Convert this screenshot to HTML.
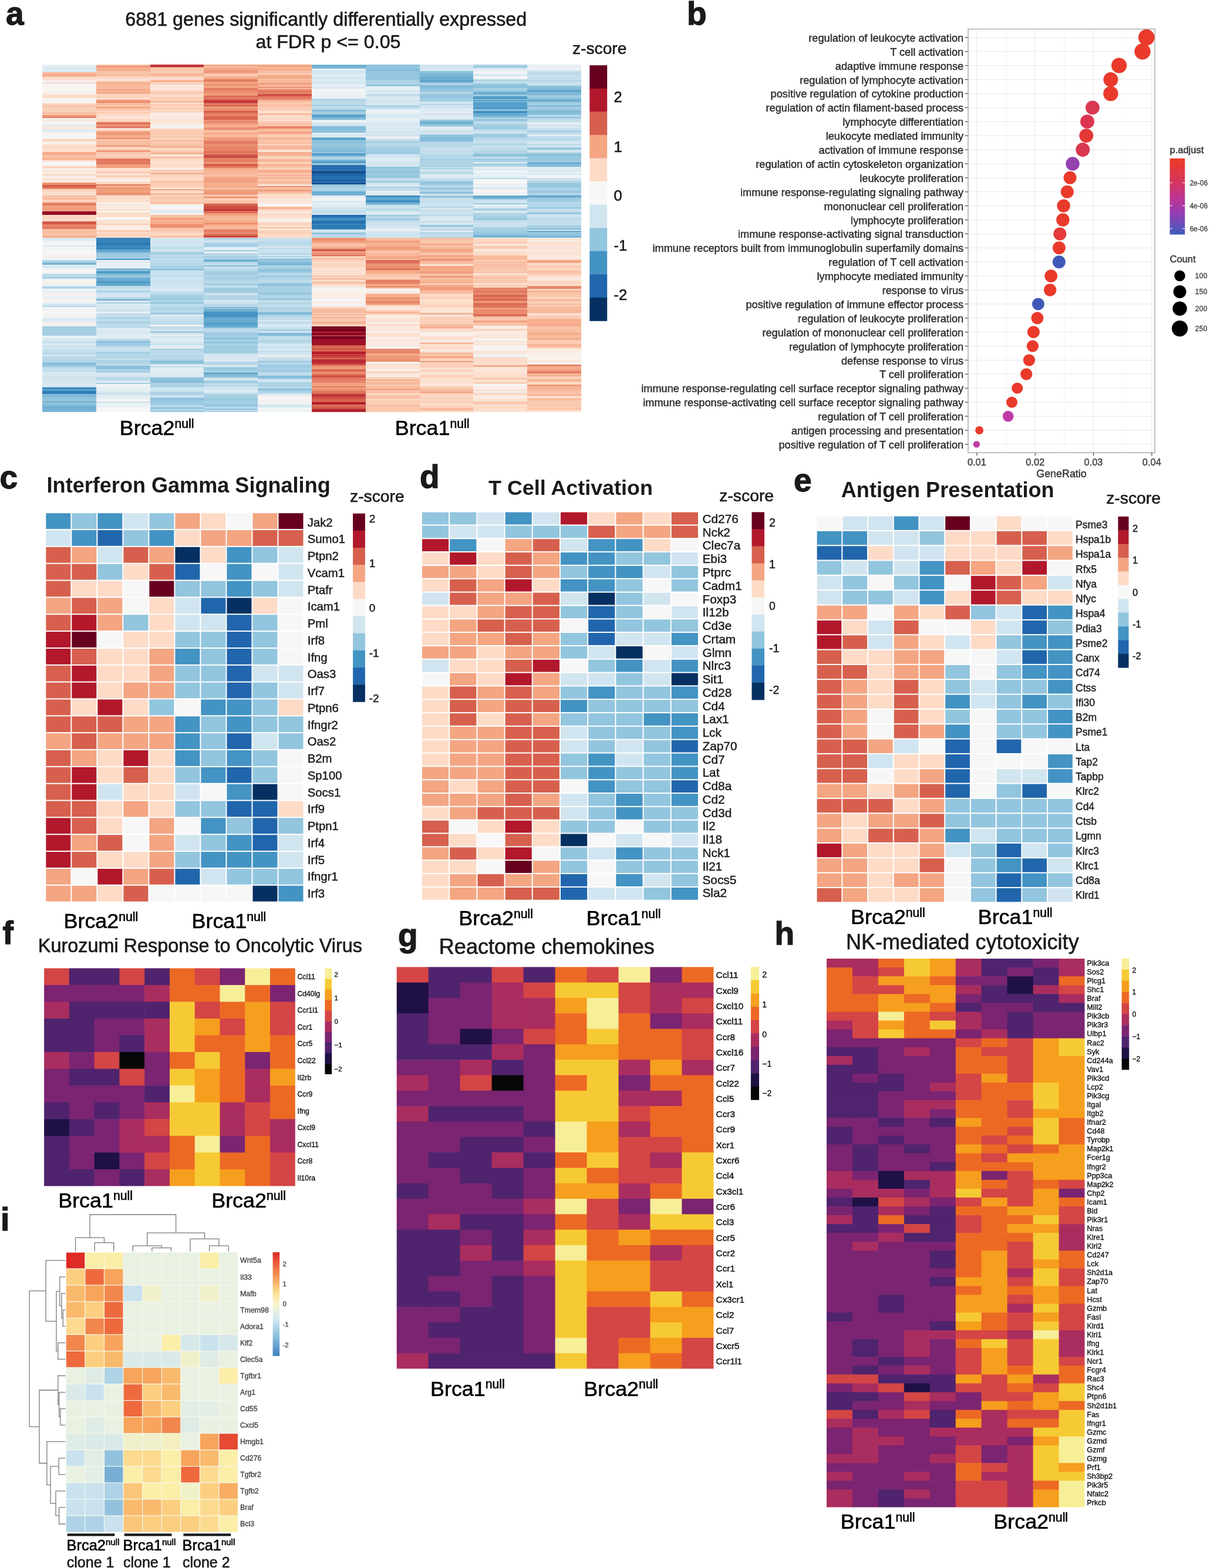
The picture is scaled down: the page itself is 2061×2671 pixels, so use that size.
<!DOCTYPE html>
<html><head><meta charset="utf-8"><title>Figure</title><style>html,body{margin:0;padding:0;background:#fff;width:2061px;height:2671px;overflow:hidden;}svg{display:block;}text{font-family:"Liberation Sans",Arial,sans-serif;}</style></head><body>
<svg width="2061" height="2671" viewBox="0 0 2061 2671">
<rect width="2061" height="2671" fill="#fff"/>
<g shape-rendering="crispEdges">
<rect x="72.00" y="109.50" width="92.10" height="2.80" fill="#ECF2F5"/>
<rect x="72.00" y="112.00" width="92.10" height="1.80" fill="#DBEAF2"/>
<rect x="72.00" y="113.50" width="92.10" height="1.80" fill="#E2EDF3"/>
<rect x="72.00" y="115.00" width="92.10" height="3.80" fill="#DAE9F2"/>
<rect x="72.00" y="118.50" width="92.10" height="1.80" fill="#E7EFF4"/>
<rect x="72.00" y="120.00" width="92.10" height="1.80" fill="#DBEAF2"/>
<rect x="72.00" y="121.50" width="92.10" height="1.66" fill="#D7E8F1"/>
<rect x="72.00" y="122.86" width="92.10" height="3.80" fill="#F7BA9D"/>
<rect x="72.00" y="126.36" width="92.10" height="3.30" fill="#F5AA89"/>
<rect x="72.00" y="129.36" width="92.10" height="2.30" fill="#F7B89A"/>
<rect x="72.00" y="131.36" width="92.10" height="4.30" fill="#FCDDCB"/>
<rect x="72.00" y="135.36" width="92.10" height="1.53" fill="#FCDECC"/>
<rect x="72.00" y="136.59" width="92.10" height="3.80" fill="#F0F4F6"/>
<rect x="72.00" y="140.09" width="92.10" height="1.80" fill="#FCD5BF"/>
<rect x="72.00" y="141.59" width="92.10" height="0.79" fill="#FBE3D4"/>
<rect x="72.00" y="142.08" width="92.10" height="2.30" fill="#EBF2F5"/>
<rect x="72.00" y="144.08" width="92.10" height="3.80" fill="#F8F3F1"/>
<rect x="72.00" y="147.58" width="92.10" height="5.30" fill="#F8F4F2"/>
<rect x="72.00" y="152.58" width="92.10" height="4.30" fill="#F8F4F2"/>
<rect x="72.00" y="156.58" width="92.10" height="3.66" fill="#F9EEE8"/>
<rect x="72.00" y="159.94" width="92.10" height="2.30" fill="#FAEAE1"/>
<rect x="72.00" y="161.94" width="92.10" height="1.80" fill="#FCD7C2"/>
<rect x="72.00" y="163.44" width="92.10" height="3.67" fill="#FDDCC8"/>
<rect x="72.00" y="166.81" width="92.10" height="4.30" fill="#F8F1ED"/>
<rect x="72.00" y="170.81" width="92.10" height="3.80" fill="#F2F5F6"/>
<rect x="72.00" y="174.31" width="92.10" height="2.41" fill="#F9F0EB"/>
<rect x="72.00" y="176.42" width="92.10" height="3.30" fill="#FCD5BF"/>
<rect x="72.00" y="179.42" width="92.10" height="2.30" fill="#F9C1A6"/>
<rect x="72.00" y="181.42" width="92.10" height="4.30" fill="#FACBB2"/>
<rect x="72.00" y="185.42" width="92.10" height="2.29" fill="#FCD4BD"/>
<rect x="72.00" y="187.41" width="92.10" height="3.80" fill="#FBD1BB"/>
<rect x="72.00" y="190.91" width="92.10" height="3.30" fill="#F9C0A5"/>
<rect x="72.00" y="193.91" width="92.10" height="2.04" fill="#FAC6AC"/>
<rect x="72.00" y="195.65" width="92.10" height="3.80" fill="#EC9374"/>
<rect x="72.00" y="199.15" width="92.10" height="2.29" fill="#E58368"/>
<rect x="72.00" y="201.14" width="92.10" height="3.30" fill="#F9EFE9"/>
<rect x="72.00" y="204.14" width="92.10" height="3.30" fill="#FAE9DE"/>
<rect x="72.00" y="207.14" width="92.10" height="5.30" fill="#F8F3F0"/>
<rect x="72.00" y="212.14" width="92.10" height="3.04" fill="#E0ECF3"/>
<rect x="72.00" y="214.88" width="92.10" height="2.80" fill="#FAEAE1"/>
<rect x="72.00" y="217.38" width="92.10" height="2.80" fill="#FBE6DA"/>
<rect x="72.00" y="219.88" width="92.10" height="0.79" fill="#F9EEE7"/>
<rect x="72.00" y="220.37" width="92.10" height="5.30" fill="#E0ECF3"/>
<rect x="72.00" y="225.37" width="92.10" height="2.80" fill="#F8F1ED"/>
<rect x="72.00" y="227.87" width="92.10" height="3.30" fill="#F6F7F7"/>
<rect x="72.00" y="230.87" width="92.10" height="4.30" fill="#F3F5F6"/>
<rect x="72.00" y="234.87" width="92.10" height="2.28" fill="#F2F4F6"/>
<rect x="72.00" y="236.86" width="92.10" height="4.30" fill="#FBD1BA"/>
<rect x="72.00" y="240.86" width="92.10" height="5.30" fill="#F9F0EB"/>
<rect x="72.00" y="245.86" width="92.10" height="4.30" fill="#FDDCCA"/>
<rect x="72.00" y="249.86" width="92.10" height="2.80" fill="#FCD3BD"/>
<rect x="72.00" y="252.36" width="92.10" height="2.30" fill="#FCE0D0"/>
<rect x="72.00" y="254.36" width="92.10" height="3.80" fill="#FCDFCE"/>
<rect x="72.00" y="257.86" width="92.10" height="1.28" fill="#FCDFCE"/>
<rect x="72.00" y="258.83" width="92.10" height="2.80" fill="#F5AC8A"/>
<rect x="72.00" y="261.33" width="92.10" height="3.30" fill="#F5AB8A"/>
<rect x="72.00" y="264.33" width="92.10" height="5.30" fill="#F9C0A5"/>
<rect x="72.00" y="269.33" width="92.10" height="3.30" fill="#F7B596"/>
<rect x="72.00" y="272.33" width="92.10" height="0.54" fill="#F7B799"/>
<rect x="72.00" y="272.57" width="92.10" height="3.30" fill="#FBE5D9"/>
<rect x="72.00" y="275.57" width="92.10" height="5.30" fill="#F5F6F7"/>
<rect x="72.00" y="280.57" width="92.10" height="2.80" fill="#F9EFE9"/>
<rect x="72.00" y="283.07" width="92.10" height="4.30" fill="#FCD6C1"/>
<rect x="72.00" y="287.07" width="92.10" height="2.30" fill="#F2F5F6"/>
<rect x="72.00" y="289.07" width="92.10" height="1.80" fill="#FAE7DC"/>
<rect x="72.00" y="290.57" width="92.10" height="2.30" fill="#FBE4D7"/>
<rect x="72.00" y="292.57" width="92.10" height="1.80" fill="#F7F7F7"/>
<rect x="72.00" y="294.07" width="92.10" height="2.80" fill="#FAE9DF"/>
<rect x="72.00" y="296.57" width="92.10" height="1.02" fill="#FCE1D1"/>
<rect x="72.00" y="297.29" width="92.10" height="2.80" fill="#FDDBC8"/>
<rect x="72.00" y="299.79" width="92.10" height="3.80" fill="#F8F1ED"/>
<rect x="72.00" y="303.29" width="92.10" height="4.30" fill="#FBE5D8"/>
<rect x="72.00" y="307.29" width="92.10" height="4.04" fill="#FAE9DF"/>
<rect x="72.00" y="311.02" width="92.10" height="4.30" fill="#EB9172"/>
<rect x="72.00" y="315.02" width="92.10" height="4.30" fill="#D55E4C"/>
<rect x="72.00" y="319.02" width="92.10" height="3.29" fill="#E37D63"/>
<rect x="72.00" y="322.01" width="92.10" height="5.30" fill="#FCD6C1"/>
<rect x="72.00" y="327.01" width="92.10" height="3.30" fill="#FCDECD"/>
<rect x="72.00" y="330.01" width="92.10" height="3.30" fill="#FDDCC8"/>
<rect x="72.00" y="333.01" width="92.10" height="3.03" fill="#F8BFA3"/>
<rect x="72.00" y="335.75" width="92.10" height="1.80" fill="#FCD4BE"/>
<rect x="72.00" y="337.25" width="92.10" height="3.30" fill="#F7B698"/>
<rect x="72.00" y="340.25" width="92.10" height="2.30" fill="#FCD4BF"/>
<rect x="72.00" y="342.25" width="92.10" height="1.80" fill="#FCD8C3"/>
<rect x="72.00" y="343.75" width="92.10" height="0.54" fill="#F9ECE5"/>
<rect x="72.00" y="343.99" width="92.10" height="2.80" fill="#F6B394"/>
<rect x="72.00" y="346.49" width="92.10" height="3.80" fill="#E27C62"/>
<rect x="72.00" y="349.99" width="92.10" height="3.80" fill="#F3A381"/>
<rect x="72.00" y="353.49" width="92.10" height="3.30" fill="#F2A07E"/>
<rect x="72.00" y="356.49" width="92.10" height="2.80" fill="#F09C7B"/>
<rect x="72.00" y="358.99" width="92.10" height="1.78" fill="#F6B090"/>
<rect x="72.00" y="360.47" width="92.10" height="5.30" fill="#950F26"/>
<rect x="72.00" y="365.47" width="92.10" height="0.79" fill="#820923"/>
<rect x="72.00" y="365.96" width="92.10" height="3.30" fill="#FDDCC9"/>
<rect x="72.00" y="368.96" width="92.10" height="2.80" fill="#FCD5BF"/>
<rect x="72.00" y="371.46" width="92.10" height="2.80" fill="#FCD8C3"/>
<rect x="72.00" y="373.96" width="92.10" height="3.29" fill="#FDDDCB"/>
<rect x="72.00" y="376.95" width="92.10" height="2.30" fill="#D7624E"/>
<rect x="72.00" y="378.95" width="92.10" height="3.80" fill="#D05447"/>
<rect x="72.00" y="382.45" width="92.10" height="3.80" fill="#E6856A"/>
<rect x="72.00" y="385.95" width="92.10" height="2.80" fill="#E27C62"/>
<rect x="72.00" y="388.45" width="92.10" height="1.80" fill="#E0765E"/>
<rect x="72.00" y="389.95" width="92.10" height="1.04" fill="#F9C5AB"/>
<rect x="72.00" y="390.69" width="92.10" height="5.30" fill="#F8BEA2"/>
<rect x="72.00" y="395.69" width="92.10" height="1.80" fill="#F7BA9D"/>
<rect x="72.00" y="397.19" width="92.10" height="2.80" fill="#F9C3A8"/>
<rect x="72.00" y="399.69" width="92.10" height="2.30" fill="#F8BDA1"/>
<rect x="72.00" y="401.69" width="92.10" height="3.04" fill="#F5AB89"/>
<rect x="72.00" y="404.60" width="92.10" height="5.30" fill="#DBEAF2"/>
<rect x="72.00" y="409.60" width="92.10" height="3.80" fill="#EDF2F5"/>
<rect x="72.00" y="413.10" width="92.10" height="5.30" fill="#F3F5F6"/>
<rect x="72.00" y="418.10" width="92.10" height="2.30" fill="#D8E8F1"/>
<rect x="72.00" y="420.10" width="92.10" height="5.30" fill="#EEF3F5"/>
<rect x="72.00" y="425.10" width="92.10" height="5.30" fill="#F8F5F3"/>
<rect x="72.00" y="430.10" width="92.10" height="2.30" fill="#F2F5F6"/>
<rect x="72.00" y="432.10" width="92.10" height="4.30" fill="#F8F4F1"/>
<rect x="72.00" y="436.10" width="92.10" height="1.80" fill="#F9EDE6"/>
<rect x="72.00" y="437.60" width="92.10" height="3.30" fill="#ECF2F5"/>
<rect x="72.00" y="440.60" width="92.10" height="2.58" fill="#F3F5F6"/>
<rect x="72.00" y="442.88" width="92.10" height="2.80" fill="#B3D6E7"/>
<rect x="72.00" y="445.38" width="92.10" height="3.30" fill="#A4CEE3"/>
<rect x="72.00" y="448.38" width="92.10" height="2.80" fill="#71B0D3"/>
<rect x="72.00" y="450.88" width="92.10" height="0.54" fill="#A0CCE2"/>
<rect x="72.00" y="451.12" width="92.10" height="3.30" fill="#E0ECF3"/>
<rect x="72.00" y="454.12" width="92.10" height="2.30" fill="#D5E7F1"/>
<rect x="72.00" y="456.12" width="92.10" height="3.80" fill="#EAF1F5"/>
<rect x="72.00" y="459.62" width="92.10" height="5.30" fill="#F7F5F4"/>
<rect x="72.00" y="464.62" width="92.10" height="2.80" fill="#DDEBF2"/>
<rect x="72.00" y="467.12" width="92.10" height="0.78" fill="#CCE2EF"/>
<rect x="72.00" y="467.60" width="92.10" height="1.80" fill="#9DCBE1"/>
<rect x="72.00" y="469.10" width="92.10" height="3.30" fill="#C4DEEC"/>
<rect x="72.00" y="472.10" width="92.10" height="2.67" fill="#9AC9E0"/>
<rect x="72.00" y="474.47" width="92.10" height="2.30" fill="#DCEAF2"/>
<rect x="72.00" y="476.47" width="92.10" height="1.80" fill="#F5F6F7"/>
<rect x="72.00" y="477.97" width="92.10" height="5.30" fill="#F9F0EB"/>
<rect x="72.00" y="482.97" width="92.10" height="3.30" fill="#E6EFF4"/>
<rect x="72.00" y="485.97" width="92.10" height="2.54" fill="#EDF2F5"/>
<rect x="72.00" y="488.21" width="92.10" height="2.30" fill="#A9D1E5"/>
<rect x="72.00" y="490.21" width="92.10" height="2.30" fill="#B7D8E9"/>
<rect x="72.00" y="492.21" width="92.10" height="0.42" fill="#B2D5E7"/>
<rect x="72.00" y="492.33" width="92.10" height="3.30" fill="#F0F4F6"/>
<rect x="72.00" y="495.33" width="92.10" height="5.30" fill="#E6EFF4"/>
<rect x="72.00" y="500.33" width="92.10" height="3.80" fill="#F8F0EC"/>
<rect x="72.00" y="503.83" width="92.10" height="2.80" fill="#EBF1F5"/>
<rect x="72.00" y="506.33" width="92.10" height="2.30" fill="#E7EFF4"/>
<rect x="72.00" y="508.33" width="92.10" height="1.80" fill="#EBF1F5"/>
<rect x="72.00" y="509.83" width="92.10" height="5.30" fill="#F8F1EC"/>
<rect x="72.00" y="514.83" width="92.10" height="2.52" fill="#EAF1F5"/>
<rect x="72.00" y="517.05" width="92.10" height="4.30" fill="#D1E5F0"/>
<rect x="72.00" y="521.05" width="92.10" height="1.79" fill="#B4D6E8"/>
<rect x="72.00" y="522.54" width="92.10" height="2.30" fill="#F5F6F7"/>
<rect x="72.00" y="524.54" width="92.10" height="2.80" fill="#E9F1F5"/>
<rect x="72.00" y="527.04" width="92.10" height="2.30" fill="#EFF3F5"/>
<rect x="72.00" y="529.04" width="92.10" height="3.80" fill="#F8F4F2"/>
<rect x="72.00" y="532.54" width="92.10" height="2.80" fill="#F1F4F6"/>
<rect x="72.00" y="535.04" width="92.10" height="2.30" fill="#F8F1ED"/>
<rect x="72.00" y="537.04" width="92.10" height="1.80" fill="#F8F4F1"/>
<rect x="72.00" y="538.54" width="92.10" height="3.30" fill="#EBF1F5"/>
<rect x="72.00" y="541.54" width="92.10" height="4.30" fill="#D9E9F1"/>
<rect x="72.00" y="545.54" width="92.10" height="3.30" fill="#E3EEF3"/>
<rect x="72.00" y="548.54" width="92.10" height="5.30" fill="#F8F1ED"/>
<rect x="72.00" y="553.54" width="92.10" height="2.26" fill="#EAF1F5"/>
<rect x="72.00" y="555.51" width="92.10" height="2.30" fill="#A1CCE2"/>
<rect x="72.00" y="557.51" width="92.10" height="3.30" fill="#A4CEE3"/>
<rect x="72.00" y="560.51" width="92.10" height="5.30" fill="#A6CFE4"/>
<rect x="72.00" y="565.51" width="92.10" height="5.30" fill="#A7CFE4"/>
<rect x="72.00" y="570.51" width="92.10" height="1.78" fill="#B0D4E7"/>
<rect x="72.00" y="571.99" width="92.10" height="4.30" fill="#EAF1F5"/>
<rect x="72.00" y="575.99" width="92.10" height="1.80" fill="#D2E6F0"/>
<rect x="72.00" y="577.49" width="92.10" height="3.80" fill="#D9E9F1"/>
<rect x="72.00" y="580.99" width="92.10" height="3.80" fill="#C2DDEC"/>
<rect x="72.00" y="584.49" width="92.10" height="1.80" fill="#D5E7F1"/>
<rect x="72.00" y="585.99" width="92.10" height="2.78" fill="#E5EEF4"/>
<rect x="72.00" y="588.47" width="92.10" height="1.80" fill="#C2DDEC"/>
<rect x="72.00" y="589.97" width="92.10" height="5.30" fill="#D0E5F0"/>
<rect x="72.00" y="594.97" width="92.10" height="1.80" fill="#CAE2EE"/>
<rect x="72.00" y="596.47" width="92.10" height="5.30" fill="#C3DEEC"/>
<rect x="72.00" y="601.47" width="92.10" height="2.80" fill="#B8D8E9"/>
<rect x="72.00" y="603.97" width="92.10" height="3.80" fill="#D6E8F1"/>
<rect x="72.00" y="607.47" width="92.10" height="2.30" fill="#B8D8E9"/>
<rect x="72.00" y="609.47" width="92.10" height="4.02" fill="#B9D9E9"/>
<rect x="72.00" y="613.19" width="92.10" height="5.30" fill="#B1D5E7"/>
<rect x="72.00" y="618.19" width="92.10" height="3.30" fill="#84BCD9"/>
<rect x="72.00" y="621.19" width="92.10" height="3.80" fill="#97C7DF"/>
<rect x="72.00" y="624.69" width="92.10" height="2.54" fill="#BFDCEB"/>
<rect x="72.00" y="626.93" width="92.10" height="2.30" fill="#C3DEEC"/>
<rect x="72.00" y="628.93" width="92.10" height="5.30" fill="#C3DEEC"/>
<rect x="72.00" y="633.93" width="92.10" height="3.30" fill="#D9E9F2"/>
<rect x="72.00" y="636.93" width="92.10" height="1.29" fill="#CBE2EE"/>
<rect x="72.00" y="637.92" width="92.10" height="3.30" fill="#D8E8F1"/>
<rect x="72.00" y="640.92" width="92.10" height="1.80" fill="#C4DEEC"/>
<rect x="72.00" y="642.42" width="92.10" height="1.80" fill="#D1E5F0"/>
<rect x="72.00" y="643.92" width="92.10" height="5.30" fill="#D2E6F0"/>
<rect x="72.00" y="648.92" width="92.10" height="4.30" fill="#D7E8F1"/>
<rect x="72.00" y="652.92" width="92.10" height="2.80" fill="#D7E8F1"/>
<rect x="72.00" y="655.42" width="92.10" height="3.30" fill="#DBEAF2"/>
<rect x="72.00" y="658.42" width="92.10" height="1.78" fill="#BFDCEB"/>
<rect x="72.00" y="659.89" width="92.10" height="3.30" fill="#3784BB"/>
<rect x="72.00" y="662.89" width="92.10" height="2.30" fill="#67AACF"/>
<rect x="72.00" y="664.89" width="92.10" height="2.30" fill="#3B89BE"/>
<rect x="72.00" y="666.89" width="92.10" height="4.29" fill="#307AB6"/>
<rect x="72.00" y="670.88" width="92.10" height="2.80" fill="#85BDD9"/>
<rect x="72.00" y="673.38" width="92.10" height="3.30" fill="#7FB9D7"/>
<rect x="72.00" y="676.38" width="92.10" height="4.30" fill="#8DC2DC"/>
<rect x="72.00" y="680.38" width="92.10" height="2.80" fill="#98C8E0"/>
<rect x="72.00" y="682.88" width="92.10" height="3.30" fill="#7BB7D6"/>
<rect x="72.00" y="685.88" width="92.10" height="4.30" fill="#8FC3DD"/>
<rect x="72.00" y="689.88" width="92.10" height="3.80" fill="#7AB6D6"/>
<rect x="72.00" y="693.38" width="92.10" height="2.80" fill="#6DAED1"/>
<rect x="72.00" y="695.88" width="92.10" height="5.30" fill="#76B4D5"/>
<rect x="72.00" y="700.88" width="92.10" height="0.92" fill="#84BCD9"/>
<rect x="163.80" y="109.50" width="92.10" height="2.80" fill="#F8BCA0"/>
<rect x="163.80" y="112.00" width="92.10" height="2.80" fill="#EF9979"/>
<rect x="163.80" y="114.50" width="92.10" height="2.80" fill="#F6B394"/>
<rect x="163.80" y="117.00" width="92.10" height="4.78" fill="#F5AE8D"/>
<rect x="163.80" y="121.48" width="92.10" height="4.30" fill="#F9C3A8"/>
<rect x="163.80" y="125.48" width="92.10" height="5.30" fill="#F8BFA3"/>
<rect x="163.80" y="130.48" width="92.10" height="3.80" fill="#FCD7C2"/>
<rect x="163.80" y="133.98" width="92.10" height="3.80" fill="#FBE3D5"/>
<rect x="163.80" y="137.48" width="92.10" height="1.80" fill="#FDDCC9"/>
<rect x="163.80" y="138.98" width="92.10" height="2.03" fill="#F7B698"/>
<rect x="163.80" y="140.71" width="92.10" height="3.30" fill="#F6B191"/>
<rect x="163.80" y="143.71" width="92.10" height="1.80" fill="#F8BB9E"/>
<rect x="163.80" y="145.21" width="92.10" height="1.80" fill="#F7B79A"/>
<rect x="163.80" y="146.71" width="92.10" height="5.30" fill="#F8BCA0"/>
<rect x="163.80" y="151.71" width="92.10" height="2.30" fill="#F2A17F"/>
<rect x="163.80" y="153.71" width="92.10" height="1.80" fill="#F8BC9F"/>
<rect x="163.80" y="155.21" width="92.10" height="1.80" fill="#F6B292"/>
<rect x="163.80" y="156.71" width="92.10" height="2.80" fill="#F4A885"/>
<rect x="163.80" y="159.21" width="92.10" height="1.03" fill="#F8BC9F"/>
<rect x="163.80" y="159.94" width="92.10" height="3.80" fill="#FCD2BC"/>
<rect x="163.80" y="163.44" width="92.10" height="2.30" fill="#FBD2BB"/>
<rect x="163.80" y="165.44" width="92.10" height="1.80" fill="#FCD4BE"/>
<rect x="163.80" y="166.94" width="92.10" height="2.30" fill="#FCE0D0"/>
<rect x="163.80" y="168.94" width="92.10" height="0.91" fill="#FACAB2"/>
<rect x="163.80" y="169.55" width="92.10" height="3.80" fill="#F09B7A"/>
<rect x="163.80" y="173.05" width="92.10" height="2.29" fill="#E7876B"/>
<rect x="163.80" y="175.05" width="92.10" height="4.30" fill="#F7B89A"/>
<rect x="163.80" y="179.05" width="92.10" height="2.30" fill="#FBCFB8"/>
<rect x="163.80" y="181.05" width="92.10" height="2.80" fill="#F5AA88"/>
<rect x="163.80" y="183.55" width="92.10" height="1.80" fill="#F5AD8C"/>
<rect x="163.80" y="185.05" width="92.10" height="3.80" fill="#FAC8AF"/>
<rect x="163.80" y="188.55" width="92.10" height="2.30" fill="#FDD9C4"/>
<rect x="163.80" y="190.55" width="92.10" height="3.30" fill="#FBCCB4"/>
<rect x="163.80" y="193.55" width="92.10" height="1.80" fill="#FDD9C5"/>
<rect x="163.80" y="195.05" width="92.10" height="4.30" fill="#FCDECD"/>
<rect x="163.80" y="199.05" width="92.10" height="3.30" fill="#FBE6DA"/>
<rect x="163.80" y="202.05" width="92.10" height="3.80" fill="#FCD6C0"/>
<rect x="163.80" y="205.55" width="92.10" height="1.39" fill="#FDDDCA"/>
<rect x="163.80" y="206.64" width="92.10" height="2.80" fill="#F5AC8B"/>
<rect x="163.80" y="209.14" width="92.10" height="2.30" fill="#D55E4C"/>
<rect x="163.80" y="211.14" width="92.10" height="4.30" fill="#EB9072"/>
<rect x="163.80" y="215.14" width="92.10" height="2.30" fill="#E58267"/>
<rect x="163.80" y="217.14" width="92.10" height="0.79" fill="#D86450"/>
<rect x="163.80" y="217.63" width="92.10" height="5.30" fill="#FCDFCE"/>
<rect x="163.80" y="222.63" width="92.10" height="0.79" fill="#FCDFCE"/>
<rect x="163.80" y="223.12" width="92.10" height="2.80" fill="#F3A381"/>
<rect x="163.80" y="225.62" width="92.10" height="4.30" fill="#EF9979"/>
<rect x="163.80" y="229.62" width="92.10" height="5.30" fill="#F6AE8E"/>
<rect x="163.80" y="234.62" width="92.10" height="2.54" fill="#E8896D"/>
<rect x="163.80" y="236.86" width="92.10" height="3.80" fill="#FACAB1"/>
<rect x="163.80" y="240.36" width="92.10" height="3.30" fill="#F8BC9F"/>
<rect x="163.80" y="243.36" width="92.10" height="2.30" fill="#F8C0A4"/>
<rect x="163.80" y="245.36" width="92.10" height="2.80" fill="#F8BA9D"/>
<rect x="163.80" y="247.86" width="92.10" height="2.80" fill="#EE9878"/>
<rect x="163.80" y="250.36" width="92.10" height="3.80" fill="#FCD7C1"/>
<rect x="163.80" y="253.86" width="92.10" height="2.80" fill="#FAC9B0"/>
<rect x="163.80" y="256.36" width="92.10" height="2.80" fill="#EF9878"/>
<rect x="163.80" y="258.86" width="92.10" height="2.30" fill="#FACBB3"/>
<rect x="163.80" y="260.86" width="92.10" height="3.30" fill="#FACAB2"/>
<rect x="163.80" y="263.86" width="92.10" height="1.80" fill="#FCDECC"/>
<rect x="163.80" y="265.36" width="92.10" height="2.30" fill="#FAC7AE"/>
<rect x="163.80" y="267.36" width="92.10" height="2.30" fill="#FBCDB5"/>
<rect x="163.80" y="269.36" width="92.10" height="0.76" fill="#FACBB3"/>
<rect x="163.80" y="269.82" width="92.10" height="5.30" fill="#E17961"/>
<rect x="163.80" y="274.82" width="92.10" height="1.80" fill="#E48166"/>
<rect x="163.80" y="276.32" width="92.10" height="3.30" fill="#E17A61"/>
<rect x="163.80" y="279.32" width="92.10" height="2.30" fill="#E98B6E"/>
<rect x="163.80" y="281.32" width="92.10" height="1.80" fill="#F4A683"/>
<rect x="163.80" y="282.82" width="92.10" height="3.78" fill="#F09C7B"/>
<rect x="163.80" y="286.30" width="92.10" height="2.30" fill="#FDDCC8"/>
<rect x="163.80" y="288.30" width="92.10" height="3.80" fill="#FCE0CF"/>
<rect x="163.80" y="291.80" width="92.10" height="3.30" fill="#FAC9B1"/>
<rect x="163.80" y="294.80" width="92.10" height="2.79" fill="#FBE2D4"/>
<rect x="163.80" y="297.29" width="92.10" height="2.30" fill="#FCE1D2"/>
<rect x="163.80" y="299.29" width="92.10" height="2.30" fill="#FAC9B0"/>
<rect x="163.80" y="301.29" width="92.10" height="1.80" fill="#FCD5BF"/>
<rect x="163.80" y="302.79" width="92.10" height="3.80" fill="#F9ECE4"/>
<rect x="163.80" y="306.29" width="92.10" height="4.30" fill="#F9ECE4"/>
<rect x="163.80" y="310.29" width="92.10" height="3.78" fill="#FCD6C0"/>
<rect x="163.80" y="313.77" width="92.10" height="2.30" fill="#E27B62"/>
<rect x="163.80" y="315.77" width="92.10" height="3.80" fill="#F6AF8E"/>
<rect x="163.80" y="319.27" width="92.10" height="5.30" fill="#EF9B7A"/>
<rect x="163.80" y="324.27" width="92.10" height="4.30" fill="#F2A07E"/>
<rect x="163.80" y="328.27" width="92.10" height="3.80" fill="#EB9173"/>
<rect x="163.80" y="331.77" width="92.10" height="1.53" fill="#F7BA9D"/>
<rect x="163.80" y="333.00" width="92.10" height="4.30" fill="#FDDBC8"/>
<rect x="163.80" y="337.00" width="92.10" height="2.30" fill="#FCD8C3"/>
<rect x="163.80" y="339.00" width="92.10" height="4.30" fill="#FCDECD"/>
<rect x="163.80" y="343.00" width="92.10" height="1.29" fill="#FCD6C0"/>
<rect x="163.80" y="343.99" width="92.10" height="3.30" fill="#F8F1ED"/>
<rect x="163.80" y="346.99" width="92.10" height="4.30" fill="#FAE9E0"/>
<rect x="163.80" y="350.99" width="92.10" height="3.80" fill="#FAE9DF"/>
<rect x="163.80" y="354.49" width="92.10" height="1.80" fill="#F9EFE9"/>
<rect x="163.80" y="355.99" width="92.10" height="3.30" fill="#FCE0CF"/>
<rect x="163.80" y="358.99" width="92.10" height="3.80" fill="#F8F4F1"/>
<rect x="163.80" y="362.49" width="92.10" height="3.80" fill="#FDDBC6"/>
<rect x="163.80" y="365.99" width="92.10" height="4.30" fill="#FCDECC"/>
<rect x="163.80" y="369.99" width="92.10" height="4.30" fill="#F7F6F5"/>
<rect x="163.80" y="373.99" width="92.10" height="5.30" fill="#FCE2D2"/>
<rect x="163.80" y="378.99" width="92.10" height="2.80" fill="#FBE3D5"/>
<rect x="163.80" y="381.49" width="92.10" height="2.30" fill="#FBCFB7"/>
<rect x="163.80" y="383.49" width="92.10" height="4.30" fill="#FAEBE2"/>
<rect x="163.80" y="387.49" width="92.10" height="5.30" fill="#F9EDE6"/>
<rect x="163.80" y="392.49" width="92.10" height="3.30" fill="#FACAB1"/>
<rect x="163.80" y="395.49" width="92.10" height="2.80" fill="#FDDBC7"/>
<rect x="163.80" y="397.99" width="92.10" height="5.30" fill="#FCD4BF"/>
<rect x="163.80" y="402.99" width="92.10" height="1.73" fill="#FCE1D1"/>
<rect x="163.80" y="404.60" width="92.10" height="1.80" fill="#347FB9"/>
<rect x="163.80" y="406.10" width="92.10" height="4.30" fill="#3682BA"/>
<rect x="163.80" y="410.10" width="92.10" height="4.30" fill="#3783BB"/>
<rect x="163.80" y="414.10" width="92.10" height="2.30" fill="#2D76B4"/>
<rect x="163.80" y="416.10" width="92.10" height="1.80" fill="#2F79B6"/>
<rect x="163.80" y="417.60" width="92.10" height="4.30" fill="#3E8CC0"/>
<rect x="163.80" y="421.60" width="92.10" height="1.80" fill="#3682BA"/>
<rect x="163.80" y="423.10" width="92.10" height="0.85" fill="#2C75B4"/>
<rect x="163.80" y="423.65" width="92.10" height="4.30" fill="#59A1CB"/>
<rect x="163.80" y="427.65" width="92.10" height="3.30" fill="#74B2D4"/>
<rect x="163.80" y="430.65" width="92.10" height="5.30" fill="#9ECBE1"/>
<rect x="163.80" y="435.65" width="92.10" height="2.30" fill="#9BCAE1"/>
<rect x="163.80" y="437.65" width="92.10" height="2.80" fill="#AED3E6"/>
<rect x="163.80" y="440.15" width="92.10" height="1.80" fill="#6EAFD2"/>
<rect x="163.80" y="441.65" width="92.10" height="1.53" fill="#4796C4"/>
<rect x="163.80" y="442.88" width="92.10" height="3.30" fill="#EFF3F6"/>
<rect x="163.80" y="445.88" width="92.10" height="2.80" fill="#D3E6F0"/>
<rect x="163.80" y="448.38" width="92.10" height="2.30" fill="#F8F3F1"/>
<rect x="163.80" y="450.38" width="92.10" height="1.80" fill="#E3EEF3"/>
<rect x="163.80" y="451.88" width="92.10" height="3.80" fill="#E6EFF4"/>
<rect x="163.80" y="455.38" width="92.10" height="1.54" fill="#F0F4F6"/>
<rect x="163.80" y="456.62" width="92.10" height="5.30" fill="#84BCD9"/>
<rect x="163.80" y="461.62" width="92.10" height="4.30" fill="#509BC7"/>
<rect x="163.80" y="465.62" width="92.10" height="4.30" fill="#85BDD9"/>
<rect x="163.80" y="469.62" width="92.10" height="1.04" fill="#8FC3DD"/>
<rect x="163.80" y="470.35" width="92.10" height="3.30" fill="#9DCAE1"/>
<rect x="163.80" y="473.35" width="92.10" height="3.30" fill="#69ABD0"/>
<rect x="163.80" y="476.35" width="92.10" height="3.30" fill="#67AACF"/>
<rect x="163.80" y="479.35" width="92.10" height="4.30" fill="#519CC8"/>
<rect x="163.80" y="483.35" width="92.10" height="2.30" fill="#6DAED1"/>
<rect x="163.80" y="485.35" width="92.10" height="1.78" fill="#59A1CB"/>
<rect x="163.80" y="486.83" width="92.10" height="5.30" fill="#C2DDEC"/>
<rect x="163.80" y="491.83" width="92.10" height="2.80" fill="#D4E6F1"/>
<rect x="163.80" y="494.33" width="92.10" height="5.30" fill="#B3D6E7"/>
<rect x="163.80" y="499.33" width="92.10" height="3.30" fill="#D4E6F1"/>
<rect x="163.80" y="502.33" width="92.10" height="4.30" fill="#D3E6F0"/>
<rect x="163.80" y="506.33" width="92.10" height="1.80" fill="#C1DDEB"/>
<rect x="163.80" y="507.83" width="92.10" height="2.80" fill="#A8D0E4"/>
<rect x="163.80" y="510.33" width="92.10" height="1.80" fill="#6DAED1"/>
<rect x="163.80" y="511.83" width="92.10" height="3.80" fill="#DCEAF2"/>
<rect x="163.80" y="515.33" width="92.10" height="1.80" fill="#A4CEE3"/>
<rect x="163.80" y="516.83" width="92.10" height="0.52" fill="#C4DEEC"/>
<rect x="163.80" y="517.05" width="92.10" height="5.30" fill="#DBEAF2"/>
<rect x="163.80" y="522.05" width="92.10" height="5.30" fill="#D7E8F1"/>
<rect x="163.80" y="527.05" width="92.10" height="4.30" fill="#CDE3EF"/>
<rect x="163.80" y="531.05" width="92.10" height="2.30" fill="#F3F5F6"/>
<rect x="163.80" y="533.05" width="92.10" height="0.78" fill="#C7E0ED"/>
<rect x="163.80" y="533.53" width="92.10" height="5.30" fill="#C4DEEC"/>
<rect x="163.80" y="538.53" width="92.10" height="2.80" fill="#C2DDEC"/>
<rect x="163.80" y="541.03" width="92.10" height="1.80" fill="#A7D0E4"/>
<rect x="163.80" y="542.53" width="92.10" height="5.30" fill="#BEDCEB"/>
<rect x="163.80" y="547.53" width="92.10" height="3.80" fill="#A7D0E4"/>
<rect x="163.80" y="551.03" width="92.10" height="3.80" fill="#BFDCEB"/>
<rect x="163.80" y="554.53" width="92.10" height="1.28" fill="#C5DFED"/>
<rect x="163.80" y="555.51" width="92.10" height="3.30" fill="#BCDAEA"/>
<rect x="163.80" y="558.51" width="92.10" height="4.30" fill="#E0ECF3"/>
<rect x="163.80" y="562.51" width="92.10" height="5.30" fill="#D8E8F1"/>
<rect x="163.80" y="567.51" width="92.10" height="3.80" fill="#DDEBF2"/>
<rect x="163.80" y="571.01" width="92.10" height="2.30" fill="#DFECF3"/>
<rect x="163.80" y="573.01" width="92.10" height="2.80" fill="#E5EEF4"/>
<rect x="163.80" y="575.51" width="92.10" height="2.28" fill="#D8E8F1"/>
<rect x="163.80" y="577.48" width="92.10" height="4.30" fill="#BADAEA"/>
<rect x="163.80" y="581.48" width="92.10" height="2.80" fill="#88BFDB"/>
<rect x="163.80" y="583.98" width="92.10" height="3.30" fill="#A0CCE2"/>
<rect x="163.80" y="586.98" width="92.10" height="1.79" fill="#92C5DE"/>
<rect x="163.80" y="588.47" width="92.10" height="4.30" fill="#B3D6E8"/>
<rect x="163.80" y="592.47" width="92.10" height="2.30" fill="#D2E6F0"/>
<rect x="163.80" y="594.47" width="92.10" height="5.30" fill="#C8E1EE"/>
<rect x="163.80" y="599.47" width="92.10" height="3.30" fill="#A7CFE4"/>
<rect x="163.80" y="602.47" width="92.10" height="2.80" fill="#B6D7E8"/>
<rect x="163.80" y="604.97" width="92.10" height="5.30" fill="#B2D5E7"/>
<rect x="163.80" y="609.97" width="92.10" height="2.30" fill="#C1DDEB"/>
<rect x="163.80" y="611.97" width="92.10" height="1.52" fill="#CDE3EF"/>
<rect x="163.80" y="613.19" width="92.10" height="1.80" fill="#AFD4E6"/>
<rect x="163.80" y="614.69" width="92.10" height="2.80" fill="#A6CFE4"/>
<rect x="163.80" y="617.19" width="92.10" height="3.80" fill="#B5D7E8"/>
<rect x="163.80" y="620.69" width="92.10" height="2.30" fill="#C0DCEB"/>
<rect x="163.80" y="622.69" width="92.10" height="3.30" fill="#8CC1DC"/>
<rect x="163.80" y="625.69" width="92.10" height="3.30" fill="#8DC2DC"/>
<rect x="163.80" y="628.69" width="92.10" height="3.30" fill="#B2D5E7"/>
<rect x="163.80" y="631.69" width="92.10" height="2.80" fill="#A1CCE2"/>
<rect x="163.80" y="634.19" width="92.10" height="1.28" fill="#ABD2E5"/>
<rect x="163.80" y="635.17" width="92.10" height="3.80" fill="#DCEAF2"/>
<rect x="163.80" y="638.67" width="92.10" height="3.80" fill="#D4E6F0"/>
<rect x="163.80" y="642.17" width="92.10" height="3.80" fill="#BADAEA"/>
<rect x="163.80" y="645.67" width="92.10" height="2.30" fill="#B9D9E9"/>
<rect x="163.80" y="647.67" width="92.10" height="1.80" fill="#D4E6F1"/>
<rect x="163.80" y="649.17" width="92.10" height="3.30" fill="#DFECF3"/>
<rect x="163.80" y="652.17" width="92.10" height="2.53" fill="#A6CFE4"/>
<rect x="163.80" y="654.40" width="92.10" height="5.30" fill="#F0F4F6"/>
<rect x="163.80" y="659.40" width="92.10" height="5.30" fill="#E7EFF4"/>
<rect x="163.80" y="664.40" width="92.10" height="1.80" fill="#E3EEF3"/>
<rect x="163.80" y="665.90" width="92.10" height="3.30" fill="#DEEBF2"/>
<rect x="163.80" y="668.90" width="92.10" height="3.30" fill="#C6E0ED"/>
<rect x="163.80" y="671.90" width="92.10" height="3.80" fill="#E0ECF3"/>
<rect x="163.80" y="675.40" width="92.10" height="5.30" fill="#E6EFF4"/>
<rect x="163.80" y="680.40" width="92.10" height="3.80" fill="#F8F4F3"/>
<rect x="163.80" y="683.90" width="92.10" height="2.30" fill="#C5DFED"/>
<rect x="163.80" y="685.90" width="92.10" height="5.30" fill="#EBF1F5"/>
<rect x="163.80" y="690.90" width="92.10" height="3.80" fill="#EAF1F5"/>
<rect x="163.80" y="694.40" width="92.10" height="4.30" fill="#F7F6F6"/>
<rect x="163.80" y="698.40" width="92.10" height="3.40" fill="#F4F6F7"/>
<rect x="255.60" y="109.50" width="92.10" height="4.30" fill="#C03538"/>
<rect x="255.60" y="113.50" width="92.10" height="1.41" fill="#E27C62"/>
<rect x="255.60" y="114.61" width="92.10" height="3.80" fill="#FAC6AC"/>
<rect x="255.60" y="118.11" width="92.10" height="2.30" fill="#FAC7AE"/>
<rect x="255.60" y="120.11" width="92.10" height="2.30" fill="#FACBB2"/>
<rect x="255.60" y="122.11" width="92.10" height="4.30" fill="#FAC8AF"/>
<rect x="255.60" y="126.11" width="92.10" height="2.80" fill="#F5AD8D"/>
<rect x="255.60" y="128.61" width="92.10" height="3.80" fill="#FBCCB4"/>
<rect x="255.60" y="132.11" width="92.10" height="4.30" fill="#FCDFCE"/>
<rect x="255.60" y="136.11" width="92.10" height="1.80" fill="#F8BA9D"/>
<rect x="255.60" y="137.61" width="92.10" height="0.65" fill="#FCD4BE"/>
<rect x="255.60" y="137.96" width="92.10" height="2.30" fill="#F5AD8C"/>
<rect x="255.60" y="139.96" width="92.10" height="3.30" fill="#FDD9C4"/>
<rect x="255.60" y="142.96" width="92.10" height="1.80" fill="#F7B698"/>
<rect x="255.60" y="144.46" width="92.10" height="1.80" fill="#F6F7F7"/>
<rect x="255.60" y="145.96" width="92.10" height="2.80" fill="#FCE0D0"/>
<rect x="255.60" y="148.46" width="92.10" height="2.80" fill="#FBE5D8"/>
<rect x="255.60" y="150.96" width="92.10" height="3.30" fill="#FAE8DE"/>
<rect x="255.60" y="153.96" width="92.10" height="3.80" fill="#FCD5BF"/>
<rect x="255.60" y="157.46" width="92.10" height="3.30" fill="#FAC9B0"/>
<rect x="255.60" y="160.46" width="92.10" height="4.30" fill="#FDDAC6"/>
<rect x="255.60" y="164.46" width="92.10" height="2.30" fill="#FDDBC7"/>
<rect x="255.60" y="166.46" width="92.10" height="2.02" fill="#F9C3A8"/>
<rect x="255.60" y="168.18" width="92.10" height="1.80" fill="#FDDCC9"/>
<rect x="255.60" y="169.68" width="92.10" height="2.80" fill="#FAC9B0"/>
<rect x="255.60" y="172.18" width="92.10" height="2.80" fill="#F7B99B"/>
<rect x="255.60" y="174.68" width="92.10" height="2.30" fill="#FCE2D3"/>
<rect x="255.60" y="176.68" width="92.10" height="4.30" fill="#FACBB2"/>
<rect x="255.60" y="180.68" width="92.10" height="3.30" fill="#FDD8C3"/>
<rect x="255.60" y="183.68" width="92.10" height="1.80" fill="#F8BEA2"/>
<rect x="255.60" y="185.18" width="92.10" height="5.28" fill="#FCD5C0"/>
<rect x="255.60" y="190.16" width="92.10" height="1.80" fill="#FCD7C1"/>
<rect x="255.60" y="191.66" width="92.10" height="2.30" fill="#F8F1EC"/>
<rect x="255.60" y="193.66" width="92.10" height="5.30" fill="#FAEAE1"/>
<rect x="255.60" y="198.66" width="92.10" height="5.30" fill="#FAE7DB"/>
<rect x="255.60" y="203.66" width="92.10" height="2.80" fill="#FCE0D0"/>
<rect x="255.60" y="206.16" width="92.10" height="5.30" fill="#FAE7DC"/>
<rect x="255.60" y="211.16" width="92.10" height="3.80" fill="#F9EDE7"/>
<rect x="255.60" y="214.66" width="92.10" height="3.27" fill="#F3F5F6"/>
<rect x="255.60" y="217.63" width="92.10" height="3.30" fill="#FCE0D0"/>
<rect x="255.60" y="220.63" width="92.10" height="3.30" fill="#FAC7AD"/>
<rect x="255.60" y="223.63" width="92.10" height="3.80" fill="#FBCFB8"/>
<rect x="255.60" y="227.13" width="92.10" height="2.30" fill="#FAC7AD"/>
<rect x="255.60" y="229.13" width="92.10" height="1.80" fill="#FBCFB8"/>
<rect x="255.60" y="230.63" width="92.10" height="3.80" fill="#FAC8AF"/>
<rect x="255.60" y="234.13" width="92.10" height="1.80" fill="#FAC7AE"/>
<rect x="255.60" y="235.63" width="92.10" height="2.30" fill="#FBE3D5"/>
<rect x="255.60" y="237.63" width="92.10" height="2.80" fill="#F6B495"/>
<rect x="255.60" y="240.13" width="92.10" height="4.30" fill="#FAC6AD"/>
<rect x="255.60" y="244.13" width="92.10" height="2.30" fill="#FAC7AE"/>
<rect x="255.60" y="246.13" width="92.10" height="2.80" fill="#F9C2A7"/>
<rect x="255.60" y="248.63" width="92.10" height="3.80" fill="#F6B394"/>
<rect x="255.60" y="252.13" width="92.10" height="4.30" fill="#FDDBC8"/>
<rect x="255.60" y="256.13" width="92.10" height="4.30" fill="#FAC9B0"/>
<rect x="255.60" y="260.13" width="92.10" height="3.30" fill="#F6B090"/>
<rect x="255.60" y="263.13" width="92.10" height="3.30" fill="#FAEBE2"/>
<rect x="255.60" y="266.13" width="92.10" height="2.30" fill="#FAC6AD"/>
<rect x="255.60" y="268.13" width="92.10" height="1.80" fill="#FAC7AE"/>
<rect x="255.60" y="269.63" width="92.10" height="0.49" fill="#FBE5D8"/>
<rect x="255.60" y="269.82" width="92.10" height="3.80" fill="#FDDBC7"/>
<rect x="255.60" y="273.32" width="92.10" height="5.30" fill="#FBE2D3"/>
<rect x="255.60" y="278.32" width="92.10" height="5.30" fill="#FDDCC9"/>
<rect x="255.60" y="283.32" width="92.10" height="2.80" fill="#FCE0D0"/>
<rect x="255.60" y="285.82" width="92.10" height="1.80" fill="#F9EEE7"/>
<rect x="255.60" y="287.32" width="92.10" height="2.03" fill="#F9EEE7"/>
<rect x="255.60" y="289.05" width="92.10" height="3.30" fill="#FAC9B0"/>
<rect x="255.60" y="292.05" width="92.10" height="2.30" fill="#FDD9C5"/>
<rect x="255.60" y="294.05" width="92.10" height="3.30" fill="#F6B192"/>
<rect x="255.60" y="297.05" width="92.10" height="1.80" fill="#FCD5C0"/>
<rect x="255.60" y="298.55" width="92.10" height="4.30" fill="#FCD6C1"/>
<rect x="255.60" y="302.55" width="92.10" height="5.30" fill="#FDDBC7"/>
<rect x="255.60" y="307.55" width="92.10" height="3.30" fill="#F9C2A7"/>
<rect x="255.60" y="310.55" width="92.10" height="1.80" fill="#FACAB1"/>
<rect x="255.60" y="312.05" width="92.10" height="2.02" fill="#FCD2BC"/>
<rect x="255.60" y="313.77" width="92.10" height="4.30" fill="#FACBB2"/>
<rect x="255.60" y="317.77" width="92.10" height="2.80" fill="#FDD8C3"/>
<rect x="255.60" y="320.27" width="92.10" height="2.04" fill="#FAEBE2"/>
<rect x="255.60" y="322.01" width="92.10" height="1.80" fill="#F4A582"/>
<rect x="255.60" y="323.51" width="92.10" height="2.80" fill="#FBCDB5"/>
<rect x="255.60" y="326.01" width="92.10" height="2.80" fill="#FCE2D3"/>
<rect x="255.60" y="328.51" width="92.10" height="2.80" fill="#F5AD8C"/>
<rect x="255.60" y="331.01" width="92.10" height="5.30" fill="#FACBB3"/>
<rect x="255.60" y="336.01" width="92.10" height="4.30" fill="#F9C6AC"/>
<rect x="255.60" y="340.01" width="92.10" height="5.30" fill="#FBCEB7"/>
<rect x="255.60" y="345.01" width="92.10" height="2.02" fill="#F7B597"/>
<rect x="255.60" y="346.74" width="92.10" height="3.30" fill="#FAEAE1"/>
<rect x="255.60" y="349.74" width="92.10" height="5.30" fill="#F4F6F7"/>
<rect x="255.60" y="354.74" width="92.10" height="3.30" fill="#F9EFE9"/>
<rect x="255.60" y="357.74" width="92.10" height="5.30" fill="#DEEBF2"/>
<rect x="255.60" y="362.74" width="92.10" height="2.30" fill="#F8F3EF"/>
<rect x="255.60" y="364.74" width="92.10" height="1.53" fill="#F9EEE8"/>
<rect x="255.60" y="365.96" width="92.10" height="5.30" fill="#F9C0A5"/>
<rect x="255.60" y="370.96" width="92.10" height="4.30" fill="#F19F7D"/>
<rect x="255.60" y="374.96" width="92.10" height="2.80" fill="#F8BDA0"/>
<rect x="255.60" y="377.46" width="92.10" height="5.30" fill="#F5AB8A"/>
<rect x="255.60" y="382.46" width="92.10" height="5.30" fill="#EB8F71"/>
<rect x="255.60" y="387.46" width="92.10" height="0.78" fill="#ED9676"/>
<rect x="255.60" y="387.94" width="92.10" height="5.30" fill="#FAC6AC"/>
<rect x="255.60" y="392.94" width="92.10" height="2.30" fill="#FACCB4"/>
<rect x="255.60" y="394.94" width="92.10" height="1.80" fill="#F9C5AB"/>
<rect x="255.60" y="396.44" width="92.10" height="3.30" fill="#FDDBC7"/>
<rect x="255.60" y="399.44" width="92.10" height="3.30" fill="#FBD1BB"/>
<rect x="255.60" y="402.44" width="92.10" height="1.80" fill="#F8BEA2"/>
<rect x="255.60" y="403.94" width="92.10" height="0.78" fill="#FBCDB5"/>
<rect x="255.60" y="404.60" width="92.10" height="2.30" fill="#D9E9F2"/>
<rect x="255.60" y="406.60" width="92.10" height="4.30" fill="#D6E7F1"/>
<rect x="255.60" y="410.60" width="92.10" height="3.30" fill="#D0E4F0"/>
<rect x="255.60" y="413.60" width="92.10" height="3.30" fill="#D3E6F0"/>
<rect x="255.60" y="416.60" width="92.10" height="3.80" fill="#D4E7F1"/>
<rect x="255.60" y="420.10" width="92.10" height="3.80" fill="#C0DDEB"/>
<rect x="255.60" y="423.60" width="92.10" height="5.30" fill="#D0E4F0"/>
<rect x="255.60" y="428.60" width="92.10" height="5.30" fill="#A6CFE4"/>
<rect x="255.60" y="433.60" width="92.10" height="1.34" fill="#C6DFED"/>
<rect x="255.60" y="434.64" width="92.10" height="2.80" fill="#C3DEEC"/>
<rect x="255.60" y="437.14" width="92.10" height="2.80" fill="#B2D5E7"/>
<rect x="255.60" y="439.64" width="92.10" height="3.30" fill="#C3DEEC"/>
<rect x="255.60" y="442.64" width="92.10" height="2.30" fill="#B8D8E9"/>
<rect x="255.60" y="444.64" width="92.10" height="2.80" fill="#C1DDEB"/>
<rect x="255.60" y="447.14" width="92.10" height="3.80" fill="#B5D7E8"/>
<rect x="255.60" y="450.64" width="92.10" height="2.80" fill="#B9D9E9"/>
<rect x="255.60" y="453.14" width="92.10" height="2.30" fill="#A3CDE3"/>
<rect x="255.60" y="455.14" width="92.10" height="1.78" fill="#B1D5E7"/>
<rect x="255.60" y="456.62" width="92.10" height="1.80" fill="#9ECBE1"/>
<rect x="255.60" y="458.12" width="92.10" height="1.80" fill="#8CC1DC"/>
<rect x="255.60" y="459.62" width="92.10" height="1.80" fill="#9CCAE1"/>
<rect x="255.60" y="461.12" width="92.10" height="5.30" fill="#CAE1EE"/>
<rect x="255.60" y="466.12" width="92.10" height="3.30" fill="#C9E1EE"/>
<rect x="255.60" y="469.12" width="92.10" height="2.80" fill="#C0DDEB"/>
<rect x="255.60" y="471.62" width="92.10" height="2.30" fill="#CEE3EF"/>
<rect x="255.60" y="473.62" width="92.10" height="5.30" fill="#CDE3EF"/>
<rect x="255.60" y="478.62" width="92.10" height="3.80" fill="#C7E0ED"/>
<rect x="255.60" y="482.12" width="92.10" height="3.80" fill="#CCE2EE"/>
<rect x="255.60" y="485.62" width="92.10" height="5.30" fill="#D0E5F0"/>
<rect x="255.60" y="490.62" width="92.10" height="5.30" fill="#D9E9F1"/>
<rect x="255.60" y="495.62" width="92.10" height="5.25" fill="#C2DEEC"/>
<rect x="255.60" y="500.57" width="92.10" height="4.30" fill="#A9D1E5"/>
<rect x="255.60" y="504.57" width="92.10" height="3.80" fill="#A6CFE4"/>
<rect x="255.60" y="508.07" width="92.10" height="1.80" fill="#98C8E0"/>
<rect x="255.60" y="509.57" width="92.10" height="2.80" fill="#A8D0E4"/>
<rect x="255.60" y="512.07" width="92.10" height="2.80" fill="#B1D5E7"/>
<rect x="255.60" y="514.57" width="92.10" height="1.80" fill="#92C5DE"/>
<rect x="255.60" y="516.07" width="92.10" height="2.30" fill="#99C9E0"/>
<rect x="255.60" y="518.07" width="92.10" height="5.30" fill="#BFDCEB"/>
<rect x="255.60" y="523.07" width="92.10" height="4.30" fill="#ADD3E6"/>
<rect x="255.60" y="527.07" width="92.10" height="2.80" fill="#B3D6E7"/>
<rect x="255.60" y="529.57" width="92.10" height="2.30" fill="#BDDBEA"/>
<rect x="255.60" y="531.57" width="92.10" height="1.80" fill="#B3D6E7"/>
<rect x="255.60" y="533.07" width="92.10" height="1.80" fill="#91C5DE"/>
<rect x="255.60" y="534.57" width="92.10" height="2.01" fill="#BDDBEA"/>
<rect x="255.60" y="536.28" width="92.10" height="3.80" fill="#D9E9F1"/>
<rect x="255.60" y="539.78" width="92.10" height="2.30" fill="#CBE2EE"/>
<rect x="255.60" y="541.78" width="92.10" height="2.30" fill="#CAE1EE"/>
<rect x="255.60" y="543.78" width="92.10" height="3.30" fill="#CAE1EE"/>
<rect x="255.60" y="546.78" width="92.10" height="2.80" fill="#BCDAEA"/>
<rect x="255.60" y="549.28" width="92.10" height="4.30" fill="#BEDBEB"/>
<rect x="255.60" y="553.28" width="92.10" height="2.80" fill="#EFF3F6"/>
<rect x="255.60" y="555.78" width="92.10" height="4.30" fill="#BFDCEB"/>
<rect x="255.60" y="559.78" width="92.10" height="3.30" fill="#C9E1EE"/>
<rect x="255.60" y="562.78" width="92.10" height="1.80" fill="#EEF3F5"/>
<rect x="255.60" y="564.28" width="92.10" height="2.80" fill="#9BC9E0"/>
<rect x="255.60" y="566.78" width="92.10" height="4.30" fill="#D8E8F1"/>
<rect x="255.60" y="570.78" width="92.10" height="2.30" fill="#E5EEF4"/>
<rect x="255.60" y="572.78" width="92.10" height="1.80" fill="#C6DFED"/>
<rect x="255.60" y="574.28" width="92.10" height="1.80" fill="#D4E6F1"/>
<rect x="255.60" y="575.78" width="92.10" height="5.30" fill="#DFECF3"/>
<rect x="255.60" y="580.78" width="92.10" height="2.80" fill="#DAE9F2"/>
<rect x="255.60" y="583.28" width="92.10" height="3.30" fill="#D2E5F0"/>
<rect x="255.60" y="586.28" width="92.10" height="1.80" fill="#C6DFED"/>
<rect x="255.60" y="587.78" width="92.10" height="3.80" fill="#E0ECF3"/>
<rect x="255.60" y="591.28" width="92.10" height="3.30" fill="#E3EEF3"/>
<rect x="255.60" y="594.28" width="92.10" height="1.80" fill="#A5CFE3"/>
<rect x="255.60" y="595.78" width="92.10" height="3.98" fill="#BBDAEA"/>
<rect x="255.60" y="599.46" width="92.10" height="3.80" fill="#BCDAEA"/>
<rect x="255.60" y="602.96" width="92.10" height="2.30" fill="#C4DEEC"/>
<rect x="255.60" y="604.96" width="92.10" height="3.80" fill="#B6D7E8"/>
<rect x="255.60" y="608.46" width="92.10" height="3.30" fill="#B9D9E9"/>
<rect x="255.60" y="611.46" width="92.10" height="3.30" fill="#B3D6E7"/>
<rect x="255.60" y="614.46" width="92.10" height="5.30" fill="#8BC0DB"/>
<rect x="255.60" y="619.46" width="92.10" height="2.28" fill="#A5CFE3"/>
<rect x="255.60" y="621.44" width="92.10" height="1.80" fill="#E8F0F4"/>
<rect x="255.60" y="622.94" width="92.10" height="3.30" fill="#C5DFED"/>
<rect x="255.60" y="625.94" width="92.10" height="4.30" fill="#E1EDF3"/>
<rect x="255.60" y="629.94" width="92.10" height="3.30" fill="#E2EDF3"/>
<rect x="255.60" y="632.94" width="92.10" height="4.30" fill="#DCEAF2"/>
<rect x="255.60" y="636.94" width="92.10" height="5.30" fill="#DFECF3"/>
<rect x="255.60" y="641.94" width="92.10" height="1.78" fill="#BEDBEA"/>
<rect x="255.60" y="643.41" width="92.10" height="2.30" fill="#8FC3DD"/>
<rect x="255.60" y="645.41" width="92.10" height="2.30" fill="#90C4DD"/>
<rect x="255.60" y="647.41" width="92.10" height="5.30" fill="#87BEDA"/>
<rect x="255.60" y="652.41" width="92.10" height="1.80" fill="#A9D1E5"/>
<rect x="255.60" y="653.91" width="92.10" height="3.30" fill="#B0D4E7"/>
<rect x="255.60" y="656.91" width="92.10" height="2.80" fill="#A0CCE2"/>
<rect x="255.60" y="659.41" width="92.10" height="1.80" fill="#C6E0ED"/>
<rect x="255.60" y="660.91" width="92.10" height="5.30" fill="#D2E6F0"/>
<rect x="255.60" y="665.91" width="92.10" height="2.30" fill="#BFDCEB"/>
<rect x="255.60" y="667.91" width="92.10" height="5.30" fill="#ACD2E5"/>
<rect x="255.60" y="672.91" width="92.10" height="4.30" fill="#CDE3EF"/>
<rect x="255.60" y="676.91" width="92.10" height="1.80" fill="#AED3E6"/>
<rect x="255.60" y="678.41" width="92.10" height="3.30" fill="#8EC2DD"/>
<rect x="255.60" y="681.41" width="92.10" height="4.30" fill="#95C6DF"/>
<rect x="255.60" y="685.41" width="92.10" height="5.30" fill="#9DCBE1"/>
<rect x="255.60" y="690.41" width="92.10" height="3.80" fill="#BAD9E9"/>
<rect x="255.60" y="693.91" width="92.10" height="2.30" fill="#86BEDA"/>
<rect x="255.60" y="695.91" width="92.10" height="3.30" fill="#B3D6E7"/>
<rect x="255.60" y="698.91" width="92.10" height="2.89" fill="#A0CCE2"/>
<rect x="347.40" y="109.50" width="92.10" height="3.80" fill="#F5A886"/>
<rect x="347.40" y="113.00" width="92.10" height="3.30" fill="#F8BDA1"/>
<rect x="347.40" y="116.00" width="92.10" height="3.80" fill="#F4A582"/>
<rect x="347.40" y="119.50" width="92.10" height="5.30" fill="#EE9878"/>
<rect x="347.40" y="124.50" width="92.10" height="5.30" fill="#FAC9B0"/>
<rect x="347.40" y="129.50" width="92.10" height="3.30" fill="#F6AF8F"/>
<rect x="347.40" y="132.50" width="92.10" height="2.80" fill="#F4A683"/>
<rect x="347.40" y="135.00" width="92.10" height="0.52" fill="#F8C0A4"/>
<rect x="347.40" y="135.22" width="92.10" height="3.80" fill="#E27D63"/>
<rect x="347.40" y="138.72" width="92.10" height="3.80" fill="#F2A07E"/>
<rect x="347.40" y="142.22" width="92.10" height="2.30" fill="#F3A280"/>
<rect x="347.40" y="144.22" width="92.10" height="1.80" fill="#E88A6D"/>
<rect x="347.40" y="145.72" width="92.10" height="4.30" fill="#F4A683"/>
<rect x="347.40" y="149.72" width="92.10" height="3.80" fill="#E17A61"/>
<rect x="347.40" y="153.22" width="92.10" height="3.30" fill="#E8896D"/>
<rect x="347.40" y="156.22" width="92.10" height="4.30" fill="#EB9072"/>
<rect x="347.40" y="160.22" width="92.10" height="2.77" fill="#F2A07E"/>
<rect x="347.40" y="162.69" width="92.10" height="1.80" fill="#CE5146"/>
<rect x="347.40" y="164.19" width="92.10" height="5.30" fill="#E17860"/>
<rect x="347.40" y="169.19" width="92.10" height="1.80" fill="#D6604D"/>
<rect x="347.40" y="170.69" width="92.10" height="3.30" fill="#C2373A"/>
<rect x="347.40" y="173.69" width="92.10" height="2.80" fill="#C84440"/>
<rect x="347.40" y="176.19" width="92.10" height="2.30" fill="#E6866A"/>
<rect x="347.40" y="178.19" width="92.10" height="4.30" fill="#DB6B55"/>
<rect x="347.40" y="182.19" width="92.10" height="1.80" fill="#F5AB89"/>
<rect x="347.40" y="183.69" width="92.10" height="5.30" fill="#EA8F71"/>
<rect x="347.40" y="188.69" width="92.10" height="2.30" fill="#D25749"/>
<rect x="347.40" y="190.69" width="92.10" height="2.80" fill="#DA6854"/>
<rect x="347.40" y="193.19" width="92.10" height="5.30" fill="#E58368"/>
<rect x="347.40" y="198.19" width="92.10" height="3.30" fill="#D96652"/>
<rect x="347.40" y="201.19" width="92.10" height="3.30" fill="#D7624E"/>
<rect x="347.40" y="204.19" width="92.10" height="2.30" fill="#EC9374"/>
<rect x="347.40" y="206.19" width="92.10" height="2.30" fill="#E8896D"/>
<rect x="347.40" y="208.19" width="92.10" height="1.50" fill="#E58267"/>
<rect x="347.40" y="209.39" width="92.10" height="3.30" fill="#EE9878"/>
<rect x="347.40" y="212.39" width="92.10" height="2.30" fill="#F5AE8D"/>
<rect x="347.40" y="214.39" width="92.10" height="2.80" fill="#F6AF8F"/>
<rect x="347.40" y="216.89" width="92.10" height="3.30" fill="#EB8F71"/>
<rect x="347.40" y="219.89" width="92.10" height="1.80" fill="#E48065"/>
<rect x="347.40" y="221.39" width="92.10" height="5.30" fill="#F8BEA1"/>
<rect x="347.40" y="226.39" width="92.10" height="2.80" fill="#F5A987"/>
<rect x="347.40" y="228.89" width="92.10" height="5.30" fill="#F7B99C"/>
<rect x="347.40" y="233.89" width="92.10" height="4.30" fill="#F09B7B"/>
<rect x="347.40" y="237.89" width="92.10" height="1.80" fill="#F4A481"/>
<rect x="347.40" y="239.39" width="92.10" height="3.26" fill="#E7866B"/>
<rect x="347.40" y="242.35" width="92.10" height="3.30" fill="#E17960"/>
<rect x="347.40" y="245.35" width="92.10" height="3.30" fill="#EA8E70"/>
<rect x="347.40" y="248.35" width="92.10" height="2.80" fill="#E98B6E"/>
<rect x="347.40" y="250.85" width="92.10" height="5.30" fill="#E58267"/>
<rect x="347.40" y="255.85" width="92.10" height="1.80" fill="#E6856A"/>
<rect x="347.40" y="257.35" width="92.10" height="4.30" fill="#DE725B"/>
<rect x="347.40" y="261.35" width="92.10" height="1.80" fill="#E48065"/>
<rect x="347.40" y="262.85" width="92.10" height="2.80" fill="#D45C4B"/>
<rect x="347.40" y="265.35" width="92.10" height="4.30" fill="#CA4842"/>
<rect x="347.40" y="269.35" width="92.10" height="4.30" fill="#E58267"/>
<rect x="347.40" y="273.35" width="92.10" height="2.80" fill="#E27C62"/>
<rect x="347.40" y="275.85" width="92.10" height="2.30" fill="#F19E7D"/>
<rect x="347.40" y="277.85" width="92.10" height="2.30" fill="#E48065"/>
<rect x="347.40" y="279.85" width="92.10" height="3.30" fill="#D25749"/>
<rect x="347.40" y="282.85" width="92.10" height="3.75" fill="#E27C63"/>
<rect x="347.40" y="286.30" width="92.10" height="3.30" fill="#F5AB8A"/>
<rect x="347.40" y="289.30" width="92.10" height="2.30" fill="#F6B495"/>
<rect x="347.40" y="291.30" width="92.10" height="1.80" fill="#F6B394"/>
<rect x="347.40" y="292.80" width="92.10" height="1.80" fill="#F8BEA1"/>
<rect x="347.40" y="294.30" width="92.10" height="3.80" fill="#F7B697"/>
<rect x="347.40" y="297.80" width="92.10" height="2.80" fill="#F9C2A7"/>
<rect x="347.40" y="300.30" width="92.10" height="2.80" fill="#F6B394"/>
<rect x="347.40" y="302.80" width="92.10" height="3.80" fill="#F3A381"/>
<rect x="347.40" y="306.30" width="92.10" height="5.30" fill="#F2A27F"/>
<rect x="347.40" y="311.30" width="92.10" height="3.30" fill="#F5AE8D"/>
<rect x="347.40" y="314.30" width="92.10" height="5.30" fill="#F5AD8C"/>
<rect x="347.40" y="319.30" width="92.10" height="2.30" fill="#F7B596"/>
<rect x="347.40" y="321.30" width="92.10" height="1.80" fill="#F9C3A8"/>
<rect x="347.40" y="322.80" width="92.10" height="4.30" fill="#F09D7C"/>
<rect x="347.40" y="326.80" width="92.10" height="2.80" fill="#EE9777"/>
<rect x="347.40" y="329.30" width="92.10" height="3.30" fill="#F09B7A"/>
<rect x="347.40" y="332.30" width="92.10" height="1.80" fill="#FDDBC8"/>
<rect x="347.40" y="333.80" width="92.10" height="4.30" fill="#F09D7C"/>
<rect x="347.40" y="337.80" width="92.10" height="3.80" fill="#FCD2BC"/>
<rect x="347.40" y="341.30" width="92.10" height="4.30" fill="#F9C5AB"/>
<rect x="347.40" y="345.30" width="92.10" height="1.73" fill="#F8BB9E"/>
<rect x="347.40" y="346.74" width="92.10" height="4.30" fill="#D6614E"/>
<rect x="347.40" y="350.74" width="92.10" height="1.80" fill="#CF5246"/>
<rect x="347.40" y="352.24" width="92.10" height="1.80" fill="#CD4D44"/>
<rect x="347.40" y="353.74" width="92.10" height="2.30" fill="#CE5046"/>
<rect x="347.40" y="355.74" width="92.10" height="2.30" fill="#C13539"/>
<rect x="347.40" y="357.74" width="92.10" height="1.80" fill="#B82531"/>
<rect x="347.40" y="359.24" width="92.10" height="1.80" fill="#DC6D57"/>
<rect x="347.40" y="360.74" width="92.10" height="2.30" fill="#DA6954"/>
<rect x="347.40" y="362.74" width="92.10" height="0.78" fill="#DB6B55"/>
<rect x="347.40" y="363.22" width="92.10" height="4.30" fill="#F09C7B"/>
<rect x="347.40" y="367.22" width="92.10" height="3.80" fill="#F7B596"/>
<rect x="347.40" y="370.72" width="92.10" height="3.80" fill="#F7B99B"/>
<rect x="347.40" y="374.22" width="92.10" height="2.30" fill="#F6B090"/>
<rect x="347.40" y="376.22" width="92.10" height="4.30" fill="#F5AA88"/>
<rect x="347.40" y="380.22" width="92.10" height="1.80" fill="#E6856A"/>
<rect x="347.40" y="381.72" width="92.10" height="3.30" fill="#F5AB89"/>
<rect x="347.40" y="384.72" width="92.10" height="4.30" fill="#F8BB9E"/>
<rect x="347.40" y="388.72" width="92.10" height="2.27" fill="#F5AE8D"/>
<rect x="347.40" y="390.69" width="92.10" height="4.30" fill="#E37E64"/>
<rect x="347.40" y="394.69" width="92.10" height="4.30" fill="#E98B6E"/>
<rect x="347.40" y="398.69" width="92.10" height="3.30" fill="#D7624F"/>
<rect x="347.40" y="401.69" width="92.10" height="2.80" fill="#C53E3D"/>
<rect x="347.40" y="404.19" width="92.10" height="0.54" fill="#EA8E70"/>
<rect x="347.40" y="404.60" width="92.10" height="4.30" fill="#B7D8E9"/>
<rect x="347.40" y="408.60" width="92.10" height="4.30" fill="#CFE4F0"/>
<rect x="347.40" y="412.60" width="92.10" height="1.80" fill="#BAD9E9"/>
<rect x="347.40" y="414.10" width="92.10" height="2.80" fill="#AAD1E5"/>
<rect x="347.40" y="416.60" width="92.10" height="4.30" fill="#A7D0E4"/>
<rect x="347.40" y="420.60" width="92.10" height="5.30" fill="#E4EEF4"/>
<rect x="347.40" y="425.60" width="92.10" height="2.80" fill="#A3CEE3"/>
<rect x="347.40" y="428.10" width="92.10" height="4.30" fill="#DFECF3"/>
<rect x="347.40" y="432.10" width="92.10" height="1.80" fill="#ACD2E5"/>
<rect x="347.40" y="433.60" width="92.10" height="1.34" fill="#D0E5F0"/>
<rect x="347.40" y="434.64" width="92.10" height="2.30" fill="#ADD3E6"/>
<rect x="347.40" y="436.64" width="92.10" height="5.30" fill="#A9D1E5"/>
<rect x="347.40" y="441.64" width="92.10" height="4.30" fill="#71B0D3"/>
<rect x="347.40" y="445.64" width="92.10" height="2.80" fill="#B3D6E7"/>
<rect x="347.40" y="448.14" width="92.10" height="3.80" fill="#BFDCEB"/>
<rect x="347.40" y="451.64" width="92.10" height="2.30" fill="#8CC1DC"/>
<rect x="347.40" y="453.64" width="92.10" height="4.30" fill="#C8E1EE"/>
<rect x="347.40" y="457.64" width="92.10" height="4.30" fill="#BAD9E9"/>
<rect x="347.40" y="461.64" width="92.10" height="0.77" fill="#95C7DF"/>
<rect x="347.40" y="462.11" width="92.10" height="5.30" fill="#A2CDE3"/>
<rect x="347.40" y="467.11" width="92.10" height="1.80" fill="#A4CEE3"/>
<rect x="347.40" y="468.61" width="92.10" height="3.30" fill="#B4D6E8"/>
<rect x="347.40" y="471.61" width="92.10" height="2.80" fill="#A0CCE2"/>
<rect x="347.40" y="474.11" width="92.10" height="5.30" fill="#ACD2E5"/>
<rect x="347.40" y="479.11" width="92.10" height="1.80" fill="#C2DDEC"/>
<rect x="347.40" y="480.61" width="92.10" height="3.80" fill="#AFD4E6"/>
<rect x="347.40" y="484.11" width="92.10" height="1.80" fill="#9ECBE2"/>
<rect x="347.40" y="485.61" width="92.10" height="1.80" fill="#CBE2EE"/>
<rect x="347.40" y="487.11" width="92.10" height="2.80" fill="#C3DEEC"/>
<rect x="347.40" y="489.61" width="92.10" height="2.30" fill="#A3CEE3"/>
<rect x="347.40" y="491.61" width="92.10" height="2.30" fill="#A0CCE2"/>
<rect x="347.40" y="493.61" width="92.10" height="4.30" fill="#A1CDE2"/>
<rect x="347.40" y="497.61" width="92.10" height="1.80" fill="#A0CCE2"/>
<rect x="347.40" y="499.11" width="92.10" height="4.30" fill="#CDE3EF"/>
<rect x="347.40" y="503.11" width="92.10" height="5.30" fill="#B1D5E7"/>
<rect x="347.40" y="508.11" width="92.10" height="2.80" fill="#B5D7E8"/>
<rect x="347.40" y="510.61" width="92.10" height="3.80" fill="#D5E7F1"/>
<rect x="347.40" y="514.11" width="92.10" height="4.30" fill="#CCE3EF"/>
<rect x="347.40" y="518.11" width="92.10" height="4.30" fill="#B6D7E8"/>
<rect x="347.40" y="522.11" width="92.10" height="0.73" fill="#B0D4E7"/>
<rect x="347.40" y="522.54" width="92.10" height="1.80" fill="#72B1D3"/>
<rect x="347.40" y="524.04" width="92.10" height="1.80" fill="#98C8E0"/>
<rect x="347.40" y="525.54" width="92.10" height="5.30" fill="#71B0D3"/>
<rect x="347.40" y="530.54" width="92.10" height="5.30" fill="#4594C4"/>
<rect x="347.40" y="535.54" width="92.10" height="4.30" fill="#4292C2"/>
<rect x="347.40" y="539.54" width="92.10" height="4.30" fill="#63A8CE"/>
<rect x="347.40" y="543.54" width="92.10" height="1.80" fill="#72B1D3"/>
<rect x="347.40" y="545.04" width="92.10" height="5.30" fill="#67AACF"/>
<rect x="347.40" y="550.04" width="92.10" height="2.80" fill="#549EC9"/>
<rect x="347.40" y="552.54" width="92.10" height="2.80" fill="#61A6CD"/>
<rect x="347.40" y="555.04" width="92.10" height="2.80" fill="#69ABD0"/>
<rect x="347.40" y="557.54" width="92.10" height="1.01" fill="#92C5DE"/>
<rect x="347.40" y="558.25" width="92.10" height="2.80" fill="#B0D4E6"/>
<rect x="347.40" y="560.75" width="92.10" height="5.30" fill="#BEDBEA"/>
<rect x="347.40" y="565.75" width="92.10" height="5.30" fill="#9FCCE2"/>
<rect x="347.40" y="570.75" width="92.10" height="2.80" fill="#A1CDE2"/>
<rect x="347.40" y="573.25" width="92.10" height="3.30" fill="#A1CDE2"/>
<rect x="347.40" y="576.25" width="92.10" height="1.80" fill="#7FB9D7"/>
<rect x="347.40" y="577.75" width="92.10" height="2.80" fill="#B3D6E7"/>
<rect x="347.40" y="580.25" width="92.10" height="3.30" fill="#9DCBE1"/>
<rect x="347.40" y="583.25" width="92.10" height="2.30" fill="#89C0DB"/>
<rect x="347.40" y="585.25" width="92.10" height="4.30" fill="#ABD2E5"/>
<rect x="347.40" y="589.25" width="92.10" height="5.30" fill="#9ECBE1"/>
<rect x="347.40" y="594.25" width="92.10" height="2.80" fill="#A5CFE4"/>
<rect x="347.40" y="596.75" width="92.10" height="2.30" fill="#A6CFE4"/>
<rect x="347.40" y="598.75" width="92.10" height="1.01" fill="#A9D1E5"/>
<rect x="347.40" y="599.46" width="92.10" height="1.80" fill="#96C7DF"/>
<rect x="347.40" y="600.96" width="92.10" height="2.80" fill="#B8D8E9"/>
<rect x="347.40" y="603.46" width="92.10" height="5.30" fill="#D2E5F0"/>
<rect x="347.40" y="608.46" width="92.10" height="5.30" fill="#D7E8F1"/>
<rect x="347.40" y="613.46" width="92.10" height="2.80" fill="#DFECF3"/>
<rect x="347.40" y="615.96" width="92.10" height="5.30" fill="#B5D7E8"/>
<rect x="347.40" y="620.96" width="92.10" height="2.30" fill="#CEE4EF"/>
<rect x="347.40" y="622.96" width="92.10" height="2.80" fill="#DDEBF2"/>
<rect x="347.40" y="625.46" width="92.10" height="1.77" fill="#A3CDE3"/>
<rect x="347.40" y="626.93" width="92.10" height="3.30" fill="#96C7DF"/>
<rect x="347.40" y="629.93" width="92.10" height="5.30" fill="#A8D0E4"/>
<rect x="347.40" y="634.93" width="92.10" height="1.80" fill="#3682BA"/>
<rect x="347.40" y="636.43" width="92.10" height="3.80" fill="#7CB7D7"/>
<rect x="347.40" y="639.93" width="92.10" height="3.78" fill="#8AC0DB"/>
<rect x="347.40" y="643.41" width="92.10" height="1.80" fill="#C2DDEC"/>
<rect x="347.40" y="644.91" width="92.10" height="3.30" fill="#D9E9F2"/>
<rect x="347.40" y="647.91" width="92.10" height="4.30" fill="#A3CDE3"/>
<rect x="347.40" y="651.91" width="92.10" height="1.80" fill="#9BCAE1"/>
<rect x="347.40" y="653.41" width="92.10" height="2.80" fill="#C5DFEC"/>
<rect x="347.40" y="655.91" width="92.10" height="2.30" fill="#AFD4E6"/>
<rect x="347.40" y="657.91" width="92.10" height="3.80" fill="#CCE2EE"/>
<rect x="347.40" y="661.41" width="92.10" height="3.80" fill="#D2E6F0"/>
<rect x="347.40" y="664.91" width="92.10" height="4.30" fill="#E1EDF3"/>
<rect x="347.40" y="668.91" width="92.10" height="2.27" fill="#C1DDEB"/>
<rect x="347.40" y="670.88" width="92.10" height="3.80" fill="#AED3E6"/>
<rect x="347.40" y="674.38" width="92.10" height="5.30" fill="#A7D0E4"/>
<rect x="347.40" y="679.38" width="92.10" height="1.80" fill="#97C8DF"/>
<rect x="347.40" y="680.88" width="92.10" height="2.80" fill="#9BCAE1"/>
<rect x="347.40" y="683.38" width="92.10" height="5.30" fill="#A5CFE4"/>
<rect x="347.40" y="688.38" width="92.10" height="5.30" fill="#98C8E0"/>
<rect x="347.40" y="693.38" width="92.10" height="2.80" fill="#BBDAEA"/>
<rect x="347.40" y="695.88" width="92.10" height="2.30" fill="#92C5DE"/>
<rect x="347.40" y="697.88" width="92.10" height="2.80" fill="#BAD9E9"/>
<rect x="347.40" y="700.38" width="92.10" height="1.42" fill="#B4D7E8"/>
<rect x="439.20" y="109.50" width="92.10" height="4.30" fill="#F4A582"/>
<rect x="439.20" y="113.50" width="92.10" height="4.30" fill="#F7B495"/>
<rect x="439.20" y="117.50" width="92.10" height="2.80" fill="#F5A987"/>
<rect x="439.20" y="120.00" width="92.10" height="5.30" fill="#F8BFA4"/>
<rect x="439.20" y="125.00" width="92.10" height="2.30" fill="#FCD7C2"/>
<rect x="439.20" y="127.00" width="92.10" height="4.30" fill="#F5AD8D"/>
<rect x="439.20" y="131.00" width="92.10" height="2.80" fill="#F5AA88"/>
<rect x="439.20" y="133.50" width="92.10" height="3.80" fill="#F8C0A4"/>
<rect x="439.20" y="137.00" width="92.10" height="2.80" fill="#F7B798"/>
<rect x="439.20" y="139.50" width="92.10" height="2.30" fill="#F7B89A"/>
<rect x="439.20" y="141.50" width="92.10" height="1.80" fill="#E47F65"/>
<rect x="439.20" y="143.00" width="92.10" height="2.30" fill="#F5AD8C"/>
<rect x="439.20" y="145.00" width="92.10" height="3.30" fill="#F7B799"/>
<rect x="439.20" y="148.00" width="92.10" height="2.30" fill="#EB9072"/>
<rect x="439.20" y="150.00" width="92.10" height="2.00" fill="#F7B89B"/>
<rect x="439.20" y="151.70" width="92.10" height="2.80" fill="#EA8D70"/>
<rect x="439.20" y="154.20" width="92.10" height="4.30" fill="#E17960"/>
<rect x="439.20" y="158.20" width="92.10" height="1.80" fill="#E7886C"/>
<rect x="439.20" y="159.70" width="92.10" height="3.30" fill="#CD4E45"/>
<rect x="439.20" y="162.70" width="92.10" height="1.80" fill="#CE5046"/>
<rect x="439.20" y="164.20" width="92.10" height="3.30" fill="#E27B62"/>
<rect x="439.20" y="167.20" width="92.10" height="1.28" fill="#DE735C"/>
<rect x="439.20" y="168.18" width="92.10" height="2.80" fill="#ED9475"/>
<rect x="439.20" y="170.68" width="92.10" height="3.30" fill="#F8BDA1"/>
<rect x="439.20" y="173.68" width="92.10" height="4.30" fill="#FAC9B0"/>
<rect x="439.20" y="177.68" width="92.10" height="3.30" fill="#F8BDA1"/>
<rect x="439.20" y="180.68" width="92.10" height="5.30" fill="#FACAB2"/>
<rect x="439.20" y="185.68" width="92.10" height="3.30" fill="#FCD2BC"/>
<rect x="439.20" y="188.68" width="92.10" height="4.30" fill="#FCDFCD"/>
<rect x="439.20" y="192.68" width="92.10" height="3.30" fill="#F8BB9F"/>
<rect x="439.20" y="195.68" width="92.10" height="4.30" fill="#FCDECD"/>
<rect x="439.20" y="199.68" width="92.10" height="5.30" fill="#FDDAC6"/>
<rect x="439.20" y="204.68" width="92.10" height="2.30" fill="#FDDCCA"/>
<rect x="439.20" y="206.68" width="92.10" height="4.30" fill="#FAC7AD"/>
<rect x="439.20" y="210.68" width="92.10" height="3.30" fill="#F9C2A7"/>
<rect x="439.20" y="213.68" width="92.10" height="1.50" fill="#FBCDB5"/>
<rect x="439.20" y="214.88" width="92.10" height="3.30" fill="#E47F65"/>
<rect x="439.20" y="217.88" width="92.10" height="2.30" fill="#F09C7B"/>
<rect x="439.20" y="219.88" width="92.10" height="4.30" fill="#F9C0A5"/>
<rect x="439.20" y="223.88" width="92.10" height="2.29" fill="#F3A481"/>
<rect x="439.20" y="225.87" width="92.10" height="3.30" fill="#F5AD8D"/>
<rect x="439.20" y="228.87" width="92.10" height="1.80" fill="#FBCEB7"/>
<rect x="439.20" y="230.37" width="92.10" height="4.30" fill="#FBCEB6"/>
<rect x="439.20" y="234.37" width="92.10" height="4.30" fill="#F7B698"/>
<rect x="439.20" y="238.37" width="92.10" height="4.30" fill="#F9C6AC"/>
<rect x="439.20" y="242.37" width="92.10" height="2.80" fill="#F8BDA1"/>
<rect x="439.20" y="244.87" width="92.10" height="3.30" fill="#FCD3BC"/>
<rect x="439.20" y="247.87" width="92.10" height="1.80" fill="#F5AA89"/>
<rect x="439.20" y="249.37" width="92.10" height="2.30" fill="#F8BB9E"/>
<rect x="439.20" y="251.37" width="92.10" height="4.30" fill="#F7B89A"/>
<rect x="439.20" y="255.37" width="92.10" height="3.80" fill="#FBE3D6"/>
<rect x="439.20" y="258.87" width="92.10" height="2.80" fill="#F5AD8D"/>
<rect x="439.20" y="261.37" width="92.10" height="3.80" fill="#F6B293"/>
<rect x="439.20" y="264.87" width="92.10" height="2.30" fill="#F9C5AB"/>
<rect x="439.20" y="266.87" width="92.10" height="4.30" fill="#FCD6C1"/>
<rect x="439.20" y="270.87" width="92.10" height="5.30" fill="#F7B698"/>
<rect x="439.20" y="275.87" width="92.10" height="3.30" fill="#FCD4BE"/>
<rect x="439.20" y="278.87" width="92.10" height="4.30" fill="#F7B596"/>
<rect x="439.20" y="282.87" width="92.10" height="4.30" fill="#F9C5AA"/>
<rect x="439.20" y="286.87" width="92.10" height="2.30" fill="#FDD9C4"/>
<rect x="439.20" y="288.87" width="92.10" height="1.80" fill="#F5AD8C"/>
<rect x="439.20" y="290.37" width="92.10" height="4.30" fill="#F6AF8F"/>
<rect x="439.20" y="294.37" width="92.10" height="1.80" fill="#F9C2A7"/>
<rect x="439.20" y="295.87" width="92.10" height="2.80" fill="#F9C3A9"/>
<rect x="439.20" y="298.37" width="92.10" height="1.80" fill="#F6AE8E"/>
<rect x="439.20" y="299.87" width="92.10" height="1.80" fill="#FBD1BB"/>
<rect x="439.20" y="301.37" width="92.10" height="4.30" fill="#F7B799"/>
<rect x="439.20" y="305.37" width="92.10" height="4.30" fill="#FAC9B0"/>
<rect x="439.20" y="309.37" width="92.10" height="2.30" fill="#F7B596"/>
<rect x="439.20" y="311.37" width="92.10" height="2.80" fill="#F9C3A8"/>
<rect x="439.20" y="313.87" width="92.10" height="3.80" fill="#FBE4D6"/>
<rect x="439.20" y="317.37" width="92.10" height="2.30" fill="#E98C6F"/>
<rect x="439.20" y="319.37" width="92.10" height="3.30" fill="#F9C2A7"/>
<rect x="439.20" y="322.37" width="92.10" height="2.30" fill="#F5AB8A"/>
<rect x="439.20" y="324.37" width="92.10" height="1.80" fill="#EF9A79"/>
<rect x="439.20" y="325.87" width="92.10" height="4.69" fill="#F8BDA1"/>
<rect x="439.20" y="330.25" width="92.10" height="4.30" fill="#FCDFCD"/>
<rect x="439.20" y="334.25" width="92.10" height="3.80" fill="#FDDCC8"/>
<rect x="439.20" y="337.75" width="92.10" height="2.30" fill="#FAEAE0"/>
<rect x="439.20" y="339.75" width="92.10" height="2.80" fill="#FCE2D2"/>
<rect x="439.20" y="342.25" width="92.10" height="5.30" fill="#FAE8DE"/>
<rect x="439.20" y="347.25" width="92.10" height="5.30" fill="#F8F4F2"/>
<rect x="439.20" y="352.25" width="92.10" height="5.30" fill="#F7B799"/>
<rect x="439.20" y="357.25" width="92.10" height="3.80" fill="#FBE2D4"/>
<rect x="439.20" y="360.75" width="92.10" height="3.30" fill="#FBE6DA"/>
<rect x="439.20" y="363.75" width="92.10" height="2.80" fill="#FCD4BE"/>
<rect x="439.20" y="366.25" width="92.10" height="4.30" fill="#FCDFCE"/>
<rect x="439.20" y="370.25" width="92.10" height="3.30" fill="#FBE3D5"/>
<rect x="439.20" y="373.25" width="92.10" height="4.30" fill="#F8F2EE"/>
<rect x="439.20" y="377.25" width="92.10" height="2.30" fill="#FAEAE0"/>
<rect x="439.20" y="379.25" width="92.10" height="5.30" fill="#FCD3BC"/>
<rect x="439.20" y="384.25" width="92.10" height="2.80" fill="#FCE1D2"/>
<rect x="439.20" y="386.75" width="92.10" height="2.80" fill="#F9C2A6"/>
<rect x="439.20" y="389.25" width="92.10" height="3.30" fill="#FBE6DA"/>
<rect x="439.20" y="392.25" width="92.10" height="1.80" fill="#FCD4BE"/>
<rect x="439.20" y="393.75" width="92.10" height="4.30" fill="#FBCEB6"/>
<rect x="439.20" y="397.75" width="92.10" height="2.80" fill="#FDDCC9"/>
<rect x="439.20" y="400.25" width="92.10" height="4.47" fill="#FDDCC8"/>
<rect x="439.20" y="404.60" width="92.10" height="3.80" fill="#CAE1EE"/>
<rect x="439.20" y="408.10" width="92.10" height="2.80" fill="#C6DFED"/>
<rect x="439.20" y="410.60" width="92.10" height="5.30" fill="#B8D8E9"/>
<rect x="439.20" y="415.60" width="92.10" height="2.80" fill="#C1DDEB"/>
<rect x="439.20" y="418.10" width="92.10" height="1.80" fill="#C1DDEB"/>
<rect x="439.20" y="419.60" width="92.10" height="2.30" fill="#DBEAF2"/>
<rect x="439.20" y="421.60" width="92.10" height="2.80" fill="#BAD9E9"/>
<rect x="439.20" y="424.10" width="92.10" height="3.80" fill="#CDE3EF"/>
<rect x="439.20" y="427.60" width="92.10" height="2.30" fill="#CBE2EE"/>
<rect x="439.20" y="429.60" width="92.10" height="2.30" fill="#C7E0ED"/>
<rect x="439.20" y="431.60" width="92.10" height="2.30" fill="#B0D4E7"/>
<rect x="439.20" y="433.60" width="92.10" height="2.30" fill="#DCEAF2"/>
<rect x="439.20" y="435.60" width="92.10" height="2.30" fill="#AED3E6"/>
<rect x="439.20" y="437.60" width="92.10" height="2.83" fill="#D7E8F1"/>
<rect x="439.20" y="440.13" width="92.10" height="5.30" fill="#95C6DF"/>
<rect x="439.20" y="445.13" width="92.10" height="1.80" fill="#91C4DE"/>
<rect x="439.20" y="446.63" width="92.10" height="5.30" fill="#7BB7D6"/>
<rect x="439.20" y="451.63" width="92.10" height="4.30" fill="#AFD4E6"/>
<rect x="439.20" y="455.63" width="92.10" height="4.30" fill="#9BCAE1"/>
<rect x="439.20" y="459.63" width="92.10" height="2.30" fill="#81BBD8"/>
<rect x="439.20" y="461.63" width="92.10" height="3.30" fill="#A1CCE2"/>
<rect x="439.20" y="464.63" width="92.10" height="4.30" fill="#BCDAEA"/>
<rect x="439.20" y="468.63" width="92.10" height="2.80" fill="#95C7DF"/>
<rect x="439.20" y="471.13" width="92.10" height="3.30" fill="#A9D0E4"/>
<rect x="439.20" y="474.13" width="92.10" height="3.30" fill="#B3D6E7"/>
<rect x="439.20" y="477.13" width="92.10" height="3.80" fill="#BEDBEB"/>
<rect x="439.20" y="480.63" width="92.10" height="2.30" fill="#B0D4E7"/>
<rect x="439.20" y="482.63" width="92.10" height="4.30" fill="#8DC2DC"/>
<rect x="439.20" y="486.63" width="92.10" height="3.80" fill="#A9D1E5"/>
<rect x="439.20" y="490.13" width="92.10" height="3.80" fill="#A9D1E5"/>
<rect x="439.20" y="493.63" width="92.10" height="5.30" fill="#A6CFE4"/>
<rect x="439.20" y="498.63" width="92.10" height="2.80" fill="#8BC1DC"/>
<rect x="439.20" y="501.13" width="92.10" height="4.30" fill="#ADD3E6"/>
<rect x="439.20" y="505.13" width="92.10" height="2.80" fill="#B3D6E7"/>
<rect x="439.20" y="507.63" width="92.10" height="3.30" fill="#96C7DF"/>
<rect x="439.20" y="510.63" width="92.10" height="4.30" fill="#C3DEEC"/>
<rect x="439.20" y="514.63" width="92.10" height="4.30" fill="#B5D7E8"/>
<rect x="439.20" y="518.63" width="92.10" height="4.30" fill="#C4DFEC"/>
<rect x="439.20" y="522.63" width="92.10" height="4.30" fill="#ADD3E6"/>
<rect x="439.20" y="526.63" width="92.10" height="4.30" fill="#B9D9E9"/>
<rect x="439.20" y="530.63" width="92.10" height="1.80" fill="#9FCCE2"/>
<rect x="439.20" y="532.13" width="92.10" height="3.80" fill="#80BAD8"/>
<rect x="439.20" y="535.63" width="92.10" height="2.30" fill="#ABD2E5"/>
<rect x="439.20" y="537.63" width="92.10" height="1.80" fill="#ADD2E6"/>
<rect x="439.20" y="539.13" width="92.10" height="2.30" fill="#BDDBEA"/>
<rect x="439.20" y="541.13" width="92.10" height="2.80" fill="#C2DDEC"/>
<rect x="439.20" y="543.63" width="92.10" height="1.19" fill="#B9D9E9"/>
<rect x="439.20" y="544.52" width="92.10" height="3.30" fill="#D8E8F1"/>
<rect x="439.20" y="547.52" width="92.10" height="2.30" fill="#BDDBEA"/>
<rect x="439.20" y="549.52" width="92.10" height="2.80" fill="#C3DEEC"/>
<rect x="439.20" y="552.02" width="92.10" height="3.80" fill="#DAE9F2"/>
<rect x="439.20" y="555.52" width="92.10" height="1.80" fill="#DAE9F2"/>
<rect x="439.20" y="557.02" width="92.10" height="4.28" fill="#C8E0ED"/>
<rect x="439.20" y="561.00" width="92.10" height="3.30" fill="#ABD2E5"/>
<rect x="439.20" y="564.00" width="92.10" height="2.80" fill="#CEE3EF"/>
<rect x="439.20" y="566.50" width="92.10" height="5.30" fill="#82BBD9"/>
<rect x="439.20" y="571.50" width="92.10" height="4.30" fill="#BDDBEA"/>
<rect x="439.20" y="575.50" width="92.10" height="3.30" fill="#C5DFEC"/>
<rect x="439.20" y="578.50" width="92.10" height="2.80" fill="#ADD3E6"/>
<rect x="439.20" y="581.00" width="92.10" height="4.30" fill="#B7D8E9"/>
<rect x="439.20" y="585.00" width="92.10" height="3.77" fill="#D7E8F1"/>
<rect x="439.20" y="588.47" width="92.10" height="1.80" fill="#D2E5F0"/>
<rect x="439.20" y="589.97" width="92.10" height="4.30" fill="#CBE2EE"/>
<rect x="439.20" y="593.97" width="92.10" height="3.80" fill="#DDEBF2"/>
<rect x="439.20" y="597.47" width="92.10" height="1.80" fill="#BFDCEB"/>
<rect x="439.20" y="598.97" width="92.10" height="3.30" fill="#D0E5F0"/>
<rect x="439.20" y="601.97" width="92.10" height="2.30" fill="#D2E6F0"/>
<rect x="439.20" y="603.97" width="92.10" height="5.30" fill="#E1ECF3"/>
<rect x="439.20" y="608.97" width="92.10" height="4.30" fill="#C3DEEC"/>
<rect x="439.20" y="612.97" width="92.10" height="1.80" fill="#D8E8F1"/>
<rect x="439.20" y="614.47" width="92.10" height="3.80" fill="#A3CEE3"/>
<rect x="439.20" y="617.97" width="92.10" height="3.30" fill="#BBDAEA"/>
<rect x="439.20" y="620.97" width="92.10" height="0.76" fill="#BDDBEA"/>
<rect x="439.20" y="621.44" width="92.10" height="4.30" fill="#9CCAE1"/>
<rect x="439.20" y="625.44" width="92.10" height="2.30" fill="#A4CEE3"/>
<rect x="439.20" y="627.44" width="92.10" height="1.80" fill="#AAD1E5"/>
<rect x="439.20" y="628.94" width="92.10" height="5.30" fill="#A2CDE2"/>
<rect x="439.20" y="633.94" width="92.10" height="2.30" fill="#C1DDEB"/>
<rect x="439.20" y="635.94" width="92.10" height="1.80" fill="#BEDBEB"/>
<rect x="439.20" y="637.44" width="92.10" height="3.30" fill="#BDDBEA"/>
<rect x="439.20" y="640.44" width="92.10" height="4.30" fill="#85BCD9"/>
<rect x="439.20" y="644.44" width="92.10" height="1.80" fill="#9BCAE1"/>
<rect x="439.20" y="645.94" width="92.10" height="5.30" fill="#D2E6F0"/>
<rect x="439.20" y="650.94" width="92.10" height="2.80" fill="#A7D0E4"/>
<rect x="439.20" y="653.44" width="92.10" height="2.80" fill="#B0D4E7"/>
<rect x="439.20" y="655.94" width="92.10" height="2.30" fill="#A6CFE4"/>
<rect x="439.20" y="657.94" width="92.10" height="3.30" fill="#BFDCEB"/>
<rect x="439.20" y="660.94" width="92.10" height="3.80" fill="#97C7DF"/>
<rect x="439.20" y="664.44" width="92.10" height="1.80" fill="#8FC3DD"/>
<rect x="439.20" y="665.94" width="92.10" height="3.30" fill="#B1D5E7"/>
<rect x="439.20" y="668.94" width="92.10" height="1.80" fill="#B4D6E8"/>
<rect x="439.20" y="670.44" width="92.10" height="0.75" fill="#C1DDEB"/>
<rect x="439.20" y="670.88" width="92.10" height="3.30" fill="#DEEBF2"/>
<rect x="439.20" y="673.88" width="92.10" height="3.30" fill="#F8F1ED"/>
<rect x="439.20" y="676.88" width="92.10" height="3.80" fill="#F5F6F7"/>
<rect x="439.20" y="680.38" width="92.10" height="3.80" fill="#F8F0EB"/>
<rect x="439.20" y="683.88" width="92.10" height="2.30" fill="#ECF2F5"/>
<rect x="439.20" y="685.88" width="92.10" height="3.30" fill="#EFF3F6"/>
<rect x="439.20" y="688.88" width="92.10" height="1.80" fill="#DDEBF2"/>
<rect x="439.20" y="690.38" width="92.10" height="4.30" fill="#D2E6F0"/>
<rect x="439.20" y="694.38" width="92.10" height="4.30" fill="#F2F5F6"/>
<rect x="439.20" y="698.38" width="92.10" height="1.80" fill="#ECF2F5"/>
<rect x="439.20" y="699.88" width="92.10" height="1.92" fill="#EEF3F5"/>
<rect x="531.00" y="109.50" width="92.10" height="1.80" fill="#99C9E0"/>
<rect x="531.00" y="111.00" width="92.10" height="2.30" fill="#62A7CE"/>
<rect x="531.00" y="113.00" width="92.10" height="4.66" fill="#7CB7D7"/>
<rect x="531.00" y="117.36" width="92.10" height="2.80" fill="#E7F0F4"/>
<rect x="531.00" y="119.86" width="92.10" height="4.30" fill="#D0E4F0"/>
<rect x="531.00" y="123.86" width="92.10" height="4.30" fill="#D7E8F1"/>
<rect x="531.00" y="127.86" width="92.10" height="2.30" fill="#E8F0F4"/>
<rect x="531.00" y="129.86" width="92.10" height="4.30" fill="#D7E8F1"/>
<rect x="531.00" y="133.86" width="92.10" height="4.30" fill="#DBEAF2"/>
<rect x="531.00" y="137.86" width="92.10" height="5.30" fill="#D6E8F1"/>
<rect x="531.00" y="142.86" width="92.10" height="1.80" fill="#D9E9F1"/>
<rect x="531.00" y="144.36" width="92.10" height="2.14" fill="#EDF2F5"/>
<rect x="531.00" y="146.20" width="92.10" height="3.30" fill="#E0ECF3"/>
<rect x="531.00" y="149.20" width="92.10" height="1.80" fill="#D6E7F1"/>
<rect x="531.00" y="150.70" width="92.10" height="4.30" fill="#F2F5F6"/>
<rect x="531.00" y="154.70" width="92.10" height="4.30" fill="#EEF3F5"/>
<rect x="531.00" y="158.70" width="92.10" height="4.30" fill="#EFF3F6"/>
<rect x="531.00" y="162.70" width="92.10" height="2.80" fill="#E8F0F4"/>
<rect x="531.00" y="165.20" width="92.10" height="2.80" fill="#ECF2F5"/>
<rect x="531.00" y="167.70" width="92.10" height="0.78" fill="#E6EFF4"/>
<rect x="531.00" y="168.18" width="92.10" height="5.30" fill="#B5D7E8"/>
<rect x="531.00" y="173.18" width="92.10" height="2.80" fill="#BEDBEA"/>
<rect x="531.00" y="175.68" width="92.10" height="3.80" fill="#BAD9E9"/>
<rect x="531.00" y="179.18" width="92.10" height="2.30" fill="#A5CFE3"/>
<rect x="531.00" y="181.18" width="92.10" height="2.30" fill="#C7E0ED"/>
<rect x="531.00" y="183.18" width="92.10" height="4.30" fill="#BBDAEA"/>
<rect x="531.00" y="187.18" width="92.10" height="0.53" fill="#AED3E6"/>
<rect x="531.00" y="187.41" width="92.10" height="3.30" fill="#84BCD9"/>
<rect x="531.00" y="190.41" width="92.10" height="5.30" fill="#A3CEE3"/>
<rect x="531.00" y="195.41" width="92.10" height="5.30" fill="#5AA1CB"/>
<rect x="531.00" y="200.41" width="92.10" height="3.78" fill="#84BCD9"/>
<rect x="531.00" y="203.89" width="92.10" height="1.80" fill="#D0E5F0"/>
<rect x="531.00" y="205.39" width="92.10" height="3.80" fill="#E9F0F4"/>
<rect x="531.00" y="208.89" width="92.10" height="5.30" fill="#D2E5F0"/>
<rect x="531.00" y="213.89" width="92.10" height="1.29" fill="#C9E1EE"/>
<rect x="531.00" y="214.88" width="92.10" height="1.80" fill="#86BEDA"/>
<rect x="531.00" y="216.38" width="92.10" height="5.30" fill="#84BCD9"/>
<rect x="531.00" y="221.38" width="92.10" height="3.80" fill="#90C4DD"/>
<rect x="531.00" y="224.88" width="92.10" height="1.29" fill="#7AB6D6"/>
<rect x="531.00" y="225.87" width="92.10" height="3.30" fill="#E4EEF3"/>
<rect x="531.00" y="228.87" width="92.10" height="4.30" fill="#D5E7F1"/>
<rect x="531.00" y="232.87" width="92.10" height="1.54" fill="#F5F6F7"/>
<rect x="531.00" y="234.11" width="92.10" height="5.30" fill="#61A6CD"/>
<rect x="531.00" y="239.11" width="92.10" height="2.80" fill="#94C6DF"/>
<rect x="531.00" y="241.61" width="92.10" height="2.80" fill="#86BDDA"/>
<rect x="531.00" y="244.11" width="92.10" height="5.30" fill="#96C7DF"/>
<rect x="531.00" y="249.11" width="92.10" height="5.30" fill="#8EC2DD"/>
<rect x="531.00" y="254.11" width="92.10" height="5.30" fill="#83BBD9"/>
<rect x="531.00" y="259.11" width="92.10" height="2.30" fill="#9AC9E0"/>
<rect x="531.00" y="261.11" width="92.10" height="3.80" fill="#569FC9"/>
<rect x="531.00" y="264.61" width="92.10" height="2.30" fill="#80BAD8"/>
<rect x="531.00" y="266.61" width="92.10" height="5.30" fill="#B3D6E8"/>
<rect x="531.00" y="271.61" width="92.10" height="3.80" fill="#70B0D2"/>
<rect x="531.00" y="275.11" width="92.10" height="2.80" fill="#519CC8"/>
<rect x="531.00" y="277.61" width="92.10" height="3.50" fill="#A1CDE2"/>
<rect x="531.00" y="280.81" width="92.10" height="5.30" fill="#276EB0"/>
<rect x="531.00" y="285.81" width="92.10" height="3.30" fill="#256CAF"/>
<rect x="531.00" y="288.81" width="92.10" height="2.30" fill="#327CB7"/>
<rect x="531.00" y="290.81" width="92.10" height="2.80" fill="#154E8B"/>
<rect x="531.00" y="293.31" width="92.10" height="3.30" fill="#175291"/>
<rect x="531.00" y="296.31" width="92.10" height="4.30" fill="#2267AD"/>
<rect x="531.00" y="300.31" width="92.10" height="5.30" fill="#286FB1"/>
<rect x="531.00" y="305.31" width="92.10" height="1.80" fill="#2368AD"/>
<rect x="531.00" y="306.81" width="92.10" height="1.80" fill="#16508D"/>
<rect x="531.00" y="308.31" width="92.10" height="3.80" fill="#266DB0"/>
<rect x="531.00" y="311.81" width="92.10" height="2.26" fill="#104680"/>
<rect x="531.00" y="313.77" width="92.10" height="3.30" fill="#95C6DF"/>
<rect x="531.00" y="316.77" width="92.10" height="5.30" fill="#A7D0E4"/>
<rect x="531.00" y="321.77" width="92.10" height="3.29" fill="#B2D5E7"/>
<rect x="531.00" y="324.76" width="92.10" height="2.30" fill="#83BCD9"/>
<rect x="531.00" y="326.76" width="92.10" height="2.30" fill="#69ABD0"/>
<rect x="531.00" y="328.76" width="92.10" height="4.54" fill="#72B1D3"/>
<rect x="531.00" y="333.00" width="92.10" height="4.30" fill="#E5EEF4"/>
<rect x="531.00" y="337.00" width="92.10" height="2.80" fill="#F7F5F4"/>
<rect x="531.00" y="339.50" width="92.10" height="3.30" fill="#EEF3F5"/>
<rect x="531.00" y="342.50" width="92.10" height="2.30" fill="#D0E4F0"/>
<rect x="531.00" y="344.50" width="92.10" height="1.80" fill="#F7F7F7"/>
<rect x="531.00" y="346.00" width="92.10" height="5.30" fill="#E2EDF3"/>
<rect x="531.00" y="351.00" width="92.10" height="1.53" fill="#DFECF3"/>
<rect x="531.00" y="352.23" width="92.10" height="1.80" fill="#D7E8F1"/>
<rect x="531.00" y="353.73" width="92.10" height="2.30" fill="#C8E1ED"/>
<rect x="531.00" y="355.73" width="92.10" height="2.80" fill="#CFE4EF"/>
<rect x="531.00" y="358.23" width="92.10" height="3.80" fill="#C3DEEC"/>
<rect x="531.00" y="361.73" width="92.10" height="2.30" fill="#C4DFEC"/>
<rect x="531.00" y="363.73" width="92.10" height="2.53" fill="#D7E8F1"/>
<rect x="531.00" y="365.96" width="92.10" height="3.80" fill="#246AAE"/>
<rect x="531.00" y="369.46" width="92.10" height="2.30" fill="#2D75B4"/>
<rect x="531.00" y="371.46" width="92.10" height="3.30" fill="#4292C2"/>
<rect x="531.00" y="374.46" width="92.10" height="1.80" fill="#4190C1"/>
<rect x="531.00" y="375.96" width="92.10" height="5.30" fill="#286FB0"/>
<rect x="531.00" y="380.96" width="92.10" height="3.80" fill="#3783BB"/>
<rect x="531.00" y="384.46" width="92.10" height="1.80" fill="#2C75B3"/>
<rect x="531.00" y="385.96" width="92.10" height="2.80" fill="#307AB6"/>
<rect x="531.00" y="388.46" width="92.10" height="1.80" fill="#3580BA"/>
<rect x="531.00" y="389.96" width="92.10" height="1.02" fill="#3C8ABE"/>
<rect x="531.00" y="390.69" width="92.10" height="5.30" fill="#D2E6F0"/>
<rect x="531.00" y="395.69" width="92.10" height="4.30" fill="#98C8E0"/>
<rect x="531.00" y="399.69" width="92.10" height="1.80" fill="#D5E7F1"/>
<rect x="531.00" y="401.19" width="92.10" height="3.54" fill="#B9D9E9"/>
<rect x="531.00" y="404.60" width="92.10" height="1.80" fill="#F5A987"/>
<rect x="531.00" y="406.10" width="92.10" height="4.30" fill="#E98B6E"/>
<rect x="531.00" y="410.10" width="92.10" height="3.80" fill="#F2A17F"/>
<rect x="531.00" y="413.60" width="92.10" height="2.30" fill="#F8BB9E"/>
<rect x="531.00" y="415.60" width="92.10" height="4.30" fill="#F9C2A7"/>
<rect x="531.00" y="419.60" width="92.10" height="3.80" fill="#F5AE8D"/>
<rect x="531.00" y="423.10" width="92.10" height="2.30" fill="#E98C6F"/>
<rect x="531.00" y="425.10" width="92.10" height="2.80" fill="#D05548"/>
<rect x="531.00" y="427.60" width="92.10" height="2.30" fill="#F5AA89"/>
<rect x="531.00" y="429.60" width="92.10" height="2.30" fill="#E98B6E"/>
<rect x="531.00" y="431.60" width="92.10" height="2.80" fill="#EE9878"/>
<rect x="531.00" y="434.10" width="92.10" height="1.80" fill="#DE725B"/>
<rect x="531.00" y="435.60" width="92.10" height="2.09" fill="#F7B596"/>
<rect x="531.00" y="437.39" width="92.10" height="1.80" fill="#FCD7C3"/>
<rect x="531.00" y="438.89" width="92.10" height="4.30" fill="#F9C0A5"/>
<rect x="531.00" y="442.89" width="92.10" height="4.30" fill="#FCD5BF"/>
<rect x="531.00" y="446.89" width="92.10" height="1.80" fill="#FBE4D6"/>
<rect x="531.00" y="448.39" width="92.10" height="2.30" fill="#FCD7C2"/>
<rect x="531.00" y="450.39" width="92.10" height="2.30" fill="#FCD5BF"/>
<rect x="531.00" y="452.39" width="92.10" height="4.30" fill="#FCD7C1"/>
<rect x="531.00" y="456.39" width="92.10" height="3.30" fill="#FBE5D9"/>
<rect x="531.00" y="459.39" width="92.10" height="5.30" fill="#FCDFCE"/>
<rect x="531.00" y="464.39" width="92.10" height="2.80" fill="#FCE1D2"/>
<rect x="531.00" y="466.89" width="92.10" height="2.80" fill="#FCE0CF"/>
<rect x="531.00" y="469.39" width="92.10" height="3.30" fill="#FACBB3"/>
<rect x="531.00" y="472.39" width="92.10" height="1.01" fill="#FAE9DF"/>
<rect x="531.00" y="473.10" width="92.10" height="4.30" fill="#F9C0A5"/>
<rect x="531.00" y="477.10" width="92.10" height="1.80" fill="#FAE8DD"/>
<rect x="531.00" y="478.60" width="92.10" height="5.30" fill="#F9C4AA"/>
<rect x="531.00" y="483.60" width="92.10" height="0.79" fill="#F7B99B"/>
<rect x="531.00" y="484.09" width="92.10" height="1.80" fill="#FCE1D2"/>
<rect x="531.00" y="485.59" width="92.10" height="3.80" fill="#FBE3D5"/>
<rect x="531.00" y="489.09" width="92.10" height="2.30" fill="#ECF2F5"/>
<rect x="531.00" y="491.09" width="92.10" height="5.30" fill="#F8F5F3"/>
<rect x="531.00" y="496.09" width="92.10" height="3.30" fill="#F9EFE9"/>
<rect x="531.00" y="499.09" width="92.10" height="5.30" fill="#F9EDE5"/>
<rect x="531.00" y="504.09" width="92.10" height="2.80" fill="#F9F0EB"/>
<rect x="531.00" y="506.59" width="92.10" height="2.80" fill="#F9ECE4"/>
<rect x="531.00" y="509.09" width="92.10" height="4.30" fill="#F3F5F6"/>
<rect x="531.00" y="513.09" width="92.10" height="2.80" fill="#F9ECE5"/>
<rect x="531.00" y="515.59" width="92.10" height="1.80" fill="#FAEBE3"/>
<rect x="531.00" y="517.09" width="92.10" height="2.30" fill="#F8F3F0"/>
<rect x="531.00" y="519.09" width="92.10" height="2.30" fill="#F0F4F6"/>
<rect x="531.00" y="521.09" width="92.10" height="1.76" fill="#FAEBE3"/>
<rect x="531.00" y="522.54" width="92.10" height="3.30" fill="#FBD1BA"/>
<rect x="531.00" y="525.54" width="92.10" height="2.30" fill="#F8BEA2"/>
<rect x="531.00" y="527.54" width="92.10" height="5.30" fill="#F8BA9D"/>
<rect x="531.00" y="532.54" width="92.10" height="2.80" fill="#FACCB4"/>
<rect x="531.00" y="535.04" width="92.10" height="3.30" fill="#F8BDA0"/>
<rect x="531.00" y="538.04" width="92.10" height="1.80" fill="#FCD7C2"/>
<rect x="531.00" y="539.54" width="92.10" height="1.80" fill="#F2A17F"/>
<rect x="531.00" y="541.04" width="92.10" height="2.30" fill="#F9C0A5"/>
<rect x="531.00" y="543.04" width="92.10" height="5.30" fill="#FAC7AE"/>
<rect x="531.00" y="548.04" width="92.10" height="4.30" fill="#F6B192"/>
<rect x="531.00" y="552.04" width="92.10" height="3.76" fill="#FBD1BA"/>
<rect x="531.00" y="555.51" width="92.10" height="2.80" fill="#7F0823"/>
<rect x="531.00" y="558.01" width="92.10" height="2.80" fill="#820923"/>
<rect x="531.00" y="560.51" width="92.10" height="3.30" fill="#67001F"/>
<rect x="531.00" y="563.51" width="92.10" height="2.30" fill="#A41429"/>
<rect x="531.00" y="565.51" width="92.10" height="1.80" fill="#B3192C"/>
<rect x="531.00" y="567.01" width="92.10" height="2.30" fill="#8E0C25"/>
<rect x="531.00" y="569.01" width="92.10" height="1.80" fill="#7C0722"/>
<rect x="531.00" y="570.51" width="92.10" height="2.30" fill="#C6413E"/>
<rect x="531.00" y="572.51" width="92.10" height="4.30" fill="#710321"/>
<rect x="531.00" y="576.51" width="92.10" height="2.80" fill="#9A1027"/>
<rect x="531.00" y="579.01" width="92.10" height="3.80" fill="#9E1228"/>
<rect x="531.00" y="582.51" width="92.10" height="5.30" fill="#9E1128"/>
<rect x="531.00" y="587.51" width="92.10" height="1.26" fill="#A41429"/>
<rect x="531.00" y="588.47" width="92.10" height="1.80" fill="#D35A4A"/>
<rect x="531.00" y="589.97" width="92.10" height="3.30" fill="#DA6A55"/>
<rect x="531.00" y="592.97" width="92.10" height="2.30" fill="#CF5246"/>
<rect x="531.00" y="594.97" width="92.10" height="4.79" fill="#D55F4D"/>
<rect x="531.00" y="599.46" width="92.10" height="4.30" fill="#B41D2D"/>
<rect x="531.00" y="603.46" width="92.10" height="2.30" fill="#C6403E"/>
<rect x="531.00" y="605.46" width="92.10" height="1.80" fill="#C3393B"/>
<rect x="531.00" y="606.96" width="92.10" height="3.80" fill="#CA4842"/>
<rect x="531.00" y="610.46" width="92.10" height="2.30" fill="#DB6C56"/>
<rect x="531.00" y="612.46" width="92.10" height="2.30" fill="#BC2B34"/>
<rect x="531.00" y="614.46" width="92.10" height="4.30" fill="#BA2732"/>
<rect x="531.00" y="618.46" width="92.10" height="3.28" fill="#C43B3C"/>
<rect x="531.00" y="621.44" width="92.10" height="1.80" fill="#DB6C56"/>
<rect x="531.00" y="622.94" width="92.10" height="1.80" fill="#E8896C"/>
<rect x="531.00" y="624.44" width="92.10" height="5.30" fill="#EF9979"/>
<rect x="531.00" y="629.44" width="92.10" height="4.30" fill="#D96652"/>
<rect x="531.00" y="633.44" width="92.10" height="2.80" fill="#EA8D70"/>
<rect x="531.00" y="635.94" width="92.10" height="2.80" fill="#E6856A"/>
<rect x="531.00" y="638.44" width="92.10" height="3.30" fill="#D55E4C"/>
<rect x="531.00" y="641.44" width="92.10" height="1.80" fill="#CB4B43"/>
<rect x="531.00" y="642.94" width="92.10" height="3.30" fill="#E17A61"/>
<rect x="531.00" y="645.94" width="92.10" height="2.30" fill="#DE725B"/>
<rect x="531.00" y="647.94" width="92.10" height="1.27" fill="#E98C6F"/>
<rect x="531.00" y="648.91" width="92.10" height="3.80" fill="#E58267"/>
<rect x="531.00" y="652.41" width="92.10" height="2.30" fill="#F2A17F"/>
<rect x="531.00" y="654.41" width="92.10" height="4.30" fill="#F3A381"/>
<rect x="531.00" y="658.41" width="92.10" height="1.80" fill="#E0775E"/>
<rect x="531.00" y="659.91" width="92.10" height="2.80" fill="#F4A684"/>
<rect x="531.00" y="662.41" width="92.10" height="3.80" fill="#EB9172"/>
<rect x="531.00" y="665.91" width="92.10" height="1.80" fill="#DE735B"/>
<rect x="531.00" y="667.41" width="92.10" height="3.78" fill="#DF745C"/>
<rect x="531.00" y="670.88" width="92.10" height="5.30" fill="#C03538"/>
<rect x="531.00" y="675.88" width="92.10" height="4.30" fill="#D05347"/>
<rect x="531.00" y="679.88" width="92.10" height="5.30" fill="#D6614E"/>
<rect x="531.00" y="684.88" width="92.10" height="1.80" fill="#BA2732"/>
<rect x="531.00" y="686.38" width="92.10" height="2.80" fill="#B2182B"/>
<rect x="531.00" y="688.88" width="92.10" height="3.30" fill="#DC6E58"/>
<rect x="531.00" y="691.88" width="92.10" height="3.30" fill="#D6614E"/>
<rect x="531.00" y="694.88" width="92.10" height="3.80" fill="#C94540"/>
<rect x="531.00" y="698.38" width="92.10" height="2.30" fill="#9C1128"/>
<rect x="531.00" y="700.38" width="92.10" height="1.42" fill="#C33B3B"/>
<rect x="622.80" y="109.50" width="92.10" height="3.80" fill="#8DC2DC"/>
<rect x="622.80" y="113.00" width="92.10" height="2.80" fill="#93C6DE"/>
<rect x="622.80" y="115.50" width="92.10" height="3.80" fill="#8BC0DB"/>
<rect x="622.80" y="119.00" width="92.10" height="1.80" fill="#82BBD8"/>
<rect x="622.80" y="120.50" width="92.10" height="1.28" fill="#86BEDA"/>
<rect x="622.80" y="121.48" width="92.10" height="5.30" fill="#94C6DF"/>
<rect x="622.80" y="126.48" width="92.10" height="3.80" fill="#95C7DF"/>
<rect x="622.80" y="129.98" width="92.10" height="2.30" fill="#93C5DE"/>
<rect x="622.80" y="131.98" width="92.10" height="4.30" fill="#92C5DE"/>
<rect x="622.80" y="135.98" width="92.10" height="1.80" fill="#ACD2E5"/>
<rect x="622.80" y="137.48" width="92.10" height="4.30" fill="#ACD2E5"/>
<rect x="622.80" y="141.48" width="92.10" height="3.30" fill="#B4D6E8"/>
<rect x="622.80" y="144.48" width="92.10" height="2.02" fill="#82BBD9"/>
<rect x="622.80" y="146.20" width="92.10" height="1.80" fill="#C5DFED"/>
<rect x="622.80" y="147.70" width="92.10" height="1.80" fill="#E8F0F4"/>
<rect x="622.80" y="149.20" width="92.10" height="3.80" fill="#E8F0F4"/>
<rect x="622.80" y="152.70" width="92.10" height="3.80" fill="#D6E8F1"/>
<rect x="622.80" y="156.20" width="92.10" height="4.30" fill="#DEEBF2"/>
<rect x="622.80" y="160.20" width="92.10" height="3.80" fill="#C3DEEC"/>
<rect x="622.80" y="163.70" width="92.10" height="5.30" fill="#D8E8F1"/>
<rect x="622.80" y="168.70" width="92.10" height="1.80" fill="#E1EDF3"/>
<rect x="622.80" y="170.20" width="92.10" height="3.30" fill="#D0E4F0"/>
<rect x="622.80" y="173.20" width="92.10" height="0.77" fill="#DDEBF2"/>
<rect x="622.80" y="173.68" width="92.10" height="3.30" fill="#D4E6F1"/>
<rect x="622.80" y="176.68" width="92.10" height="1.80" fill="#E3EEF3"/>
<rect x="622.80" y="178.18" width="92.10" height="1.29" fill="#D6E7F1"/>
<rect x="622.80" y="179.17" width="92.10" height="5.30" fill="#B1D5E7"/>
<rect x="622.80" y="184.17" width="92.10" height="3.54" fill="#D1E5F0"/>
<rect x="622.80" y="187.41" width="92.10" height="5.30" fill="#ECF2F5"/>
<rect x="622.80" y="192.41" width="92.10" height="3.30" fill="#E0ECF3"/>
<rect x="622.80" y="195.41" width="92.10" height="5.30" fill="#D7E8F1"/>
<rect x="622.80" y="200.41" width="92.10" height="2.30" fill="#DDEBF2"/>
<rect x="622.80" y="202.41" width="92.10" height="4.30" fill="#EAF1F5"/>
<rect x="622.80" y="206.41" width="92.10" height="3.30" fill="#DDEBF2"/>
<rect x="622.80" y="209.41" width="92.10" height="4.30" fill="#D9E9F1"/>
<rect x="622.80" y="213.41" width="92.10" height="1.77" fill="#D8E8F1"/>
<rect x="622.80" y="214.88" width="92.10" height="2.30" fill="#DDEBF2"/>
<rect x="622.80" y="216.88" width="92.10" height="3.80" fill="#D7E8F1"/>
<rect x="622.80" y="220.38" width="92.10" height="4.30" fill="#D8E8F1"/>
<rect x="622.80" y="224.38" width="92.10" height="1.79" fill="#D2E5F0"/>
<rect x="622.80" y="225.87" width="92.10" height="5.30" fill="#D5E7F1"/>
<rect x="622.80" y="230.87" width="92.10" height="1.80" fill="#BFDCEB"/>
<rect x="622.80" y="232.37" width="92.10" height="5.30" fill="#E9F0F4"/>
<rect x="622.80" y="237.37" width="92.10" height="1.80" fill="#B8D9E9"/>
<rect x="622.80" y="238.87" width="92.10" height="1.80" fill="#D2E6F0"/>
<rect x="622.80" y="240.37" width="92.10" height="4.30" fill="#A9D1E5"/>
<rect x="622.80" y="244.37" width="92.10" height="3.78" fill="#BCDAEA"/>
<rect x="622.80" y="247.84" width="92.10" height="1.80" fill="#B9D9E9"/>
<rect x="622.80" y="249.34" width="92.10" height="3.80" fill="#A7D0E4"/>
<rect x="622.80" y="252.84" width="92.10" height="1.80" fill="#A5CEE3"/>
<rect x="622.80" y="254.34" width="92.10" height="3.30" fill="#9FCBE2"/>
<rect x="622.80" y="257.34" width="92.10" height="1.80" fill="#A4CEE3"/>
<rect x="622.80" y="258.84" width="92.10" height="2.80" fill="#97C7DF"/>
<rect x="622.80" y="261.34" width="92.10" height="1.80" fill="#A9D1E4"/>
<rect x="622.80" y="262.84" width="92.10" height="1.78" fill="#CDE3EF"/>
<rect x="622.80" y="264.33" width="92.10" height="2.80" fill="#D2E5F0"/>
<rect x="622.80" y="266.83" width="92.10" height="1.80" fill="#C4DFEC"/>
<rect x="622.80" y="268.33" width="92.10" height="2.30" fill="#DCEAF2"/>
<rect x="622.80" y="270.33" width="92.10" height="3.30" fill="#DEEBF2"/>
<rect x="622.80" y="273.33" width="92.10" height="2.80" fill="#DEEBF2"/>
<rect x="622.80" y="275.83" width="92.10" height="3.30" fill="#CFE4EF"/>
<rect x="622.80" y="278.83" width="92.10" height="4.30" fill="#D4E7F1"/>
<rect x="622.80" y="282.83" width="92.10" height="1.03" fill="#D8E9F1"/>
<rect x="622.80" y="283.56" width="92.10" height="3.30" fill="#93C6DE"/>
<rect x="622.80" y="286.56" width="92.10" height="3.80" fill="#A0CCE2"/>
<rect x="622.80" y="290.06" width="92.10" height="3.30" fill="#96C7DF"/>
<rect x="622.80" y="293.06" width="92.10" height="2.30" fill="#91C4DE"/>
<rect x="622.80" y="295.06" width="92.10" height="3.80" fill="#9FCBE2"/>
<rect x="622.80" y="298.56" width="92.10" height="2.80" fill="#92C5DE"/>
<rect x="622.80" y="301.06" width="92.10" height="2.03" fill="#95C7DF"/>
<rect x="622.80" y="302.78" width="92.10" height="1.80" fill="#B7D8E9"/>
<rect x="622.80" y="304.28" width="92.10" height="3.80" fill="#C5DFED"/>
<rect x="622.80" y="307.78" width="92.10" height="3.80" fill="#A1CDE2"/>
<rect x="622.80" y="311.28" width="92.10" height="1.80" fill="#C9E1EE"/>
<rect x="622.80" y="312.78" width="92.10" height="2.80" fill="#D2E5F0"/>
<rect x="622.80" y="315.28" width="92.10" height="2.80" fill="#DCEAF2"/>
<rect x="622.80" y="317.78" width="92.10" height="3.80" fill="#AED3E6"/>
<rect x="622.80" y="321.28" width="92.10" height="2.30" fill="#C5DFED"/>
<rect x="622.80" y="323.28" width="92.10" height="1.78" fill="#BADAEA"/>
<rect x="622.80" y="324.76" width="92.10" height="3.80" fill="#E6EFF4"/>
<rect x="622.80" y="328.26" width="92.10" height="1.80" fill="#DCEAF2"/>
<rect x="622.80" y="329.76" width="92.10" height="3.54" fill="#DEEBF2"/>
<rect x="622.80" y="333.00" width="92.10" height="1.80" fill="#3985BC"/>
<rect x="622.80" y="334.50" width="92.10" height="2.80" fill="#58A1CA"/>
<rect x="622.80" y="337.00" width="92.10" height="4.30" fill="#61A6CD"/>
<rect x="622.80" y="341.00" width="92.10" height="4.30" fill="#4190C1"/>
<rect x="622.80" y="345.00" width="92.10" height="4.30" fill="#77B4D5"/>
<rect x="622.80" y="349.00" width="92.10" height="0.78" fill="#539DC8"/>
<rect x="622.80" y="349.48" width="92.10" height="2.80" fill="#CDE3EF"/>
<rect x="622.80" y="351.98" width="92.10" height="3.80" fill="#CFE4EF"/>
<rect x="622.80" y="355.48" width="92.10" height="5.30" fill="#BDDBEA"/>
<rect x="622.80" y="360.48" width="92.10" height="1.80" fill="#E1EDF3"/>
<rect x="622.80" y="361.98" width="92.10" height="4.30" fill="#DBEAF2"/>
<rect x="622.80" y="365.98" width="92.10" height="3.30" fill="#9ECBE1"/>
<rect x="622.80" y="368.98" width="92.10" height="2.80" fill="#CBE2EE"/>
<rect x="622.80" y="371.48" width="92.10" height="4.30" fill="#A3CDE3"/>
<rect x="622.80" y="375.48" width="92.10" height="2.30" fill="#BBDAEA"/>
<rect x="622.80" y="377.48" width="92.10" height="2.52" fill="#C9E1EE"/>
<rect x="622.80" y="379.70" width="92.10" height="5.30" fill="#CEE3EF"/>
<rect x="622.80" y="384.70" width="92.10" height="3.30" fill="#D3E6F0"/>
<rect x="622.80" y="387.70" width="92.10" height="3.80" fill="#E4EEF3"/>
<rect x="622.80" y="391.20" width="92.10" height="2.80" fill="#E9F1F4"/>
<rect x="622.80" y="393.70" width="92.10" height="5.30" fill="#D0E5F0"/>
<rect x="622.80" y="398.70" width="92.10" height="5.30" fill="#D1E5F0"/>
<rect x="622.80" y="403.70" width="92.10" height="1.02" fill="#D1E5F0"/>
<rect x="622.80" y="404.60" width="92.10" height="2.80" fill="#F8BEA1"/>
<rect x="622.80" y="407.10" width="92.10" height="2.80" fill="#F8BDA1"/>
<rect x="622.80" y="409.60" width="92.10" height="3.80" fill="#F09B7B"/>
<rect x="622.80" y="413.10" width="92.10" height="3.30" fill="#F6B191"/>
<rect x="622.80" y="416.10" width="92.10" height="4.30" fill="#F6B191"/>
<rect x="622.80" y="420.10" width="92.10" height="5.30" fill="#F09B7B"/>
<rect x="622.80" y="425.10" width="92.10" height="2.80" fill="#F6B191"/>
<rect x="622.80" y="427.60" width="92.10" height="2.30" fill="#FBD0B8"/>
<rect x="622.80" y="429.60" width="92.10" height="3.30" fill="#F7B799"/>
<rect x="622.80" y="432.60" width="92.10" height="3.80" fill="#F7B99B"/>
<rect x="622.80" y="436.10" width="92.10" height="5.30" fill="#F4A683"/>
<rect x="622.80" y="441.10" width="92.10" height="2.08" fill="#F8BFA3"/>
<rect x="622.80" y="442.88" width="92.10" height="5.30" fill="#DB6C57"/>
<rect x="622.80" y="447.88" width="92.10" height="2.30" fill="#E6866A"/>
<rect x="622.80" y="449.88" width="92.10" height="3.30" fill="#EF9979"/>
<rect x="622.80" y="452.88" width="92.10" height="1.80" fill="#E58368"/>
<rect x="622.80" y="454.38" width="92.10" height="3.30" fill="#EC9273"/>
<rect x="622.80" y="457.38" width="92.10" height="2.80" fill="#DE715A"/>
<rect x="622.80" y="459.88" width="92.10" height="2.53" fill="#F4A885"/>
<rect x="622.80" y="462.11" width="92.10" height="3.80" fill="#F5AA89"/>
<rect x="622.80" y="465.61" width="92.10" height="3.80" fill="#F9C1A6"/>
<rect x="622.80" y="469.11" width="92.10" height="4.30" fill="#FAC8AE"/>
<rect x="622.80" y="473.11" width="92.10" height="2.80" fill="#FBD1BB"/>
<rect x="622.80" y="475.61" width="92.10" height="0.54" fill="#FBCFB7"/>
<rect x="622.80" y="475.85" width="92.10" height="1.80" fill="#EF9A79"/>
<rect x="622.80" y="477.35" width="92.10" height="4.30" fill="#E37E64"/>
<rect x="622.80" y="481.35" width="92.10" height="3.30" fill="#E7866B"/>
<rect x="622.80" y="484.35" width="92.10" height="2.80" fill="#F5AD8C"/>
<rect x="622.80" y="486.85" width="92.10" height="3.03" fill="#EA8E70"/>
<rect x="622.80" y="489.58" width="92.10" height="2.30" fill="#FACBB2"/>
<rect x="622.80" y="491.58" width="92.10" height="3.30" fill="#F7F5F4"/>
<rect x="622.80" y="494.58" width="92.10" height="3.30" fill="#F8F1ED"/>
<rect x="622.80" y="497.58" width="92.10" height="3.29" fill="#FCE0CF"/>
<rect x="622.80" y="500.57" width="92.10" height="2.80" fill="#F3A380"/>
<rect x="622.80" y="503.07" width="92.10" height="1.80" fill="#F7B596"/>
<rect x="622.80" y="504.57" width="92.10" height="2.30" fill="#F3A381"/>
<rect x="622.80" y="506.57" width="92.10" height="1.80" fill="#E68468"/>
<rect x="622.80" y="508.07" width="92.10" height="5.30" fill="#EF9A7A"/>
<rect x="622.80" y="513.07" width="92.10" height="4.30" fill="#E7876B"/>
<rect x="622.80" y="517.07" width="92.10" height="2.80" fill="#F4A582"/>
<rect x="622.80" y="519.57" width="92.10" height="0.53" fill="#F7B89A"/>
<rect x="622.80" y="519.80" width="92.10" height="3.30" fill="#FBE3D6"/>
<rect x="622.80" y="522.80" width="92.10" height="5.30" fill="#FBE4D7"/>
<rect x="622.80" y="527.80" width="92.10" height="3.80" fill="#FBD2BB"/>
<rect x="622.80" y="531.30" width="92.10" height="2.53" fill="#F7B799"/>
<rect x="622.80" y="533.53" width="92.10" height="2.30" fill="#FBD2BB"/>
<rect x="622.80" y="535.53" width="92.10" height="1.80" fill="#FDDDCA"/>
<rect x="622.80" y="537.03" width="92.10" height="2.80" fill="#F9EEE7"/>
<rect x="622.80" y="539.53" width="92.10" height="4.30" fill="#FAE7DC"/>
<rect x="622.80" y="543.53" width="92.10" height="1.80" fill="#FBE2D3"/>
<rect x="622.80" y="545.03" width="92.10" height="1.80" fill="#FBE3D4"/>
<rect x="622.80" y="546.53" width="92.10" height="2.80" fill="#FBE5D7"/>
<rect x="622.80" y="549.03" width="92.10" height="2.80" fill="#F9EDE6"/>
<rect x="622.80" y="551.53" width="92.10" height="3.30" fill="#FDDAC6"/>
<rect x="622.80" y="554.53" width="92.10" height="4.02" fill="#F9ECE4"/>
<rect x="622.80" y="558.25" width="92.10" height="1.80" fill="#FAEAE0"/>
<rect x="622.80" y="559.75" width="92.10" height="3.80" fill="#FBE3D5"/>
<rect x="622.80" y="563.25" width="92.10" height="3.80" fill="#F9EFE9"/>
<rect x="622.80" y="566.75" width="92.10" height="3.80" fill="#FCE0CF"/>
<rect x="622.80" y="570.25" width="92.10" height="3.80" fill="#FCE1D1"/>
<rect x="622.80" y="573.75" width="92.10" height="3.30" fill="#F9EEE7"/>
<rect x="622.80" y="576.75" width="92.10" height="3.80" fill="#FAE9E0"/>
<rect x="622.80" y="580.25" width="92.10" height="5.30" fill="#FAEAE0"/>
<rect x="622.80" y="585.25" width="92.10" height="3.80" fill="#FAEAE1"/>
<rect x="622.80" y="588.75" width="92.10" height="2.30" fill="#FAEBE2"/>
<rect x="622.80" y="590.75" width="92.10" height="3.51" fill="#F5F6F7"/>
<rect x="622.80" y="593.97" width="92.10" height="3.30" fill="#E98C6F"/>
<rect x="622.80" y="596.97" width="92.10" height="5.30" fill="#E58368"/>
<rect x="622.80" y="601.97" width="92.10" height="4.30" fill="#F5AC8B"/>
<rect x="622.80" y="605.97" width="92.10" height="5.30" fill="#EF9979"/>
<rect x="622.80" y="610.97" width="92.10" height="2.30" fill="#EC9475"/>
<rect x="622.80" y="612.97" width="92.10" height="2.80" fill="#EA8E71"/>
<rect x="622.80" y="615.47" width="92.10" height="0.78" fill="#E7886B"/>
<rect x="622.80" y="615.94" width="92.10" height="1.80" fill="#FDDCC8"/>
<rect x="622.80" y="617.44" width="92.10" height="1.80" fill="#F0F4F6"/>
<rect x="622.80" y="618.94" width="92.10" height="2.80" fill="#FBE6D9"/>
<rect x="622.80" y="621.44" width="92.10" height="1.80" fill="#FCDECC"/>
<rect x="622.80" y="622.94" width="92.10" height="1.80" fill="#FAE9DE"/>
<rect x="622.80" y="624.44" width="92.10" height="5.30" fill="#FCE1D1"/>
<rect x="622.80" y="629.44" width="92.10" height="1.80" fill="#F7F7F7"/>
<rect x="622.80" y="630.94" width="92.10" height="2.30" fill="#FBE6D9"/>
<rect x="622.80" y="632.94" width="92.10" height="2.30" fill="#FBD0B9"/>
<rect x="622.80" y="634.94" width="92.10" height="5.30" fill="#FBE4D7"/>
<rect x="622.80" y="639.94" width="92.10" height="2.30" fill="#F8F3EF"/>
<rect x="622.80" y="641.94" width="92.10" height="1.77" fill="#FCD5BF"/>
<rect x="622.80" y="643.41" width="92.10" height="3.30" fill="#FCD3BD"/>
<rect x="622.80" y="646.41" width="92.10" height="3.30" fill="#F6B394"/>
<rect x="622.80" y="649.41" width="92.10" height="1.80" fill="#FACAB1"/>
<rect x="622.80" y="650.91" width="92.10" height="4.30" fill="#F7B99B"/>
<rect x="622.80" y="654.91" width="92.10" height="3.80" fill="#FAC8AF"/>
<rect x="622.80" y="658.41" width="92.10" height="4.30" fill="#F8BB9F"/>
<rect x="622.80" y="662.41" width="92.10" height="3.30" fill="#F4A684"/>
<rect x="622.80" y="665.41" width="92.10" height="1.80" fill="#F9C6AC"/>
<rect x="622.80" y="666.91" width="92.10" height="2.30" fill="#F9C2A7"/>
<rect x="622.80" y="668.91" width="92.10" height="1.80" fill="#F8BB9E"/>
<rect x="622.80" y="670.41" width="92.10" height="2.80" fill="#FDD9C4"/>
<rect x="622.80" y="672.91" width="92.10" height="2.80" fill="#F9C0A5"/>
<rect x="622.80" y="675.41" width="92.10" height="3.80" fill="#F8BFA4"/>
<rect x="622.80" y="678.91" width="92.10" height="4.30" fill="#FCD7C2"/>
<rect x="622.80" y="682.91" width="92.10" height="1.80" fill="#F7B89B"/>
<rect x="622.80" y="684.41" width="92.10" height="2.80" fill="#FBD0B8"/>
<rect x="622.80" y="686.91" width="92.10" height="3.80" fill="#FACBB2"/>
<rect x="622.80" y="690.41" width="92.10" height="2.80" fill="#F8BFA3"/>
<rect x="622.80" y="692.91" width="92.10" height="2.80" fill="#FACBB2"/>
<rect x="622.80" y="695.41" width="92.10" height="4.30" fill="#FAC6AC"/>
<rect x="622.80" y="699.41" width="92.10" height="1.80" fill="#FBD1BA"/>
<rect x="622.80" y="700.91" width="92.10" height="0.89" fill="#F9C2A7"/>
<rect x="714.60" y="109.50" width="92.10" height="2.30" fill="#D6E7F1"/>
<rect x="714.60" y="111.50" width="92.10" height="5.30" fill="#D3E6F0"/>
<rect x="714.60" y="116.50" width="92.10" height="5.28" fill="#D7E8F1"/>
<rect x="714.60" y="121.48" width="92.10" height="5.30" fill="#8CC1DC"/>
<rect x="714.60" y="126.48" width="92.10" height="5.30" fill="#7CB7D7"/>
<rect x="714.60" y="131.48" width="92.10" height="2.80" fill="#68ABD0"/>
<rect x="714.60" y="133.98" width="92.10" height="2.30" fill="#73B1D3"/>
<rect x="714.60" y="135.98" width="92.10" height="3.80" fill="#5DA4CC"/>
<rect x="714.60" y="139.48" width="92.10" height="1.53" fill="#6EAED2"/>
<rect x="714.60" y="140.71" width="92.10" height="2.30" fill="#B5D7E8"/>
<rect x="714.60" y="142.71" width="92.10" height="2.30" fill="#B2D5E7"/>
<rect x="714.60" y="144.71" width="92.10" height="4.30" fill="#82BBD8"/>
<rect x="714.60" y="148.71" width="92.10" height="2.80" fill="#89BFDB"/>
<rect x="714.60" y="151.21" width="92.10" height="2.80" fill="#91C4DE"/>
<rect x="714.60" y="153.71" width="92.10" height="3.80" fill="#9FCBE2"/>
<rect x="714.60" y="157.21" width="92.10" height="2.30" fill="#BBDAEA"/>
<rect x="714.60" y="159.21" width="92.10" height="2.30" fill="#A6CFE4"/>
<rect x="714.60" y="161.21" width="92.10" height="3.80" fill="#96C7DF"/>
<rect x="714.60" y="164.71" width="92.10" height="1.80" fill="#8DC2DC"/>
<rect x="714.60" y="166.21" width="92.10" height="2.27" fill="#9AC9E0"/>
<rect x="714.60" y="168.18" width="92.10" height="5.30" fill="#A5CFE4"/>
<rect x="714.60" y="173.18" width="92.10" height="3.80" fill="#D1E5F0"/>
<rect x="714.60" y="176.68" width="92.10" height="2.30" fill="#B5D7E8"/>
<rect x="714.60" y="178.68" width="92.10" height="1.80" fill="#D1E5F0"/>
<rect x="714.60" y="180.18" width="92.10" height="4.30" fill="#CFE4F0"/>
<rect x="714.60" y="184.18" width="92.10" height="2.80" fill="#DCEAF2"/>
<rect x="714.60" y="186.68" width="92.10" height="1.03" fill="#B8D8E9"/>
<rect x="714.60" y="187.41" width="92.10" height="3.80" fill="#DCEAF2"/>
<rect x="714.60" y="190.91" width="92.10" height="2.80" fill="#E9F0F4"/>
<rect x="714.60" y="193.41" width="92.10" height="2.30" fill="#CAE1EE"/>
<rect x="714.60" y="195.41" width="92.10" height="1.80" fill="#E0ECF3"/>
<rect x="714.60" y="196.91" width="92.10" height="2.80" fill="#DCEAF2"/>
<rect x="714.60" y="199.41" width="92.10" height="2.30" fill="#E6EFF4"/>
<rect x="714.60" y="201.41" width="92.10" height="2.78" fill="#D5E7F1"/>
<rect x="714.60" y="203.89" width="92.10" height="3.30" fill="#97C8E0"/>
<rect x="714.60" y="206.89" width="92.10" height="4.30" fill="#6FAFD2"/>
<rect x="714.60" y="210.89" width="92.10" height="4.29" fill="#91C4DE"/>
<rect x="714.60" y="214.88" width="92.10" height="2.80" fill="#CFE4EF"/>
<rect x="714.60" y="217.38" width="92.10" height="2.30" fill="#E8F0F4"/>
<rect x="714.60" y="219.38" width="92.10" height="4.30" fill="#D9E9F1"/>
<rect x="714.60" y="223.38" width="92.10" height="4.30" fill="#CBE2EE"/>
<rect x="714.60" y="227.38" width="92.10" height="1.54" fill="#E0ECF3"/>
<rect x="714.60" y="228.62" width="92.10" height="4.30" fill="#92C5DE"/>
<rect x="714.60" y="232.62" width="92.10" height="5.30" fill="#85BDDA"/>
<rect x="714.60" y="237.62" width="92.10" height="3.30" fill="#82BBD9"/>
<rect x="714.60" y="240.62" width="92.10" height="2.30" fill="#B0D4E6"/>
<rect x="714.60" y="242.62" width="92.10" height="2.80" fill="#BBDAEA"/>
<rect x="714.60" y="245.12" width="92.10" height="3.03" fill="#B7D8E8"/>
<rect x="714.60" y="247.84" width="92.10" height="2.30" fill="#BEDBEB"/>
<rect x="714.60" y="249.84" width="92.10" height="1.80" fill="#BAD9E9"/>
<rect x="714.60" y="251.34" width="92.10" height="3.80" fill="#C7E0ED"/>
<rect x="714.60" y="254.84" width="92.10" height="2.80" fill="#CCE2EE"/>
<rect x="714.60" y="257.34" width="92.10" height="2.30" fill="#BBDAEA"/>
<rect x="714.60" y="259.34" width="92.10" height="2.80" fill="#C4DEEC"/>
<rect x="714.60" y="261.84" width="92.10" height="4.30" fill="#B7D8E9"/>
<rect x="714.60" y="265.84" width="92.10" height="5.30" fill="#B5D7E8"/>
<rect x="714.60" y="270.84" width="92.10" height="2.30" fill="#A1CDE2"/>
<rect x="714.60" y="272.84" width="92.10" height="2.80" fill="#B1D5E7"/>
<rect x="714.60" y="275.34" width="92.10" height="3.30" fill="#B2D5E7"/>
<rect x="714.60" y="278.34" width="92.10" height="1.80" fill="#A7D0E4"/>
<rect x="714.60" y="279.84" width="92.10" height="1.80" fill="#D2E5F0"/>
<rect x="714.60" y="281.34" width="92.10" height="2.51" fill="#A0CCE2"/>
<rect x="714.60" y="283.56" width="92.10" height="1.80" fill="#D9E9F1"/>
<rect x="714.60" y="285.06" width="92.10" height="4.30" fill="#B6D7E8"/>
<rect x="714.60" y="289.06" width="92.10" height="1.80" fill="#E0ECF3"/>
<rect x="714.60" y="290.56" width="92.10" height="1.80" fill="#C5DFED"/>
<rect x="714.60" y="292.06" width="92.10" height="5.30" fill="#BBDAEA"/>
<rect x="714.60" y="297.06" width="92.10" height="2.80" fill="#E1EDF3"/>
<rect x="714.60" y="299.56" width="92.10" height="4.30" fill="#D8E9F1"/>
<rect x="714.60" y="303.56" width="92.10" height="4.30" fill="#BFDCEB"/>
<rect x="714.60" y="307.56" width="92.10" height="1.02" fill="#DFECF3"/>
<rect x="714.60" y="308.28" width="92.10" height="2.30" fill="#A4CEE3"/>
<rect x="714.60" y="310.28" width="92.10" height="2.80" fill="#91C4DE"/>
<rect x="714.60" y="312.78" width="92.10" height="3.30" fill="#A1CDE2"/>
<rect x="714.60" y="315.78" width="92.10" height="3.30" fill="#C3DEEC"/>
<rect x="714.60" y="318.78" width="92.10" height="4.30" fill="#97C7DF"/>
<rect x="714.60" y="322.78" width="92.10" height="4.30" fill="#B3D6E8"/>
<rect x="714.60" y="326.78" width="92.10" height="3.30" fill="#88BFDB"/>
<rect x="714.60" y="329.78" width="92.10" height="0.78" fill="#C4DEEC"/>
<rect x="714.60" y="330.25" width="92.10" height="3.30" fill="#D4E6F0"/>
<rect x="714.60" y="333.25" width="92.10" height="4.30" fill="#99C9E0"/>
<rect x="714.60" y="337.25" width="92.10" height="2.30" fill="#C7E0ED"/>
<rect x="714.60" y="339.25" width="92.10" height="3.30" fill="#CBE2EE"/>
<rect x="714.60" y="342.25" width="92.10" height="4.30" fill="#C4DEEC"/>
<rect x="714.60" y="346.25" width="92.10" height="5.30" fill="#D0E5F0"/>
<rect x="714.60" y="351.25" width="92.10" height="3.80" fill="#BBDAEA"/>
<rect x="714.60" y="354.75" width="92.10" height="2.30" fill="#DFECF3"/>
<rect x="714.60" y="356.75" width="92.10" height="3.80" fill="#C4DFEC"/>
<rect x="714.60" y="360.25" width="92.10" height="2.80" fill="#CAE2EE"/>
<rect x="714.60" y="362.75" width="92.10" height="2.80" fill="#D1E5F0"/>
<rect x="714.60" y="365.25" width="92.10" height="2.80" fill="#BEDBEB"/>
<rect x="714.60" y="367.75" width="92.10" height="2.80" fill="#D2E5F0"/>
<rect x="714.60" y="370.25" width="92.10" height="2.30" fill="#DAE9F2"/>
<rect x="714.60" y="372.25" width="92.10" height="4.30" fill="#DCEAF2"/>
<rect x="714.60" y="376.25" width="92.10" height="3.30" fill="#CCE2EE"/>
<rect x="714.60" y="379.25" width="92.10" height="3.80" fill="#D7E8F1"/>
<rect x="714.60" y="382.75" width="92.10" height="4.30" fill="#9BCAE1"/>
<rect x="714.60" y="386.75" width="92.10" height="2.80" fill="#D7E8F1"/>
<rect x="714.60" y="389.25" width="92.10" height="4.30" fill="#BDDBEA"/>
<rect x="714.60" y="393.25" width="92.10" height="2.30" fill="#E7EFF4"/>
<rect x="714.60" y="395.25" width="92.10" height="3.80" fill="#B8D9E9"/>
<rect x="714.60" y="398.75" width="92.10" height="5.30" fill="#C3DEEC"/>
<rect x="714.60" y="403.75" width="92.10" height="0.97" fill="#A8D0E4"/>
<rect x="714.60" y="404.60" width="92.10" height="2.30" fill="#F8BEA2"/>
<rect x="714.60" y="406.60" width="92.10" height="4.30" fill="#F9C2A6"/>
<rect x="714.60" y="410.60" width="92.10" height="3.30" fill="#FACBB2"/>
<rect x="714.60" y="413.60" width="92.10" height="5.30" fill="#F6B292"/>
<rect x="714.60" y="418.60" width="92.10" height="1.80" fill="#FCD8C3"/>
<rect x="714.60" y="420.10" width="92.10" height="4.30" fill="#F7B99C"/>
<rect x="714.60" y="424.10" width="92.10" height="2.30" fill="#F4A481"/>
<rect x="714.60" y="426.10" width="92.10" height="1.80" fill="#F4A785"/>
<rect x="714.60" y="427.60" width="92.10" height="2.30" fill="#F6B08F"/>
<rect x="714.60" y="429.60" width="92.10" height="1.80" fill="#F8BB9E"/>
<rect x="714.60" y="431.10" width="92.10" height="1.80" fill="#FAC8AF"/>
<rect x="714.60" y="432.60" width="92.10" height="2.30" fill="#F8BEA2"/>
<rect x="714.60" y="434.60" width="92.10" height="2.80" fill="#F3A280"/>
<rect x="714.60" y="437.10" width="92.10" height="2.80" fill="#F6B292"/>
<rect x="714.60" y="439.60" width="92.10" height="1.80" fill="#F6AF8F"/>
<rect x="714.60" y="441.10" width="92.10" height="3.30" fill="#EC9274"/>
<rect x="714.60" y="444.10" width="92.10" height="1.80" fill="#F7B798"/>
<rect x="714.60" y="445.60" width="92.10" height="4.30" fill="#F8C0A4"/>
<rect x="714.60" y="449.60" width="92.10" height="3.80" fill="#FCE1D2"/>
<rect x="714.60" y="453.10" width="92.10" height="2.80" fill="#F4A482"/>
<rect x="714.60" y="455.60" width="92.10" height="3.30" fill="#F4A885"/>
<rect x="714.60" y="458.60" width="92.10" height="3.30" fill="#F5AD8C"/>
<rect x="714.60" y="461.60" width="92.10" height="1.80" fill="#F19E7D"/>
<rect x="714.60" y="463.10" width="92.10" height="2.80" fill="#F09C7B"/>
<rect x="714.60" y="465.60" width="92.10" height="4.30" fill="#F9C2A7"/>
<rect x="714.60" y="469.60" width="92.10" height="3.80" fill="#EF9A7A"/>
<rect x="714.60" y="473.10" width="92.10" height="2.80" fill="#F8C0A4"/>
<rect x="714.60" y="475.60" width="92.10" height="4.30" fill="#F7B596"/>
<rect x="714.60" y="479.60" width="92.10" height="1.80" fill="#F5AB8A"/>
<rect x="714.60" y="481.10" width="92.10" height="1.80" fill="#F6B090"/>
<rect x="714.60" y="482.60" width="92.10" height="2.80" fill="#FCD8C3"/>
<rect x="714.60" y="485.10" width="92.10" height="2.80" fill="#F5AB89"/>
<rect x="714.60" y="487.60" width="92.10" height="5.30" fill="#F09B7A"/>
<rect x="714.60" y="492.60" width="92.10" height="2.77" fill="#F4A582"/>
<rect x="714.60" y="495.07" width="92.10" height="5.30" fill="#F8BA9D"/>
<rect x="714.60" y="500.07" width="92.10" height="2.80" fill="#FCD7C2"/>
<rect x="714.60" y="502.57" width="92.10" height="2.30" fill="#FCE1D1"/>
<rect x="714.60" y="504.57" width="92.10" height="4.30" fill="#FBCFB8"/>
<rect x="714.60" y="508.57" width="92.10" height="2.80" fill="#FCE0D0"/>
<rect x="714.60" y="511.07" width="92.10" height="2.30" fill="#FCE1D2"/>
<rect x="714.60" y="513.07" width="92.10" height="5.30" fill="#FDDCC8"/>
<rect x="714.60" y="518.07" width="92.10" height="2.80" fill="#FCD6C1"/>
<rect x="714.60" y="520.57" width="92.10" height="3.80" fill="#FBD1BA"/>
<rect x="714.60" y="524.07" width="92.10" height="5.30" fill="#FBE5D8"/>
<rect x="714.60" y="529.07" width="92.10" height="4.30" fill="#FBE5D9"/>
<rect x="714.60" y="533.07" width="92.10" height="3.30" fill="#F6B292"/>
<rect x="714.60" y="536.07" width="92.10" height="3.25" fill="#FBE5D9"/>
<rect x="714.60" y="539.03" width="92.10" height="3.30" fill="#FCD7C2"/>
<rect x="714.60" y="542.03" width="92.10" height="2.80" fill="#FBCCB4"/>
<rect x="714.60" y="544.53" width="92.10" height="3.80" fill="#FCD3BC"/>
<rect x="714.60" y="548.03" width="92.10" height="4.30" fill="#FBD0B9"/>
<rect x="714.60" y="552.03" width="92.10" height="2.30" fill="#F9C2A7"/>
<rect x="714.60" y="554.03" width="92.10" height="3.30" fill="#F8BB9E"/>
<rect x="714.60" y="557.03" width="92.10" height="1.80" fill="#F5A987"/>
<rect x="714.60" y="558.53" width="92.10" height="2.78" fill="#FBD1BA"/>
<rect x="714.60" y="561.00" width="92.10" height="2.30" fill="#FCE0CF"/>
<rect x="714.60" y="563.00" width="92.10" height="1.80" fill="#FCD6C1"/>
<rect x="714.60" y="564.50" width="92.10" height="5.30" fill="#F9EFEA"/>
<rect x="714.60" y="569.50" width="92.10" height="3.80" fill="#F9EDE6"/>
<rect x="714.60" y="573.00" width="92.10" height="3.30" fill="#FCDFCE"/>
<rect x="714.60" y="576.00" width="92.10" height="1.80" fill="#FCDFCD"/>
<rect x="714.60" y="577.50" width="92.10" height="3.80" fill="#FBE6DB"/>
<rect x="714.60" y="581.00" width="92.10" height="1.80" fill="#F7F5F4"/>
<rect x="714.60" y="582.50" width="92.10" height="3.30" fill="#F7BA9D"/>
<rect x="714.60" y="585.50" width="92.10" height="2.30" fill="#FCE0D0"/>
<rect x="714.60" y="587.50" width="92.10" height="4.30" fill="#FCDDCB"/>
<rect x="714.60" y="591.50" width="92.10" height="3.30" fill="#FDDAC6"/>
<rect x="714.60" y="594.50" width="92.10" height="5.26" fill="#FAEAE0"/>
<rect x="714.60" y="599.46" width="92.10" height="2.30" fill="#FCD3BC"/>
<rect x="714.60" y="601.46" width="92.10" height="3.30" fill="#F8BEA2"/>
<rect x="714.60" y="604.46" width="92.10" height="3.30" fill="#F9C4A9"/>
<rect x="714.60" y="607.46" width="92.10" height="3.30" fill="#F4A482"/>
<rect x="714.60" y="610.46" width="92.10" height="5.30" fill="#FCD3BD"/>
<rect x="714.60" y="615.46" width="92.10" height="2.30" fill="#F09C7B"/>
<rect x="714.60" y="617.46" width="92.10" height="3.80" fill="#FCD4BE"/>
<rect x="714.60" y="620.96" width="92.10" height="1.80" fill="#FACAB1"/>
<rect x="714.60" y="622.46" width="92.10" height="4.30" fill="#FCD2BC"/>
<rect x="714.60" y="626.46" width="92.10" height="0.77" fill="#FDD8C3"/>
<rect x="714.60" y="626.93" width="92.10" height="3.80" fill="#FBE4D6"/>
<rect x="714.60" y="630.43" width="92.10" height="3.30" fill="#FBCEB6"/>
<rect x="714.60" y="633.43" width="92.10" height="4.30" fill="#FCE2D3"/>
<rect x="714.60" y="637.43" width="92.10" height="2.30" fill="#FCE1D2"/>
<rect x="714.60" y="639.43" width="92.10" height="4.30" fill="#FBD2BB"/>
<rect x="714.60" y="643.43" width="92.10" height="1.80" fill="#FDDAC6"/>
<rect x="714.60" y="644.93" width="92.10" height="4.30" fill="#FBE4D7"/>
<rect x="714.60" y="648.93" width="92.10" height="3.30" fill="#FCE1D0"/>
<rect x="714.60" y="651.93" width="92.10" height="2.77" fill="#FBE4D6"/>
<rect x="714.60" y="654.40" width="92.10" height="2.80" fill="#FAE8DE"/>
<rect x="714.60" y="656.90" width="92.10" height="2.80" fill="#FDDAC5"/>
<rect x="714.60" y="659.40" width="92.10" height="3.80" fill="#FACAB1"/>
<rect x="714.60" y="662.90" width="92.10" height="2.80" fill="#F7B799"/>
<rect x="714.60" y="665.40" width="92.10" height="1.80" fill="#F9C4AA"/>
<rect x="714.60" y="666.90" width="92.10" height="2.30" fill="#EE9878"/>
<rect x="714.60" y="668.90" width="92.10" height="3.80" fill="#FACBB2"/>
<rect x="714.60" y="672.40" width="92.10" height="5.30" fill="#FCD8C3"/>
<rect x="714.60" y="677.40" width="92.10" height="2.80" fill="#FBD2BB"/>
<rect x="714.60" y="679.90" width="92.10" height="4.30" fill="#FCD4BF"/>
<rect x="714.60" y="683.90" width="92.10" height="2.80" fill="#FBCEB7"/>
<rect x="714.60" y="686.40" width="92.10" height="3.30" fill="#FCD8C3"/>
<rect x="714.60" y="689.40" width="92.10" height="2.30" fill="#FCE1D1"/>
<rect x="714.60" y="691.40" width="92.10" height="4.30" fill="#FCD2BC"/>
<rect x="714.60" y="695.40" width="92.10" height="3.80" fill="#F7B799"/>
<rect x="714.60" y="698.90" width="92.10" height="2.90" fill="#FCD8C3"/>
<rect x="806.40" y="109.50" width="92.10" height="3.30" fill="#ACD2E6"/>
<rect x="806.40" y="112.50" width="92.10" height="2.30" fill="#9AC9E0"/>
<rect x="806.40" y="114.50" width="92.10" height="1.79" fill="#A3CEE3"/>
<rect x="806.40" y="115.99" width="92.10" height="5.30" fill="#E1EDF3"/>
<rect x="806.40" y="120.99" width="92.10" height="5.30" fill="#F2F5F6"/>
<rect x="806.40" y="125.99" width="92.10" height="4.30" fill="#DBEAF2"/>
<rect x="806.40" y="129.99" width="92.10" height="3.80" fill="#F5F6F7"/>
<rect x="806.40" y="133.49" width="92.10" height="2.03" fill="#F0F4F6"/>
<rect x="806.40" y="135.22" width="92.10" height="3.80" fill="#B1D5E7"/>
<rect x="806.40" y="138.72" width="92.10" height="3.80" fill="#C7E0ED"/>
<rect x="806.40" y="142.22" width="92.10" height="3.30" fill="#99C9E0"/>
<rect x="806.40" y="145.22" width="92.10" height="5.30" fill="#8AC0DB"/>
<rect x="806.40" y="150.22" width="92.10" height="3.80" fill="#A6CFE4"/>
<rect x="806.40" y="153.72" width="92.10" height="1.03" fill="#9DCBE1"/>
<rect x="806.40" y="154.45" width="92.10" height="1.80" fill="#99C9E0"/>
<rect x="806.40" y="155.95" width="92.10" height="2.30" fill="#7BB6D6"/>
<rect x="806.40" y="157.95" width="92.10" height="3.30" fill="#6AACD0"/>
<rect x="806.40" y="160.95" width="92.10" height="3.30" fill="#9DCAE1"/>
<rect x="806.40" y="163.95" width="92.10" height="1.80" fill="#509BC7"/>
<rect x="806.40" y="165.45" width="92.10" height="3.80" fill="#519CC8"/>
<rect x="806.40" y="168.95" width="92.10" height="1.80" fill="#A2CDE3"/>
<rect x="806.40" y="170.45" width="92.10" height="2.30" fill="#5CA3CC"/>
<rect x="806.40" y="172.45" width="92.10" height="1.53" fill="#76B4D5"/>
<rect x="806.40" y="173.68" width="92.10" height="5.30" fill="#569FCA"/>
<rect x="806.40" y="178.68" width="92.10" height="4.30" fill="#59A1CB"/>
<rect x="806.40" y="182.68" width="92.10" height="1.80" fill="#4292C2"/>
<rect x="806.40" y="184.18" width="92.10" height="2.30" fill="#509BC7"/>
<rect x="806.40" y="186.18" width="92.10" height="2.80" fill="#8EC3DD"/>
<rect x="806.40" y="188.68" width="92.10" height="4.30" fill="#4190C1"/>
<rect x="806.40" y="192.68" width="92.10" height="2.80" fill="#72B1D3"/>
<rect x="806.40" y="195.18" width="92.10" height="1.80" fill="#60A5CD"/>
<rect x="806.40" y="196.68" width="92.10" height="3.80" fill="#82BBD8"/>
<rect x="806.40" y="200.18" width="92.10" height="1.27" fill="#A4CEE3"/>
<rect x="806.40" y="201.14" width="92.10" height="2.30" fill="#AFD4E6"/>
<rect x="806.40" y="203.14" width="92.10" height="2.80" fill="#90C4DD"/>
<rect x="806.40" y="205.64" width="92.10" height="1.80" fill="#BFDCEB"/>
<rect x="806.40" y="207.14" width="92.10" height="5.30" fill="#BCDAEA"/>
<rect x="806.40" y="212.14" width="92.10" height="5.30" fill="#A3CEE3"/>
<rect x="806.40" y="217.14" width="92.10" height="1.80" fill="#9CCAE1"/>
<rect x="806.40" y="218.64" width="92.10" height="2.80" fill="#A5CFE4"/>
<rect x="806.40" y="221.14" width="92.10" height="2.30" fill="#C2DDEC"/>
<rect x="806.40" y="223.14" width="92.10" height="5.30" fill="#CDE3EF"/>
<rect x="806.40" y="228.14" width="92.10" height="0.77" fill="#91C4DE"/>
<rect x="806.40" y="228.62" width="92.10" height="3.80" fill="#A0CCE2"/>
<rect x="806.40" y="232.12" width="92.10" height="2.80" fill="#A4CEE3"/>
<rect x="806.40" y="234.62" width="92.10" height="5.30" fill="#BCDAEA"/>
<rect x="806.40" y="239.62" width="92.10" height="2.80" fill="#C7E0ED"/>
<rect x="806.40" y="242.12" width="92.10" height="2.80" fill="#C2DEEC"/>
<rect x="806.40" y="244.62" width="92.10" height="2.30" fill="#ABD2E5"/>
<rect x="806.40" y="246.62" width="92.10" height="1.80" fill="#C6DFED"/>
<rect x="806.40" y="248.12" width="92.10" height="5.30" fill="#C8E0ED"/>
<rect x="806.40" y="253.12" width="92.10" height="3.80" fill="#BCDBEA"/>
<rect x="806.40" y="256.62" width="92.10" height="5.26" fill="#B2D5E7"/>
<rect x="806.40" y="261.58" width="92.10" height="5.30" fill="#8DC2DC"/>
<rect x="806.40" y="266.58" width="92.10" height="3.30" fill="#C5DFED"/>
<rect x="806.40" y="269.58" width="92.10" height="3.30" fill="#9ECBE1"/>
<rect x="806.40" y="272.58" width="92.10" height="3.30" fill="#ACD2E5"/>
<rect x="806.40" y="275.58" width="92.10" height="3.80" fill="#D7E8F1"/>
<rect x="806.40" y="279.08" width="92.10" height="1.80" fill="#94C6DF"/>
<rect x="806.40" y="280.58" width="92.10" height="2.80" fill="#B9D9E9"/>
<rect x="806.40" y="283.08" width="92.10" height="0.78" fill="#9FCCE2"/>
<rect x="806.40" y="283.56" width="92.10" height="2.30" fill="#E7F0F4"/>
<rect x="806.40" y="285.56" width="92.10" height="5.30" fill="#E0ECF3"/>
<rect x="806.40" y="290.56" width="92.10" height="3.80" fill="#F4F6F7"/>
<rect x="806.40" y="294.06" width="92.10" height="3.30" fill="#E0ECF3"/>
<rect x="806.40" y="297.06" width="92.10" height="1.80" fill="#F1F4F6"/>
<rect x="806.40" y="298.56" width="92.10" height="2.80" fill="#DFECF3"/>
<rect x="806.40" y="301.06" width="92.10" height="1.80" fill="#E4EEF3"/>
<rect x="806.40" y="302.56" width="92.10" height="2.30" fill="#BCDBEA"/>
<rect x="806.40" y="304.56" width="92.10" height="1.80" fill="#F3F5F6"/>
<rect x="806.40" y="306.06" width="92.10" height="4.30" fill="#F5F6F7"/>
<rect x="806.40" y="310.06" width="92.10" height="2.80" fill="#F7F6F5"/>
<rect x="806.40" y="312.56" width="92.10" height="3.30" fill="#E7EFF4"/>
<rect x="806.40" y="315.56" width="92.10" height="2.80" fill="#F7F6F5"/>
<rect x="806.40" y="318.06" width="92.10" height="2.80" fill="#DBEAF2"/>
<rect x="806.40" y="320.56" width="92.10" height="2.30" fill="#E3EDF3"/>
<rect x="806.40" y="322.56" width="92.10" height="4.30" fill="#F7F5F4"/>
<rect x="806.40" y="326.56" width="92.10" height="5.30" fill="#EDF2F5"/>
<rect x="806.40" y="331.56" width="92.10" height="1.75" fill="#F7F6F5"/>
<rect x="806.40" y="333.00" width="92.10" height="4.30" fill="#67AACF"/>
<rect x="806.40" y="337.00" width="92.10" height="1.79" fill="#77B4D5"/>
<rect x="806.40" y="338.50" width="92.10" height="2.80" fill="#B4D6E8"/>
<rect x="806.40" y="341.00" width="92.10" height="5.30" fill="#D0E4F0"/>
<rect x="806.40" y="346.00" width="92.10" height="2.30" fill="#9AC9E0"/>
<rect x="806.40" y="348.00" width="92.10" height="4.30" fill="#E7EFF4"/>
<rect x="806.40" y="352.00" width="92.10" height="2.80" fill="#D7E8F1"/>
<rect x="806.40" y="354.50" width="92.10" height="4.30" fill="#A8D0E4"/>
<rect x="806.40" y="358.50" width="92.10" height="2.30" fill="#DCEAF2"/>
<rect x="806.40" y="360.50" width="92.10" height="2.80" fill="#D7E8F1"/>
<rect x="806.40" y="363.00" width="92.10" height="2.80" fill="#ABD2E5"/>
<rect x="806.40" y="365.50" width="92.10" height="1.80" fill="#BBDAEA"/>
<rect x="806.40" y="367.00" width="92.10" height="5.30" fill="#A5CFE3"/>
<rect x="806.40" y="372.00" width="92.10" height="3.30" fill="#96C7DF"/>
<rect x="806.40" y="375.00" width="92.10" height="5.30" fill="#C3DEEC"/>
<rect x="806.40" y="380.00" width="92.10" height="2.30" fill="#D0E4F0"/>
<rect x="806.40" y="382.00" width="92.10" height="2.30" fill="#C3DEEC"/>
<rect x="806.40" y="384.00" width="92.10" height="1.80" fill="#D8E8F1"/>
<rect x="806.40" y="385.50" width="92.10" height="3.30" fill="#AFD4E6"/>
<rect x="806.40" y="388.50" width="92.10" height="2.49" fill="#A6CFE4"/>
<rect x="806.40" y="390.69" width="92.10" height="2.30" fill="#A7D0E4"/>
<rect x="806.40" y="392.69" width="92.10" height="3.80" fill="#A1CDE2"/>
<rect x="806.40" y="396.19" width="92.10" height="2.80" fill="#98C8E0"/>
<rect x="806.40" y="398.69" width="92.10" height="2.80" fill="#8BC1DC"/>
<rect x="806.40" y="401.19" width="92.10" height="2.80" fill="#6FAFD2"/>
<rect x="806.40" y="403.69" width="92.10" height="1.04" fill="#AAD1E5"/>
<rect x="806.40" y="404.60" width="92.10" height="1.80" fill="#FAE8DD"/>
<rect x="806.40" y="406.10" width="92.10" height="3.80" fill="#FDDCC9"/>
<rect x="806.40" y="409.60" width="92.10" height="3.30" fill="#FBD2BB"/>
<rect x="806.40" y="412.60" width="92.10" height="2.80" fill="#FACCB4"/>
<rect x="806.40" y="415.10" width="92.10" height="4.30" fill="#FBE4D7"/>
<rect x="806.40" y="419.10" width="92.10" height="5.30" fill="#FAC9B0"/>
<rect x="806.40" y="424.10" width="92.10" height="2.80" fill="#FAEAE1"/>
<rect x="806.40" y="426.60" width="92.10" height="2.30" fill="#FBE3D4"/>
<rect x="806.40" y="428.60" width="92.10" height="1.80" fill="#FDDAC5"/>
<rect x="806.40" y="430.10" width="92.10" height="4.84" fill="#FCDECC"/>
<rect x="806.40" y="434.64" width="92.10" height="4.30" fill="#F7BA9D"/>
<rect x="806.40" y="438.64" width="92.10" height="1.80" fill="#F9C3A8"/>
<rect x="806.40" y="440.14" width="92.10" height="2.30" fill="#F7B495"/>
<rect x="806.40" y="442.14" width="92.10" height="3.80" fill="#FACBB2"/>
<rect x="806.40" y="445.64" width="92.10" height="1.80" fill="#F6B191"/>
<rect x="806.40" y="447.14" width="92.10" height="2.30" fill="#F9C6AC"/>
<rect x="806.40" y="449.14" width="92.10" height="2.30" fill="#F9C0A5"/>
<rect x="806.40" y="451.14" width="92.10" height="3.80" fill="#F8BFA4"/>
<rect x="806.40" y="454.64" width="92.10" height="5.30" fill="#F9C4AA"/>
<rect x="806.40" y="459.64" width="92.10" height="3.80" fill="#FACCB3"/>
<rect x="806.40" y="463.14" width="92.10" height="2.30" fill="#F8BEA2"/>
<rect x="806.40" y="465.14" width="92.10" height="2.80" fill="#FBE3D5"/>
<rect x="806.40" y="467.64" width="92.10" height="4.30" fill="#FBCFB8"/>
<rect x="806.40" y="471.64" width="92.10" height="2.80" fill="#F8BB9E"/>
<rect x="806.40" y="474.14" width="92.10" height="2.80" fill="#FBCCB4"/>
<rect x="806.40" y="476.64" width="92.10" height="5.30" fill="#FAC6AD"/>
<rect x="806.40" y="481.64" width="92.10" height="3.30" fill="#FCDECC"/>
<rect x="806.40" y="484.64" width="92.10" height="3.80" fill="#FBCEB6"/>
<rect x="806.40" y="488.14" width="92.10" height="1.74" fill="#FCD5C0"/>
<rect x="806.40" y="489.58" width="92.10" height="5.30" fill="#E68569"/>
<rect x="806.40" y="494.58" width="92.10" height="4.30" fill="#E27B62"/>
<rect x="806.40" y="498.58" width="92.10" height="3.80" fill="#E98D6F"/>
<rect x="806.40" y="502.08" width="92.10" height="3.80" fill="#D96753"/>
<rect x="806.40" y="505.58" width="92.10" height="3.30" fill="#E48066"/>
<rect x="806.40" y="508.58" width="92.10" height="1.80" fill="#D86551"/>
<rect x="806.40" y="510.08" width="92.10" height="1.80" fill="#D86450"/>
<rect x="806.40" y="511.58" width="92.10" height="2.80" fill="#E98D6F"/>
<rect x="806.40" y="514.08" width="92.10" height="1.80" fill="#F19F7D"/>
<rect x="806.40" y="515.58" width="92.10" height="5.30" fill="#DB6C56"/>
<rect x="806.40" y="520.58" width="92.10" height="2.80" fill="#E27C63"/>
<rect x="806.40" y="523.08" width="92.10" height="2.30" fill="#E27B62"/>
<rect x="806.40" y="525.08" width="92.10" height="2.30" fill="#F5AA88"/>
<rect x="806.40" y="527.08" width="92.10" height="2.80" fill="#E7876B"/>
<rect x="806.40" y="529.58" width="92.10" height="5.30" fill="#E98D6F"/>
<rect x="806.40" y="534.58" width="92.10" height="4.30" fill="#DC6E58"/>
<rect x="806.40" y="538.58" width="92.10" height="0.75" fill="#DF765E"/>
<rect x="806.40" y="539.03" width="92.10" height="3.80" fill="#F9C3A8"/>
<rect x="806.40" y="542.53" width="92.10" height="3.80" fill="#FACAB1"/>
<rect x="806.40" y="546.03" width="92.10" height="2.80" fill="#F19F7E"/>
<rect x="806.40" y="548.53" width="92.10" height="5.30" fill="#F9C2A7"/>
<rect x="806.40" y="553.53" width="92.10" height="2.28" fill="#FDD9C5"/>
<rect x="806.40" y="555.51" width="92.10" height="4.30" fill="#F9EDE7"/>
<rect x="806.40" y="559.51" width="92.10" height="4.30" fill="#FCD6C0"/>
<rect x="806.40" y="563.51" width="92.10" height="3.30" fill="#F9F0EB"/>
<rect x="806.40" y="566.51" width="92.10" height="3.80" fill="#FAEBE2"/>
<rect x="806.40" y="570.01" width="92.10" height="2.80" fill="#FBE7DB"/>
<rect x="806.40" y="572.51" width="92.10" height="3.30" fill="#FBE7DB"/>
<rect x="806.40" y="575.51" width="92.10" height="1.80" fill="#F8F1EC"/>
<rect x="806.40" y="577.01" width="92.10" height="2.80" fill="#F7F5F4"/>
<rect x="806.40" y="579.51" width="92.10" height="2.30" fill="#FCE1D1"/>
<rect x="806.40" y="581.51" width="92.10" height="5.30" fill="#FAE8DD"/>
<rect x="806.40" y="586.51" width="92.10" height="1.80" fill="#FDDBC7"/>
<rect x="806.40" y="588.01" width="92.10" height="0.76" fill="#F9EDE5"/>
<rect x="806.40" y="588.47" width="92.10" height="1.80" fill="#F3F5F6"/>
<rect x="806.40" y="589.97" width="92.10" height="5.30" fill="#F7F5F4"/>
<rect x="806.40" y="594.97" width="92.10" height="2.30" fill="#F8F4F2"/>
<rect x="806.40" y="596.97" width="92.10" height="4.30" fill="#FBE6DB"/>
<rect x="806.40" y="600.97" width="92.10" height="2.30" fill="#FBE4D6"/>
<rect x="806.40" y="602.97" width="92.10" height="5.03" fill="#EDF2F5"/>
<rect x="806.40" y="607.70" width="92.10" height="5.30" fill="#FCDDCB"/>
<rect x="806.40" y="612.70" width="92.10" height="5.30" fill="#FDDDCA"/>
<rect x="806.40" y="617.70" width="92.10" height="4.30" fill="#FDDDCB"/>
<rect x="806.40" y="621.70" width="92.10" height="3.30" fill="#F5AE8D"/>
<rect x="806.40" y="624.70" width="92.10" height="2.30" fill="#FBE4D7"/>
<rect x="806.40" y="626.70" width="92.10" height="5.30" fill="#FBE5D8"/>
<rect x="806.40" y="631.70" width="92.10" height="3.30" fill="#FAE7DB"/>
<rect x="806.40" y="634.70" width="92.10" height="1.80" fill="#FDDCCA"/>
<rect x="806.40" y="636.20" width="92.10" height="1.80" fill="#FCDFCF"/>
<rect x="806.40" y="637.70" width="92.10" height="5.30" fill="#FCE0D0"/>
<rect x="806.40" y="642.70" width="92.10" height="4.30" fill="#FACAB2"/>
<rect x="806.40" y="646.70" width="92.10" height="2.80" fill="#FBE6DA"/>
<rect x="806.40" y="649.20" width="92.10" height="1.80" fill="#FDDDCB"/>
<rect x="806.40" y="650.70" width="92.10" height="3.30" fill="#FBD0B9"/>
<rect x="806.40" y="653.70" width="92.10" height="1.00" fill="#FBE3D5"/>
<rect x="806.40" y="654.40" width="92.10" height="2.80" fill="#F5F6F7"/>
<rect x="806.40" y="656.90" width="92.10" height="1.80" fill="#F8F4F2"/>
<rect x="806.40" y="658.40" width="92.10" height="2.30" fill="#FAE9DF"/>
<rect x="806.40" y="660.40" width="92.10" height="2.80" fill="#F9EFE9"/>
<rect x="806.40" y="662.90" width="92.10" height="4.30" fill="#FBE4D6"/>
<rect x="806.40" y="666.90" width="92.10" height="2.80" fill="#EFF3F6"/>
<rect x="806.40" y="669.40" width="92.10" height="1.78" fill="#FBD2BB"/>
<rect x="806.40" y="670.88" width="92.10" height="3.80" fill="#FCDFCE"/>
<rect x="806.40" y="674.38" width="92.10" height="5.30" fill="#F9ECE4"/>
<rect x="806.40" y="679.38" width="92.10" height="5.30" fill="#FBE3D5"/>
<rect x="806.40" y="684.38" width="92.10" height="5.30" fill="#FAC9B0"/>
<rect x="806.40" y="689.38" width="92.10" height="2.80" fill="#FBE3D5"/>
<rect x="806.40" y="691.88" width="92.10" height="3.30" fill="#FCD7C3"/>
<rect x="806.40" y="694.88" width="92.10" height="5.30" fill="#FDDDCB"/>
<rect x="806.40" y="699.88" width="92.10" height="1.92" fill="#FBE5D8"/>
<rect x="898.20" y="109.50" width="92.10" height="3.80" fill="#E6EFF4"/>
<rect x="898.20" y="113.00" width="92.10" height="3.80" fill="#E9F0F4"/>
<rect x="898.20" y="116.50" width="92.10" height="1.80" fill="#F7F6F6"/>
<rect x="898.20" y="118.00" width="92.10" height="1.03" fill="#EBF1F5"/>
<rect x="898.20" y="118.73" width="92.10" height="2.80" fill="#DAE9F2"/>
<rect x="898.20" y="121.23" width="92.10" height="3.30" fill="#C7E0ED"/>
<rect x="898.20" y="124.23" width="92.10" height="2.30" fill="#B2D5E7"/>
<rect x="898.20" y="126.23" width="92.10" height="2.80" fill="#C2DDEC"/>
<rect x="898.20" y="128.74" width="92.10" height="4.30" fill="#C7E0ED"/>
<rect x="898.20" y="132.74" width="92.10" height="1.80" fill="#BEDCEB"/>
<rect x="898.20" y="134.24" width="92.10" height="2.30" fill="#C7E0ED"/>
<rect x="898.20" y="136.24" width="92.10" height="4.30" fill="#B6D8E8"/>
<rect x="898.20" y="140.24" width="92.10" height="2.80" fill="#C8E0ED"/>
<rect x="898.20" y="142.74" width="92.10" height="3.77" fill="#C4DFEC"/>
<rect x="898.20" y="146.20" width="92.10" height="3.30" fill="#8CC1DC"/>
<rect x="898.20" y="149.20" width="92.10" height="4.30" fill="#84BCD9"/>
<rect x="898.20" y="153.20" width="92.10" height="4.30" fill="#64A8CE"/>
<rect x="898.20" y="157.20" width="92.10" height="1.80" fill="#86BDDA"/>
<rect x="898.20" y="158.70" width="92.10" height="3.80" fill="#7CB7D6"/>
<rect x="898.20" y="162.20" width="92.10" height="4.30" fill="#A2CDE3"/>
<rect x="898.20" y="166.20" width="92.10" height="1.80" fill="#95C7DF"/>
<rect x="898.20" y="167.70" width="92.10" height="2.30" fill="#7FB9D7"/>
<rect x="898.20" y="169.70" width="92.10" height="3.80" fill="#6CADD1"/>
<rect x="898.20" y="173.20" width="92.10" height="0.77" fill="#7CB7D7"/>
<rect x="898.20" y="173.68" width="92.10" height="1.80" fill="#AAD1E5"/>
<rect x="898.20" y="175.18" width="92.10" height="1.80" fill="#96C7DF"/>
<rect x="898.20" y="176.68" width="92.10" height="1.80" fill="#CEE4EF"/>
<rect x="898.20" y="178.18" width="92.10" height="3.80" fill="#86BDDA"/>
<rect x="898.20" y="181.68" width="92.10" height="3.30" fill="#A7CFE4"/>
<rect x="898.20" y="184.68" width="92.10" height="3.80" fill="#98C8E0"/>
<rect x="898.20" y="188.18" width="92.10" height="2.30" fill="#82BBD9"/>
<rect x="898.20" y="190.18" width="92.10" height="1.80" fill="#80B9D8"/>
<rect x="898.20" y="191.68" width="92.10" height="3.80" fill="#86BDDA"/>
<rect x="898.20" y="195.18" width="92.10" height="1.80" fill="#ABD2E5"/>
<rect x="898.20" y="196.68" width="92.10" height="2.80" fill="#C1DDEB"/>
<rect x="898.20" y="199.18" width="92.10" height="2.30" fill="#8FC3DD"/>
<rect x="898.20" y="201.18" width="92.10" height="3.02" fill="#B5D7E8"/>
<rect x="898.20" y="203.89" width="92.10" height="1.80" fill="#D2E5F0"/>
<rect x="898.20" y="205.39" width="92.10" height="2.80" fill="#BDDBEA"/>
<rect x="898.20" y="207.89" width="92.10" height="2.30" fill="#EAF1F5"/>
<rect x="898.20" y="209.89" width="92.10" height="3.80" fill="#DFECF3"/>
<rect x="898.20" y="213.39" width="92.10" height="2.80" fill="#CFE4EF"/>
<rect x="898.20" y="215.89" width="92.10" height="2.80" fill="#DDEBF2"/>
<rect x="898.20" y="218.39" width="92.10" height="4.30" fill="#C6DFED"/>
<rect x="898.20" y="222.39" width="92.10" height="3.30" fill="#AAD1E5"/>
<rect x="898.20" y="225.39" width="92.10" height="4.30" fill="#BCDAEA"/>
<rect x="898.20" y="229.39" width="92.10" height="3.30" fill="#E3EEF3"/>
<rect x="898.20" y="232.39" width="92.10" height="4.30" fill="#BFDCEB"/>
<rect x="898.20" y="236.39" width="92.10" height="2.80" fill="#B4D7E8"/>
<rect x="898.20" y="238.89" width="92.10" height="3.30" fill="#CFE4EF"/>
<rect x="898.20" y="241.89" width="92.10" height="3.30" fill="#D6E7F1"/>
<rect x="898.20" y="244.89" width="92.10" height="3.30" fill="#C0DCEB"/>
<rect x="898.20" y="247.89" width="92.10" height="3.30" fill="#D2E6F0"/>
<rect x="898.20" y="250.89" width="92.10" height="4.30" fill="#98C8E0"/>
<rect x="898.20" y="254.89" width="92.10" height="1.80" fill="#C5DFED"/>
<rect x="898.20" y="256.39" width="92.10" height="2.80" fill="#D8E8F1"/>
<rect x="898.20" y="258.89" width="92.10" height="2.99" fill="#B4D6E8"/>
<rect x="898.20" y="261.58" width="92.10" height="2.30" fill="#80B9D8"/>
<rect x="898.20" y="263.58" width="92.10" height="5.30" fill="#94C6DF"/>
<rect x="898.20" y="268.58" width="92.10" height="5.30" fill="#9BC9E1"/>
<rect x="898.20" y="273.58" width="92.10" height="3.80" fill="#9BC9E0"/>
<rect x="898.20" y="277.08" width="92.10" height="1.80" fill="#57A0CA"/>
<rect x="898.20" y="278.58" width="92.10" height="3.30" fill="#88BFDB"/>
<rect x="898.20" y="281.58" width="92.10" height="2.28" fill="#7AB6D6"/>
<rect x="898.20" y="283.56" width="92.10" height="3.30" fill="#DAE9F2"/>
<rect x="898.20" y="286.56" width="92.10" height="3.80" fill="#E2EDF3"/>
<rect x="898.20" y="290.06" width="92.10" height="1.80" fill="#D3E6F0"/>
<rect x="898.20" y="291.56" width="92.10" height="3.30" fill="#E8F0F4"/>
<rect x="898.20" y="294.56" width="92.10" height="3.80" fill="#DCEAF2"/>
<rect x="898.20" y="298.06" width="92.10" height="3.30" fill="#F3F5F6"/>
<rect x="898.20" y="301.06" width="92.10" height="2.30" fill="#F0F3F6"/>
<rect x="898.20" y="303.06" width="92.10" height="5.30" fill="#D1E5F0"/>
<rect x="898.20" y="308.06" width="92.10" height="0.52" fill="#E2EDF3"/>
<rect x="898.20" y="308.28" width="92.10" height="3.80" fill="#B2D5E7"/>
<rect x="898.20" y="311.78" width="92.10" height="2.80" fill="#93C6DE"/>
<rect x="898.20" y="314.28" width="92.10" height="2.80" fill="#96C7DF"/>
<rect x="898.20" y="316.78" width="92.10" height="1.80" fill="#99C9E0"/>
<rect x="898.20" y="318.28" width="92.10" height="2.30" fill="#98C8E0"/>
<rect x="898.20" y="320.28" width="92.10" height="3.80" fill="#ADD3E6"/>
<rect x="898.20" y="323.78" width="92.10" height="5.30" fill="#9BC9E1"/>
<rect x="898.20" y="328.78" width="92.10" height="3.30" fill="#B8D8E9"/>
<rect x="898.20" y="331.78" width="92.10" height="1.52" fill="#9CCAE1"/>
<rect x="898.20" y="333.00" width="92.10" height="3.30" fill="#62A6CE"/>
<rect x="898.20" y="336.00" width="92.10" height="1.80" fill="#93C5DE"/>
<rect x="898.20" y="337.50" width="92.10" height="5.30" fill="#9CCAE1"/>
<rect x="898.20" y="342.50" width="92.10" height="3.80" fill="#B1D5E7"/>
<rect x="898.20" y="346.00" width="92.10" height="2.30" fill="#BCDBEA"/>
<rect x="898.20" y="348.00" width="92.10" height="2.30" fill="#A8D0E4"/>
<rect x="898.20" y="350.00" width="92.10" height="2.30" fill="#C1DDEB"/>
<rect x="898.20" y="352.00" width="92.10" height="4.30" fill="#A1CCE2"/>
<rect x="898.20" y="356.00" width="92.10" height="5.30" fill="#C9E1EE"/>
<rect x="898.20" y="361.00" width="92.10" height="1.80" fill="#9ECBE1"/>
<rect x="898.20" y="362.50" width="92.10" height="2.80" fill="#98C8E0"/>
<rect x="898.20" y="365.00" width="92.10" height="5.30" fill="#D1E5F0"/>
<rect x="898.20" y="370.00" width="92.10" height="3.30" fill="#BFDCEB"/>
<rect x="898.20" y="373.00" width="92.10" height="2.80" fill="#BFDCEB"/>
<rect x="898.20" y="375.50" width="92.10" height="3.30" fill="#C6E0ED"/>
<rect x="898.20" y="378.50" width="92.10" height="5.30" fill="#C2DEEC"/>
<rect x="898.20" y="383.50" width="92.10" height="3.80" fill="#9FCCE2"/>
<rect x="898.20" y="387.00" width="92.10" height="1.80" fill="#B3D6E7"/>
<rect x="898.20" y="388.50" width="92.10" height="2.80" fill="#77B4D5"/>
<rect x="898.20" y="391.00" width="92.10" height="2.73" fill="#DCEAF2"/>
<rect x="898.20" y="393.44" width="92.10" height="1.80" fill="#6BACD1"/>
<rect x="898.20" y="394.94" width="92.10" height="5.30" fill="#92C5DE"/>
<rect x="898.20" y="399.94" width="92.10" height="2.30" fill="#89BFDB"/>
<rect x="898.20" y="401.94" width="92.10" height="2.79" fill="#79B5D5"/>
<rect x="898.20" y="404.60" width="92.10" height="2.30" fill="#F9EFEA"/>
<rect x="898.20" y="406.60" width="92.10" height="2.30" fill="#FCDFCE"/>
<rect x="898.20" y="408.60" width="92.10" height="3.80" fill="#F9EDE7"/>
<rect x="898.20" y="412.10" width="92.10" height="3.30" fill="#FCE1D2"/>
<rect x="898.20" y="415.10" width="92.10" height="2.80" fill="#FCE1D2"/>
<rect x="898.20" y="417.60" width="92.10" height="3.80" fill="#FAE7DB"/>
<rect x="898.20" y="421.10" width="92.10" height="2.80" fill="#FCE2D3"/>
<rect x="898.20" y="423.60" width="92.10" height="4.30" fill="#FBE5D9"/>
<rect x="898.20" y="427.60" width="92.10" height="3.80" fill="#FAE9DF"/>
<rect x="898.20" y="431.10" width="92.10" height="2.30" fill="#FCDFCE"/>
<rect x="898.20" y="433.10" width="92.10" height="2.80" fill="#FBE5D9"/>
<rect x="898.20" y="435.60" width="92.10" height="4.30" fill="#FAEBE3"/>
<rect x="898.20" y="439.60" width="92.10" height="3.30" fill="#FBE3D6"/>
<rect x="898.20" y="442.60" width="92.10" height="0.58" fill="#F9ECE5"/>
<rect x="898.20" y="442.88" width="92.10" height="5.30" fill="#F4A683"/>
<rect x="898.20" y="447.88" width="92.10" height="0.79" fill="#DF755D"/>
<rect x="898.20" y="448.38" width="92.10" height="4.30" fill="#FCDECC"/>
<rect x="898.20" y="452.38" width="92.10" height="4.30" fill="#FACAB2"/>
<rect x="898.20" y="456.38" width="92.10" height="5.30" fill="#FCD6C1"/>
<rect x="898.20" y="461.38" width="92.10" height="4.30" fill="#F8BFA3"/>
<rect x="898.20" y="465.38" width="92.10" height="3.80" fill="#FACAB2"/>
<rect x="898.20" y="468.88" width="92.10" height="3.30" fill="#FCDECC"/>
<rect x="898.20" y="471.88" width="92.10" height="5.30" fill="#FAE9DF"/>
<rect x="898.20" y="476.88" width="92.10" height="2.30" fill="#FCE0CF"/>
<rect x="898.20" y="478.88" width="92.10" height="5.30" fill="#FCD5BF"/>
<rect x="898.20" y="483.88" width="92.10" height="3.26" fill="#FCDFCD"/>
<rect x="898.20" y="486.83" width="92.10" height="2.30" fill="#EC9273"/>
<rect x="898.20" y="488.83" width="92.10" height="3.79" fill="#E6866A"/>
<rect x="898.20" y="492.33" width="92.10" height="3.30" fill="#FCD3BD"/>
<rect x="898.20" y="495.33" width="92.10" height="3.30" fill="#F6B394"/>
<rect x="898.20" y="498.33" width="92.10" height="4.30" fill="#F9C3A8"/>
<rect x="898.20" y="502.33" width="92.10" height="3.80" fill="#FAC7AE"/>
<rect x="898.20" y="505.83" width="92.10" height="3.80" fill="#FCD7C2"/>
<rect x="898.20" y="509.33" width="92.10" height="5.30" fill="#F8BEA2"/>
<rect x="898.20" y="514.33" width="92.10" height="3.30" fill="#FCD5BF"/>
<rect x="898.20" y="517.33" width="92.10" height="1.80" fill="#F7B89B"/>
<rect x="898.20" y="518.83" width="92.10" height="3.30" fill="#FACBB2"/>
<rect x="898.20" y="521.83" width="92.10" height="5.30" fill="#F8BDA1"/>
<rect x="898.20" y="526.83" width="92.10" height="5.30" fill="#F7B697"/>
<rect x="898.20" y="531.83" width="92.10" height="2.30" fill="#F9C2A7"/>
<rect x="898.20" y="533.83" width="92.10" height="3.30" fill="#FBE3D6"/>
<rect x="898.20" y="536.83" width="92.10" height="2.80" fill="#FBCEB6"/>
<rect x="898.20" y="539.33" width="92.10" height="3.80" fill="#FACCB3"/>
<rect x="898.20" y="542.83" width="92.10" height="3.30" fill="#F6B394"/>
<rect x="898.20" y="545.83" width="92.10" height="1.80" fill="#F4A582"/>
<rect x="898.20" y="547.33" width="92.10" height="3.80" fill="#F6B090"/>
<rect x="898.20" y="550.83" width="92.10" height="5.30" fill="#F5AD8D"/>
<rect x="898.20" y="555.83" width="92.10" height="5.30" fill="#F9C1A5"/>
<rect x="898.20" y="560.83" width="92.10" height="5.30" fill="#F8BFA3"/>
<rect x="898.20" y="565.83" width="92.10" height="5.30" fill="#F6AF8F"/>
<rect x="898.20" y="570.83" width="92.10" height="4.30" fill="#F8BEA2"/>
<rect x="898.20" y="574.83" width="92.10" height="5.30" fill="#F6B394"/>
<rect x="898.20" y="579.83" width="92.10" height="1.80" fill="#FCDECB"/>
<rect x="898.20" y="581.33" width="92.10" height="5.30" fill="#FBCCB4"/>
<rect x="898.20" y="586.33" width="92.10" height="3.80" fill="#F7B799"/>
<rect x="898.20" y="589.83" width="92.10" height="1.80" fill="#F7B496"/>
<rect x="898.20" y="591.33" width="92.10" height="2.94" fill="#FBCEB7"/>
<rect x="898.20" y="593.97" width="92.10" height="2.30" fill="#F8F3F1"/>
<rect x="898.20" y="595.97" width="92.10" height="3.80" fill="#FAE7DC"/>
<rect x="898.20" y="599.47" width="92.10" height="3.80" fill="#F9EEE8"/>
<rect x="898.20" y="602.97" width="92.10" height="2.80" fill="#F8F1EE"/>
<rect x="898.20" y="605.47" width="92.10" height="3.30" fill="#F9EEE8"/>
<rect x="898.20" y="608.47" width="92.10" height="2.80" fill="#F8F2EE"/>
<rect x="898.20" y="610.97" width="92.10" height="3.30" fill="#F8F4F2"/>
<rect x="898.20" y="613.97" width="92.10" height="3.80" fill="#FBE3D4"/>
<rect x="898.20" y="617.47" width="92.10" height="2.80" fill="#F7F7F7"/>
<rect x="898.20" y="619.97" width="92.10" height="1.77" fill="#F9EDE7"/>
<rect x="898.20" y="621.44" width="92.10" height="3.30" fill="#E6856A"/>
<rect x="898.20" y="624.44" width="92.10" height="5.30" fill="#F5AD8D"/>
<rect x="898.20" y="629.44" width="92.10" height="2.30" fill="#F2A17F"/>
<rect x="898.20" y="631.44" width="92.10" height="1.80" fill="#EC9374"/>
<rect x="898.20" y="632.94" width="92.10" height="3.30" fill="#E27B62"/>
<rect x="898.20" y="635.94" width="92.10" height="4.30" fill="#F7B698"/>
<rect x="898.20" y="639.94" width="92.10" height="1.03" fill="#EF9A7A"/>
<rect x="898.20" y="640.66" width="92.10" height="5.30" fill="#FBD1BB"/>
<rect x="898.20" y="645.66" width="92.10" height="4.30" fill="#F7B597"/>
<rect x="898.20" y="649.66" width="92.10" height="3.80" fill="#FCD6C0"/>
<rect x="898.20" y="653.16" width="92.10" height="1.80" fill="#FCDDCB"/>
<rect x="898.20" y="654.66" width="92.10" height="3.80" fill="#F09B7A"/>
<rect x="898.20" y="658.16" width="92.10" height="5.30" fill="#F6B495"/>
<rect x="898.20" y="663.16" width="92.10" height="2.80" fill="#F7BA9C"/>
<rect x="898.20" y="665.66" width="92.10" height="3.30" fill="#F9C3A9"/>
<rect x="898.20" y="668.66" width="92.10" height="2.80" fill="#F9C2A8"/>
<rect x="898.20" y="671.16" width="92.10" height="3.80" fill="#F8BA9D"/>
<rect x="898.20" y="674.66" width="92.10" height="3.80" fill="#FBE6D9"/>
<rect x="898.20" y="678.16" width="92.10" height="3.30" fill="#F8BA9D"/>
<rect x="898.20" y="681.16" width="92.10" height="2.30" fill="#F9C2A7"/>
<rect x="898.20" y="683.16" width="92.10" height="3.30" fill="#FACBB2"/>
<rect x="898.20" y="686.16" width="92.10" height="5.30" fill="#FACAB1"/>
<rect x="898.20" y="691.16" width="92.10" height="5.30" fill="#FACBB2"/>
<rect x="898.20" y="696.16" width="92.10" height="1.80" fill="#F8BEA2"/>
<rect x="898.20" y="697.66" width="92.10" height="1.80" fill="#FDDAC6"/>
<rect x="898.20" y="699.16" width="92.10" height="2.64" fill="#FCE0D0"/>
</g>
<text x="213.2" y="44.3" font-size="32.35" fill="#1a1a1a" stroke="#1a1a1a" stroke-width="0.6">6881 genes significantly differentially expressed</text>
<text x="559.0" y="81.7" font-size="32.2" text-anchor="middle" fill="#1a1a1a" stroke="#1a1a1a" stroke-width="0.6">at FDR p &lt;= 0.05</text>
<text x="10.0" y="41.5" font-size="55" font-weight="700" fill="#1a1a1a" stroke="#1a1a1a" stroke-width="1.3">a</text>
<rect x="1004.3" y="111.20" width="29.9" height="39.97" fill="#67001F"/>
<rect x="1004.3" y="150.77" width="29.9" height="39.97" fill="#B2182B"/>
<rect x="1004.3" y="190.35" width="29.9" height="39.97" fill="#D6604D"/>
<rect x="1004.3" y="229.92" width="29.9" height="39.97" fill="#F4A582"/>
<rect x="1004.3" y="269.49" width="29.9" height="39.97" fill="#FDDBC7"/>
<rect x="1004.3" y="309.06" width="29.9" height="39.97" fill="#F7F7F7"/>
<rect x="1004.3" y="348.64" width="29.9" height="39.97" fill="#D1E5F0"/>
<rect x="1004.3" y="388.21" width="29.9" height="39.97" fill="#92C5DE"/>
<rect x="1004.3" y="427.78" width="29.9" height="39.97" fill="#4393C3"/>
<rect x="1004.3" y="467.35" width="29.9" height="39.97" fill="#2166AC"/>
<rect x="1004.3" y="506.93" width="29.9" height="39.97" fill="#053061"/>
<text x="1045.5" y="174.3" font-size="25.5" fill="#1a1a1a" stroke="#1a1a1a" stroke-width="0.6">2</text>
<text x="1045.5" y="259.3" font-size="25.5" fill="#1a1a1a" stroke="#1a1a1a" stroke-width="0.6">1</text>
<text x="1045.5" y="341.9" font-size="25.5" fill="#1a1a1a" stroke="#1a1a1a" stroke-width="0.6">0</text>
<text x="1045.5" y="426.8" font-size="25.5" fill="#1a1a1a" stroke="#1a1a1a" stroke-width="0.6">-1</text>
<text x="1045.5" y="510.6" font-size="25.5" fill="#1a1a1a" stroke="#1a1a1a" stroke-width="0.6">-2</text>
<text x="975.0" y="91.8" font-size="28.2" fill="#1a1a1a" stroke="#1a1a1a" stroke-width="0.6">z-score</text>
<text x="203.7" y="740.9" font-size="35.9" fill="#000" stroke="#000" stroke-width="0.6">Brca2<tspan font-size="21.2" dy="-12.2">null</tspan></text>
<text x="672.7" y="740.9" font-size="35.9" fill="#000" stroke="#000" stroke-width="0.6">Brca1<tspan font-size="21.2" dy="-12.2">null</tspan></text>
<text x="1170.0" y="41.6" font-size="55" font-weight="700" fill="#1a1a1a" stroke="#1a1a1a" stroke-width="1.3">b</text>
<rect x="1649.0" y="49.5" width="318.0" height="721.7" fill="#fff"/>
<line x1="1713.6" y1="49.5" x2="1713.6" y2="771.2" stroke="#F4F4F4" stroke-width="1"/>
<line x1="1812.9" y1="49.5" x2="1812.9" y2="771.2" stroke="#F4F4F4" stroke-width="1"/>
<line x1="1912.2" y1="49.5" x2="1912.2" y2="771.2" stroke="#F4F4F4" stroke-width="1"/>
<line x1="1663.9" y1="49.5" x2="1663.9" y2="771.2" stroke="#EDEDED" stroke-width="1.3"/>
<line x1="1763.2" y1="49.5" x2="1763.2" y2="771.2" stroke="#EDEDED" stroke-width="1.3"/>
<line x1="1862.5" y1="49.5" x2="1862.5" y2="771.2" stroke="#EDEDED" stroke-width="1.3"/>
<line x1="1961.8" y1="49.5" x2="1961.8" y2="771.2" stroke="#EDEDED" stroke-width="1.3"/>
<line x1="1649.0" y1="63.8" x2="1967.0" y2="63.8" stroke="#EDEDED" stroke-width="1.3"/>
<line x1="1643.5" y1="63.8" x2="1649.0" y2="63.8" stroke="#555" stroke-width="1.3"/>
<text x="1641.2" y="70.8" font-size="18.2" text-anchor="end" fill="#2e2e2e" stroke="#2e2e2e" stroke-width="0.45">regulation of leukocyte activation</text>
<line x1="1649.0" y1="87.7" x2="1967.0" y2="87.7" stroke="#EDEDED" stroke-width="1.3"/>
<line x1="1643.5" y1="87.7" x2="1649.0" y2="87.7" stroke="#555" stroke-width="1.3"/>
<text x="1641.2" y="94.7" font-size="18.2" text-anchor="end" fill="#2e2e2e" stroke="#2e2e2e" stroke-width="0.45">T cell activation</text>
<line x1="1649.0" y1="111.6" x2="1967.0" y2="111.6" stroke="#EDEDED" stroke-width="1.3"/>
<line x1="1643.5" y1="111.6" x2="1649.0" y2="111.6" stroke="#555" stroke-width="1.3"/>
<text x="1641.2" y="118.6" font-size="18.2" text-anchor="end" fill="#2e2e2e" stroke="#2e2e2e" stroke-width="0.45">adaptive immune response</text>
<line x1="1649.0" y1="135.5" x2="1967.0" y2="135.5" stroke="#EDEDED" stroke-width="1.3"/>
<line x1="1643.5" y1="135.5" x2="1649.0" y2="135.5" stroke="#555" stroke-width="1.3"/>
<text x="1641.2" y="142.5" font-size="18.2" text-anchor="end" fill="#2e2e2e" stroke="#2e2e2e" stroke-width="0.45">regulation of lymphocyte activation</text>
<line x1="1649.0" y1="159.4" x2="1967.0" y2="159.4" stroke="#EDEDED" stroke-width="1.3"/>
<line x1="1643.5" y1="159.4" x2="1649.0" y2="159.4" stroke="#555" stroke-width="1.3"/>
<text x="1641.2" y="166.4" font-size="18.2" text-anchor="end" fill="#2e2e2e" stroke="#2e2e2e" stroke-width="0.45">positive regulation of cytokine production</text>
<line x1="1649.0" y1="183.3" x2="1967.0" y2="183.3" stroke="#EDEDED" stroke-width="1.3"/>
<line x1="1643.5" y1="183.3" x2="1649.0" y2="183.3" stroke="#555" stroke-width="1.3"/>
<text x="1641.2" y="190.3" font-size="18.2" text-anchor="end" fill="#2e2e2e" stroke="#2e2e2e" stroke-width="0.45">regulation of actin filament-based process</text>
<line x1="1649.0" y1="207.2" x2="1967.0" y2="207.2" stroke="#EDEDED" stroke-width="1.3"/>
<line x1="1643.5" y1="207.2" x2="1649.0" y2="207.2" stroke="#555" stroke-width="1.3"/>
<text x="1641.2" y="214.2" font-size="18.2" text-anchor="end" fill="#2e2e2e" stroke="#2e2e2e" stroke-width="0.45">lymphocyte differentiation</text>
<line x1="1649.0" y1="231.1" x2="1967.0" y2="231.1" stroke="#EDEDED" stroke-width="1.3"/>
<line x1="1643.5" y1="231.1" x2="1649.0" y2="231.1" stroke="#555" stroke-width="1.3"/>
<text x="1641.2" y="238.1" font-size="18.2" text-anchor="end" fill="#2e2e2e" stroke="#2e2e2e" stroke-width="0.45">leukocyte mediated immunity</text>
<line x1="1649.0" y1="255.0" x2="1967.0" y2="255.0" stroke="#EDEDED" stroke-width="1.3"/>
<line x1="1643.5" y1="255.0" x2="1649.0" y2="255.0" stroke="#555" stroke-width="1.3"/>
<text x="1641.2" y="262.0" font-size="18.2" text-anchor="end" fill="#2e2e2e" stroke="#2e2e2e" stroke-width="0.45">activation of immune response</text>
<line x1="1649.0" y1="278.9" x2="1967.0" y2="278.9" stroke="#EDEDED" stroke-width="1.3"/>
<line x1="1643.5" y1="278.9" x2="1649.0" y2="278.9" stroke="#555" stroke-width="1.3"/>
<text x="1641.2" y="285.9" font-size="18.2" text-anchor="end" fill="#2e2e2e" stroke="#2e2e2e" stroke-width="0.45">regulation of actin cytoskeleton organization</text>
<line x1="1649.0" y1="302.8" x2="1967.0" y2="302.8" stroke="#EDEDED" stroke-width="1.3"/>
<line x1="1643.5" y1="302.8" x2="1649.0" y2="302.8" stroke="#555" stroke-width="1.3"/>
<text x="1641.2" y="309.8" font-size="18.2" text-anchor="end" fill="#2e2e2e" stroke="#2e2e2e" stroke-width="0.45">leukocyte proliferation</text>
<line x1="1649.0" y1="326.7" x2="1967.0" y2="326.7" stroke="#EDEDED" stroke-width="1.3"/>
<line x1="1643.5" y1="326.7" x2="1649.0" y2="326.7" stroke="#555" stroke-width="1.3"/>
<text x="1641.2" y="333.7" font-size="18.2" text-anchor="end" fill="#2e2e2e" stroke="#2e2e2e" stroke-width="0.45">immune response-regulating signaling pathway</text>
<line x1="1649.0" y1="350.6" x2="1967.0" y2="350.6" stroke="#EDEDED" stroke-width="1.3"/>
<line x1="1643.5" y1="350.6" x2="1649.0" y2="350.6" stroke="#555" stroke-width="1.3"/>
<text x="1641.2" y="357.6" font-size="18.2" text-anchor="end" fill="#2e2e2e" stroke="#2e2e2e" stroke-width="0.45">mononuclear cell proliferation</text>
<line x1="1649.0" y1="374.5" x2="1967.0" y2="374.5" stroke="#EDEDED" stroke-width="1.3"/>
<line x1="1643.5" y1="374.5" x2="1649.0" y2="374.5" stroke="#555" stroke-width="1.3"/>
<text x="1641.2" y="381.5" font-size="18.2" text-anchor="end" fill="#2e2e2e" stroke="#2e2e2e" stroke-width="0.45">lymphocyte proliferation</text>
<line x1="1649.0" y1="398.4" x2="1967.0" y2="398.4" stroke="#EDEDED" stroke-width="1.3"/>
<line x1="1643.5" y1="398.4" x2="1649.0" y2="398.4" stroke="#555" stroke-width="1.3"/>
<text x="1641.2" y="405.4" font-size="18.2" text-anchor="end" fill="#2e2e2e" stroke="#2e2e2e" stroke-width="0.45">immune response-activating signal transduction</text>
<line x1="1649.0" y1="422.3" x2="1967.0" y2="422.3" stroke="#EDEDED" stroke-width="1.3"/>
<line x1="1643.5" y1="422.3" x2="1649.0" y2="422.3" stroke="#555" stroke-width="1.3"/>
<text x="1641.2" y="429.3" font-size="18.2" text-anchor="end" fill="#2e2e2e" stroke="#2e2e2e" stroke-width="0.45">immune receptors built from immunoglobulin superfamily domains</text>
<line x1="1649.0" y1="446.2" x2="1967.0" y2="446.2" stroke="#EDEDED" stroke-width="1.3"/>
<line x1="1643.5" y1="446.2" x2="1649.0" y2="446.2" stroke="#555" stroke-width="1.3"/>
<text x="1641.2" y="453.2" font-size="18.2" text-anchor="end" fill="#2e2e2e" stroke="#2e2e2e" stroke-width="0.45">regulation of T cell activation</text>
<line x1="1649.0" y1="470.1" x2="1967.0" y2="470.1" stroke="#EDEDED" stroke-width="1.3"/>
<line x1="1643.5" y1="470.1" x2="1649.0" y2="470.1" stroke="#555" stroke-width="1.3"/>
<text x="1641.2" y="477.1" font-size="18.2" text-anchor="end" fill="#2e2e2e" stroke="#2e2e2e" stroke-width="0.45">lymphocyte mediated immunity</text>
<line x1="1649.0" y1="494.0" x2="1967.0" y2="494.0" stroke="#EDEDED" stroke-width="1.3"/>
<line x1="1643.5" y1="494.0" x2="1649.0" y2="494.0" stroke="#555" stroke-width="1.3"/>
<text x="1641.2" y="501.0" font-size="18.2" text-anchor="end" fill="#2e2e2e" stroke="#2e2e2e" stroke-width="0.45">response to virus</text>
<line x1="1649.0" y1="517.9" x2="1967.0" y2="517.9" stroke="#EDEDED" stroke-width="1.3"/>
<line x1="1643.5" y1="517.9" x2="1649.0" y2="517.9" stroke="#555" stroke-width="1.3"/>
<text x="1641.2" y="524.9" font-size="18.2" text-anchor="end" fill="#2e2e2e" stroke="#2e2e2e" stroke-width="0.45">positive regulation of immune effector process</text>
<line x1="1649.0" y1="541.8" x2="1967.0" y2="541.8" stroke="#EDEDED" stroke-width="1.3"/>
<line x1="1643.5" y1="541.8" x2="1649.0" y2="541.8" stroke="#555" stroke-width="1.3"/>
<text x="1641.2" y="548.8" font-size="18.2" text-anchor="end" fill="#2e2e2e" stroke="#2e2e2e" stroke-width="0.45">regulation of leukocyte proliferation</text>
<line x1="1649.0" y1="565.7" x2="1967.0" y2="565.7" stroke="#EDEDED" stroke-width="1.3"/>
<line x1="1643.5" y1="565.7" x2="1649.0" y2="565.7" stroke="#555" stroke-width="1.3"/>
<text x="1641.2" y="572.7" font-size="18.2" text-anchor="end" fill="#2e2e2e" stroke="#2e2e2e" stroke-width="0.45">regulation of mononuclear cell proliferation</text>
<line x1="1649.0" y1="589.6" x2="1967.0" y2="589.6" stroke="#EDEDED" stroke-width="1.3"/>
<line x1="1643.5" y1="589.6" x2="1649.0" y2="589.6" stroke="#555" stroke-width="1.3"/>
<text x="1641.2" y="596.6" font-size="18.2" text-anchor="end" fill="#2e2e2e" stroke="#2e2e2e" stroke-width="0.45">regulation of lymphocyte proliferation</text>
<line x1="1649.0" y1="613.5" x2="1967.0" y2="613.5" stroke="#EDEDED" stroke-width="1.3"/>
<line x1="1643.5" y1="613.5" x2="1649.0" y2="613.5" stroke="#555" stroke-width="1.3"/>
<text x="1641.2" y="620.5" font-size="18.2" text-anchor="end" fill="#2e2e2e" stroke="#2e2e2e" stroke-width="0.45">defense response to virus</text>
<line x1="1649.0" y1="637.4" x2="1967.0" y2="637.4" stroke="#EDEDED" stroke-width="1.3"/>
<line x1="1643.5" y1="637.4" x2="1649.0" y2="637.4" stroke="#555" stroke-width="1.3"/>
<text x="1641.2" y="644.4" font-size="18.2" text-anchor="end" fill="#2e2e2e" stroke="#2e2e2e" stroke-width="0.45">T cell proliferation</text>
<line x1="1649.0" y1="661.3" x2="1967.0" y2="661.3" stroke="#EDEDED" stroke-width="1.3"/>
<line x1="1643.5" y1="661.3" x2="1649.0" y2="661.3" stroke="#555" stroke-width="1.3"/>
<text x="1641.2" y="668.3" font-size="18.2" text-anchor="end" fill="#2e2e2e" stroke="#2e2e2e" stroke-width="0.45">immune response-regulating cell surface receptor signaling pathway</text>
<line x1="1649.0" y1="685.2" x2="1967.0" y2="685.2" stroke="#EDEDED" stroke-width="1.3"/>
<line x1="1643.5" y1="685.2" x2="1649.0" y2="685.2" stroke="#555" stroke-width="1.3"/>
<text x="1641.2" y="692.2" font-size="18.2" text-anchor="end" fill="#2e2e2e" stroke="#2e2e2e" stroke-width="0.45">immune response-activating cell surface receptor signaling pathway</text>
<line x1="1649.0" y1="709.1" x2="1967.0" y2="709.1" stroke="#EDEDED" stroke-width="1.3"/>
<line x1="1643.5" y1="709.1" x2="1649.0" y2="709.1" stroke="#555" stroke-width="1.3"/>
<text x="1641.2" y="716.1" font-size="18.2" text-anchor="end" fill="#2e2e2e" stroke="#2e2e2e" stroke-width="0.45">regulation of T cell proliferation</text>
<line x1="1649.0" y1="733.0" x2="1967.0" y2="733.0" stroke="#EDEDED" stroke-width="1.3"/>
<line x1="1643.5" y1="733.0" x2="1649.0" y2="733.0" stroke="#555" stroke-width="1.3"/>
<text x="1641.2" y="740.0" font-size="18.2" text-anchor="end" fill="#2e2e2e" stroke="#2e2e2e" stroke-width="0.45">antigen processing and presentation</text>
<line x1="1649.0" y1="756.9" x2="1967.0" y2="756.9" stroke="#EDEDED" stroke-width="1.3"/>
<line x1="1643.5" y1="756.9" x2="1649.0" y2="756.9" stroke="#555" stroke-width="1.3"/>
<text x="1641.2" y="763.9" font-size="18.2" text-anchor="end" fill="#2e2e2e" stroke="#2e2e2e" stroke-width="0.45">positive regulation of T cell proliferation</text>
<rect x="1649.0" y="49.5" width="318.0" height="721.7" fill="none" stroke="#A8A8A8" stroke-width="1.4"/>
<circle cx="1952.8" cy="63.8" r="13.8" fill="#E93A2B"/>
<circle cx="1946.0" cy="87.7" r="13.7" fill="#E93A2B"/>
<circle cx="1906.1" cy="111.6" r="13.1" fill="#E93A2B"/>
<circle cx="1891.9" cy="135.5" r="12.5" fill="#E93A2B"/>
<circle cx="1891.9" cy="159.4" r="12.7" fill="#E93A2B"/>
<circle cx="1860.9" cy="183.3" r="11.9" fill="#D93850"/>
<circle cx="1852.0" cy="207.2" r="11.9" fill="#DC3452"/>
<circle cx="1850.2" cy="231.1" r="11.9" fill="#E23836"/>
<circle cx="1844.3" cy="255.0" r="11.9" fill="#D93850"/>
<circle cx="1827.0" cy="278.9" r="11.7" fill="#9342B0"/>
<circle cx="1822.6" cy="302.8" r="11.0" fill="#E93A2B"/>
<circle cx="1817.8" cy="326.7" r="11.0" fill="#E93A2B"/>
<circle cx="1811.6" cy="350.6" r="11.2" fill="#E93A2B"/>
<circle cx="1810.4" cy="374.5" r="11.2" fill="#E93A2B"/>
<circle cx="1805.3" cy="398.4" r="11.0" fill="#E5393A"/>
<circle cx="1803.9" cy="422.3" r="11.0" fill="#E93A2B"/>
<circle cx="1803.9" cy="446.2" r="11.0" fill="#3F59B8"/>
<circle cx="1790.2" cy="470.1" r="10.9" fill="#E93A2B"/>
<circle cx="1788.6" cy="494.0" r="10.7" fill="#E93A2B"/>
<circle cx="1768.4" cy="517.9" r="10.5" fill="#3F59B8"/>
<circle cx="1766.9" cy="541.8" r="10.5" fill="#E93A2B"/>
<circle cx="1760.4" cy="565.7" r="10.5" fill="#E93A2B"/>
<circle cx="1758.9" cy="589.6" r="10.1" fill="#E93A2B"/>
<circle cx="1752.9" cy="613.5" r="10.1" fill="#E93A2B"/>
<circle cx="1748.2" cy="637.4" r="10.1" fill="#E93A2B"/>
<circle cx="1732.7" cy="661.3" r="9.5" fill="#E93A2B"/>
<circle cx="1723.5" cy="685.2" r="9.5" fill="#E93A2B"/>
<circle cx="1717.2" cy="709.1" r="9.3" fill="#BE3CA6"/>
<circle cx="1668.1" cy="733.0" r="6.9" fill="#E93A2B"/>
<circle cx="1663.4" cy="756.9" r="5.7" fill="#BE3CA6"/>
<line x1="1663.9" y1="771.2" x2="1663.9" y2="776.2" stroke="#555" stroke-width="1.3"/>
<text x="1663.9" y="792.5" font-size="16.4" text-anchor="middle" fill="#444" stroke="#444" stroke-width="0.45">0.01</text>
<line x1="1763.2" y1="771.2" x2="1763.2" y2="776.2" stroke="#555" stroke-width="1.3"/>
<text x="1763.2" y="792.5" font-size="16.4" text-anchor="middle" fill="#444" stroke="#444" stroke-width="0.45">0.02</text>
<line x1="1862.5" y1="771.2" x2="1862.5" y2="776.2" stroke="#555" stroke-width="1.3"/>
<text x="1862.5" y="792.5" font-size="16.4" text-anchor="middle" fill="#444" stroke="#444" stroke-width="0.45">0.03</text>
<line x1="1961.8" y1="771.2" x2="1961.8" y2="776.2" stroke="#555" stroke-width="1.3"/>
<text x="1961.8" y="792.5" font-size="16.4" text-anchor="middle" fill="#444" stroke="#444" stroke-width="0.45">0.04</text>
<text x="1808.0" y="812.8" font-size="17.9" text-anchor="middle" fill="#333" stroke="#333" stroke-width="0.45">GeneRatio</text>
<text x="1992.5" y="260.5" font-size="16.5" fill="#333" stroke="#333" stroke-width="0.45">p.adjust</text>
<defs><linearGradient id="pg" x1="0" y1="0" x2="0" y2="1"><stop offset="0" stop-color="#EC3B26"/><stop offset="0.3" stop-color="#D6365A"/><stop offset="0.5" stop-color="#C0358F"/><stop offset="0.7" stop-color="#9A3CB0"/><stop offset="1" stop-color="#3E5CC0"/></linearGradient></defs>
<rect x="1992.5" y="269.8" width="25.8" height="129.7" fill="url(#pg)"/>
<line x1="1992.5" y1="311.3" x2="1997" y2="311.3" stroke="#fff" stroke-width="1"/>
<line x1="2013.8" y1="311.3" x2="2018.3" y2="311.3" stroke="#fff" stroke-width="1"/>
<text x="2026.4" y="315.5" font-size="12" fill="#444" stroke="#444" stroke-width="0.35">2e-06</text>
<line x1="1992.5" y1="350.3" x2="1997" y2="350.3" stroke="#fff" stroke-width="1"/>
<line x1="2013.8" y1="350.3" x2="2018.3" y2="350.3" stroke="#fff" stroke-width="1"/>
<text x="2026.4" y="354.5" font-size="12" fill="#444" stroke="#444" stroke-width="0.35">4e-06</text>
<line x1="1992.5" y1="389.3" x2="1997" y2="389.3" stroke="#fff" stroke-width="1"/>
<line x1="2013.8" y1="389.3" x2="2018.3" y2="389.3" stroke="#fff" stroke-width="1"/>
<text x="2026.4" y="393.5" font-size="12" fill="#444" stroke="#444" stroke-width="0.35">6e-06</text>
<text x="1992.5" y="446.9" font-size="16.5" fill="#333" stroke="#333" stroke-width="0.45">Count</text>
<circle cx="2009.5" cy="469.8" r="9.3" fill="#000"/>
<text x="2035.5" y="474.3" font-size="12.5" fill="#444" stroke="#444" stroke-width="0.35">100</text>
<circle cx="2009.5" cy="496.9" r="11.0" fill="#000"/>
<text x="2035.5" y="501.4" font-size="12.5" fill="#444" stroke="#444" stroke-width="0.35">150</text>
<circle cx="2009.5" cy="525.7" r="12.2" fill="#000"/>
<text x="2035.5" y="530.2" font-size="12.5" fill="#444" stroke="#444" stroke-width="0.35">200</text>
<circle cx="2009.5" cy="559.6" r="13.6" fill="#000"/>
<text x="2035.5" y="564.1" font-size="12.5" fill="#444" stroke="#444" stroke-width="0.35">250</text>
<text x="-0.6" y="831.6" font-size="55" font-weight="700" fill="#1a1a1a" stroke="#1a1a1a" stroke-width="1.3">c</text>
<text x="79.6" y="838.6" font-size="36.1" font-weight="700" fill="#1a1a1a">Interferon Gamma Signaling</text>
<rect x="78.30" y="874.20" width="438.20" height="661.40" fill="#FFFFFF"/>
<rect x="78.30" y="874.20" width="42.02" height="26.84" fill="#4393C3"/>
<rect x="122.32" y="874.20" width="42.02" height="26.84" fill="#92C5DE"/>
<rect x="166.34" y="874.20" width="42.02" height="26.84" fill="#4393C3"/>
<rect x="210.36" y="874.20" width="42.02" height="26.84" fill="#D1E5F0"/>
<rect x="254.38" y="874.20" width="42.02" height="26.84" fill="#92C5DE"/>
<rect x="298.40" y="874.20" width="42.02" height="26.84" fill="#F4A582"/>
<rect x="342.42" y="874.20" width="42.02" height="26.84" fill="#FDDBC7"/>
<rect x="386.44" y="874.20" width="42.02" height="26.84" fill="#F7F7F7"/>
<rect x="430.46" y="874.20" width="42.02" height="26.84" fill="#F4A582"/>
<rect x="474.48" y="874.20" width="42.02" height="26.84" fill="#67001F"/>
<rect x="78.30" y="903.04" width="42.02" height="26.84" fill="#D1E5F0"/>
<rect x="122.32" y="903.04" width="42.02" height="26.84" fill="#4393C3"/>
<rect x="166.34" y="903.04" width="42.02" height="26.84" fill="#2166AC"/>
<rect x="210.36" y="903.04" width="42.02" height="26.84" fill="#92C5DE"/>
<rect x="254.38" y="903.04" width="42.02" height="26.84" fill="#4393C3"/>
<rect x="298.40" y="903.04" width="42.02" height="26.84" fill="#FDDBC7"/>
<rect x="342.42" y="903.04" width="42.02" height="26.84" fill="#F4A582"/>
<rect x="386.44" y="903.04" width="42.02" height="26.84" fill="#F4A582"/>
<rect x="430.46" y="903.04" width="42.02" height="26.84" fill="#D6604D"/>
<rect x="474.48" y="903.04" width="42.02" height="26.84" fill="#D6604D"/>
<rect x="78.30" y="931.89" width="42.02" height="26.84" fill="#D6604D"/>
<rect x="122.32" y="931.89" width="42.02" height="26.84" fill="#F4A582"/>
<rect x="166.34" y="931.89" width="42.02" height="26.84" fill="#D1E5F0"/>
<rect x="210.36" y="931.89" width="42.02" height="26.84" fill="#D6604D"/>
<rect x="254.38" y="931.89" width="42.02" height="26.84" fill="#F4A582"/>
<rect x="298.40" y="931.89" width="42.02" height="26.84" fill="#053061"/>
<rect x="342.42" y="931.89" width="42.02" height="26.84" fill="#FDDBC7"/>
<rect x="386.44" y="931.89" width="42.02" height="26.84" fill="#4393C3"/>
<rect x="430.46" y="931.89" width="42.02" height="26.84" fill="#92C5DE"/>
<rect x="474.48" y="931.89" width="42.02" height="26.84" fill="#D1E5F0"/>
<rect x="78.30" y="960.73" width="42.02" height="26.84" fill="#D6604D"/>
<rect x="122.32" y="960.73" width="42.02" height="26.84" fill="#D6604D"/>
<rect x="166.34" y="960.73" width="42.02" height="26.84" fill="#92C5DE"/>
<rect x="210.36" y="960.73" width="42.02" height="26.84" fill="#FDDBC7"/>
<rect x="254.38" y="960.73" width="42.02" height="26.84" fill="#D6604D"/>
<rect x="298.40" y="960.73" width="42.02" height="26.84" fill="#2166AC"/>
<rect x="342.42" y="960.73" width="42.02" height="26.84" fill="#F7F7F7"/>
<rect x="386.44" y="960.73" width="42.02" height="26.84" fill="#4393C3"/>
<rect x="430.46" y="960.73" width="42.02" height="26.84" fill="#F7F7F7"/>
<rect x="474.48" y="960.73" width="42.02" height="26.84" fill="#D1E5F0"/>
<rect x="78.30" y="989.57" width="42.02" height="26.84" fill="#D6604D"/>
<rect x="122.32" y="989.57" width="42.02" height="26.84" fill="#FDDBC7"/>
<rect x="166.34" y="989.57" width="42.02" height="26.84" fill="#FDDBC7"/>
<rect x="210.36" y="989.57" width="42.02" height="26.84" fill="#F7F7F7"/>
<rect x="254.38" y="989.57" width="42.02" height="26.84" fill="#67001F"/>
<rect x="298.40" y="989.57" width="42.02" height="26.84" fill="#92C5DE"/>
<rect x="342.42" y="989.57" width="42.02" height="26.84" fill="#92C5DE"/>
<rect x="386.44" y="989.57" width="42.02" height="26.84" fill="#4393C3"/>
<rect x="430.46" y="989.57" width="42.02" height="26.84" fill="#92C5DE"/>
<rect x="474.48" y="989.57" width="42.02" height="26.84" fill="#D1E5F0"/>
<rect x="78.30" y="1018.42" width="42.02" height="26.84" fill="#F4A582"/>
<rect x="122.32" y="1018.42" width="42.02" height="26.84" fill="#D6604D"/>
<rect x="166.34" y="1018.42" width="42.02" height="26.84" fill="#F4A582"/>
<rect x="210.36" y="1018.42" width="42.02" height="26.84" fill="#F7F7F7"/>
<rect x="254.38" y="1018.42" width="42.02" height="26.84" fill="#FDDBC7"/>
<rect x="298.40" y="1018.42" width="42.02" height="26.84" fill="#D1E5F0"/>
<rect x="342.42" y="1018.42" width="42.02" height="26.84" fill="#2166AC"/>
<rect x="386.44" y="1018.42" width="42.02" height="26.84" fill="#053061"/>
<rect x="430.46" y="1018.42" width="42.02" height="26.84" fill="#FDDBC7"/>
<rect x="474.48" y="1018.42" width="42.02" height="26.84" fill="#F7F7F7"/>
<rect x="78.30" y="1047.26" width="42.02" height="26.84" fill="#D6604D"/>
<rect x="122.32" y="1047.26" width="42.02" height="26.84" fill="#B2182B"/>
<rect x="166.34" y="1047.26" width="42.02" height="26.84" fill="#F4A582"/>
<rect x="210.36" y="1047.26" width="42.02" height="26.84" fill="#92C5DE"/>
<rect x="254.38" y="1047.26" width="42.02" height="26.84" fill="#FDDBC7"/>
<rect x="298.40" y="1047.26" width="42.02" height="26.84" fill="#D1E5F0"/>
<rect x="342.42" y="1047.26" width="42.02" height="26.84" fill="#D1E5F0"/>
<rect x="386.44" y="1047.26" width="42.02" height="26.84" fill="#2166AC"/>
<rect x="430.46" y="1047.26" width="42.02" height="26.84" fill="#92C5DE"/>
<rect x="474.48" y="1047.26" width="42.02" height="26.84" fill="#F7F7F7"/>
<rect x="78.30" y="1076.10" width="42.02" height="26.84" fill="#B2182B"/>
<rect x="122.32" y="1076.10" width="42.02" height="26.84" fill="#67001F"/>
<rect x="166.34" y="1076.10" width="42.02" height="26.84" fill="#F7F7F7"/>
<rect x="210.36" y="1076.10" width="42.02" height="26.84" fill="#FDDBC7"/>
<rect x="254.38" y="1076.10" width="42.02" height="26.84" fill="#FDDBC7"/>
<rect x="298.40" y="1076.10" width="42.02" height="26.84" fill="#92C5DE"/>
<rect x="342.42" y="1076.10" width="42.02" height="26.84" fill="#92C5DE"/>
<rect x="386.44" y="1076.10" width="42.02" height="26.84" fill="#2166AC"/>
<rect x="430.46" y="1076.10" width="42.02" height="26.84" fill="#92C5DE"/>
<rect x="474.48" y="1076.10" width="42.02" height="26.84" fill="#F7F7F7"/>
<rect x="78.30" y="1104.95" width="42.02" height="26.84" fill="#B2182B"/>
<rect x="122.32" y="1104.95" width="42.02" height="26.84" fill="#D6604D"/>
<rect x="166.34" y="1104.95" width="42.02" height="26.84" fill="#FDDBC7"/>
<rect x="210.36" y="1104.95" width="42.02" height="26.84" fill="#FDDBC7"/>
<rect x="254.38" y="1104.95" width="42.02" height="26.84" fill="#F4A582"/>
<rect x="298.40" y="1104.95" width="42.02" height="26.84" fill="#4393C3"/>
<rect x="342.42" y="1104.95" width="42.02" height="26.84" fill="#92C5DE"/>
<rect x="386.44" y="1104.95" width="42.02" height="26.84" fill="#2166AC"/>
<rect x="430.46" y="1104.95" width="42.02" height="26.84" fill="#92C5DE"/>
<rect x="474.48" y="1104.95" width="42.02" height="26.84" fill="#F7F7F7"/>
<rect x="78.30" y="1133.79" width="42.02" height="26.84" fill="#D6604D"/>
<rect x="122.32" y="1133.79" width="42.02" height="26.84" fill="#B2182B"/>
<rect x="166.34" y="1133.79" width="42.02" height="26.84" fill="#FDDBC7"/>
<rect x="210.36" y="1133.79" width="42.02" height="26.84" fill="#FDDBC7"/>
<rect x="254.38" y="1133.79" width="42.02" height="26.84" fill="#F4A582"/>
<rect x="298.40" y="1133.79" width="42.02" height="26.84" fill="#92C5DE"/>
<rect x="342.42" y="1133.79" width="42.02" height="26.84" fill="#92C5DE"/>
<rect x="386.44" y="1133.79" width="42.02" height="26.84" fill="#2166AC"/>
<rect x="430.46" y="1133.79" width="42.02" height="26.84" fill="#D1E5F0"/>
<rect x="474.48" y="1133.79" width="42.02" height="26.84" fill="#D1E5F0"/>
<rect x="78.30" y="1162.63" width="42.02" height="26.84" fill="#D6604D"/>
<rect x="122.32" y="1162.63" width="42.02" height="26.84" fill="#B2182B"/>
<rect x="166.34" y="1162.63" width="42.02" height="26.84" fill="#FDDBC7"/>
<rect x="210.36" y="1162.63" width="42.02" height="26.84" fill="#F4A582"/>
<rect x="254.38" y="1162.63" width="42.02" height="26.84" fill="#F4A582"/>
<rect x="298.40" y="1162.63" width="42.02" height="26.84" fill="#92C5DE"/>
<rect x="342.42" y="1162.63" width="42.02" height="26.84" fill="#92C5DE"/>
<rect x="386.44" y="1162.63" width="42.02" height="26.84" fill="#2166AC"/>
<rect x="430.46" y="1162.63" width="42.02" height="26.84" fill="#92C5DE"/>
<rect x="474.48" y="1162.63" width="42.02" height="26.84" fill="#D1E5F0"/>
<rect x="78.30" y="1191.48" width="42.02" height="26.84" fill="#D6604D"/>
<rect x="122.32" y="1191.48" width="42.02" height="26.84" fill="#FDDBC7"/>
<rect x="166.34" y="1191.48" width="42.02" height="26.84" fill="#B2182B"/>
<rect x="210.36" y="1191.48" width="42.02" height="26.84" fill="#FDDBC7"/>
<rect x="254.38" y="1191.48" width="42.02" height="26.84" fill="#92C5DE"/>
<rect x="298.40" y="1191.48" width="42.02" height="26.84" fill="#F7F7F7"/>
<rect x="342.42" y="1191.48" width="42.02" height="26.84" fill="#4393C3"/>
<rect x="386.44" y="1191.48" width="42.02" height="26.84" fill="#4393C3"/>
<rect x="430.46" y="1191.48" width="42.02" height="26.84" fill="#92C5DE"/>
<rect x="474.48" y="1191.48" width="42.02" height="26.84" fill="#FDDBC7"/>
<rect x="78.30" y="1220.32" width="42.02" height="26.84" fill="#D6604D"/>
<rect x="122.32" y="1220.32" width="42.02" height="26.84" fill="#D6604D"/>
<rect x="166.34" y="1220.32" width="42.02" height="26.84" fill="#D6604D"/>
<rect x="210.36" y="1220.32" width="42.02" height="26.84" fill="#F4A582"/>
<rect x="254.38" y="1220.32" width="42.02" height="26.84" fill="#F4A582"/>
<rect x="298.40" y="1220.32" width="42.02" height="26.84" fill="#4393C3"/>
<rect x="342.42" y="1220.32" width="42.02" height="26.84" fill="#92C5DE"/>
<rect x="386.44" y="1220.32" width="42.02" height="26.84" fill="#4393C3"/>
<rect x="430.46" y="1220.32" width="42.02" height="26.84" fill="#92C5DE"/>
<rect x="474.48" y="1220.32" width="42.02" height="26.84" fill="#92C5DE"/>
<rect x="78.30" y="1249.17" width="42.02" height="26.84" fill="#F4A582"/>
<rect x="122.32" y="1249.17" width="42.02" height="26.84" fill="#D6604D"/>
<rect x="166.34" y="1249.17" width="42.02" height="26.84" fill="#F4A582"/>
<rect x="210.36" y="1249.17" width="42.02" height="26.84" fill="#F4A582"/>
<rect x="254.38" y="1249.17" width="42.02" height="26.84" fill="#F4A582"/>
<rect x="298.40" y="1249.17" width="42.02" height="26.84" fill="#4393C3"/>
<rect x="342.42" y="1249.17" width="42.02" height="26.84" fill="#92C5DE"/>
<rect x="386.44" y="1249.17" width="42.02" height="26.84" fill="#2166AC"/>
<rect x="430.46" y="1249.17" width="42.02" height="26.84" fill="#D1E5F0"/>
<rect x="474.48" y="1249.17" width="42.02" height="26.84" fill="#92C5DE"/>
<rect x="78.30" y="1278.01" width="42.02" height="26.84" fill="#D6604D"/>
<rect x="122.32" y="1278.01" width="42.02" height="26.84" fill="#F4A582"/>
<rect x="166.34" y="1278.01" width="42.02" height="26.84" fill="#FDDBC7"/>
<rect x="210.36" y="1278.01" width="42.02" height="26.84" fill="#B2182B"/>
<rect x="254.38" y="1278.01" width="42.02" height="26.84" fill="#FDDBC7"/>
<rect x="298.40" y="1278.01" width="42.02" height="26.84" fill="#4393C3"/>
<rect x="342.42" y="1278.01" width="42.02" height="26.84" fill="#92C5DE"/>
<rect x="386.44" y="1278.01" width="42.02" height="26.84" fill="#4393C3"/>
<rect x="430.46" y="1278.01" width="42.02" height="26.84" fill="#92C5DE"/>
<rect x="474.48" y="1278.01" width="42.02" height="26.84" fill="#F7F7F7"/>
<rect x="78.30" y="1306.85" width="42.02" height="26.84" fill="#D6604D"/>
<rect x="122.32" y="1306.85" width="42.02" height="26.84" fill="#B2182B"/>
<rect x="166.34" y="1306.85" width="42.02" height="26.84" fill="#FDDBC7"/>
<rect x="210.36" y="1306.85" width="42.02" height="26.84" fill="#D6604D"/>
<rect x="254.38" y="1306.85" width="42.02" height="26.84" fill="#FDDBC7"/>
<rect x="298.40" y="1306.85" width="42.02" height="26.84" fill="#92C5DE"/>
<rect x="342.42" y="1306.85" width="42.02" height="26.84" fill="#4393C3"/>
<rect x="386.44" y="1306.85" width="42.02" height="26.84" fill="#2166AC"/>
<rect x="430.46" y="1306.85" width="42.02" height="26.84" fill="#92C5DE"/>
<rect x="474.48" y="1306.85" width="42.02" height="26.84" fill="#F7F7F7"/>
<rect x="78.30" y="1335.70" width="42.02" height="26.84" fill="#D6604D"/>
<rect x="122.32" y="1335.70" width="42.02" height="26.84" fill="#B2182B"/>
<rect x="166.34" y="1335.70" width="42.02" height="26.84" fill="#D1E5F0"/>
<rect x="210.36" y="1335.70" width="42.02" height="26.84" fill="#FDDBC7"/>
<rect x="254.38" y="1335.70" width="42.02" height="26.84" fill="#FDDBC7"/>
<rect x="298.40" y="1335.70" width="42.02" height="26.84" fill="#D1E5F0"/>
<rect x="342.42" y="1335.70" width="42.02" height="26.84" fill="#F7F7F7"/>
<rect x="386.44" y="1335.70" width="42.02" height="26.84" fill="#4393C3"/>
<rect x="430.46" y="1335.70" width="42.02" height="26.84" fill="#053061"/>
<rect x="474.48" y="1335.70" width="42.02" height="26.84" fill="#F7F7F7"/>
<rect x="78.30" y="1364.54" width="42.02" height="26.84" fill="#D6604D"/>
<rect x="122.32" y="1364.54" width="42.02" height="26.84" fill="#D6604D"/>
<rect x="166.34" y="1364.54" width="42.02" height="26.84" fill="#FDDBC7"/>
<rect x="210.36" y="1364.54" width="42.02" height="26.84" fill="#F4A582"/>
<rect x="254.38" y="1364.54" width="42.02" height="26.84" fill="#FDDBC7"/>
<rect x="298.40" y="1364.54" width="42.02" height="26.84" fill="#92C5DE"/>
<rect x="342.42" y="1364.54" width="42.02" height="26.84" fill="#92C5DE"/>
<rect x="386.44" y="1364.54" width="42.02" height="26.84" fill="#2166AC"/>
<rect x="430.46" y="1364.54" width="42.02" height="26.84" fill="#2166AC"/>
<rect x="474.48" y="1364.54" width="42.02" height="26.84" fill="#FDDBC7"/>
<rect x="78.30" y="1393.38" width="42.02" height="26.84" fill="#B2182B"/>
<rect x="122.32" y="1393.38" width="42.02" height="26.84" fill="#D6604D"/>
<rect x="166.34" y="1393.38" width="42.02" height="26.84" fill="#FDDBC7"/>
<rect x="210.36" y="1393.38" width="42.02" height="26.84" fill="#F7F7F7"/>
<rect x="254.38" y="1393.38" width="42.02" height="26.84" fill="#F4A582"/>
<rect x="298.40" y="1393.38" width="42.02" height="26.84" fill="#F7F7F7"/>
<rect x="342.42" y="1393.38" width="42.02" height="26.84" fill="#4393C3"/>
<rect x="386.44" y="1393.38" width="42.02" height="26.84" fill="#92C5DE"/>
<rect x="430.46" y="1393.38" width="42.02" height="26.84" fill="#2166AC"/>
<rect x="474.48" y="1393.38" width="42.02" height="26.84" fill="#92C5DE"/>
<rect x="78.30" y="1422.23" width="42.02" height="26.84" fill="#B2182B"/>
<rect x="122.32" y="1422.23" width="42.02" height="26.84" fill="#F4A582"/>
<rect x="166.34" y="1422.23" width="42.02" height="26.84" fill="#D6604D"/>
<rect x="210.36" y="1422.23" width="42.02" height="26.84" fill="#F7F7F7"/>
<rect x="254.38" y="1422.23" width="42.02" height="26.84" fill="#F4A582"/>
<rect x="298.40" y="1422.23" width="42.02" height="26.84" fill="#D1E5F0"/>
<rect x="342.42" y="1422.23" width="42.02" height="26.84" fill="#92C5DE"/>
<rect x="386.44" y="1422.23" width="42.02" height="26.84" fill="#4393C3"/>
<rect x="430.46" y="1422.23" width="42.02" height="26.84" fill="#2166AC"/>
<rect x="474.48" y="1422.23" width="42.02" height="26.84" fill="#D1E5F0"/>
<rect x="78.30" y="1451.07" width="42.02" height="26.84" fill="#B2182B"/>
<rect x="122.32" y="1451.07" width="42.02" height="26.84" fill="#D6604D"/>
<rect x="166.34" y="1451.07" width="42.02" height="26.84" fill="#FDDBC7"/>
<rect x="210.36" y="1451.07" width="42.02" height="26.84" fill="#FDDBC7"/>
<rect x="254.38" y="1451.07" width="42.02" height="26.84" fill="#F4A582"/>
<rect x="298.40" y="1451.07" width="42.02" height="26.84" fill="#92C5DE"/>
<rect x="342.42" y="1451.07" width="42.02" height="26.84" fill="#4393C3"/>
<rect x="386.44" y="1451.07" width="42.02" height="26.84" fill="#4393C3"/>
<rect x="430.46" y="1451.07" width="42.02" height="26.84" fill="#4393C3"/>
<rect x="474.48" y="1451.07" width="42.02" height="26.84" fill="#D1E5F0"/>
<rect x="78.30" y="1479.91" width="42.02" height="26.84" fill="#F4A582"/>
<rect x="122.32" y="1479.91" width="42.02" height="26.84" fill="#F7F7F7"/>
<rect x="166.34" y="1479.91" width="42.02" height="26.84" fill="#B2182B"/>
<rect x="210.36" y="1479.91" width="42.02" height="26.84" fill="#F4A582"/>
<rect x="254.38" y="1479.91" width="42.02" height="26.84" fill="#D6604D"/>
<rect x="298.40" y="1479.91" width="42.02" height="26.84" fill="#2166AC"/>
<rect x="342.42" y="1479.91" width="42.02" height="26.84" fill="#D1E5F0"/>
<rect x="386.44" y="1479.91" width="42.02" height="26.84" fill="#92C5DE"/>
<rect x="430.46" y="1479.91" width="42.02" height="26.84" fill="#92C5DE"/>
<rect x="474.48" y="1479.91" width="42.02" height="26.84" fill="#92C5DE"/>
<rect x="78.30" y="1508.76" width="42.02" height="26.84" fill="#F4A582"/>
<rect x="122.32" y="1508.76" width="42.02" height="26.84" fill="#F4A582"/>
<rect x="166.34" y="1508.76" width="42.02" height="26.84" fill="#FDDBC7"/>
<rect x="210.36" y="1508.76" width="42.02" height="26.84" fill="#D6604D"/>
<rect x="254.38" y="1508.76" width="42.02" height="26.84" fill="#F7F7F7"/>
<rect x="298.40" y="1508.76" width="42.02" height="26.84" fill="#F7F7F7"/>
<rect x="342.42" y="1508.76" width="42.02" height="26.84" fill="#F7F7F7"/>
<rect x="386.44" y="1508.76" width="42.02" height="26.84" fill="#F7F7F7"/>
<rect x="430.46" y="1508.76" width="42.02" height="26.84" fill="#053061"/>
<rect x="474.48" y="1508.76" width="42.02" height="26.84" fill="#4393C3"/>
<text x="523.8" y="896.5" font-size="20.3" fill="#1a1a1a" stroke="#1a1a1a" stroke-width="0.45">Jak2</text>
<text x="523.8" y="925.2" font-size="20.3" fill="#1a1a1a" stroke="#1a1a1a" stroke-width="0.45">Sumo1</text>
<text x="523.8" y="954.0" font-size="20.3" fill="#1a1a1a" stroke="#1a1a1a" stroke-width="0.45">Ptpn2</text>
<text x="523.8" y="982.7" font-size="20.3" fill="#1a1a1a" stroke="#1a1a1a" stroke-width="0.45">Vcam1</text>
<text x="523.8" y="1011.5" font-size="20.3" fill="#1a1a1a" stroke="#1a1a1a" stroke-width="0.45">Ptafr</text>
<text x="523.8" y="1040.3" font-size="20.3" fill="#1a1a1a" stroke="#1a1a1a" stroke-width="0.45">Icam1</text>
<text x="523.8" y="1069.0" font-size="20.3" fill="#1a1a1a" stroke="#1a1a1a" stroke-width="0.45">Pml</text>
<text x="523.8" y="1097.8" font-size="20.3" fill="#1a1a1a" stroke="#1a1a1a" stroke-width="0.45">Irf8</text>
<text x="523.8" y="1126.5" font-size="20.3" fill="#1a1a1a" stroke="#1a1a1a" stroke-width="0.45">Ifng</text>
<text x="523.8" y="1155.3" font-size="20.3" fill="#1a1a1a" stroke="#1a1a1a" stroke-width="0.45">Oas3</text>
<text x="523.8" y="1184.0" font-size="20.3" fill="#1a1a1a" stroke="#1a1a1a" stroke-width="0.45">Irf7</text>
<text x="523.8" y="1212.8" font-size="20.3" fill="#1a1a1a" stroke="#1a1a1a" stroke-width="0.45">Ptpn6</text>
<text x="523.8" y="1241.6" font-size="20.3" fill="#1a1a1a" stroke="#1a1a1a" stroke-width="0.45">Ifngr2</text>
<text x="523.8" y="1270.3" font-size="20.3" fill="#1a1a1a" stroke="#1a1a1a" stroke-width="0.45">Oas2</text>
<text x="523.8" y="1299.1" font-size="20.3" fill="#1a1a1a" stroke="#1a1a1a" stroke-width="0.45">B2m</text>
<text x="523.8" y="1327.8" font-size="20.3" fill="#1a1a1a" stroke="#1a1a1a" stroke-width="0.45">Sp100</text>
<text x="523.8" y="1356.6" font-size="20.3" fill="#1a1a1a" stroke="#1a1a1a" stroke-width="0.45">Socs1</text>
<text x="523.8" y="1385.3" font-size="20.3" fill="#1a1a1a" stroke="#1a1a1a" stroke-width="0.45">Irf9</text>
<text x="523.8" y="1414.1" font-size="20.3" fill="#1a1a1a" stroke="#1a1a1a" stroke-width="0.45">Ptpn1</text>
<text x="523.8" y="1442.9" font-size="20.3" fill="#1a1a1a" stroke="#1a1a1a" stroke-width="0.45">Irf4</text>
<text x="523.8" y="1471.6" font-size="20.3" fill="#1a1a1a" stroke="#1a1a1a" stroke-width="0.45">Irf5</text>
<text x="523.8" y="1500.4" font-size="20.3" fill="#1a1a1a" stroke="#1a1a1a" stroke-width="0.45">Ifngr1</text>
<text x="523.8" y="1529.1" font-size="20.3" fill="#1a1a1a" stroke="#1a1a1a" stroke-width="0.45">Irf3</text>
<rect x="601.1" y="874.70" width="20.8" height="29.55" fill="#67001F"/>
<rect x="601.1" y="903.85" width="20.8" height="29.55" fill="#B2182B"/>
<rect x="601.1" y="933.01" width="20.8" height="29.55" fill="#D6604D"/>
<rect x="601.1" y="962.16" width="20.8" height="29.55" fill="#F4A582"/>
<rect x="601.1" y="991.32" width="20.8" height="29.55" fill="#FDDBC7"/>
<rect x="601.1" y="1020.47" width="20.8" height="29.55" fill="#F7F7F7"/>
<rect x="601.1" y="1049.63" width="20.8" height="29.55" fill="#D1E5F0"/>
<rect x="601.1" y="1078.78" width="20.8" height="29.55" fill="#92C5DE"/>
<rect x="601.1" y="1107.94" width="20.8" height="29.55" fill="#4393C3"/>
<rect x="601.1" y="1137.09" width="20.8" height="29.55" fill="#2166AC"/>
<rect x="601.1" y="1166.25" width="20.8" height="29.55" fill="#053061"/>
<text x="628.8" y="889.8" font-size="19" fill="#1a1a1a" stroke="#1a1a1a" stroke-width="0.45">2</text>
<text x="628.8" y="966.3" font-size="19" fill="#1a1a1a" stroke="#1a1a1a" stroke-width="0.45">1</text>
<text x="628.8" y="1042.3" font-size="19" fill="#1a1a1a" stroke="#1a1a1a" stroke-width="0.45">0</text>
<text x="628.8" y="1119.1" font-size="19" fill="#1a1a1a" stroke="#1a1a1a" stroke-width="0.45">-1</text>
<text x="628.8" y="1196.0" font-size="19" fill="#1a1a1a" stroke="#1a1a1a" stroke-width="0.45">-2</text>
<text x="596.0" y="854.8" font-size="28.3" fill="#1a1a1a" stroke="#1a1a1a" stroke-width="0.6">z-score</text>
<text x="108.5" y="1581.4" font-size="35.9" fill="#000" stroke="#000" stroke-width="0.6">Brca2<tspan font-size="21.2" dy="-12.2">null</tspan></text>
<text x="326.5" y="1581.4" font-size="35.9" fill="#000" stroke="#000" stroke-width="0.6">Brca1<tspan font-size="21.2" dy="-12.2">null</tspan></text>
<text x="715.0" y="830.9" font-size="55" font-weight="700" fill="#1a1a1a" stroke="#1a1a1a" stroke-width="1.3">d</text>
<text x="832.0" y="842.7" font-size="35.9" font-weight="700" fill="#1a1a1a">T Cell Activation</text>
<rect x="719.00" y="872.60" width="469.90" height="660.10" fill="#FFFFFF"/>
<rect x="719.00" y="872.60" width="45.19" height="20.83" fill="#92C5DE"/>
<rect x="766.19" y="872.60" width="45.19" height="20.83" fill="#92C5DE"/>
<rect x="813.38" y="872.60" width="45.19" height="20.83" fill="#D1E5F0"/>
<rect x="860.57" y="872.60" width="45.19" height="20.83" fill="#4393C3"/>
<rect x="907.76" y="872.60" width="45.19" height="20.83" fill="#D1E5F0"/>
<rect x="954.95" y="872.60" width="45.19" height="20.83" fill="#B2182B"/>
<rect x="1002.14" y="872.60" width="45.19" height="20.83" fill="#FDDBC7"/>
<rect x="1049.33" y="872.60" width="45.19" height="20.83" fill="#F4A582"/>
<rect x="1096.52" y="872.60" width="45.19" height="20.83" fill="#FDDBC7"/>
<rect x="1143.71" y="872.60" width="45.19" height="20.83" fill="#D6604D"/>
<rect x="719.00" y="895.43" width="45.19" height="20.83" fill="#92C5DE"/>
<rect x="766.19" y="895.43" width="45.19" height="20.83" fill="#D1E5F0"/>
<rect x="813.38" y="895.43" width="45.19" height="20.83" fill="#D1E5F0"/>
<rect x="860.57" y="895.43" width="45.19" height="20.83" fill="#92C5DE"/>
<rect x="907.76" y="895.43" width="45.19" height="20.83" fill="#92C5DE"/>
<rect x="954.95" y="895.43" width="45.19" height="20.83" fill="#92C5DE"/>
<rect x="1002.14" y="895.43" width="45.19" height="20.83" fill="#D6604D"/>
<rect x="1049.33" y="895.43" width="45.19" height="20.83" fill="#F4A582"/>
<rect x="1096.52" y="895.43" width="45.19" height="20.83" fill="#F4A582"/>
<rect x="1143.71" y="895.43" width="45.19" height="20.83" fill="#D6604D"/>
<rect x="719.00" y="918.26" width="45.19" height="20.83" fill="#B2182B"/>
<rect x="766.19" y="918.26" width="45.19" height="20.83" fill="#4393C3"/>
<rect x="813.38" y="918.26" width="45.19" height="20.83" fill="#F7F7F7"/>
<rect x="860.57" y="918.26" width="45.19" height="20.83" fill="#F4A582"/>
<rect x="907.76" y="918.26" width="45.19" height="20.83" fill="#D6604D"/>
<rect x="954.95" y="918.26" width="45.19" height="20.83" fill="#D1E5F0"/>
<rect x="1002.14" y="918.26" width="45.19" height="20.83" fill="#4393C3"/>
<rect x="1049.33" y="918.26" width="45.19" height="20.83" fill="#4393C3"/>
<rect x="1096.52" y="918.26" width="45.19" height="20.83" fill="#FDDBC7"/>
<rect x="1143.71" y="918.26" width="45.19" height="20.83" fill="#F7F7F7"/>
<rect x="719.00" y="941.09" width="45.19" height="20.83" fill="#FDDBC7"/>
<rect x="766.19" y="941.09" width="45.19" height="20.83" fill="#B2182B"/>
<rect x="813.38" y="941.09" width="45.19" height="20.83" fill="#FDDBC7"/>
<rect x="860.57" y="941.09" width="45.19" height="20.83" fill="#D6604D"/>
<rect x="907.76" y="941.09" width="45.19" height="20.83" fill="#F4A582"/>
<rect x="954.95" y="941.09" width="45.19" height="20.83" fill="#4393C3"/>
<rect x="1002.14" y="941.09" width="45.19" height="20.83" fill="#4393C3"/>
<rect x="1049.33" y="941.09" width="45.19" height="20.83" fill="#92C5DE"/>
<rect x="1096.52" y="941.09" width="45.19" height="20.83" fill="#92C5DE"/>
<rect x="1143.71" y="941.09" width="45.19" height="20.83" fill="#D1E5F0"/>
<rect x="719.00" y="963.92" width="45.19" height="20.83" fill="#F4A582"/>
<rect x="766.19" y="963.92" width="45.19" height="20.83" fill="#F4A582"/>
<rect x="813.38" y="963.92" width="45.19" height="20.83" fill="#FDDBC7"/>
<rect x="860.57" y="963.92" width="45.19" height="20.83" fill="#D6604D"/>
<rect x="907.76" y="963.92" width="45.19" height="20.83" fill="#F4A582"/>
<rect x="954.95" y="963.92" width="45.19" height="20.83" fill="#92C5DE"/>
<rect x="1002.14" y="963.92" width="45.19" height="20.83" fill="#4393C3"/>
<rect x="1049.33" y="963.92" width="45.19" height="20.83" fill="#4393C3"/>
<rect x="1096.52" y="963.92" width="45.19" height="20.83" fill="#D1E5F0"/>
<rect x="1143.71" y="963.92" width="45.19" height="20.83" fill="#92C5DE"/>
<rect x="719.00" y="986.76" width="45.19" height="20.83" fill="#FDDBC7"/>
<rect x="766.19" y="986.76" width="45.19" height="20.83" fill="#D6604D"/>
<rect x="813.38" y="986.76" width="45.19" height="20.83" fill="#F4A582"/>
<rect x="860.57" y="986.76" width="45.19" height="20.83" fill="#B2182B"/>
<rect x="907.76" y="986.76" width="45.19" height="20.83" fill="#FDDBC7"/>
<rect x="954.95" y="986.76" width="45.19" height="20.83" fill="#4393C3"/>
<rect x="1002.14" y="986.76" width="45.19" height="20.83" fill="#4393C3"/>
<rect x="1049.33" y="986.76" width="45.19" height="20.83" fill="#92C5DE"/>
<rect x="1096.52" y="986.76" width="45.19" height="20.83" fill="#F7F7F7"/>
<rect x="1143.71" y="986.76" width="45.19" height="20.83" fill="#92C5DE"/>
<rect x="719.00" y="1009.59" width="45.19" height="20.83" fill="#D1E5F0"/>
<rect x="766.19" y="1009.59" width="45.19" height="20.83" fill="#D6604D"/>
<rect x="813.38" y="1009.59" width="45.19" height="20.83" fill="#F4A582"/>
<rect x="860.57" y="1009.59" width="45.19" height="20.83" fill="#F4A582"/>
<rect x="907.76" y="1009.59" width="45.19" height="20.83" fill="#D6604D"/>
<rect x="954.95" y="1009.59" width="45.19" height="20.83" fill="#D1E5F0"/>
<rect x="1002.14" y="1009.59" width="45.19" height="20.83" fill="#053061"/>
<rect x="1049.33" y="1009.59" width="45.19" height="20.83" fill="#92C5DE"/>
<rect x="1096.52" y="1009.59" width="45.19" height="20.83" fill="#D1E5F0"/>
<rect x="1143.71" y="1009.59" width="45.19" height="20.83" fill="#F7F7F7"/>
<rect x="719.00" y="1032.42" width="45.19" height="20.83" fill="#FDDBC7"/>
<rect x="766.19" y="1032.42" width="45.19" height="20.83" fill="#FDDBC7"/>
<rect x="813.38" y="1032.42" width="45.19" height="20.83" fill="#F4A582"/>
<rect x="860.57" y="1032.42" width="45.19" height="20.83" fill="#D6604D"/>
<rect x="907.76" y="1032.42" width="45.19" height="20.83" fill="#D6604D"/>
<rect x="954.95" y="1032.42" width="45.19" height="20.83" fill="#92C5DE"/>
<rect x="1002.14" y="1032.42" width="45.19" height="20.83" fill="#2166AC"/>
<rect x="1049.33" y="1032.42" width="45.19" height="20.83" fill="#92C5DE"/>
<rect x="1096.52" y="1032.42" width="45.19" height="20.83" fill="#F7F7F7"/>
<rect x="1143.71" y="1032.42" width="45.19" height="20.83" fill="#D1E5F0"/>
<rect x="719.00" y="1055.25" width="45.19" height="20.83" fill="#FDDBC7"/>
<rect x="766.19" y="1055.25" width="45.19" height="20.83" fill="#F4A582"/>
<rect x="813.38" y="1055.25" width="45.19" height="20.83" fill="#D6604D"/>
<rect x="860.57" y="1055.25" width="45.19" height="20.83" fill="#D6604D"/>
<rect x="907.76" y="1055.25" width="45.19" height="20.83" fill="#D6604D"/>
<rect x="954.95" y="1055.25" width="45.19" height="20.83" fill="#F7F7F7"/>
<rect x="1002.14" y="1055.25" width="45.19" height="20.83" fill="#2166AC"/>
<rect x="1049.33" y="1055.25" width="45.19" height="20.83" fill="#92C5DE"/>
<rect x="1096.52" y="1055.25" width="45.19" height="20.83" fill="#92C5DE"/>
<rect x="1143.71" y="1055.25" width="45.19" height="20.83" fill="#92C5DE"/>
<rect x="719.00" y="1078.08" width="45.19" height="20.83" fill="#FDDBC7"/>
<rect x="766.19" y="1078.08" width="45.19" height="20.83" fill="#F4A582"/>
<rect x="813.38" y="1078.08" width="45.19" height="20.83" fill="#F4A582"/>
<rect x="860.57" y="1078.08" width="45.19" height="20.83" fill="#D6604D"/>
<rect x="907.76" y="1078.08" width="45.19" height="20.83" fill="#F4A582"/>
<rect x="954.95" y="1078.08" width="45.19" height="20.83" fill="#92C5DE"/>
<rect x="1002.14" y="1078.08" width="45.19" height="20.83" fill="#2166AC"/>
<rect x="1049.33" y="1078.08" width="45.19" height="20.83" fill="#D1E5F0"/>
<rect x="1096.52" y="1078.08" width="45.19" height="20.83" fill="#D1E5F0"/>
<rect x="1143.71" y="1078.08" width="45.19" height="20.83" fill="#4393C3"/>
<rect x="719.00" y="1100.91" width="45.19" height="20.83" fill="#F4A582"/>
<rect x="766.19" y="1100.91" width="45.19" height="20.83" fill="#F4A582"/>
<rect x="813.38" y="1100.91" width="45.19" height="20.83" fill="#FDDBC7"/>
<rect x="860.57" y="1100.91" width="45.19" height="20.83" fill="#F4A582"/>
<rect x="907.76" y="1100.91" width="45.19" height="20.83" fill="#F4A582"/>
<rect x="954.95" y="1100.91" width="45.19" height="20.83" fill="#92C5DE"/>
<rect x="1002.14" y="1100.91" width="45.19" height="20.83" fill="#D1E5F0"/>
<rect x="1049.33" y="1100.91" width="45.19" height="20.83" fill="#053061"/>
<rect x="1096.52" y="1100.91" width="45.19" height="20.83" fill="#F7F7F7"/>
<rect x="1143.71" y="1100.91" width="45.19" height="20.83" fill="#D1E5F0"/>
<rect x="719.00" y="1123.74" width="45.19" height="20.83" fill="#D1E5F0"/>
<rect x="766.19" y="1123.74" width="45.19" height="20.83" fill="#FDDBC7"/>
<rect x="813.38" y="1123.74" width="45.19" height="20.83" fill="#FDDBC7"/>
<rect x="860.57" y="1123.74" width="45.19" height="20.83" fill="#D6604D"/>
<rect x="907.76" y="1123.74" width="45.19" height="20.83" fill="#B2182B"/>
<rect x="954.95" y="1123.74" width="45.19" height="20.83" fill="#F7F7F7"/>
<rect x="1002.14" y="1123.74" width="45.19" height="20.83" fill="#92C5DE"/>
<rect x="1049.33" y="1123.74" width="45.19" height="20.83" fill="#4393C3"/>
<rect x="1096.52" y="1123.74" width="45.19" height="20.83" fill="#D1E5F0"/>
<rect x="1143.71" y="1123.74" width="45.19" height="20.83" fill="#4393C3"/>
<rect x="719.00" y="1146.57" width="45.19" height="20.83" fill="#F7F7F7"/>
<rect x="766.19" y="1146.57" width="45.19" height="20.83" fill="#F4A582"/>
<rect x="813.38" y="1146.57" width="45.19" height="20.83" fill="#FDDBC7"/>
<rect x="860.57" y="1146.57" width="45.19" height="20.83" fill="#B2182B"/>
<rect x="907.76" y="1146.57" width="45.19" height="20.83" fill="#F4A582"/>
<rect x="954.95" y="1146.57" width="45.19" height="20.83" fill="#D1E5F0"/>
<rect x="1002.14" y="1146.57" width="45.19" height="20.83" fill="#D1E5F0"/>
<rect x="1049.33" y="1146.57" width="45.19" height="20.83" fill="#92C5DE"/>
<rect x="1096.52" y="1146.57" width="45.19" height="20.83" fill="#D1E5F0"/>
<rect x="1143.71" y="1146.57" width="45.19" height="20.83" fill="#053061"/>
<rect x="719.00" y="1169.40" width="45.19" height="20.83" fill="#FDDBC7"/>
<rect x="766.19" y="1169.40" width="45.19" height="20.83" fill="#D6604D"/>
<rect x="813.38" y="1169.40" width="45.19" height="20.83" fill="#F4A582"/>
<rect x="860.57" y="1169.40" width="45.19" height="20.83" fill="#D6604D"/>
<rect x="907.76" y="1169.40" width="45.19" height="20.83" fill="#F4A582"/>
<rect x="954.95" y="1169.40" width="45.19" height="20.83" fill="#92C5DE"/>
<rect x="1002.14" y="1169.40" width="45.19" height="20.83" fill="#4393C3"/>
<rect x="1049.33" y="1169.40" width="45.19" height="20.83" fill="#92C5DE"/>
<rect x="1096.52" y="1169.40" width="45.19" height="20.83" fill="#92C5DE"/>
<rect x="1143.71" y="1169.40" width="45.19" height="20.83" fill="#4393C3"/>
<rect x="719.00" y="1192.23" width="45.19" height="20.83" fill="#FDDBC7"/>
<rect x="766.19" y="1192.23" width="45.19" height="20.83" fill="#D6604D"/>
<rect x="813.38" y="1192.23" width="45.19" height="20.83" fill="#F4A582"/>
<rect x="860.57" y="1192.23" width="45.19" height="20.83" fill="#D6604D"/>
<rect x="907.76" y="1192.23" width="45.19" height="20.83" fill="#D6604D"/>
<rect x="954.95" y="1192.23" width="45.19" height="20.83" fill="#4393C3"/>
<rect x="1002.14" y="1192.23" width="45.19" height="20.83" fill="#92C5DE"/>
<rect x="1049.33" y="1192.23" width="45.19" height="20.83" fill="#92C5DE"/>
<rect x="1096.52" y="1192.23" width="45.19" height="20.83" fill="#92C5DE"/>
<rect x="1143.71" y="1192.23" width="45.19" height="20.83" fill="#92C5DE"/>
<rect x="719.00" y="1215.07" width="45.19" height="20.83" fill="#FDDBC7"/>
<rect x="766.19" y="1215.07" width="45.19" height="20.83" fill="#D6604D"/>
<rect x="813.38" y="1215.07" width="45.19" height="20.83" fill="#FDDBC7"/>
<rect x="860.57" y="1215.07" width="45.19" height="20.83" fill="#D6604D"/>
<rect x="907.76" y="1215.07" width="45.19" height="20.83" fill="#F4A582"/>
<rect x="954.95" y="1215.07" width="45.19" height="20.83" fill="#92C5DE"/>
<rect x="1002.14" y="1215.07" width="45.19" height="20.83" fill="#92C5DE"/>
<rect x="1049.33" y="1215.07" width="45.19" height="20.83" fill="#92C5DE"/>
<rect x="1096.52" y="1215.07" width="45.19" height="20.83" fill="#4393C3"/>
<rect x="1143.71" y="1215.07" width="45.19" height="20.83" fill="#4393C3"/>
<rect x="719.00" y="1237.90" width="45.19" height="20.83" fill="#FDDBC7"/>
<rect x="766.19" y="1237.90" width="45.19" height="20.83" fill="#F4A582"/>
<rect x="813.38" y="1237.90" width="45.19" height="20.83" fill="#F4A582"/>
<rect x="860.57" y="1237.90" width="45.19" height="20.83" fill="#D6604D"/>
<rect x="907.76" y="1237.90" width="45.19" height="20.83" fill="#D6604D"/>
<rect x="954.95" y="1237.90" width="45.19" height="20.83" fill="#D1E5F0"/>
<rect x="1002.14" y="1237.90" width="45.19" height="20.83" fill="#92C5DE"/>
<rect x="1049.33" y="1237.90" width="45.19" height="20.83" fill="#92C5DE"/>
<rect x="1096.52" y="1237.90" width="45.19" height="20.83" fill="#92C5DE"/>
<rect x="1143.71" y="1237.90" width="45.19" height="20.83" fill="#4393C3"/>
<rect x="719.00" y="1260.73" width="45.19" height="20.83" fill="#FDDBC7"/>
<rect x="766.19" y="1260.73" width="45.19" height="20.83" fill="#F4A582"/>
<rect x="813.38" y="1260.73" width="45.19" height="20.83" fill="#F4A582"/>
<rect x="860.57" y="1260.73" width="45.19" height="20.83" fill="#D6604D"/>
<rect x="907.76" y="1260.73" width="45.19" height="20.83" fill="#D6604D"/>
<rect x="954.95" y="1260.73" width="45.19" height="20.83" fill="#D1E5F0"/>
<rect x="1002.14" y="1260.73" width="45.19" height="20.83" fill="#92C5DE"/>
<rect x="1049.33" y="1260.73" width="45.19" height="20.83" fill="#D1E5F0"/>
<rect x="1096.52" y="1260.73" width="45.19" height="20.83" fill="#92C5DE"/>
<rect x="1143.71" y="1260.73" width="45.19" height="20.83" fill="#2166AC"/>
<rect x="719.00" y="1283.56" width="45.19" height="20.83" fill="#FDDBC7"/>
<rect x="766.19" y="1283.56" width="45.19" height="20.83" fill="#F4A582"/>
<rect x="813.38" y="1283.56" width="45.19" height="20.83" fill="#F4A582"/>
<rect x="860.57" y="1283.56" width="45.19" height="20.83" fill="#D6604D"/>
<rect x="907.76" y="1283.56" width="45.19" height="20.83" fill="#D6604D"/>
<rect x="954.95" y="1283.56" width="45.19" height="20.83" fill="#92C5DE"/>
<rect x="1002.14" y="1283.56" width="45.19" height="20.83" fill="#4393C3"/>
<rect x="1049.33" y="1283.56" width="45.19" height="20.83" fill="#D1E5F0"/>
<rect x="1096.52" y="1283.56" width="45.19" height="20.83" fill="#92C5DE"/>
<rect x="1143.71" y="1283.56" width="45.19" height="20.83" fill="#4393C3"/>
<rect x="719.00" y="1306.39" width="45.19" height="20.83" fill="#F4A582"/>
<rect x="766.19" y="1306.39" width="45.19" height="20.83" fill="#F4A582"/>
<rect x="813.38" y="1306.39" width="45.19" height="20.83" fill="#F4A582"/>
<rect x="860.57" y="1306.39" width="45.19" height="20.83" fill="#D6604D"/>
<rect x="907.76" y="1306.39" width="45.19" height="20.83" fill="#D6604D"/>
<rect x="954.95" y="1306.39" width="45.19" height="20.83" fill="#92C5DE"/>
<rect x="1002.14" y="1306.39" width="45.19" height="20.83" fill="#4393C3"/>
<rect x="1049.33" y="1306.39" width="45.19" height="20.83" fill="#92C5DE"/>
<rect x="1096.52" y="1306.39" width="45.19" height="20.83" fill="#92C5DE"/>
<rect x="1143.71" y="1306.39" width="45.19" height="20.83" fill="#4393C3"/>
<rect x="719.00" y="1329.22" width="45.19" height="20.83" fill="#F4A582"/>
<rect x="766.19" y="1329.22" width="45.19" height="20.83" fill="#FDDBC7"/>
<rect x="813.38" y="1329.22" width="45.19" height="20.83" fill="#F4A582"/>
<rect x="860.57" y="1329.22" width="45.19" height="20.83" fill="#D6604D"/>
<rect x="907.76" y="1329.22" width="45.19" height="20.83" fill="#D6604D"/>
<rect x="954.95" y="1329.22" width="45.19" height="20.83" fill="#F7F7F7"/>
<rect x="1002.14" y="1329.22" width="45.19" height="20.83" fill="#4393C3"/>
<rect x="1049.33" y="1329.22" width="45.19" height="20.83" fill="#92C5DE"/>
<rect x="1096.52" y="1329.22" width="45.19" height="20.83" fill="#92C5DE"/>
<rect x="1143.71" y="1329.22" width="45.19" height="20.83" fill="#2166AC"/>
<rect x="719.00" y="1352.05" width="45.19" height="20.83" fill="#F4A582"/>
<rect x="766.19" y="1352.05" width="45.19" height="20.83" fill="#F4A582"/>
<rect x="813.38" y="1352.05" width="45.19" height="20.83" fill="#F4A582"/>
<rect x="860.57" y="1352.05" width="45.19" height="20.83" fill="#D6604D"/>
<rect x="907.76" y="1352.05" width="45.19" height="20.83" fill="#F4A582"/>
<rect x="954.95" y="1352.05" width="45.19" height="20.83" fill="#D1E5F0"/>
<rect x="1002.14" y="1352.05" width="45.19" height="20.83" fill="#92C5DE"/>
<rect x="1049.33" y="1352.05" width="45.19" height="20.83" fill="#4393C3"/>
<rect x="1096.52" y="1352.05" width="45.19" height="20.83" fill="#92C5DE"/>
<rect x="1143.71" y="1352.05" width="45.19" height="20.83" fill="#4393C3"/>
<rect x="719.00" y="1374.88" width="45.19" height="20.83" fill="#FDDBC7"/>
<rect x="766.19" y="1374.88" width="45.19" height="20.83" fill="#F4A582"/>
<rect x="813.38" y="1374.88" width="45.19" height="20.83" fill="#D6604D"/>
<rect x="860.57" y="1374.88" width="45.19" height="20.83" fill="#D6604D"/>
<rect x="907.76" y="1374.88" width="45.19" height="20.83" fill="#D6604D"/>
<rect x="954.95" y="1374.88" width="45.19" height="20.83" fill="#D1E5F0"/>
<rect x="1002.14" y="1374.88" width="45.19" height="20.83" fill="#92C5DE"/>
<rect x="1049.33" y="1374.88" width="45.19" height="20.83" fill="#4393C3"/>
<rect x="1096.52" y="1374.88" width="45.19" height="20.83" fill="#92C5DE"/>
<rect x="1143.71" y="1374.88" width="45.19" height="20.83" fill="#92C5DE"/>
<rect x="719.00" y="1397.71" width="45.19" height="20.83" fill="#D6604D"/>
<rect x="766.19" y="1397.71" width="45.19" height="20.83" fill="#F7F7F7"/>
<rect x="813.38" y="1397.71" width="45.19" height="20.83" fill="#FDDBC7"/>
<rect x="860.57" y="1397.71" width="45.19" height="20.83" fill="#B2182B"/>
<rect x="907.76" y="1397.71" width="45.19" height="20.83" fill="#FDDBC7"/>
<rect x="954.95" y="1397.71" width="45.19" height="20.83" fill="#92C5DE"/>
<rect x="1002.14" y="1397.71" width="45.19" height="20.83" fill="#92C5DE"/>
<rect x="1049.33" y="1397.71" width="45.19" height="20.83" fill="#F7F7F7"/>
<rect x="1096.52" y="1397.71" width="45.19" height="20.83" fill="#92C5DE"/>
<rect x="1143.71" y="1397.71" width="45.19" height="20.83" fill="#92C5DE"/>
<rect x="719.00" y="1420.54" width="45.19" height="20.83" fill="#D6604D"/>
<rect x="766.19" y="1420.54" width="45.19" height="20.83" fill="#FDDBC7"/>
<rect x="813.38" y="1420.54" width="45.19" height="20.83" fill="#F7F7F7"/>
<rect x="860.57" y="1420.54" width="45.19" height="20.83" fill="#D6604D"/>
<rect x="907.76" y="1420.54" width="45.19" height="20.83" fill="#FDDBC7"/>
<rect x="954.95" y="1420.54" width="45.19" height="20.83" fill="#053061"/>
<rect x="1002.14" y="1420.54" width="45.19" height="20.83" fill="#F7F7F7"/>
<rect x="1049.33" y="1420.54" width="45.19" height="20.83" fill="#D1E5F0"/>
<rect x="1096.52" y="1420.54" width="45.19" height="20.83" fill="#F7F7F7"/>
<rect x="1143.71" y="1420.54" width="45.19" height="20.83" fill="#D1E5F0"/>
<rect x="719.00" y="1443.38" width="45.19" height="20.83" fill="#F4A582"/>
<rect x="766.19" y="1443.38" width="45.19" height="20.83" fill="#D6604D"/>
<rect x="813.38" y="1443.38" width="45.19" height="20.83" fill="#FDDBC7"/>
<rect x="860.57" y="1443.38" width="45.19" height="20.83" fill="#B2182B"/>
<rect x="907.76" y="1443.38" width="45.19" height="20.83" fill="#F7F7F7"/>
<rect x="954.95" y="1443.38" width="45.19" height="20.83" fill="#92C5DE"/>
<rect x="1002.14" y="1443.38" width="45.19" height="20.83" fill="#D1E5F0"/>
<rect x="1049.33" y="1443.38" width="45.19" height="20.83" fill="#4393C3"/>
<rect x="1096.52" y="1443.38" width="45.19" height="20.83" fill="#92C5DE"/>
<rect x="1143.71" y="1443.38" width="45.19" height="20.83" fill="#92C5DE"/>
<rect x="719.00" y="1466.21" width="45.19" height="20.83" fill="#FDDBC7"/>
<rect x="766.19" y="1466.21" width="45.19" height="20.83" fill="#FDDBC7"/>
<rect x="813.38" y="1466.21" width="45.19" height="20.83" fill="#F7F7F7"/>
<rect x="860.57" y="1466.21" width="45.19" height="20.83" fill="#67001F"/>
<rect x="907.76" y="1466.21" width="45.19" height="20.83" fill="#F4A582"/>
<rect x="954.95" y="1466.21" width="45.19" height="20.83" fill="#92C5DE"/>
<rect x="1002.14" y="1466.21" width="45.19" height="20.83" fill="#F7F7F7"/>
<rect x="1049.33" y="1466.21" width="45.19" height="20.83" fill="#92C5DE"/>
<rect x="1096.52" y="1466.21" width="45.19" height="20.83" fill="#92C5DE"/>
<rect x="1143.71" y="1466.21" width="45.19" height="20.83" fill="#92C5DE"/>
<rect x="719.00" y="1489.04" width="45.19" height="20.83" fill="#FDDBC7"/>
<rect x="766.19" y="1489.04" width="45.19" height="20.83" fill="#F4A582"/>
<rect x="813.38" y="1489.04" width="45.19" height="20.83" fill="#D6604D"/>
<rect x="860.57" y="1489.04" width="45.19" height="20.83" fill="#F4A582"/>
<rect x="907.76" y="1489.04" width="45.19" height="20.83" fill="#F4A582"/>
<rect x="954.95" y="1489.04" width="45.19" height="20.83" fill="#2166AC"/>
<rect x="1002.14" y="1489.04" width="45.19" height="20.83" fill="#F7F7F7"/>
<rect x="1049.33" y="1489.04" width="45.19" height="20.83" fill="#4393C3"/>
<rect x="1096.52" y="1489.04" width="45.19" height="20.83" fill="#D1E5F0"/>
<rect x="1143.71" y="1489.04" width="45.19" height="20.83" fill="#92C5DE"/>
<rect x="719.00" y="1511.87" width="45.19" height="20.83" fill="#FDDBC7"/>
<rect x="766.19" y="1511.87" width="45.19" height="20.83" fill="#F4A582"/>
<rect x="813.38" y="1511.87" width="45.19" height="20.83" fill="#F4A582"/>
<rect x="860.57" y="1511.87" width="45.19" height="20.83" fill="#D6604D"/>
<rect x="907.76" y="1511.87" width="45.19" height="20.83" fill="#D6604D"/>
<rect x="954.95" y="1511.87" width="45.19" height="20.83" fill="#2166AC"/>
<rect x="1002.14" y="1511.87" width="45.19" height="20.83" fill="#D1E5F0"/>
<rect x="1049.33" y="1511.87" width="45.19" height="20.83" fill="#D1E5F0"/>
<rect x="1096.52" y="1511.87" width="45.19" height="20.83" fill="#92C5DE"/>
<rect x="1143.71" y="1511.87" width="45.19" height="20.83" fill="#4393C3"/>
<text x="1196.5" y="890.9" font-size="20.8" fill="#1a1a1a" stroke="#1a1a1a" stroke-width="0.45">Cd276</text>
<text x="1196.5" y="913.6" font-size="20.8" fill="#1a1a1a" stroke="#1a1a1a" stroke-width="0.45">Nck2</text>
<text x="1196.5" y="936.4" font-size="20.8" fill="#1a1a1a" stroke="#1a1a1a" stroke-width="0.45">Clec7a</text>
<text x="1196.5" y="959.2" font-size="20.8" fill="#1a1a1a" stroke="#1a1a1a" stroke-width="0.45">Ebi3</text>
<text x="1196.5" y="981.9" font-size="20.8" fill="#1a1a1a" stroke="#1a1a1a" stroke-width="0.45">Ptprc</text>
<text x="1196.5" y="1004.7" font-size="20.8" fill="#1a1a1a" stroke="#1a1a1a" stroke-width="0.45">Cadm1</text>
<text x="1196.5" y="1027.5" font-size="20.8" fill="#1a1a1a" stroke="#1a1a1a" stroke-width="0.45">Foxp3</text>
<text x="1196.5" y="1050.2" font-size="20.8" fill="#1a1a1a" stroke="#1a1a1a" stroke-width="0.45">Il12b</text>
<text x="1196.5" y="1073.0" font-size="20.8" fill="#1a1a1a" stroke="#1a1a1a" stroke-width="0.45">Cd3e</text>
<text x="1196.5" y="1095.7" font-size="20.8" fill="#1a1a1a" stroke="#1a1a1a" stroke-width="0.45">Crtam</text>
<text x="1196.5" y="1118.5" font-size="20.8" fill="#1a1a1a" stroke="#1a1a1a" stroke-width="0.45">Glmn</text>
<text x="1196.5" y="1141.3" font-size="20.8" fill="#1a1a1a" stroke="#1a1a1a" stroke-width="0.45">Nlrc3</text>
<text x="1196.5" y="1164.0" font-size="20.8" fill="#1a1a1a" stroke="#1a1a1a" stroke-width="0.45">Sit1</text>
<text x="1196.5" y="1186.8" font-size="20.8" fill="#1a1a1a" stroke="#1a1a1a" stroke-width="0.45">Cd28</text>
<text x="1196.5" y="1209.6" font-size="20.8" fill="#1a1a1a" stroke="#1a1a1a" stroke-width="0.45">Cd4</text>
<text x="1196.5" y="1232.3" font-size="20.8" fill="#1a1a1a" stroke="#1a1a1a" stroke-width="0.45">Lax1</text>
<text x="1196.5" y="1255.1" font-size="20.8" fill="#1a1a1a" stroke="#1a1a1a" stroke-width="0.45">Lck</text>
<text x="1196.5" y="1277.8" font-size="20.8" fill="#1a1a1a" stroke="#1a1a1a" stroke-width="0.45">Zap70</text>
<text x="1196.5" y="1300.6" font-size="20.8" fill="#1a1a1a" stroke="#1a1a1a" stroke-width="0.45">Cd7</text>
<text x="1196.5" y="1323.4" font-size="20.8" fill="#1a1a1a" stroke="#1a1a1a" stroke-width="0.45">Lat</text>
<text x="1196.5" y="1346.1" font-size="20.8" fill="#1a1a1a" stroke="#1a1a1a" stroke-width="0.45">Cd8a</text>
<text x="1196.5" y="1368.9" font-size="20.8" fill="#1a1a1a" stroke="#1a1a1a" stroke-width="0.45">Cd2</text>
<text x="1196.5" y="1391.6" font-size="20.8" fill="#1a1a1a" stroke="#1a1a1a" stroke-width="0.45">Cd3d</text>
<text x="1196.5" y="1414.4" font-size="20.8" fill="#1a1a1a" stroke="#1a1a1a" stroke-width="0.45">Il2</text>
<text x="1196.5" y="1437.2" font-size="20.8" fill="#1a1a1a" stroke="#1a1a1a" stroke-width="0.45">Il18</text>
<text x="1196.5" y="1459.9" font-size="20.8" fill="#1a1a1a" stroke="#1a1a1a" stroke-width="0.45">Nck1</text>
<text x="1196.5" y="1482.7" font-size="20.8" fill="#1a1a1a" stroke="#1a1a1a" stroke-width="0.45">Il21</text>
<text x="1196.5" y="1505.5" font-size="20.8" fill="#1a1a1a" stroke="#1a1a1a" stroke-width="0.45">Socs5</text>
<text x="1196.5" y="1528.2" font-size="20.8" fill="#1a1a1a" stroke="#1a1a1a" stroke-width="0.45">Sla2</text>
<rect x="1280.5" y="872.40" width="21.5" height="29.45" fill="#67001F"/>
<rect x="1280.5" y="901.45" width="21.5" height="29.45" fill="#B2182B"/>
<rect x="1280.5" y="930.51" width="21.5" height="29.45" fill="#D6604D"/>
<rect x="1280.5" y="959.56" width="21.5" height="29.45" fill="#F4A582"/>
<rect x="1280.5" y="988.62" width="21.5" height="29.45" fill="#FDDBC7"/>
<rect x="1280.5" y="1017.67" width="21.5" height="29.45" fill="#F7F7F7"/>
<rect x="1280.5" y="1046.73" width="21.5" height="29.45" fill="#D1E5F0"/>
<rect x="1280.5" y="1075.78" width="21.5" height="29.45" fill="#92C5DE"/>
<rect x="1280.5" y="1104.84" width="21.5" height="29.45" fill="#4393C3"/>
<rect x="1280.5" y="1133.89" width="21.5" height="29.45" fill="#2166AC"/>
<rect x="1280.5" y="1162.95" width="21.5" height="29.45" fill="#053061"/>
<text x="1310.0" y="897.1" font-size="19.5" fill="#1a1a1a" stroke="#1a1a1a" stroke-width="0.45">2</text>
<text x="1310.0" y="967.6" font-size="19.5" fill="#1a1a1a" stroke="#1a1a1a" stroke-width="0.45">1</text>
<text x="1310.0" y="1039.3" font-size="19.5" fill="#1a1a1a" stroke="#1a1a1a" stroke-width="0.45">0</text>
<text x="1310.0" y="1110.6" font-size="19.5" fill="#1a1a1a" stroke="#1a1a1a" stroke-width="0.45">-1</text>
<text x="1310.0" y="1181.9" font-size="19.5" fill="#1a1a1a" stroke="#1a1a1a" stroke-width="0.45">-2</text>
<text x="1225.3" y="853.6" font-size="28.3" fill="#1a1a1a" stroke="#1a1a1a" stroke-width="0.6">z-score</text>
<text x="781.2" y="1575.9" font-size="35.9" fill="#000" stroke="#000" stroke-width="0.6">Brca2<tspan font-size="21.2" dy="-12.2">null</tspan></text>
<text x="998.7" y="1575.9" font-size="35.9" fill="#000" stroke="#000" stroke-width="0.6">Brca1<tspan font-size="21.2" dy="-12.2">null</tspan></text>
<text x="1352.0" y="836.8" font-size="55" font-weight="700" fill="#1a1a1a" stroke="#1a1a1a" stroke-width="1.3">e</text>
<text x="1432.8" y="847.4" font-size="36.1" font-weight="700" fill="#1a1a1a">Antigen Presentation</text>
<rect x="1391.60" y="879.50" width="435.20" height="656.80" fill="#FFFFFF"/>
<rect x="1391.60" y="879.50" width="41.72" height="23.34" fill="#F7F7F7"/>
<rect x="1435.32" y="879.50" width="41.72" height="23.34" fill="#D1E5F0"/>
<rect x="1479.04" y="879.50" width="41.72" height="23.34" fill="#D1E5F0"/>
<rect x="1522.76" y="879.50" width="41.72" height="23.34" fill="#4393C3"/>
<rect x="1566.48" y="879.50" width="41.72" height="23.34" fill="#D1E5F0"/>
<rect x="1610.20" y="879.50" width="41.72" height="23.34" fill="#67001F"/>
<rect x="1653.92" y="879.50" width="41.72" height="23.34" fill="#F7F7F7"/>
<rect x="1697.64" y="879.50" width="41.72" height="23.34" fill="#FDDBC7"/>
<rect x="1741.36" y="879.50" width="41.72" height="23.34" fill="#F7F7F7"/>
<rect x="1785.08" y="879.50" width="41.72" height="23.34" fill="#F7F7F7"/>
<rect x="1391.60" y="904.84" width="41.72" height="23.34" fill="#4393C3"/>
<rect x="1435.32" y="904.84" width="41.72" height="23.34" fill="#4393C3"/>
<rect x="1479.04" y="904.84" width="41.72" height="23.34" fill="#D1E5F0"/>
<rect x="1522.76" y="904.84" width="41.72" height="23.34" fill="#D1E5F0"/>
<rect x="1566.48" y="904.84" width="41.72" height="23.34" fill="#92C5DE"/>
<rect x="1610.20" y="904.84" width="41.72" height="23.34" fill="#FDDBC7"/>
<rect x="1653.92" y="904.84" width="41.72" height="23.34" fill="#FDDBC7"/>
<rect x="1697.64" y="904.84" width="41.72" height="23.34" fill="#D6604D"/>
<rect x="1741.36" y="904.84" width="41.72" height="23.34" fill="#D6604D"/>
<rect x="1785.08" y="904.84" width="41.72" height="23.34" fill="#FDDBC7"/>
<rect x="1391.60" y="930.18" width="41.72" height="23.34" fill="#2166AC"/>
<rect x="1435.32" y="930.18" width="41.72" height="23.34" fill="#2166AC"/>
<rect x="1479.04" y="930.18" width="41.72" height="23.34" fill="#FDDBC7"/>
<rect x="1522.76" y="930.18" width="41.72" height="23.34" fill="#D1E5F0"/>
<rect x="1566.48" y="930.18" width="41.72" height="23.34" fill="#D1E5F0"/>
<rect x="1610.20" y="930.18" width="41.72" height="23.34" fill="#FDDBC7"/>
<rect x="1653.92" y="930.18" width="41.72" height="23.34" fill="#FDDBC7"/>
<rect x="1697.64" y="930.18" width="41.72" height="23.34" fill="#FDDBC7"/>
<rect x="1741.36" y="930.18" width="41.72" height="23.34" fill="#D6604D"/>
<rect x="1785.08" y="930.18" width="41.72" height="23.34" fill="#F4A582"/>
<rect x="1391.60" y="955.52" width="41.72" height="23.34" fill="#92C5DE"/>
<rect x="1435.32" y="955.52" width="41.72" height="23.34" fill="#D1E5F0"/>
<rect x="1479.04" y="955.52" width="41.72" height="23.34" fill="#92C5DE"/>
<rect x="1522.76" y="955.52" width="41.72" height="23.34" fill="#D1E5F0"/>
<rect x="1566.48" y="955.52" width="41.72" height="23.34" fill="#4393C3"/>
<rect x="1610.20" y="955.52" width="41.72" height="23.34" fill="#D6604D"/>
<rect x="1653.92" y="955.52" width="41.72" height="23.34" fill="#F4A582"/>
<rect x="1697.64" y="955.52" width="41.72" height="23.34" fill="#FDDBC7"/>
<rect x="1741.36" y="955.52" width="41.72" height="23.34" fill="#B2182B"/>
<rect x="1785.08" y="955.52" width="41.72" height="23.34" fill="#F7F7F7"/>
<rect x="1391.60" y="980.85" width="41.72" height="23.34" fill="#D1E5F0"/>
<rect x="1435.32" y="980.85" width="41.72" height="23.34" fill="#92C5DE"/>
<rect x="1479.04" y="980.85" width="41.72" height="23.34" fill="#F7F7F7"/>
<rect x="1522.76" y="980.85" width="41.72" height="23.34" fill="#92C5DE"/>
<rect x="1566.48" y="980.85" width="41.72" height="23.34" fill="#4393C3"/>
<rect x="1610.20" y="980.85" width="41.72" height="23.34" fill="#F7F7F7"/>
<rect x="1653.92" y="980.85" width="41.72" height="23.34" fill="#B2182B"/>
<rect x="1697.64" y="980.85" width="41.72" height="23.34" fill="#D6604D"/>
<rect x="1741.36" y="980.85" width="41.72" height="23.34" fill="#F4A582"/>
<rect x="1785.08" y="980.85" width="41.72" height="23.34" fill="#D1E5F0"/>
<rect x="1391.60" y="1006.19" width="41.72" height="23.34" fill="#D1E5F0"/>
<rect x="1435.32" y="1006.19" width="41.72" height="23.34" fill="#92C5DE"/>
<rect x="1479.04" y="1006.19" width="41.72" height="23.34" fill="#92C5DE"/>
<rect x="1522.76" y="1006.19" width="41.72" height="23.34" fill="#D1E5F0"/>
<rect x="1566.48" y="1006.19" width="41.72" height="23.34" fill="#4393C3"/>
<rect x="1610.20" y="1006.19" width="41.72" height="23.34" fill="#FDDBC7"/>
<rect x="1653.92" y="1006.19" width="41.72" height="23.34" fill="#B2182B"/>
<rect x="1697.64" y="1006.19" width="41.72" height="23.34" fill="#D6604D"/>
<rect x="1741.36" y="1006.19" width="41.72" height="23.34" fill="#FDDBC7"/>
<rect x="1785.08" y="1006.19" width="41.72" height="23.34" fill="#FDDBC7"/>
<rect x="1391.60" y="1031.53" width="41.72" height="23.34" fill="#F4A582"/>
<rect x="1435.32" y="1031.53" width="41.72" height="23.34" fill="#F4A582"/>
<rect x="1479.04" y="1031.53" width="41.72" height="23.34" fill="#F7F7F7"/>
<rect x="1522.76" y="1031.53" width="41.72" height="23.34" fill="#F4A582"/>
<rect x="1566.48" y="1031.53" width="41.72" height="23.34" fill="#FDDBC7"/>
<rect x="1610.20" y="1031.53" width="41.72" height="23.34" fill="#D6604D"/>
<rect x="1653.92" y="1031.53" width="41.72" height="23.34" fill="#92C5DE"/>
<rect x="1697.64" y="1031.53" width="41.72" height="23.34" fill="#D1E5F0"/>
<rect x="1741.36" y="1031.53" width="41.72" height="23.34" fill="#2166AC"/>
<rect x="1785.08" y="1031.53" width="41.72" height="23.34" fill="#4393C3"/>
<rect x="1391.60" y="1056.87" width="41.72" height="23.34" fill="#B2182B"/>
<rect x="1435.32" y="1056.87" width="41.72" height="23.34" fill="#FDDBC7"/>
<rect x="1479.04" y="1056.87" width="41.72" height="23.34" fill="#D1E5F0"/>
<rect x="1522.76" y="1056.87" width="41.72" height="23.34" fill="#D6604D"/>
<rect x="1566.48" y="1056.87" width="41.72" height="23.34" fill="#F7F7F7"/>
<rect x="1610.20" y="1056.87" width="41.72" height="23.34" fill="#F7F7F7"/>
<rect x="1653.92" y="1056.87" width="41.72" height="23.34" fill="#FDDBC7"/>
<rect x="1697.64" y="1056.87" width="41.72" height="23.34" fill="#D1E5F0"/>
<rect x="1741.36" y="1056.87" width="41.72" height="23.34" fill="#2166AC"/>
<rect x="1785.08" y="1056.87" width="41.72" height="23.34" fill="#92C5DE"/>
<rect x="1391.60" y="1082.21" width="41.72" height="23.34" fill="#B2182B"/>
<rect x="1435.32" y="1082.21" width="41.72" height="23.34" fill="#D6604D"/>
<rect x="1479.04" y="1082.21" width="41.72" height="23.34" fill="#D1E5F0"/>
<rect x="1522.76" y="1082.21" width="41.72" height="23.34" fill="#F4A582"/>
<rect x="1566.48" y="1082.21" width="41.72" height="23.34" fill="#FDDBC7"/>
<rect x="1610.20" y="1082.21" width="41.72" height="23.34" fill="#D1E5F0"/>
<rect x="1653.92" y="1082.21" width="41.72" height="23.34" fill="#FDDBC7"/>
<rect x="1697.64" y="1082.21" width="41.72" height="23.34" fill="#92C5DE"/>
<rect x="1741.36" y="1082.21" width="41.72" height="23.34" fill="#4393C3"/>
<rect x="1785.08" y="1082.21" width="41.72" height="23.34" fill="#4393C3"/>
<rect x="1391.60" y="1107.55" width="41.72" height="23.34" fill="#D6604D"/>
<rect x="1435.32" y="1107.55" width="41.72" height="23.34" fill="#FDDBC7"/>
<rect x="1479.04" y="1107.55" width="41.72" height="23.34" fill="#FDDBC7"/>
<rect x="1522.76" y="1107.55" width="41.72" height="23.34" fill="#F4A582"/>
<rect x="1566.48" y="1107.55" width="41.72" height="23.34" fill="#F4A582"/>
<rect x="1610.20" y="1107.55" width="41.72" height="23.34" fill="#F7F7F7"/>
<rect x="1653.92" y="1107.55" width="41.72" height="23.34" fill="#F7F7F7"/>
<rect x="1697.64" y="1107.55" width="41.72" height="23.34" fill="#D1E5F0"/>
<rect x="1741.36" y="1107.55" width="41.72" height="23.34" fill="#2166AC"/>
<rect x="1785.08" y="1107.55" width="41.72" height="23.34" fill="#4393C3"/>
<rect x="1391.60" y="1132.88" width="41.72" height="23.34" fill="#D6604D"/>
<rect x="1435.32" y="1132.88" width="41.72" height="23.34" fill="#D6604D"/>
<rect x="1479.04" y="1132.88" width="41.72" height="23.34" fill="#FDDBC7"/>
<rect x="1522.76" y="1132.88" width="41.72" height="23.34" fill="#F4A582"/>
<rect x="1566.48" y="1132.88" width="41.72" height="23.34" fill="#F4A582"/>
<rect x="1610.20" y="1132.88" width="41.72" height="23.34" fill="#92C5DE"/>
<rect x="1653.92" y="1132.88" width="41.72" height="23.34" fill="#F7F7F7"/>
<rect x="1697.64" y="1132.88" width="41.72" height="23.34" fill="#92C5DE"/>
<rect x="1741.36" y="1132.88" width="41.72" height="23.34" fill="#4393C3"/>
<rect x="1785.08" y="1132.88" width="41.72" height="23.34" fill="#4393C3"/>
<rect x="1391.60" y="1158.22" width="41.72" height="23.34" fill="#D6604D"/>
<rect x="1435.32" y="1158.22" width="41.72" height="23.34" fill="#F4A582"/>
<rect x="1479.04" y="1158.22" width="41.72" height="23.34" fill="#FDDBC7"/>
<rect x="1522.76" y="1158.22" width="41.72" height="23.34" fill="#D6604D"/>
<rect x="1566.48" y="1158.22" width="41.72" height="23.34" fill="#FDDBC7"/>
<rect x="1610.20" y="1158.22" width="41.72" height="23.34" fill="#92C5DE"/>
<rect x="1653.92" y="1158.22" width="41.72" height="23.34" fill="#D1E5F0"/>
<rect x="1697.64" y="1158.22" width="41.72" height="23.34" fill="#92C5DE"/>
<rect x="1741.36" y="1158.22" width="41.72" height="23.34" fill="#92C5DE"/>
<rect x="1785.08" y="1158.22" width="41.72" height="23.34" fill="#4393C3"/>
<rect x="1391.60" y="1183.56" width="41.72" height="23.34" fill="#D6604D"/>
<rect x="1435.32" y="1183.56" width="41.72" height="23.34" fill="#F4A582"/>
<rect x="1479.04" y="1183.56" width="41.72" height="23.34" fill="#FDDBC7"/>
<rect x="1522.76" y="1183.56" width="41.72" height="23.34" fill="#D6604D"/>
<rect x="1566.48" y="1183.56" width="41.72" height="23.34" fill="#FDDBC7"/>
<rect x="1610.20" y="1183.56" width="41.72" height="23.34" fill="#4393C3"/>
<rect x="1653.92" y="1183.56" width="41.72" height="23.34" fill="#D1E5F0"/>
<rect x="1697.64" y="1183.56" width="41.72" height="23.34" fill="#92C5DE"/>
<rect x="1741.36" y="1183.56" width="41.72" height="23.34" fill="#4393C3"/>
<rect x="1785.08" y="1183.56" width="41.72" height="23.34" fill="#92C5DE"/>
<rect x="1391.60" y="1208.90" width="41.72" height="23.34" fill="#D6604D"/>
<rect x="1435.32" y="1208.90" width="41.72" height="23.34" fill="#F4A582"/>
<rect x="1479.04" y="1208.90" width="41.72" height="23.34" fill="#F7F7F7"/>
<rect x="1522.76" y="1208.90" width="41.72" height="23.34" fill="#D6604D"/>
<rect x="1566.48" y="1208.90" width="41.72" height="23.34" fill="#FDDBC7"/>
<rect x="1610.20" y="1208.90" width="41.72" height="23.34" fill="#92C5DE"/>
<rect x="1653.92" y="1208.90" width="41.72" height="23.34" fill="#F7F7F7"/>
<rect x="1697.64" y="1208.90" width="41.72" height="23.34" fill="#92C5DE"/>
<rect x="1741.36" y="1208.90" width="41.72" height="23.34" fill="#92C5DE"/>
<rect x="1785.08" y="1208.90" width="41.72" height="23.34" fill="#4393C3"/>
<rect x="1391.60" y="1234.24" width="41.72" height="23.34" fill="#D6604D"/>
<rect x="1435.32" y="1234.24" width="41.72" height="23.34" fill="#F4A582"/>
<rect x="1479.04" y="1234.24" width="41.72" height="23.34" fill="#F7F7F7"/>
<rect x="1522.76" y="1234.24" width="41.72" height="23.34" fill="#D6604D"/>
<rect x="1566.48" y="1234.24" width="41.72" height="23.34" fill="#F4A582"/>
<rect x="1610.20" y="1234.24" width="41.72" height="23.34" fill="#4393C3"/>
<rect x="1653.92" y="1234.24" width="41.72" height="23.34" fill="#F7F7F7"/>
<rect x="1697.64" y="1234.24" width="41.72" height="23.34" fill="#92C5DE"/>
<rect x="1741.36" y="1234.24" width="41.72" height="23.34" fill="#92C5DE"/>
<rect x="1785.08" y="1234.24" width="41.72" height="23.34" fill="#4393C3"/>
<rect x="1391.60" y="1259.58" width="41.72" height="23.34" fill="#D6604D"/>
<rect x="1435.32" y="1259.58" width="41.72" height="23.34" fill="#D6604D"/>
<rect x="1479.04" y="1259.58" width="41.72" height="23.34" fill="#F4A582"/>
<rect x="1522.76" y="1259.58" width="41.72" height="23.34" fill="#D1E5F0"/>
<rect x="1566.48" y="1259.58" width="41.72" height="23.34" fill="#F7F7F7"/>
<rect x="1610.20" y="1259.58" width="41.72" height="23.34" fill="#2166AC"/>
<rect x="1653.92" y="1259.58" width="41.72" height="23.34" fill="#F7F7F7"/>
<rect x="1697.64" y="1259.58" width="41.72" height="23.34" fill="#2166AC"/>
<rect x="1741.36" y="1259.58" width="41.72" height="23.34" fill="#F7F7F7"/>
<rect x="1785.08" y="1259.58" width="41.72" height="23.34" fill="#F7F7F7"/>
<rect x="1391.60" y="1284.92" width="41.72" height="23.34" fill="#D6604D"/>
<rect x="1435.32" y="1284.92" width="41.72" height="23.34" fill="#D6604D"/>
<rect x="1479.04" y="1284.92" width="41.72" height="23.34" fill="#D1E5F0"/>
<rect x="1522.76" y="1284.92" width="41.72" height="23.34" fill="#FDDBC7"/>
<rect x="1566.48" y="1284.92" width="41.72" height="23.34" fill="#FDDBC7"/>
<rect x="1610.20" y="1284.92" width="41.72" height="23.34" fill="#2166AC"/>
<rect x="1653.92" y="1284.92" width="41.72" height="23.34" fill="#F7F7F7"/>
<rect x="1697.64" y="1284.92" width="41.72" height="23.34" fill="#F7F7F7"/>
<rect x="1741.36" y="1284.92" width="41.72" height="23.34" fill="#F7F7F7"/>
<rect x="1785.08" y="1284.92" width="41.72" height="23.34" fill="#4393C3"/>
<rect x="1391.60" y="1310.25" width="41.72" height="23.34" fill="#D6604D"/>
<rect x="1435.32" y="1310.25" width="41.72" height="23.34" fill="#D6604D"/>
<rect x="1479.04" y="1310.25" width="41.72" height="23.34" fill="#F7F7F7"/>
<rect x="1522.76" y="1310.25" width="41.72" height="23.34" fill="#FDDBC7"/>
<rect x="1566.48" y="1310.25" width="41.72" height="23.34" fill="#F4A582"/>
<rect x="1610.20" y="1310.25" width="41.72" height="23.34" fill="#2166AC"/>
<rect x="1653.92" y="1310.25" width="41.72" height="23.34" fill="#F7F7F7"/>
<rect x="1697.64" y="1310.25" width="41.72" height="23.34" fill="#D1E5F0"/>
<rect x="1741.36" y="1310.25" width="41.72" height="23.34" fill="#D1E5F0"/>
<rect x="1785.08" y="1310.25" width="41.72" height="23.34" fill="#4393C3"/>
<rect x="1391.60" y="1335.59" width="41.72" height="23.34" fill="#F4A582"/>
<rect x="1435.32" y="1335.59" width="41.72" height="23.34" fill="#F4A582"/>
<rect x="1479.04" y="1335.59" width="41.72" height="23.34" fill="#FDDBC7"/>
<rect x="1522.76" y="1335.59" width="41.72" height="23.34" fill="#F4A582"/>
<rect x="1566.48" y="1335.59" width="41.72" height="23.34" fill="#D6604D"/>
<rect x="1610.20" y="1335.59" width="41.72" height="23.34" fill="#2166AC"/>
<rect x="1653.92" y="1335.59" width="41.72" height="23.34" fill="#F7F7F7"/>
<rect x="1697.64" y="1335.59" width="41.72" height="23.34" fill="#92C5DE"/>
<rect x="1741.36" y="1335.59" width="41.72" height="23.34" fill="#2166AC"/>
<rect x="1785.08" y="1335.59" width="41.72" height="23.34" fill="#F7F7F7"/>
<rect x="1391.60" y="1360.93" width="41.72" height="23.34" fill="#D6604D"/>
<rect x="1435.32" y="1360.93" width="41.72" height="23.34" fill="#D6604D"/>
<rect x="1479.04" y="1360.93" width="41.72" height="23.34" fill="#D6604D"/>
<rect x="1522.76" y="1360.93" width="41.72" height="23.34" fill="#FDDBC7"/>
<rect x="1566.48" y="1360.93" width="41.72" height="23.34" fill="#F4A582"/>
<rect x="1610.20" y="1360.93" width="41.72" height="23.34" fill="#92C5DE"/>
<rect x="1653.92" y="1360.93" width="41.72" height="23.34" fill="#92C5DE"/>
<rect x="1697.64" y="1360.93" width="41.72" height="23.34" fill="#92C5DE"/>
<rect x="1741.36" y="1360.93" width="41.72" height="23.34" fill="#92C5DE"/>
<rect x="1785.08" y="1360.93" width="41.72" height="23.34" fill="#92C5DE"/>
<rect x="1391.60" y="1386.27" width="41.72" height="23.34" fill="#F4A582"/>
<rect x="1435.32" y="1386.27" width="41.72" height="23.34" fill="#FDDBC7"/>
<rect x="1479.04" y="1386.27" width="41.72" height="23.34" fill="#F4A582"/>
<rect x="1522.76" y="1386.27" width="41.72" height="23.34" fill="#F4A582"/>
<rect x="1566.48" y="1386.27" width="41.72" height="23.34" fill="#D6604D"/>
<rect x="1610.20" y="1386.27" width="41.72" height="23.34" fill="#92C5DE"/>
<rect x="1653.92" y="1386.27" width="41.72" height="23.34" fill="#92C5DE"/>
<rect x="1697.64" y="1386.27" width="41.72" height="23.34" fill="#92C5DE"/>
<rect x="1741.36" y="1386.27" width="41.72" height="23.34" fill="#92C5DE"/>
<rect x="1785.08" y="1386.27" width="41.72" height="23.34" fill="#92C5DE"/>
<rect x="1391.60" y="1411.61" width="41.72" height="23.34" fill="#F4A582"/>
<rect x="1435.32" y="1411.61" width="41.72" height="23.34" fill="#FDDBC7"/>
<rect x="1479.04" y="1411.61" width="41.72" height="23.34" fill="#D6604D"/>
<rect x="1522.76" y="1411.61" width="41.72" height="23.34" fill="#D6604D"/>
<rect x="1566.48" y="1411.61" width="41.72" height="23.34" fill="#F4A582"/>
<rect x="1610.20" y="1411.61" width="41.72" height="23.34" fill="#4393C3"/>
<rect x="1653.92" y="1411.61" width="41.72" height="23.34" fill="#D1E5F0"/>
<rect x="1697.64" y="1411.61" width="41.72" height="23.34" fill="#92C5DE"/>
<rect x="1741.36" y="1411.61" width="41.72" height="23.34" fill="#92C5DE"/>
<rect x="1785.08" y="1411.61" width="41.72" height="23.34" fill="#92C5DE"/>
<rect x="1391.60" y="1436.95" width="41.72" height="23.34" fill="#B2182B"/>
<rect x="1435.32" y="1436.95" width="41.72" height="23.34" fill="#F4A582"/>
<rect x="1479.04" y="1436.95" width="41.72" height="23.34" fill="#FDDBC7"/>
<rect x="1522.76" y="1436.95" width="41.72" height="23.34" fill="#FDDBC7"/>
<rect x="1566.48" y="1436.95" width="41.72" height="23.34" fill="#F4A582"/>
<rect x="1610.20" y="1436.95" width="41.72" height="23.34" fill="#D1E5F0"/>
<rect x="1653.92" y="1436.95" width="41.72" height="23.34" fill="#92C5DE"/>
<rect x="1697.64" y="1436.95" width="41.72" height="23.34" fill="#2166AC"/>
<rect x="1741.36" y="1436.95" width="41.72" height="23.34" fill="#D1E5F0"/>
<rect x="1785.08" y="1436.95" width="41.72" height="23.34" fill="#92C5DE"/>
<rect x="1391.60" y="1462.28" width="41.72" height="23.34" fill="#F4A582"/>
<rect x="1435.32" y="1462.28" width="41.72" height="23.34" fill="#F4A582"/>
<rect x="1479.04" y="1462.28" width="41.72" height="23.34" fill="#FDDBC7"/>
<rect x="1522.76" y="1462.28" width="41.72" height="23.34" fill="#FDDBC7"/>
<rect x="1566.48" y="1462.28" width="41.72" height="23.34" fill="#D6604D"/>
<rect x="1610.20" y="1462.28" width="41.72" height="23.34" fill="#F7F7F7"/>
<rect x="1653.92" y="1462.28" width="41.72" height="23.34" fill="#92C5DE"/>
<rect x="1697.64" y="1462.28" width="41.72" height="23.34" fill="#4393C3"/>
<rect x="1741.36" y="1462.28" width="41.72" height="23.34" fill="#2166AC"/>
<rect x="1785.08" y="1462.28" width="41.72" height="23.34" fill="#D1E5F0"/>
<rect x="1391.60" y="1487.62" width="41.72" height="23.34" fill="#F4A582"/>
<rect x="1435.32" y="1487.62" width="41.72" height="23.34" fill="#F4A582"/>
<rect x="1479.04" y="1487.62" width="41.72" height="23.34" fill="#FDDBC7"/>
<rect x="1522.76" y="1487.62" width="41.72" height="23.34" fill="#F4A582"/>
<rect x="1566.48" y="1487.62" width="41.72" height="23.34" fill="#F4A582"/>
<rect x="1610.20" y="1487.62" width="41.72" height="23.34" fill="#F7F7F7"/>
<rect x="1653.92" y="1487.62" width="41.72" height="23.34" fill="#92C5DE"/>
<rect x="1697.64" y="1487.62" width="41.72" height="23.34" fill="#2166AC"/>
<rect x="1741.36" y="1487.62" width="41.72" height="23.34" fill="#4393C3"/>
<rect x="1785.08" y="1487.62" width="41.72" height="23.34" fill="#92C5DE"/>
<rect x="1391.60" y="1512.96" width="41.72" height="23.34" fill="#D6604D"/>
<rect x="1435.32" y="1512.96" width="41.72" height="23.34" fill="#F4A582"/>
<rect x="1479.04" y="1512.96" width="41.72" height="23.34" fill="#FDDBC7"/>
<rect x="1522.76" y="1512.96" width="41.72" height="23.34" fill="#FDDBC7"/>
<rect x="1566.48" y="1512.96" width="41.72" height="23.34" fill="#F4A582"/>
<rect x="1610.20" y="1512.96" width="41.72" height="23.34" fill="#F7F7F7"/>
<rect x="1653.92" y="1512.96" width="41.72" height="23.34" fill="#92C5DE"/>
<rect x="1697.64" y="1512.96" width="41.72" height="23.34" fill="#2166AC"/>
<rect x="1741.36" y="1512.96" width="41.72" height="23.34" fill="#92C5DE"/>
<rect x="1785.08" y="1512.96" width="41.72" height="23.34" fill="#D1E5F0"/>
<text x="1832.0" y="899.7" font-size="17.5" fill="#222" stroke="#222" stroke-width="0.45">Psme3</text>
<text x="1832.0" y="925.0" font-size="17.5" fill="#222" stroke="#222" stroke-width="0.45">Hspa1b</text>
<text x="1832.0" y="950.3" font-size="17.5" fill="#222" stroke="#222" stroke-width="0.45">Hspa1a</text>
<text x="1832.0" y="975.5" font-size="17.5" fill="#222" stroke="#222" stroke-width="0.45">Rfx5</text>
<text x="1832.0" y="1000.8" font-size="17.5" fill="#222" stroke="#222" stroke-width="0.45">Nfya</text>
<text x="1832.0" y="1026.0" font-size="17.5" fill="#222" stroke="#222" stroke-width="0.45">Nfyc</text>
<text x="1832.0" y="1051.3" font-size="17.5" fill="#222" stroke="#222" stroke-width="0.45">Hspa4</text>
<text x="1832.0" y="1076.6" font-size="17.5" fill="#222" stroke="#222" stroke-width="0.45">Pdia3</text>
<text x="1832.0" y="1101.8" font-size="17.5" fill="#222" stroke="#222" stroke-width="0.45">Psme2</text>
<text x="1832.0" y="1127.1" font-size="17.5" fill="#222" stroke="#222" stroke-width="0.45">Canx</text>
<text x="1832.0" y="1152.3" font-size="17.5" fill="#222" stroke="#222" stroke-width="0.45">Cd74</text>
<text x="1832.0" y="1177.6" font-size="17.5" fill="#222" stroke="#222" stroke-width="0.45">Ctss</text>
<text x="1832.0" y="1202.9" font-size="17.5" fill="#222" stroke="#222" stroke-width="0.45">Ifi30</text>
<text x="1832.0" y="1228.1" font-size="17.5" fill="#222" stroke="#222" stroke-width="0.45">B2m</text>
<text x="1832.0" y="1253.4" font-size="17.5" fill="#222" stroke="#222" stroke-width="0.45">Psme1</text>
<text x="1832.0" y="1278.7" font-size="17.5" fill="#222" stroke="#222" stroke-width="0.45">Lta</text>
<text x="1832.0" y="1303.9" font-size="17.5" fill="#222" stroke="#222" stroke-width="0.45">Tap2</text>
<text x="1832.0" y="1329.2" font-size="17.5" fill="#222" stroke="#222" stroke-width="0.45">Tapbp</text>
<text x="1832.0" y="1354.4" font-size="17.5" fill="#222" stroke="#222" stroke-width="0.45">Klrc2</text>
<text x="1832.0" y="1379.7" font-size="17.5" fill="#222" stroke="#222" stroke-width="0.45">Cd4</text>
<text x="1832.0" y="1405.0" font-size="17.5" fill="#222" stroke="#222" stroke-width="0.45">Ctsb</text>
<text x="1832.0" y="1430.2" font-size="17.5" fill="#222" stroke="#222" stroke-width="0.45">Lgmn</text>
<text x="1832.0" y="1455.5" font-size="17.5" fill="#222" stroke="#222" stroke-width="0.45">Klrc3</text>
<text x="1832.0" y="1480.7" font-size="17.5" fill="#222" stroke="#222" stroke-width="0.45">Klrc1</text>
<text x="1832.0" y="1506.0" font-size="17.5" fill="#222" stroke="#222" stroke-width="0.45">Cd8a</text>
<text x="1832.0" y="1531.3" font-size="17.5" fill="#222" stroke="#222" stroke-width="0.45">Klrd1</text>
<rect x="1904.4" y="879.90" width="18.1" height="23.79" fill="#67001F"/>
<rect x="1904.4" y="903.29" width="18.1" height="23.79" fill="#B2182B"/>
<rect x="1904.4" y="926.68" width="18.1" height="23.79" fill="#D6604D"/>
<rect x="1904.4" y="950.07" width="18.1" height="23.79" fill="#F4A582"/>
<rect x="1904.4" y="973.46" width="18.1" height="23.79" fill="#FDDBC7"/>
<rect x="1904.4" y="996.85" width="18.1" height="23.79" fill="#F7F7F7"/>
<rect x="1904.4" y="1020.25" width="18.1" height="23.79" fill="#D1E5F0"/>
<rect x="1904.4" y="1043.64" width="18.1" height="23.79" fill="#92C5DE"/>
<rect x="1904.4" y="1067.03" width="18.1" height="23.79" fill="#4393C3"/>
<rect x="1904.4" y="1090.42" width="18.1" height="23.79" fill="#2166AC"/>
<rect x="1904.4" y="1113.81" width="18.1" height="23.79" fill="#053061"/>
<text x="1929.0" y="906.0" font-size="16.5" fill="#1a1a1a" stroke="#1a1a1a" stroke-width="0.45">2</text>
<text x="1929.0" y="959.7" font-size="16.5" fill="#1a1a1a" stroke="#1a1a1a" stroke-width="0.45">1</text>
<text x="1929.0" y="1014.5" font-size="16.5" fill="#1a1a1a" stroke="#1a1a1a" stroke-width="0.45">0</text>
<text x="1929.0" y="1068.6" font-size="16.5" fill="#1a1a1a" stroke="#1a1a1a" stroke-width="0.45">-1</text>
<text x="1929.0" y="1123.4" font-size="16.5" fill="#1a1a1a" stroke="#1a1a1a" stroke-width="0.45">-2</text>
<text x="1884.2" y="858.3" font-size="28.3" fill="#1a1a1a" stroke="#1a1a1a" stroke-width="0.6">z-score</text>
<text x="1449.0" y="1574.0" font-size="35.9" fill="#000" stroke="#000" stroke-width="0.6">Brca2<tspan font-size="21.2" dy="-12.2">null</tspan></text>
<text x="1665.7" y="1574.0" font-size="35.9" fill="#000" stroke="#000" stroke-width="0.6">Brca1<tspan font-size="21.2" dy="-12.2">null</tspan></text>
<text x="4.5" y="1607.5" font-size="55" font-weight="700" fill="#1a1a1a" stroke="#1a1a1a" stroke-width="1.3">f</text>
<text x="64.8" y="1621.9" font-size="32.4" fill="#1a1a1a" stroke="#1a1a1a" stroke-width="0.6">Kurozumi Response to Oncolytic Virus</text>
<rect x="75.10" y="1649.40" width="43.37" height="29.14" fill="#D44545"/>
<rect x="117.87" y="1649.40" width="43.37" height="29.14" fill="#4F236E"/>
<rect x="160.64" y="1649.40" width="43.37" height="29.14" fill="#4F236E"/>
<rect x="203.41" y="1649.40" width="43.37" height="29.14" fill="#D44545"/>
<rect x="246.18" y="1649.40" width="43.37" height="29.14" fill="#4F236E"/>
<rect x="288.95" y="1649.40" width="43.37" height="29.14" fill="#EC6924"/>
<rect x="331.72" y="1649.40" width="43.37" height="29.14" fill="#D44545"/>
<rect x="374.49" y="1649.40" width="43.37" height="29.14" fill="#7B2471"/>
<rect x="417.26" y="1649.40" width="43.37" height="29.14" fill="#F7EE98"/>
<rect x="460.03" y="1649.40" width="42.77" height="29.14" fill="#EC6924"/>
<rect x="75.10" y="1677.94" width="43.37" height="29.14" fill="#7B2471"/>
<rect x="117.87" y="1677.94" width="43.37" height="29.14" fill="#7B2471"/>
<rect x="160.64" y="1677.94" width="43.37" height="29.14" fill="#7B2471"/>
<rect x="203.41" y="1677.94" width="43.37" height="29.14" fill="#7B2471"/>
<rect x="246.18" y="1677.94" width="43.37" height="29.14" fill="#AA2D5F"/>
<rect x="288.95" y="1677.94" width="43.37" height="29.14" fill="#EC6924"/>
<rect x="331.72" y="1677.94" width="43.37" height="29.14" fill="#EC6924"/>
<rect x="374.49" y="1677.94" width="43.37" height="29.14" fill="#F7EE98"/>
<rect x="417.26" y="1677.94" width="43.37" height="29.14" fill="#EC6924"/>
<rect x="460.03" y="1677.94" width="42.77" height="29.14" fill="#7B2471"/>
<rect x="75.10" y="1706.48" width="43.37" height="29.14" fill="#AA2D5F"/>
<rect x="117.87" y="1706.48" width="43.37" height="29.14" fill="#4F236E"/>
<rect x="160.64" y="1706.48" width="43.37" height="29.14" fill="#4F236E"/>
<rect x="203.41" y="1706.48" width="43.37" height="29.14" fill="#4F236E"/>
<rect x="246.18" y="1706.48" width="43.37" height="29.14" fill="#4F236E"/>
<rect x="288.95" y="1706.48" width="43.37" height="29.14" fill="#F6CA34"/>
<rect x="331.72" y="1706.48" width="43.37" height="29.14" fill="#D44545"/>
<rect x="374.49" y="1706.48" width="43.37" height="29.14" fill="#EC6924"/>
<rect x="417.26" y="1706.48" width="43.37" height="29.14" fill="#F69E1E"/>
<rect x="460.03" y="1706.48" width="42.77" height="29.14" fill="#D44545"/>
<rect x="75.10" y="1735.02" width="43.37" height="29.14" fill="#4F236E"/>
<rect x="117.87" y="1735.02" width="43.37" height="29.14" fill="#4F236E"/>
<rect x="160.64" y="1735.02" width="43.37" height="29.14" fill="#7B2471"/>
<rect x="203.41" y="1735.02" width="43.37" height="29.14" fill="#7B2471"/>
<rect x="246.18" y="1735.02" width="43.37" height="29.14" fill="#AA2D5F"/>
<rect x="288.95" y="1735.02" width="43.37" height="29.14" fill="#F6CA34"/>
<rect x="331.72" y="1735.02" width="43.37" height="29.14" fill="#F69E1E"/>
<rect x="374.49" y="1735.02" width="43.37" height="29.14" fill="#D44545"/>
<rect x="417.26" y="1735.02" width="43.37" height="29.14" fill="#F69E1E"/>
<rect x="460.03" y="1735.02" width="42.77" height="29.14" fill="#D44545"/>
<rect x="75.10" y="1763.55" width="43.37" height="29.14" fill="#4F236E"/>
<rect x="117.87" y="1763.55" width="43.37" height="29.14" fill="#4F236E"/>
<rect x="160.64" y="1763.55" width="43.37" height="29.14" fill="#7B2471"/>
<rect x="203.41" y="1763.55" width="43.37" height="29.14" fill="#4F236E"/>
<rect x="246.18" y="1763.55" width="43.37" height="29.14" fill="#AA2D5F"/>
<rect x="288.95" y="1763.55" width="43.37" height="29.14" fill="#F6CA34"/>
<rect x="331.72" y="1763.55" width="43.37" height="29.14" fill="#EC6924"/>
<rect x="374.49" y="1763.55" width="43.37" height="29.14" fill="#EC6924"/>
<rect x="417.26" y="1763.55" width="43.37" height="29.14" fill="#F69E1E"/>
<rect x="460.03" y="1763.55" width="42.77" height="29.14" fill="#EC6924"/>
<rect x="75.10" y="1792.09" width="43.37" height="29.14" fill="#AA2D5F"/>
<rect x="117.87" y="1792.09" width="43.37" height="29.14" fill="#7B2471"/>
<rect x="160.64" y="1792.09" width="43.37" height="29.14" fill="#D44545"/>
<rect x="203.41" y="1792.09" width="43.37" height="29.14" fill="#060608"/>
<rect x="246.18" y="1792.09" width="43.37" height="29.14" fill="#7B2471"/>
<rect x="288.95" y="1792.09" width="43.37" height="29.14" fill="#EC6924"/>
<rect x="331.72" y="1792.09" width="43.37" height="29.14" fill="#F6CA34"/>
<rect x="374.49" y="1792.09" width="43.37" height="29.14" fill="#EC6924"/>
<rect x="417.26" y="1792.09" width="43.37" height="29.14" fill="#7B2471"/>
<rect x="460.03" y="1792.09" width="42.77" height="29.14" fill="#EC6924"/>
<rect x="75.10" y="1820.63" width="43.37" height="29.14" fill="#7B2471"/>
<rect x="117.87" y="1820.63" width="43.37" height="29.14" fill="#4F236E"/>
<rect x="160.64" y="1820.63" width="43.37" height="29.14" fill="#4F236E"/>
<rect x="203.41" y="1820.63" width="43.37" height="29.14" fill="#D44545"/>
<rect x="246.18" y="1820.63" width="43.37" height="29.14" fill="#7B2471"/>
<rect x="288.95" y="1820.63" width="43.37" height="29.14" fill="#F6CA34"/>
<rect x="331.72" y="1820.63" width="43.37" height="29.14" fill="#F69E1E"/>
<rect x="374.49" y="1820.63" width="43.37" height="29.14" fill="#EC6924"/>
<rect x="417.26" y="1820.63" width="43.37" height="29.14" fill="#AA2D5F"/>
<rect x="460.03" y="1820.63" width="42.77" height="29.14" fill="#F69E1E"/>
<rect x="75.10" y="1849.17" width="43.37" height="29.14" fill="#7B2471"/>
<rect x="117.87" y="1849.17" width="43.37" height="29.14" fill="#7B2471"/>
<rect x="160.64" y="1849.17" width="43.37" height="29.14" fill="#7B2471"/>
<rect x="203.41" y="1849.17" width="43.37" height="29.14" fill="#7B2471"/>
<rect x="246.18" y="1849.17" width="43.37" height="29.14" fill="#4F236E"/>
<rect x="288.95" y="1849.17" width="43.37" height="29.14" fill="#F7EE98"/>
<rect x="331.72" y="1849.17" width="43.37" height="29.14" fill="#F69E1E"/>
<rect x="374.49" y="1849.17" width="43.37" height="29.14" fill="#EC6924"/>
<rect x="417.26" y="1849.17" width="43.37" height="29.14" fill="#AA2D5F"/>
<rect x="460.03" y="1849.17" width="42.77" height="29.14" fill="#EC6924"/>
<rect x="75.10" y="1877.71" width="43.37" height="29.14" fill="#4F236E"/>
<rect x="117.87" y="1877.71" width="43.37" height="29.14" fill="#7B2471"/>
<rect x="160.64" y="1877.71" width="43.37" height="29.14" fill="#4F236E"/>
<rect x="203.41" y="1877.71" width="43.37" height="29.14" fill="#7B2471"/>
<rect x="246.18" y="1877.71" width="43.37" height="29.14" fill="#AA2D5F"/>
<rect x="288.95" y="1877.71" width="43.37" height="29.14" fill="#F6CA34"/>
<rect x="331.72" y="1877.71" width="43.37" height="29.14" fill="#F6CA34"/>
<rect x="374.49" y="1877.71" width="43.37" height="29.14" fill="#AA2D5F"/>
<rect x="417.26" y="1877.71" width="43.37" height="29.14" fill="#D44545"/>
<rect x="460.03" y="1877.71" width="42.77" height="29.14" fill="#EC6924"/>
<rect x="75.10" y="1906.25" width="43.37" height="29.14" fill="#1F1045"/>
<rect x="117.87" y="1906.25" width="43.37" height="29.14" fill="#4F236E"/>
<rect x="160.64" y="1906.25" width="43.37" height="29.14" fill="#7B2471"/>
<rect x="203.41" y="1906.25" width="43.37" height="29.14" fill="#AA2D5F"/>
<rect x="246.18" y="1906.25" width="43.37" height="29.14" fill="#D44545"/>
<rect x="288.95" y="1906.25" width="43.37" height="29.14" fill="#F6CA34"/>
<rect x="331.72" y="1906.25" width="43.37" height="29.14" fill="#F6CA34"/>
<rect x="374.49" y="1906.25" width="43.37" height="29.14" fill="#AA2D5F"/>
<rect x="417.26" y="1906.25" width="43.37" height="29.14" fill="#D44545"/>
<rect x="460.03" y="1906.25" width="42.77" height="29.14" fill="#AA2D5F"/>
<rect x="75.10" y="1934.78" width="43.37" height="29.14" fill="#4F236E"/>
<rect x="117.87" y="1934.78" width="43.37" height="29.14" fill="#7B2471"/>
<rect x="160.64" y="1934.78" width="43.37" height="29.14" fill="#7B2471"/>
<rect x="203.41" y="1934.78" width="43.37" height="29.14" fill="#AA2D5F"/>
<rect x="246.18" y="1934.78" width="43.37" height="29.14" fill="#AA2D5F"/>
<rect x="288.95" y="1934.78" width="43.37" height="29.14" fill="#EC6924"/>
<rect x="331.72" y="1934.78" width="43.37" height="29.14" fill="#F7EE98"/>
<rect x="374.49" y="1934.78" width="43.37" height="29.14" fill="#7B2471"/>
<rect x="417.26" y="1934.78" width="43.37" height="29.14" fill="#EC6924"/>
<rect x="460.03" y="1934.78" width="42.77" height="29.14" fill="#AA2D5F"/>
<rect x="75.10" y="1963.32" width="43.37" height="29.14" fill="#4F236E"/>
<rect x="117.87" y="1963.32" width="43.37" height="29.14" fill="#7B2471"/>
<rect x="160.64" y="1963.32" width="43.37" height="29.14" fill="#1F1045"/>
<rect x="203.41" y="1963.32" width="43.37" height="29.14" fill="#7B2471"/>
<rect x="246.18" y="1963.32" width="43.37" height="29.14" fill="#D44545"/>
<rect x="288.95" y="1963.32" width="43.37" height="29.14" fill="#EC6924"/>
<rect x="331.72" y="1963.32" width="43.37" height="29.14" fill="#F6CA34"/>
<rect x="374.49" y="1963.32" width="43.37" height="29.14" fill="#EC6924"/>
<rect x="417.26" y="1963.32" width="43.37" height="29.14" fill="#EC6924"/>
<rect x="460.03" y="1963.32" width="42.77" height="29.14" fill="#D44545"/>
<rect x="75.10" y="1991.86" width="43.37" height="28.54" fill="#4F236E"/>
<rect x="117.87" y="1991.86" width="43.37" height="28.54" fill="#4F236E"/>
<rect x="160.64" y="1991.86" width="43.37" height="28.54" fill="#7B2471"/>
<rect x="203.41" y="1991.86" width="43.37" height="28.54" fill="#4F236E"/>
<rect x="246.18" y="1991.86" width="43.37" height="28.54" fill="#AA2D5F"/>
<rect x="288.95" y="1991.86" width="43.37" height="28.54" fill="#F69E1E"/>
<rect x="331.72" y="1991.86" width="43.37" height="28.54" fill="#F6CA34"/>
<rect x="374.49" y="1991.86" width="43.37" height="28.54" fill="#F69E1E"/>
<rect x="417.26" y="1991.86" width="43.37" height="28.54" fill="#EC6924"/>
<rect x="460.03" y="1991.86" width="42.77" height="28.54" fill="#D44545"/>
<text x="506.5" y="1668.3" font-size="12.2" fill="#111" stroke="#111" stroke-width="0.35">Ccl11</text>
<text x="506.5" y="1696.8" font-size="12.2" fill="#111" stroke="#111" stroke-width="0.35">Cd40lg</text>
<text x="506.5" y="1725.3" font-size="12.2" fill="#111" stroke="#111" stroke-width="0.35">Ccr1l1</text>
<text x="506.5" y="1753.9" font-size="12.2" fill="#111" stroke="#111" stroke-width="0.35">Ccr1</text>
<text x="506.5" y="1782.4" font-size="12.2" fill="#111" stroke="#111" stroke-width="0.35">Ccr5</text>
<text x="506.5" y="1811.0" font-size="12.2" fill="#111" stroke="#111" stroke-width="0.35">Ccl22</text>
<text x="506.5" y="1839.5" font-size="12.2" fill="#111" stroke="#111" stroke-width="0.35">Il2rb</text>
<text x="506.5" y="1868.0" font-size="12.2" fill="#111" stroke="#111" stroke-width="0.35">Ccr9</text>
<text x="506.5" y="1896.6" font-size="12.2" fill="#111" stroke="#111" stroke-width="0.35">Ifng</text>
<text x="506.5" y="1925.1" font-size="12.2" fill="#111" stroke="#111" stroke-width="0.35">Cxcl9</text>
<text x="506.5" y="1953.7" font-size="12.2" fill="#111" stroke="#111" stroke-width="0.35">Cxcl11</text>
<text x="506.5" y="1982.2" font-size="12.2" fill="#111" stroke="#111" stroke-width="0.35">Ccr8</text>
<text x="506.5" y="2010.7" font-size="12.2" fill="#111" stroke="#111" stroke-width="0.35">Il10ra</text>
<rect x="553.4" y="1649.60" width="11.8" height="18.39" fill="#F7EE98"/>
<rect x="553.4" y="1667.59" width="11.8" height="18.39" fill="#F6CA34"/>
<rect x="553.4" y="1685.58" width="11.8" height="18.39" fill="#F69E1E"/>
<rect x="553.4" y="1703.57" width="11.8" height="18.39" fill="#EC6924"/>
<rect x="553.4" y="1721.56" width="11.8" height="18.39" fill="#D44545"/>
<rect x="553.4" y="1739.55" width="11.8" height="18.39" fill="#AA2D5F"/>
<rect x="553.4" y="1757.54" width="11.8" height="18.39" fill="#7B2471"/>
<rect x="553.4" y="1775.53" width="11.8" height="18.39" fill="#4F236E"/>
<rect x="553.4" y="1793.52" width="11.8" height="18.39" fill="#1F1045"/>
<rect x="553.4" y="1811.51" width="11.8" height="18.39" fill="#060608"/>
<text x="569.5" y="1663.8" font-size="11.5" fill="#111" stroke="#111" stroke-width="0.35">2</text>
<text x="569.5" y="1703.6" font-size="11.5" fill="#111" stroke="#111" stroke-width="0.35">1</text>
<text x="569.5" y="1743.9" font-size="11.5" fill="#111" stroke="#111" stroke-width="0.35">0</text>
<text x="569.5" y="1784.3" font-size="11.5" fill="#111" stroke="#111" stroke-width="0.35">−1</text>
<text x="569.5" y="1824.5" font-size="11.5" fill="#111" stroke="#111" stroke-width="0.35">−2</text>
<text x="99.2" y="2056.5" font-size="35.9" fill="#000" stroke="#000" stroke-width="0.6">Brca1<tspan font-size="21.2" dy="-12.2">null</tspan></text>
<text x="360.2" y="2056.5" font-size="35.9" fill="#000" stroke="#000" stroke-width="0.6">Brca2<tspan font-size="21.2" dy="-12.2">null</tspan></text>
<text x="678.0" y="1612.0" font-size="55" font-weight="700" fill="#1a1a1a" stroke="#1a1a1a" stroke-width="1.3">g</text>
<text x="747.8" y="1624.6" font-size="36.1" fill="#1a1a1a" stroke="#1a1a1a" stroke-width="0.6">Reactome chemokines</text>
<rect x="675.70" y="1647.30" width="54.57" height="26.92" fill="#D44545"/>
<rect x="729.67" y="1647.30" width="54.57" height="26.92" fill="#4F236E"/>
<rect x="783.64" y="1647.30" width="54.57" height="26.92" fill="#4F236E"/>
<rect x="837.61" y="1647.30" width="54.57" height="26.92" fill="#D44545"/>
<rect x="891.58" y="1647.30" width="54.57" height="26.92" fill="#4F236E"/>
<rect x="945.55" y="1647.30" width="54.57" height="26.92" fill="#EC6924"/>
<rect x="999.52" y="1647.30" width="54.57" height="26.92" fill="#D44545"/>
<rect x="1053.49" y="1647.30" width="54.57" height="26.92" fill="#F7EE98"/>
<rect x="1107.46" y="1647.30" width="54.57" height="26.92" fill="#7B2471"/>
<rect x="1161.43" y="1647.30" width="53.97" height="26.92" fill="#EC6924"/>
<rect x="675.70" y="1673.62" width="54.57" height="26.92" fill="#1F1045"/>
<rect x="729.67" y="1673.62" width="54.57" height="26.92" fill="#4F236E"/>
<rect x="783.64" y="1673.62" width="54.57" height="26.92" fill="#7B2471"/>
<rect x="837.61" y="1673.62" width="54.57" height="26.92" fill="#AA2D5F"/>
<rect x="891.58" y="1673.62" width="54.57" height="26.92" fill="#D44545"/>
<rect x="945.55" y="1673.62" width="54.57" height="26.92" fill="#F6CA34"/>
<rect x="999.52" y="1673.62" width="54.57" height="26.92" fill="#F6CA34"/>
<rect x="1053.49" y="1673.62" width="54.57" height="26.92" fill="#D44545"/>
<rect x="1107.46" y="1673.62" width="54.57" height="26.92" fill="#AA2D5F"/>
<rect x="1161.43" y="1673.62" width="53.97" height="26.92" fill="#AA2D5F"/>
<rect x="675.70" y="1699.93" width="54.57" height="26.92" fill="#1F1045"/>
<rect x="729.67" y="1699.93" width="54.57" height="26.92" fill="#7B2471"/>
<rect x="783.64" y="1699.93" width="54.57" height="26.92" fill="#7B2471"/>
<rect x="837.61" y="1699.93" width="54.57" height="26.92" fill="#AA2D5F"/>
<rect x="891.58" y="1699.93" width="54.57" height="26.92" fill="#AA2D5F"/>
<rect x="945.55" y="1699.93" width="54.57" height="26.92" fill="#F69E1E"/>
<rect x="999.52" y="1699.93" width="54.57" height="26.92" fill="#F7EE98"/>
<rect x="1053.49" y="1699.93" width="54.57" height="26.92" fill="#D44545"/>
<rect x="1107.46" y="1699.93" width="54.57" height="26.92" fill="#AA2D5F"/>
<rect x="1161.43" y="1699.93" width="53.97" height="26.92" fill="#D44545"/>
<rect x="675.70" y="1726.25" width="54.57" height="26.92" fill="#4F236E"/>
<rect x="729.67" y="1726.25" width="54.57" height="26.92" fill="#7B2471"/>
<rect x="783.64" y="1726.25" width="54.57" height="26.92" fill="#7B2471"/>
<rect x="837.61" y="1726.25" width="54.57" height="26.92" fill="#AA2D5F"/>
<rect x="891.58" y="1726.25" width="54.57" height="26.92" fill="#AA2D5F"/>
<rect x="945.55" y="1726.25" width="54.57" height="26.92" fill="#EC6924"/>
<rect x="999.52" y="1726.25" width="54.57" height="26.92" fill="#F7EE98"/>
<rect x="1053.49" y="1726.25" width="54.57" height="26.92" fill="#EC6924"/>
<rect x="1107.46" y="1726.25" width="54.57" height="26.92" fill="#7B2471"/>
<rect x="1161.43" y="1726.25" width="53.97" height="26.92" fill="#AA2D5F"/>
<rect x="675.70" y="1752.56" width="54.57" height="26.92" fill="#4F236E"/>
<rect x="729.67" y="1752.56" width="54.57" height="26.92" fill="#7B2471"/>
<rect x="783.64" y="1752.56" width="54.57" height="26.92" fill="#1F1045"/>
<rect x="837.61" y="1752.56" width="54.57" height="26.92" fill="#7B2471"/>
<rect x="891.58" y="1752.56" width="54.57" height="26.92" fill="#D44545"/>
<rect x="945.55" y="1752.56" width="54.57" height="26.92" fill="#EC6924"/>
<rect x="999.52" y="1752.56" width="54.57" height="26.92" fill="#F6CA34"/>
<rect x="1053.49" y="1752.56" width="54.57" height="26.92" fill="#EC6924"/>
<rect x="1107.46" y="1752.56" width="54.57" height="26.92" fill="#EC6924"/>
<rect x="1161.43" y="1752.56" width="53.97" height="26.92" fill="#D44545"/>
<rect x="675.70" y="1778.88" width="54.57" height="26.92" fill="#4F236E"/>
<rect x="729.67" y="1778.88" width="54.57" height="26.92" fill="#4F236E"/>
<rect x="783.64" y="1778.88" width="54.57" height="26.92" fill="#4F236E"/>
<rect x="837.61" y="1778.88" width="54.57" height="26.92" fill="#AA2D5F"/>
<rect x="891.58" y="1778.88" width="54.57" height="26.92" fill="#7B2471"/>
<rect x="945.55" y="1778.88" width="54.57" height="26.92" fill="#F69E1E"/>
<rect x="999.52" y="1778.88" width="54.57" height="26.92" fill="#F69E1E"/>
<rect x="1053.49" y="1778.88" width="54.57" height="26.92" fill="#EC6924"/>
<rect x="1107.46" y="1778.88" width="54.57" height="26.92" fill="#EC6924"/>
<rect x="1161.43" y="1778.88" width="53.97" height="26.92" fill="#D44545"/>
<rect x="675.70" y="1805.19" width="54.57" height="26.92" fill="#7B2471"/>
<rect x="729.67" y="1805.19" width="54.57" height="26.92" fill="#7B2471"/>
<rect x="783.64" y="1805.19" width="54.57" height="26.92" fill="#AA2D5F"/>
<rect x="837.61" y="1805.19" width="54.57" height="26.92" fill="#4F236E"/>
<rect x="891.58" y="1805.19" width="54.57" height="26.92" fill="#7B2471"/>
<rect x="945.55" y="1805.19" width="54.57" height="26.92" fill="#F6CA34"/>
<rect x="999.52" y="1805.19" width="54.57" height="26.92" fill="#F6CA34"/>
<rect x="1053.49" y="1805.19" width="54.57" height="26.92" fill="#AA2D5F"/>
<rect x="1107.46" y="1805.19" width="54.57" height="26.92" fill="#F69E1E"/>
<rect x="1161.43" y="1805.19" width="53.97" height="26.92" fill="#AA2D5F"/>
<rect x="675.70" y="1831.51" width="54.57" height="26.92" fill="#AA2D5F"/>
<rect x="729.67" y="1831.51" width="54.57" height="26.92" fill="#7B2471"/>
<rect x="783.64" y="1831.51" width="54.57" height="26.92" fill="#D44545"/>
<rect x="837.61" y="1831.51" width="54.57" height="26.92" fill="#060608"/>
<rect x="891.58" y="1831.51" width="54.57" height="26.92" fill="#7B2471"/>
<rect x="945.55" y="1831.51" width="54.57" height="26.92" fill="#EC6924"/>
<rect x="999.52" y="1831.51" width="54.57" height="26.92" fill="#F6CA34"/>
<rect x="1053.49" y="1831.51" width="54.57" height="26.92" fill="#7B2471"/>
<rect x="1107.46" y="1831.51" width="54.57" height="26.92" fill="#EC6924"/>
<rect x="1161.43" y="1831.51" width="53.97" height="26.92" fill="#EC6924"/>
<rect x="675.70" y="1857.82" width="54.57" height="26.92" fill="#7B2471"/>
<rect x="729.67" y="1857.82" width="54.57" height="26.92" fill="#7B2471"/>
<rect x="783.64" y="1857.82" width="54.57" height="26.92" fill="#7B2471"/>
<rect x="837.61" y="1857.82" width="54.57" height="26.92" fill="#7B2471"/>
<rect x="891.58" y="1857.82" width="54.57" height="26.92" fill="#7B2471"/>
<rect x="945.55" y="1857.82" width="54.57" height="26.92" fill="#F6CA34"/>
<rect x="999.52" y="1857.82" width="54.57" height="26.92" fill="#F6CA34"/>
<rect x="1053.49" y="1857.82" width="54.57" height="26.92" fill="#AA2D5F"/>
<rect x="1107.46" y="1857.82" width="54.57" height="26.92" fill="#AA2D5F"/>
<rect x="1161.43" y="1857.82" width="53.97" height="26.92" fill="#EC6924"/>
<rect x="675.70" y="1884.14" width="54.57" height="26.92" fill="#AA2D5F"/>
<rect x="729.67" y="1884.14" width="54.57" height="26.92" fill="#4F236E"/>
<rect x="783.64" y="1884.14" width="54.57" height="26.92" fill="#4F236E"/>
<rect x="837.61" y="1884.14" width="54.57" height="26.92" fill="#4F236E"/>
<rect x="891.58" y="1884.14" width="54.57" height="26.92" fill="#7B2471"/>
<rect x="945.55" y="1884.14" width="54.57" height="26.92" fill="#F6CA34"/>
<rect x="999.52" y="1884.14" width="54.57" height="26.92" fill="#F6CA34"/>
<rect x="1053.49" y="1884.14" width="54.57" height="26.92" fill="#D44545"/>
<rect x="1107.46" y="1884.14" width="54.57" height="26.92" fill="#EC6924"/>
<rect x="1161.43" y="1884.14" width="53.97" height="26.92" fill="#EC6924"/>
<rect x="675.70" y="1910.45" width="54.57" height="26.92" fill="#7B2471"/>
<rect x="729.67" y="1910.45" width="54.57" height="26.92" fill="#7B2471"/>
<rect x="783.64" y="1910.45" width="54.57" height="26.92" fill="#7B2471"/>
<rect x="837.61" y="1910.45" width="54.57" height="26.92" fill="#7B2471"/>
<rect x="891.58" y="1910.45" width="54.57" height="26.92" fill="#4F236E"/>
<rect x="945.55" y="1910.45" width="54.57" height="26.92" fill="#F7EE98"/>
<rect x="999.52" y="1910.45" width="54.57" height="26.92" fill="#F69E1E"/>
<rect x="1053.49" y="1910.45" width="54.57" height="26.92" fill="#AA2D5F"/>
<rect x="1107.46" y="1910.45" width="54.57" height="26.92" fill="#EC6924"/>
<rect x="1161.43" y="1910.45" width="53.97" height="26.92" fill="#EC6924"/>
<rect x="675.70" y="1936.77" width="54.57" height="26.92" fill="#7B2471"/>
<rect x="729.67" y="1936.77" width="54.57" height="26.92" fill="#7B2471"/>
<rect x="783.64" y="1936.77" width="54.57" height="26.92" fill="#4F236E"/>
<rect x="837.61" y="1936.77" width="54.57" height="26.92" fill="#4F236E"/>
<rect x="891.58" y="1936.77" width="54.57" height="26.92" fill="#7B2471"/>
<rect x="945.55" y="1936.77" width="54.57" height="26.92" fill="#F7EE98"/>
<rect x="999.52" y="1936.77" width="54.57" height="26.92" fill="#F69E1E"/>
<rect x="1053.49" y="1936.77" width="54.57" height="26.92" fill="#D44545"/>
<rect x="1107.46" y="1936.77" width="54.57" height="26.92" fill="#D44545"/>
<rect x="1161.43" y="1936.77" width="53.97" height="26.92" fill="#EC6924"/>
<rect x="675.70" y="1963.08" width="54.57" height="26.92" fill="#7B2471"/>
<rect x="729.67" y="1963.08" width="54.57" height="26.92" fill="#4F236E"/>
<rect x="783.64" y="1963.08" width="54.57" height="26.92" fill="#4F236E"/>
<rect x="837.61" y="1963.08" width="54.57" height="26.92" fill="#AA2D5F"/>
<rect x="891.58" y="1963.08" width="54.57" height="26.92" fill="#4F236E"/>
<rect x="945.55" y="1963.08" width="54.57" height="26.92" fill="#EC6924"/>
<rect x="999.52" y="1963.08" width="54.57" height="26.92" fill="#F6CA34"/>
<rect x="1053.49" y="1963.08" width="54.57" height="26.92" fill="#D44545"/>
<rect x="1107.46" y="1963.08" width="54.57" height="26.92" fill="#AA2D5F"/>
<rect x="1161.43" y="1963.08" width="53.97" height="26.92" fill="#F6CA34"/>
<rect x="675.70" y="1989.40" width="54.57" height="26.92" fill="#7B2471"/>
<rect x="729.67" y="1989.40" width="54.57" height="26.92" fill="#7B2471"/>
<rect x="783.64" y="1989.40" width="54.57" height="26.92" fill="#4F236E"/>
<rect x="837.61" y="1989.40" width="54.57" height="26.92" fill="#4F236E"/>
<rect x="891.58" y="1989.40" width="54.57" height="26.92" fill="#7B2471"/>
<rect x="945.55" y="1989.40" width="54.57" height="26.92" fill="#F6CA34"/>
<rect x="999.52" y="1989.40" width="54.57" height="26.92" fill="#EC6924"/>
<rect x="1053.49" y="1989.40" width="54.57" height="26.92" fill="#D44545"/>
<rect x="1107.46" y="1989.40" width="54.57" height="26.92" fill="#D44545"/>
<rect x="1161.43" y="1989.40" width="53.97" height="26.92" fill="#F6CA34"/>
<rect x="675.70" y="2015.72" width="54.57" height="26.92" fill="#4F236E"/>
<rect x="729.67" y="2015.72" width="54.57" height="26.92" fill="#7B2471"/>
<rect x="783.64" y="2015.72" width="54.57" height="26.92" fill="#7B2471"/>
<rect x="837.61" y="2015.72" width="54.57" height="26.92" fill="#4F236E"/>
<rect x="891.58" y="2015.72" width="54.57" height="26.92" fill="#7B2471"/>
<rect x="945.55" y="2015.72" width="54.57" height="26.92" fill="#F69E1E"/>
<rect x="999.52" y="2015.72" width="54.57" height="26.92" fill="#F69E1E"/>
<rect x="1053.49" y="2015.72" width="54.57" height="26.92" fill="#AA2D5F"/>
<rect x="1107.46" y="2015.72" width="54.57" height="26.92" fill="#EC6924"/>
<rect x="1161.43" y="2015.72" width="53.97" height="26.92" fill="#F6CA34"/>
<rect x="675.70" y="2042.03" width="54.57" height="26.92" fill="#7B2471"/>
<rect x="729.67" y="2042.03" width="54.57" height="26.92" fill="#7B2471"/>
<rect x="783.64" y="2042.03" width="54.57" height="26.92" fill="#7B2471"/>
<rect x="837.61" y="2042.03" width="54.57" height="26.92" fill="#7B2471"/>
<rect x="891.58" y="2042.03" width="54.57" height="26.92" fill="#AA2D5F"/>
<rect x="945.55" y="2042.03" width="54.57" height="26.92" fill="#F7EE98"/>
<rect x="999.52" y="2042.03" width="54.57" height="26.92" fill="#D44545"/>
<rect x="1053.49" y="2042.03" width="54.57" height="26.92" fill="#7B2471"/>
<rect x="1107.46" y="2042.03" width="54.57" height="26.92" fill="#F7EE98"/>
<rect x="1161.43" y="2042.03" width="53.97" height="26.92" fill="#7B2471"/>
<rect x="675.70" y="2068.35" width="54.57" height="26.92" fill="#7B2471"/>
<rect x="729.67" y="2068.35" width="54.57" height="26.92" fill="#AA2D5F"/>
<rect x="783.64" y="2068.35" width="54.57" height="26.92" fill="#4F236E"/>
<rect x="837.61" y="2068.35" width="54.57" height="26.92" fill="#4F236E"/>
<rect x="891.58" y="2068.35" width="54.57" height="26.92" fill="#7B2471"/>
<rect x="945.55" y="2068.35" width="54.57" height="26.92" fill="#EC6924"/>
<rect x="999.52" y="2068.35" width="54.57" height="26.92" fill="#D44545"/>
<rect x="1053.49" y="2068.35" width="54.57" height="26.92" fill="#AA2D5F"/>
<rect x="1107.46" y="2068.35" width="54.57" height="26.92" fill="#F6CA34"/>
<rect x="1161.43" y="2068.35" width="53.97" height="26.92" fill="#F6CA34"/>
<rect x="675.70" y="2094.66" width="54.57" height="26.92" fill="#4F236E"/>
<rect x="729.67" y="2094.66" width="54.57" height="26.92" fill="#4F236E"/>
<rect x="783.64" y="2094.66" width="54.57" height="26.92" fill="#7B2471"/>
<rect x="837.61" y="2094.66" width="54.57" height="26.92" fill="#4F236E"/>
<rect x="891.58" y="2094.66" width="54.57" height="26.92" fill="#AA2D5F"/>
<rect x="945.55" y="2094.66" width="54.57" height="26.92" fill="#F6CA34"/>
<rect x="999.52" y="2094.66" width="54.57" height="26.92" fill="#EC6924"/>
<rect x="1053.49" y="2094.66" width="54.57" height="26.92" fill="#F69E1E"/>
<rect x="1107.46" y="2094.66" width="54.57" height="26.92" fill="#EC6924"/>
<rect x="1161.43" y="2094.66" width="53.97" height="26.92" fill="#EC6924"/>
<rect x="675.70" y="2120.98" width="54.57" height="26.92" fill="#4F236E"/>
<rect x="729.67" y="2120.98" width="54.57" height="26.92" fill="#4F236E"/>
<rect x="783.64" y="2120.98" width="54.57" height="26.92" fill="#AA2D5F"/>
<rect x="837.61" y="2120.98" width="54.57" height="26.92" fill="#4F236E"/>
<rect x="891.58" y="2120.98" width="54.57" height="26.92" fill="#D44545"/>
<rect x="945.55" y="2120.98" width="54.57" height="26.92" fill="#F7EE98"/>
<rect x="999.52" y="2120.98" width="54.57" height="26.92" fill="#EC6924"/>
<rect x="1053.49" y="2120.98" width="54.57" height="26.92" fill="#EC6924"/>
<rect x="1107.46" y="2120.98" width="54.57" height="26.92" fill="#AA2D5F"/>
<rect x="1161.43" y="2120.98" width="53.97" height="26.92" fill="#D44545"/>
<rect x="675.70" y="2147.29" width="54.57" height="26.92" fill="#4F236E"/>
<rect x="729.67" y="2147.29" width="54.57" height="26.92" fill="#4F236E"/>
<rect x="783.64" y="2147.29" width="54.57" height="26.92" fill="#7B2471"/>
<rect x="837.61" y="2147.29" width="54.57" height="26.92" fill="#7B2471"/>
<rect x="891.58" y="2147.29" width="54.57" height="26.92" fill="#AA2D5F"/>
<rect x="945.55" y="2147.29" width="54.57" height="26.92" fill="#F6CA34"/>
<rect x="999.52" y="2147.29" width="54.57" height="26.92" fill="#F69E1E"/>
<rect x="1053.49" y="2147.29" width="54.57" height="26.92" fill="#F69E1E"/>
<rect x="1107.46" y="2147.29" width="54.57" height="26.92" fill="#D44545"/>
<rect x="1161.43" y="2147.29" width="53.97" height="26.92" fill="#D44545"/>
<rect x="675.70" y="2173.61" width="54.57" height="26.92" fill="#4F236E"/>
<rect x="729.67" y="2173.61" width="54.57" height="26.92" fill="#7B2471"/>
<rect x="783.64" y="2173.61" width="54.57" height="26.92" fill="#7B2471"/>
<rect x="837.61" y="2173.61" width="54.57" height="26.92" fill="#4F236E"/>
<rect x="891.58" y="2173.61" width="54.57" height="26.92" fill="#7B2471"/>
<rect x="945.55" y="2173.61" width="54.57" height="26.92" fill="#F6CA34"/>
<rect x="999.52" y="2173.61" width="54.57" height="26.92" fill="#F69E1E"/>
<rect x="1053.49" y="2173.61" width="54.57" height="26.92" fill="#F69E1E"/>
<rect x="1107.46" y="2173.61" width="54.57" height="26.92" fill="#D44545"/>
<rect x="1161.43" y="2173.61" width="53.97" height="26.92" fill="#D44545"/>
<rect x="675.70" y="2199.92" width="54.57" height="26.92" fill="#4F236E"/>
<rect x="729.67" y="2199.92" width="54.57" height="26.92" fill="#4F236E"/>
<rect x="783.64" y="2199.92" width="54.57" height="26.92" fill="#7B2471"/>
<rect x="837.61" y="2199.92" width="54.57" height="26.92" fill="#4F236E"/>
<rect x="891.58" y="2199.92" width="54.57" height="26.92" fill="#7B2471"/>
<rect x="945.55" y="2199.92" width="54.57" height="26.92" fill="#F6CA34"/>
<rect x="999.52" y="2199.92" width="54.57" height="26.92" fill="#EC6924"/>
<rect x="1053.49" y="2199.92" width="54.57" height="26.92" fill="#EC6924"/>
<rect x="1107.46" y="2199.92" width="54.57" height="26.92" fill="#F6CA34"/>
<rect x="1161.43" y="2199.92" width="53.97" height="26.92" fill="#EC6924"/>
<rect x="675.70" y="2226.24" width="54.57" height="26.92" fill="#7B2471"/>
<rect x="729.67" y="2226.24" width="54.57" height="26.92" fill="#7B2471"/>
<rect x="783.64" y="2226.24" width="54.57" height="26.92" fill="#4F236E"/>
<rect x="837.61" y="2226.24" width="54.57" height="26.92" fill="#4F236E"/>
<rect x="891.58" y="2226.24" width="54.57" height="26.92" fill="#7B2471"/>
<rect x="945.55" y="2226.24" width="54.57" height="26.92" fill="#F6CA34"/>
<rect x="999.52" y="2226.24" width="54.57" height="26.92" fill="#D44545"/>
<rect x="1053.49" y="2226.24" width="54.57" height="26.92" fill="#D44545"/>
<rect x="1107.46" y="2226.24" width="54.57" height="26.92" fill="#F69E1E"/>
<rect x="1161.43" y="2226.24" width="53.97" height="26.92" fill="#F69E1E"/>
<rect x="675.70" y="2252.55" width="54.57" height="26.92" fill="#7B2471"/>
<rect x="729.67" y="2252.55" width="54.57" height="26.92" fill="#4F236E"/>
<rect x="783.64" y="2252.55" width="54.57" height="26.92" fill="#4F236E"/>
<rect x="837.61" y="2252.55" width="54.57" height="26.92" fill="#4F236E"/>
<rect x="891.58" y="2252.55" width="54.57" height="26.92" fill="#7B2471"/>
<rect x="945.55" y="2252.55" width="54.57" height="26.92" fill="#F6CA34"/>
<rect x="999.52" y="2252.55" width="54.57" height="26.92" fill="#D44545"/>
<rect x="1053.49" y="2252.55" width="54.57" height="26.92" fill="#D44545"/>
<rect x="1107.46" y="2252.55" width="54.57" height="26.92" fill="#F6CA34"/>
<rect x="1161.43" y="2252.55" width="53.97" height="26.92" fill="#F69E1E"/>
<rect x="675.70" y="2278.87" width="54.57" height="26.92" fill="#7B2471"/>
<rect x="729.67" y="2278.87" width="54.57" height="26.92" fill="#7B2471"/>
<rect x="783.64" y="2278.87" width="54.57" height="26.92" fill="#4F236E"/>
<rect x="837.61" y="2278.87" width="54.57" height="26.92" fill="#4F236E"/>
<rect x="891.58" y="2278.87" width="54.57" height="26.92" fill="#7B2471"/>
<rect x="945.55" y="2278.87" width="54.57" height="26.92" fill="#F7EE98"/>
<rect x="999.52" y="2278.87" width="54.57" height="26.92" fill="#D44545"/>
<rect x="1053.49" y="2278.87" width="54.57" height="26.92" fill="#EC6924"/>
<rect x="1107.46" y="2278.87" width="54.57" height="26.92" fill="#F69E1E"/>
<rect x="1161.43" y="2278.87" width="53.97" height="26.92" fill="#D44545"/>
<rect x="675.70" y="2305.18" width="54.57" height="26.32" fill="#AA2D5F"/>
<rect x="729.67" y="2305.18" width="54.57" height="26.32" fill="#4F236E"/>
<rect x="783.64" y="2305.18" width="54.57" height="26.32" fill="#4F236E"/>
<rect x="837.61" y="2305.18" width="54.57" height="26.32" fill="#4F236E"/>
<rect x="891.58" y="2305.18" width="54.57" height="26.32" fill="#4F236E"/>
<rect x="945.55" y="2305.18" width="54.57" height="26.32" fill="#F6CA34"/>
<rect x="999.52" y="2305.18" width="54.57" height="26.32" fill="#D44545"/>
<rect x="1053.49" y="2305.18" width="54.57" height="26.32" fill="#F69E1E"/>
<rect x="1107.46" y="2305.18" width="54.57" height="26.32" fill="#EC6924"/>
<rect x="1161.43" y="2305.18" width="53.97" height="26.32" fill="#D44545"/>
<text x="1219.6" y="1666.3" font-size="15.3" fill="#111" stroke="#111" stroke-width="0.45">Ccl11</text>
<text x="1219.6" y="1692.6" font-size="15.3" fill="#111" stroke="#111" stroke-width="0.45">Cxcl9</text>
<text x="1219.6" y="1718.9" font-size="15.3" fill="#111" stroke="#111" stroke-width="0.45">Cxcl10</text>
<text x="1219.6" y="1745.2" font-size="15.3" fill="#111" stroke="#111" stroke-width="0.45">Cxcl11</text>
<text x="1219.6" y="1771.5" font-size="15.3" fill="#111" stroke="#111" stroke-width="0.45">Ccr8</text>
<text x="1219.6" y="1797.8" font-size="15.3" fill="#111" stroke="#111" stroke-width="0.45">Cxcl16</text>
<text x="1219.6" y="1824.1" font-size="15.3" fill="#111" stroke="#111" stroke-width="0.45">Ccr7</text>
<text x="1219.6" y="1850.5" font-size="15.3" fill="#111" stroke="#111" stroke-width="0.45">Ccl22</text>
<text x="1219.6" y="1876.8" font-size="15.3" fill="#111" stroke="#111" stroke-width="0.45">Ccl5</text>
<text x="1219.6" y="1903.1" font-size="15.3" fill="#111" stroke="#111" stroke-width="0.45">Ccr3</text>
<text x="1219.6" y="1929.4" font-size="15.3" fill="#111" stroke="#111" stroke-width="0.45">Ccr9</text>
<text x="1219.6" y="1955.7" font-size="15.3" fill="#111" stroke="#111" stroke-width="0.45">Xcr1</text>
<text x="1219.6" y="1982.0" font-size="15.3" fill="#111" stroke="#111" stroke-width="0.45">Cxcr6</text>
<text x="1219.6" y="2008.4" font-size="15.3" fill="#111" stroke="#111" stroke-width="0.45">Ccl4</text>
<text x="1219.6" y="2034.7" font-size="15.3" fill="#111" stroke="#111" stroke-width="0.45">Cx3cl1</text>
<text x="1219.6" y="2061.0" font-size="15.3" fill="#111" stroke="#111" stroke-width="0.45">Ccr6</text>
<text x="1219.6" y="2087.3" font-size="15.3" fill="#111" stroke="#111" stroke-width="0.45">Ccl3</text>
<text x="1219.6" y="2113.6" font-size="15.3" fill="#111" stroke="#111" stroke-width="0.45">Ccr5</text>
<text x="1219.6" y="2139.9" font-size="15.3" fill="#111" stroke="#111" stroke-width="0.45">Ccr2</text>
<text x="1219.6" y="2166.2" font-size="15.3" fill="#111" stroke="#111" stroke-width="0.45">Ccr1</text>
<text x="1219.6" y="2192.6" font-size="15.3" fill="#111" stroke="#111" stroke-width="0.45">Xcl1</text>
<text x="1219.6" y="2218.9" font-size="15.3" fill="#111" stroke="#111" stroke-width="0.45">Cx3cr1</text>
<text x="1219.6" y="2245.2" font-size="15.3" fill="#111" stroke="#111" stroke-width="0.45">Ccl2</text>
<text x="1219.6" y="2271.5" font-size="15.3" fill="#111" stroke="#111" stroke-width="0.45">Ccl7</text>
<text x="1219.6" y="2297.8" font-size="15.3" fill="#111" stroke="#111" stroke-width="0.45">Cxcr5</text>
<text x="1219.6" y="2324.1" font-size="15.3" fill="#111" stroke="#111" stroke-width="0.45">Ccr1l1</text>
<rect x="1278.9" y="1647.00" width="14.1" height="23.04" fill="#F7EE98"/>
<rect x="1278.9" y="1669.64" width="14.1" height="23.04" fill="#F6CA34"/>
<rect x="1278.9" y="1692.28" width="14.1" height="23.04" fill="#F69E1E"/>
<rect x="1278.9" y="1714.92" width="14.1" height="23.04" fill="#EC6924"/>
<rect x="1278.9" y="1737.56" width="14.1" height="23.04" fill="#D44545"/>
<rect x="1278.9" y="1760.20" width="14.1" height="23.04" fill="#AA2D5F"/>
<rect x="1278.9" y="1782.84" width="14.1" height="23.04" fill="#7B2471"/>
<rect x="1278.9" y="1805.48" width="14.1" height="23.04" fill="#4F236E"/>
<rect x="1278.9" y="1828.12" width="14.1" height="23.04" fill="#1F1045"/>
<rect x="1278.9" y="1850.76" width="14.1" height="23.04" fill="#060608"/>
<text x="1298.3" y="1664.9" font-size="14" fill="#111" stroke="#111" stroke-width="0.35">2</text>
<text x="1298.3" y="1715.8" font-size="14" fill="#111" stroke="#111" stroke-width="0.35">1</text>
<text x="1298.3" y="1766.7" font-size="14" fill="#111" stroke="#111" stroke-width="0.35">0</text>
<text x="1298.3" y="1816.9" font-size="14" fill="#111" stroke="#111" stroke-width="0.35">−1</text>
<text x="1298.3" y="1867.4" font-size="14" fill="#111" stroke="#111" stroke-width="0.35">−2</text>
<text x="733.0" y="2377.5" font-size="35.9" fill="#000" stroke="#000" stroke-width="0.6">Brca1<tspan font-size="21.2" dy="-12.2">null</tspan></text>
<text x="994.3" y="2377.5" font-size="35.9" fill="#000" stroke="#000" stroke-width="0.6">Brca2<tspan font-size="21.2" dy="-12.2">null</tspan></text>
<text x="1319.5" y="1608.8" font-size="55" font-weight="700" fill="#1a1a1a" stroke="#1a1a1a" stroke-width="1.3">h</text>
<text x="1441.0" y="1616.5" font-size="36.05" fill="#1a1a1a" stroke="#1a1a1a" stroke-width="0.6">NK-mediated cytotoxicity</text>
<rect x="1408.00" y="1633.00" width="44.55" height="15.67" fill="#AA2D5F"/>
<rect x="1451.95" y="1633.00" width="44.55" height="15.67" fill="#AA2D5F"/>
<rect x="1495.90" y="1633.00" width="44.55" height="15.67" fill="#EC6924"/>
<rect x="1539.85" y="1633.00" width="44.55" height="15.67" fill="#F6CA34"/>
<rect x="1583.80" y="1633.00" width="44.55" height="15.67" fill="#F69E1E"/>
<rect x="1627.75" y="1633.00" width="44.55" height="15.67" fill="#AA2D5F"/>
<rect x="1671.70" y="1633.00" width="44.55" height="15.67" fill="#4F236E"/>
<rect x="1715.65" y="1633.00" width="44.55" height="15.67" fill="#4F236E"/>
<rect x="1759.60" y="1633.00" width="44.55" height="15.67" fill="#7B2471"/>
<rect x="1803.55" y="1633.00" width="43.95" height="15.67" fill="#AA2D5F"/>
<rect x="1408.00" y="1648.07" width="44.55" height="15.67" fill="#EC6924"/>
<rect x="1451.95" y="1648.07" width="44.55" height="15.67" fill="#AA2D5F"/>
<rect x="1495.90" y="1648.07" width="44.55" height="15.67" fill="#D44545"/>
<rect x="1539.85" y="1648.07" width="44.55" height="15.67" fill="#F6CA34"/>
<rect x="1583.80" y="1648.07" width="44.55" height="15.67" fill="#F69E1E"/>
<rect x="1627.75" y="1648.07" width="44.55" height="15.67" fill="#AA2D5F"/>
<rect x="1671.70" y="1648.07" width="44.55" height="15.67" fill="#4F236E"/>
<rect x="1715.65" y="1648.07" width="44.55" height="15.67" fill="#7B2471"/>
<rect x="1759.60" y="1648.07" width="44.55" height="15.67" fill="#4F236E"/>
<rect x="1803.55" y="1648.07" width="43.95" height="15.67" fill="#AA2D5F"/>
<rect x="1408.00" y="1663.15" width="44.55" height="15.67" fill="#EC6924"/>
<rect x="1451.95" y="1663.15" width="44.55" height="15.67" fill="#D44545"/>
<rect x="1495.90" y="1663.15" width="44.55" height="15.67" fill="#F69E1E"/>
<rect x="1539.85" y="1663.15" width="44.55" height="15.67" fill="#F69E1E"/>
<rect x="1583.80" y="1663.15" width="44.55" height="15.67" fill="#EC6924"/>
<rect x="1627.75" y="1663.15" width="44.55" height="15.67" fill="#7B2471"/>
<rect x="1671.70" y="1663.15" width="44.55" height="15.67" fill="#7B2471"/>
<rect x="1715.65" y="1663.15" width="44.55" height="15.67" fill="#1F1045"/>
<rect x="1759.60" y="1663.15" width="44.55" height="15.67" fill="#4F236E"/>
<rect x="1803.55" y="1663.15" width="43.95" height="15.67" fill="#EC6924"/>
<rect x="1408.00" y="1678.22" width="44.55" height="15.67" fill="#EC6924"/>
<rect x="1451.95" y="1678.22" width="44.55" height="15.67" fill="#D44545"/>
<rect x="1495.90" y="1678.22" width="44.55" height="15.67" fill="#D44545"/>
<rect x="1539.85" y="1678.22" width="44.55" height="15.67" fill="#F69E1E"/>
<rect x="1583.80" y="1678.22" width="44.55" height="15.67" fill="#F69E1E"/>
<rect x="1627.75" y="1678.22" width="44.55" height="15.67" fill="#AA2D5F"/>
<rect x="1671.70" y="1678.22" width="44.55" height="15.67" fill="#4F236E"/>
<rect x="1715.65" y="1678.22" width="44.55" height="15.67" fill="#1F1045"/>
<rect x="1759.60" y="1678.22" width="44.55" height="15.67" fill="#AA2D5F"/>
<rect x="1803.55" y="1678.22" width="43.95" height="15.67" fill="#D44545"/>
<rect x="1408.00" y="1693.29" width="44.55" height="15.67" fill="#EC6924"/>
<rect x="1451.95" y="1693.29" width="44.55" height="15.67" fill="#EC6924"/>
<rect x="1495.90" y="1693.29" width="44.55" height="15.67" fill="#F69E1E"/>
<rect x="1539.85" y="1693.29" width="44.55" height="15.67" fill="#EC6924"/>
<rect x="1583.80" y="1693.29" width="44.55" height="15.67" fill="#F69E1E"/>
<rect x="1627.75" y="1693.29" width="44.55" height="15.67" fill="#7B2471"/>
<rect x="1671.70" y="1693.29" width="44.55" height="15.67" fill="#4F236E"/>
<rect x="1715.65" y="1693.29" width="44.55" height="15.67" fill="#4F236E"/>
<rect x="1759.60" y="1693.29" width="44.55" height="15.67" fill="#4F236E"/>
<rect x="1803.55" y="1693.29" width="43.95" height="15.67" fill="#AA2D5F"/>
<rect x="1408.00" y="1708.36" width="44.55" height="15.67" fill="#EC6924"/>
<rect x="1451.95" y="1708.36" width="44.55" height="15.67" fill="#EC6924"/>
<rect x="1495.90" y="1708.36" width="44.55" height="15.67" fill="#F69E1E"/>
<rect x="1539.85" y="1708.36" width="44.55" height="15.67" fill="#F69E1E"/>
<rect x="1583.80" y="1708.36" width="44.55" height="15.67" fill="#EC6924"/>
<rect x="1627.75" y="1708.36" width="44.55" height="15.67" fill="#4F236E"/>
<rect x="1671.70" y="1708.36" width="44.55" height="15.67" fill="#7B2471"/>
<rect x="1715.65" y="1708.36" width="44.55" height="15.67" fill="#7B2471"/>
<rect x="1759.60" y="1708.36" width="44.55" height="15.67" fill="#4F236E"/>
<rect x="1803.55" y="1708.36" width="43.95" height="15.67" fill="#4F236E"/>
<rect x="1408.00" y="1723.44" width="44.55" height="15.67" fill="#D44545"/>
<rect x="1451.95" y="1723.44" width="44.55" height="15.67" fill="#D44545"/>
<rect x="1495.90" y="1723.44" width="44.55" height="15.67" fill="#F7EE98"/>
<rect x="1539.85" y="1723.44" width="44.55" height="15.67" fill="#EC6924"/>
<rect x="1583.80" y="1723.44" width="44.55" height="15.67" fill="#D44545"/>
<rect x="1627.75" y="1723.44" width="44.55" height="15.67" fill="#AA2D5F"/>
<rect x="1671.70" y="1723.44" width="44.55" height="15.67" fill="#7B2471"/>
<rect x="1715.65" y="1723.44" width="44.55" height="15.67" fill="#4F236E"/>
<rect x="1759.60" y="1723.44" width="44.55" height="15.67" fill="#7B2471"/>
<rect x="1803.55" y="1723.44" width="43.95" height="15.67" fill="#7B2471"/>
<rect x="1408.00" y="1738.51" width="44.55" height="15.67" fill="#AA2D5F"/>
<rect x="1451.95" y="1738.51" width="44.55" height="15.67" fill="#D44545"/>
<rect x="1495.90" y="1738.51" width="44.55" height="15.67" fill="#F69E1E"/>
<rect x="1539.85" y="1738.51" width="44.55" height="15.67" fill="#EC6924"/>
<rect x="1583.80" y="1738.51" width="44.55" height="15.67" fill="#F6CA34"/>
<rect x="1627.75" y="1738.51" width="44.55" height="15.67" fill="#AA2D5F"/>
<rect x="1671.70" y="1738.51" width="44.55" height="15.67" fill="#7B2471"/>
<rect x="1715.65" y="1738.51" width="44.55" height="15.67" fill="#4F236E"/>
<rect x="1759.60" y="1738.51" width="44.55" height="15.67" fill="#7B2471"/>
<rect x="1803.55" y="1738.51" width="43.95" height="15.67" fill="#7B2471"/>
<rect x="1408.00" y="1753.58" width="44.55" height="15.67" fill="#7B2471"/>
<rect x="1451.95" y="1753.58" width="44.55" height="15.67" fill="#D44545"/>
<rect x="1495.90" y="1753.58" width="44.55" height="15.67" fill="#F6CA34"/>
<rect x="1539.85" y="1753.58" width="44.55" height="15.67" fill="#EC6924"/>
<rect x="1583.80" y="1753.58" width="44.55" height="15.67" fill="#EC6924"/>
<rect x="1627.75" y="1753.58" width="44.55" height="15.67" fill="#7B2471"/>
<rect x="1671.70" y="1753.58" width="44.55" height="15.67" fill="#AA2D5F"/>
<rect x="1715.65" y="1753.58" width="44.55" height="15.67" fill="#4F236E"/>
<rect x="1759.60" y="1753.58" width="44.55" height="15.67" fill="#7B2471"/>
<rect x="1803.55" y="1753.58" width="43.95" height="15.67" fill="#7B2471"/>
<rect x="1408.00" y="1768.65" width="44.55" height="15.67" fill="#7B2471"/>
<rect x="1451.95" y="1768.65" width="44.55" height="15.67" fill="#7B2471"/>
<rect x="1495.90" y="1768.65" width="44.55" height="15.67" fill="#7B2471"/>
<rect x="1539.85" y="1768.65" width="44.55" height="15.67" fill="#7B2471"/>
<rect x="1583.80" y="1768.65" width="44.55" height="15.67" fill="#7B2471"/>
<rect x="1627.75" y="1768.65" width="44.55" height="15.67" fill="#D44545"/>
<rect x="1671.70" y="1768.65" width="44.55" height="15.67" fill="#EC6924"/>
<rect x="1715.65" y="1768.65" width="44.55" height="15.67" fill="#D44545"/>
<rect x="1759.60" y="1768.65" width="44.55" height="15.67" fill="#F69E1E"/>
<rect x="1803.55" y="1768.65" width="43.95" height="15.67" fill="#F6CA34"/>
<rect x="1408.00" y="1783.73" width="44.55" height="15.67" fill="#4F236E"/>
<rect x="1451.95" y="1783.73" width="44.55" height="15.67" fill="#4F236E"/>
<rect x="1495.90" y="1783.73" width="44.55" height="15.67" fill="#7B2471"/>
<rect x="1539.85" y="1783.73" width="44.55" height="15.67" fill="#AA2D5F"/>
<rect x="1583.80" y="1783.73" width="44.55" height="15.67" fill="#7B2471"/>
<rect x="1627.75" y="1783.73" width="44.55" height="15.67" fill="#EC6924"/>
<rect x="1671.70" y="1783.73" width="44.55" height="15.67" fill="#D44545"/>
<rect x="1715.65" y="1783.73" width="44.55" height="15.67" fill="#D44545"/>
<rect x="1759.60" y="1783.73" width="44.55" height="15.67" fill="#F69E1E"/>
<rect x="1803.55" y="1783.73" width="43.95" height="15.67" fill="#F6CA34"/>
<rect x="1408.00" y="1798.80" width="44.55" height="15.67" fill="#AA2D5F"/>
<rect x="1451.95" y="1798.80" width="44.55" height="15.67" fill="#4F236E"/>
<rect x="1495.90" y="1798.80" width="44.55" height="15.67" fill="#7B2471"/>
<rect x="1539.85" y="1798.80" width="44.55" height="15.67" fill="#7B2471"/>
<rect x="1583.80" y="1798.80" width="44.55" height="15.67" fill="#7B2471"/>
<rect x="1627.75" y="1798.80" width="44.55" height="15.67" fill="#EC6924"/>
<rect x="1671.70" y="1798.80" width="44.55" height="15.67" fill="#EC6924"/>
<rect x="1715.65" y="1798.80" width="44.55" height="15.67" fill="#D44545"/>
<rect x="1759.60" y="1798.80" width="44.55" height="15.67" fill="#F69E1E"/>
<rect x="1803.55" y="1798.80" width="43.95" height="15.67" fill="#F69E1E"/>
<rect x="1408.00" y="1813.87" width="44.55" height="15.67" fill="#4F236E"/>
<rect x="1451.95" y="1813.87" width="44.55" height="15.67" fill="#4F236E"/>
<rect x="1495.90" y="1813.87" width="44.55" height="15.67" fill="#7B2471"/>
<rect x="1539.85" y="1813.87" width="44.55" height="15.67" fill="#7B2471"/>
<rect x="1583.80" y="1813.87" width="44.55" height="15.67" fill="#7B2471"/>
<rect x="1627.75" y="1813.87" width="44.55" height="15.67" fill="#EC6924"/>
<rect x="1671.70" y="1813.87" width="44.55" height="15.67" fill="#EC6924"/>
<rect x="1715.65" y="1813.87" width="44.55" height="15.67" fill="#D44545"/>
<rect x="1759.60" y="1813.87" width="44.55" height="15.67" fill="#F69E1E"/>
<rect x="1803.55" y="1813.87" width="43.95" height="15.67" fill="#F69E1E"/>
<rect x="1408.00" y="1828.94" width="44.55" height="15.67" fill="#4F236E"/>
<rect x="1451.95" y="1828.94" width="44.55" height="15.67" fill="#7B2471"/>
<rect x="1495.90" y="1828.94" width="44.55" height="15.67" fill="#4F236E"/>
<rect x="1539.85" y="1828.94" width="44.55" height="15.67" fill="#7B2471"/>
<rect x="1583.80" y="1828.94" width="44.55" height="15.67" fill="#7B2471"/>
<rect x="1627.75" y="1828.94" width="44.55" height="15.67" fill="#D44545"/>
<rect x="1671.70" y="1828.94" width="44.55" height="15.67" fill="#F69E1E"/>
<rect x="1715.65" y="1828.94" width="44.55" height="15.67" fill="#D44545"/>
<rect x="1759.60" y="1828.94" width="44.55" height="15.67" fill="#F69E1E"/>
<rect x="1803.55" y="1828.94" width="43.95" height="15.67" fill="#F69E1E"/>
<rect x="1408.00" y="1844.02" width="44.55" height="15.67" fill="#4F236E"/>
<rect x="1451.95" y="1844.02" width="44.55" height="15.67" fill="#4F236E"/>
<rect x="1495.90" y="1844.02" width="44.55" height="15.67" fill="#4F236E"/>
<rect x="1539.85" y="1844.02" width="44.55" height="15.67" fill="#7B2471"/>
<rect x="1583.80" y="1844.02" width="44.55" height="15.67" fill="#AA2D5F"/>
<rect x="1627.75" y="1844.02" width="44.55" height="15.67" fill="#D44545"/>
<rect x="1671.70" y="1844.02" width="44.55" height="15.67" fill="#EC6924"/>
<rect x="1715.65" y="1844.02" width="44.55" height="15.67" fill="#EC6924"/>
<rect x="1759.60" y="1844.02" width="44.55" height="15.67" fill="#F6CA34"/>
<rect x="1803.55" y="1844.02" width="43.95" height="15.67" fill="#F69E1E"/>
<rect x="1408.00" y="1859.09" width="44.55" height="15.67" fill="#4F236E"/>
<rect x="1451.95" y="1859.09" width="44.55" height="15.67" fill="#4F236E"/>
<rect x="1495.90" y="1859.09" width="44.55" height="15.67" fill="#7B2471"/>
<rect x="1539.85" y="1859.09" width="44.55" height="15.67" fill="#7B2471"/>
<rect x="1583.80" y="1859.09" width="44.55" height="15.67" fill="#7B2471"/>
<rect x="1627.75" y="1859.09" width="44.55" height="15.67" fill="#D44545"/>
<rect x="1671.70" y="1859.09" width="44.55" height="15.67" fill="#EC6924"/>
<rect x="1715.65" y="1859.09" width="44.55" height="15.67" fill="#EC6924"/>
<rect x="1759.60" y="1859.09" width="44.55" height="15.67" fill="#F6CA34"/>
<rect x="1803.55" y="1859.09" width="43.95" height="15.67" fill="#F69E1E"/>
<rect x="1408.00" y="1874.16" width="44.55" height="15.67" fill="#4F236E"/>
<rect x="1451.95" y="1874.16" width="44.55" height="15.67" fill="#4F236E"/>
<rect x="1495.90" y="1874.16" width="44.55" height="15.67" fill="#7B2471"/>
<rect x="1539.85" y="1874.16" width="44.55" height="15.67" fill="#AA2D5F"/>
<rect x="1583.80" y="1874.16" width="44.55" height="15.67" fill="#AA2D5F"/>
<rect x="1627.75" y="1874.16" width="44.55" height="15.67" fill="#EC6924"/>
<rect x="1671.70" y="1874.16" width="44.55" height="15.67" fill="#EC6924"/>
<rect x="1715.65" y="1874.16" width="44.55" height="15.67" fill="#D44545"/>
<rect x="1759.60" y="1874.16" width="44.55" height="15.67" fill="#F6CA34"/>
<rect x="1803.55" y="1874.16" width="43.95" height="15.67" fill="#F69E1E"/>
<rect x="1408.00" y="1889.23" width="44.55" height="15.67" fill="#4F236E"/>
<rect x="1451.95" y="1889.23" width="44.55" height="15.67" fill="#4F236E"/>
<rect x="1495.90" y="1889.23" width="44.55" height="15.67" fill="#7B2471"/>
<rect x="1539.85" y="1889.23" width="44.55" height="15.67" fill="#AA2D5F"/>
<rect x="1583.80" y="1889.23" width="44.55" height="15.67" fill="#7B2471"/>
<rect x="1627.75" y="1889.23" width="44.55" height="15.67" fill="#EC6924"/>
<rect x="1671.70" y="1889.23" width="44.55" height="15.67" fill="#EC6924"/>
<rect x="1715.65" y="1889.23" width="44.55" height="15.67" fill="#D44545"/>
<rect x="1759.60" y="1889.23" width="44.55" height="15.67" fill="#F69E1E"/>
<rect x="1803.55" y="1889.23" width="43.95" height="15.67" fill="#F69E1E"/>
<rect x="1408.00" y="1904.31" width="44.55" height="15.67" fill="#7B2471"/>
<rect x="1451.95" y="1904.31" width="44.55" height="15.67" fill="#7B2471"/>
<rect x="1495.90" y="1904.31" width="44.55" height="15.67" fill="#4F236E"/>
<rect x="1539.85" y="1904.31" width="44.55" height="15.67" fill="#7B2471"/>
<rect x="1583.80" y="1904.31" width="44.55" height="15.67" fill="#4F236E"/>
<rect x="1627.75" y="1904.31" width="44.55" height="15.67" fill="#F69E1E"/>
<rect x="1671.70" y="1904.31" width="44.55" height="15.67" fill="#EC6924"/>
<rect x="1715.65" y="1904.31" width="44.55" height="15.67" fill="#EC6924"/>
<rect x="1759.60" y="1904.31" width="44.55" height="15.67" fill="#F6CA34"/>
<rect x="1803.55" y="1904.31" width="43.95" height="15.67" fill="#EC6924"/>
<rect x="1408.00" y="1919.38" width="44.55" height="15.67" fill="#4F236E"/>
<rect x="1451.95" y="1919.38" width="44.55" height="15.67" fill="#7B2471"/>
<rect x="1495.90" y="1919.38" width="44.55" height="15.67" fill="#7B2471"/>
<rect x="1539.85" y="1919.38" width="44.55" height="15.67" fill="#7B2471"/>
<rect x="1583.80" y="1919.38" width="44.55" height="15.67" fill="#7B2471"/>
<rect x="1627.75" y="1919.38" width="44.55" height="15.67" fill="#EC6924"/>
<rect x="1671.70" y="1919.38" width="44.55" height="15.67" fill="#EC6924"/>
<rect x="1715.65" y="1919.38" width="44.55" height="15.67" fill="#D44545"/>
<rect x="1759.60" y="1919.38" width="44.55" height="15.67" fill="#F6CA34"/>
<rect x="1803.55" y="1919.38" width="43.95" height="15.67" fill="#EC6924"/>
<rect x="1408.00" y="1934.45" width="44.55" height="15.67" fill="#4F236E"/>
<rect x="1451.95" y="1934.45" width="44.55" height="15.67" fill="#7B2471"/>
<rect x="1495.90" y="1934.45" width="44.55" height="15.67" fill="#4F236E"/>
<rect x="1539.85" y="1934.45" width="44.55" height="15.67" fill="#7B2471"/>
<rect x="1583.80" y="1934.45" width="44.55" height="15.67" fill="#7B2471"/>
<rect x="1627.75" y="1934.45" width="44.55" height="15.67" fill="#EC6924"/>
<rect x="1671.70" y="1934.45" width="44.55" height="15.67" fill="#D44545"/>
<rect x="1715.65" y="1934.45" width="44.55" height="15.67" fill="#EC6924"/>
<rect x="1759.60" y="1934.45" width="44.55" height="15.67" fill="#F6CA34"/>
<rect x="1803.55" y="1934.45" width="43.95" height="15.67" fill="#EC6924"/>
<rect x="1408.00" y="1949.52" width="44.55" height="15.67" fill="#7B2471"/>
<rect x="1451.95" y="1949.52" width="44.55" height="15.67" fill="#4F236E"/>
<rect x="1495.90" y="1949.52" width="44.55" height="15.67" fill="#7B2471"/>
<rect x="1539.85" y="1949.52" width="44.55" height="15.67" fill="#4F236E"/>
<rect x="1583.80" y="1949.52" width="44.55" height="15.67" fill="#7B2471"/>
<rect x="1627.75" y="1949.52" width="44.55" height="15.67" fill="#F69E1E"/>
<rect x="1671.70" y="1949.52" width="44.55" height="15.67" fill="#EC6924"/>
<rect x="1715.65" y="1949.52" width="44.55" height="15.67" fill="#D44545"/>
<rect x="1759.60" y="1949.52" width="44.55" height="15.67" fill="#EC6924"/>
<rect x="1803.55" y="1949.52" width="43.95" height="15.67" fill="#F69E1E"/>
<rect x="1408.00" y="1964.60" width="44.55" height="15.67" fill="#7B2471"/>
<rect x="1451.95" y="1964.60" width="44.55" height="15.67" fill="#4F236E"/>
<rect x="1495.90" y="1964.60" width="44.55" height="15.67" fill="#7B2471"/>
<rect x="1539.85" y="1964.60" width="44.55" height="15.67" fill="#7B2471"/>
<rect x="1583.80" y="1964.60" width="44.55" height="15.67" fill="#7B2471"/>
<rect x="1627.75" y="1964.60" width="44.55" height="15.67" fill="#EC6924"/>
<rect x="1671.70" y="1964.60" width="44.55" height="15.67" fill="#D44545"/>
<rect x="1715.65" y="1964.60" width="44.55" height="15.67" fill="#F69E1E"/>
<rect x="1759.60" y="1964.60" width="44.55" height="15.67" fill="#F69E1E"/>
<rect x="1803.55" y="1964.60" width="43.95" height="15.67" fill="#F69E1E"/>
<rect x="1408.00" y="1979.67" width="44.55" height="15.67" fill="#7B2471"/>
<rect x="1451.95" y="1979.67" width="44.55" height="15.67" fill="#4F236E"/>
<rect x="1495.90" y="1979.67" width="44.55" height="15.67" fill="#7B2471"/>
<rect x="1539.85" y="1979.67" width="44.55" height="15.67" fill="#7B2471"/>
<rect x="1583.80" y="1979.67" width="44.55" height="15.67" fill="#4F236E"/>
<rect x="1627.75" y="1979.67" width="44.55" height="15.67" fill="#EC6924"/>
<rect x="1671.70" y="1979.67" width="44.55" height="15.67" fill="#EC6924"/>
<rect x="1715.65" y="1979.67" width="44.55" height="15.67" fill="#EC6924"/>
<rect x="1759.60" y="1979.67" width="44.55" height="15.67" fill="#F69E1E"/>
<rect x="1803.55" y="1979.67" width="43.95" height="15.67" fill="#F69E1E"/>
<rect x="1408.00" y="1994.74" width="44.55" height="15.67" fill="#AA2D5F"/>
<rect x="1451.95" y="1994.74" width="44.55" height="15.67" fill="#7B2471"/>
<rect x="1495.90" y="1994.74" width="44.55" height="15.67" fill="#1F1045"/>
<rect x="1539.85" y="1994.74" width="44.55" height="15.67" fill="#AA2D5F"/>
<rect x="1583.80" y="1994.74" width="44.55" height="15.67" fill="#AA2D5F"/>
<rect x="1627.75" y="1994.74" width="44.55" height="15.67" fill="#F69E1E"/>
<rect x="1671.70" y="1994.74" width="44.55" height="15.67" fill="#7B2471"/>
<rect x="1715.65" y="1994.74" width="44.55" height="15.67" fill="#D44545"/>
<rect x="1759.60" y="1994.74" width="44.55" height="15.67" fill="#F69E1E"/>
<rect x="1803.55" y="1994.74" width="43.95" height="15.67" fill="#F69E1E"/>
<rect x="1408.00" y="2009.81" width="44.55" height="15.67" fill="#AA2D5F"/>
<rect x="1451.95" y="2009.81" width="44.55" height="15.67" fill="#AA2D5F"/>
<rect x="1495.90" y="2009.81" width="44.55" height="15.67" fill="#1F1045"/>
<rect x="1539.85" y="2009.81" width="44.55" height="15.67" fill="#4F236E"/>
<rect x="1583.80" y="2009.81" width="44.55" height="15.67" fill="#AA2D5F"/>
<rect x="1627.75" y="2009.81" width="44.55" height="15.67" fill="#F69E1E"/>
<rect x="1671.70" y="2009.81" width="44.55" height="15.67" fill="#EC6924"/>
<rect x="1715.65" y="2009.81" width="44.55" height="15.67" fill="#D44545"/>
<rect x="1759.60" y="2009.81" width="44.55" height="15.67" fill="#EC6924"/>
<rect x="1803.55" y="2009.81" width="43.95" height="15.67" fill="#D44545"/>
<rect x="1408.00" y="2024.89" width="44.55" height="15.67" fill="#7B2471"/>
<rect x="1451.95" y="2024.89" width="44.55" height="15.67" fill="#AA2D5F"/>
<rect x="1495.90" y="2024.89" width="44.55" height="15.67" fill="#AA2D5F"/>
<rect x="1539.85" y="2024.89" width="44.55" height="15.67" fill="#7B2471"/>
<rect x="1583.80" y="2024.89" width="44.55" height="15.67" fill="#AA2D5F"/>
<rect x="1627.75" y="2024.89" width="44.55" height="15.67" fill="#F6CA34"/>
<rect x="1671.70" y="2024.89" width="44.55" height="15.67" fill="#D44545"/>
<rect x="1715.65" y="2024.89" width="44.55" height="15.67" fill="#D44545"/>
<rect x="1759.60" y="2024.89" width="44.55" height="15.67" fill="#F69E1E"/>
<rect x="1803.55" y="2024.89" width="43.95" height="15.67" fill="#7B2471"/>
<rect x="1408.00" y="2039.96" width="44.55" height="15.67" fill="#4F236E"/>
<rect x="1451.95" y="2039.96" width="44.55" height="15.67" fill="#1F1045"/>
<rect x="1495.90" y="2039.96" width="44.55" height="15.67" fill="#D44545"/>
<rect x="1539.85" y="2039.96" width="44.55" height="15.67" fill="#AA2D5F"/>
<rect x="1583.80" y="2039.96" width="44.55" height="15.67" fill="#7B2471"/>
<rect x="1627.75" y="2039.96" width="44.55" height="15.67" fill="#D44545"/>
<rect x="1671.70" y="2039.96" width="44.55" height="15.67" fill="#F69E1E"/>
<rect x="1715.65" y="2039.96" width="44.55" height="15.67" fill="#D44545"/>
<rect x="1759.60" y="2039.96" width="44.55" height="15.67" fill="#F69E1E"/>
<rect x="1803.55" y="2039.96" width="43.95" height="15.67" fill="#EC6924"/>
<rect x="1408.00" y="2055.03" width="44.55" height="15.67" fill="#7B2471"/>
<rect x="1451.95" y="2055.03" width="44.55" height="15.67" fill="#4F236E"/>
<rect x="1495.90" y="2055.03" width="44.55" height="15.67" fill="#AA2D5F"/>
<rect x="1539.85" y="2055.03" width="44.55" height="15.67" fill="#7B2471"/>
<rect x="1583.80" y="2055.03" width="44.55" height="15.67" fill="#4F236E"/>
<rect x="1627.75" y="2055.03" width="44.55" height="15.67" fill="#EC6924"/>
<rect x="1671.70" y="2055.03" width="44.55" height="15.67" fill="#EC6924"/>
<rect x="1715.65" y="2055.03" width="44.55" height="15.67" fill="#F69E1E"/>
<rect x="1759.60" y="2055.03" width="44.55" height="15.67" fill="#F69E1E"/>
<rect x="1803.55" y="2055.03" width="43.95" height="15.67" fill="#D44545"/>
<rect x="1408.00" y="2070.10" width="44.55" height="15.67" fill="#AA2D5F"/>
<rect x="1451.95" y="2070.10" width="44.55" height="15.67" fill="#4F236E"/>
<rect x="1495.90" y="2070.10" width="44.55" height="15.67" fill="#EC6924"/>
<rect x="1539.85" y="2070.10" width="44.55" height="15.67" fill="#4F236E"/>
<rect x="1583.80" y="2070.10" width="44.55" height="15.67" fill="#4F236E"/>
<rect x="1627.75" y="2070.10" width="44.55" height="15.67" fill="#D44545"/>
<rect x="1671.70" y="2070.10" width="44.55" height="15.67" fill="#EC6924"/>
<rect x="1715.65" y="2070.10" width="44.55" height="15.67" fill="#EC6924"/>
<rect x="1759.60" y="2070.10" width="44.55" height="15.67" fill="#F6CA34"/>
<rect x="1803.55" y="2070.10" width="43.95" height="15.67" fill="#D44545"/>
<rect x="1408.00" y="2085.18" width="44.55" height="15.67" fill="#4F236E"/>
<rect x="1451.95" y="2085.18" width="44.55" height="15.67" fill="#4F236E"/>
<rect x="1495.90" y="2085.18" width="44.55" height="15.67" fill="#7B2471"/>
<rect x="1539.85" y="2085.18" width="44.55" height="15.67" fill="#D44545"/>
<rect x="1583.80" y="2085.18" width="44.55" height="15.67" fill="#4F236E"/>
<rect x="1627.75" y="2085.18" width="44.55" height="15.67" fill="#D44545"/>
<rect x="1671.70" y="2085.18" width="44.55" height="15.67" fill="#EC6924"/>
<rect x="1715.65" y="2085.18" width="44.55" height="15.67" fill="#F69E1E"/>
<rect x="1759.60" y="2085.18" width="44.55" height="15.67" fill="#F69E1E"/>
<rect x="1803.55" y="2085.18" width="43.95" height="15.67" fill="#AA2D5F"/>
<rect x="1408.00" y="2100.25" width="44.55" height="15.67" fill="#7B2471"/>
<rect x="1451.95" y="2100.25" width="44.55" height="15.67" fill="#7B2471"/>
<rect x="1495.90" y="2100.25" width="44.55" height="15.67" fill="#AA2D5F"/>
<rect x="1539.85" y="2100.25" width="44.55" height="15.67" fill="#4F236E"/>
<rect x="1583.80" y="2100.25" width="44.55" height="15.67" fill="#4F236E"/>
<rect x="1627.75" y="2100.25" width="44.55" height="15.67" fill="#EC6924"/>
<rect x="1671.70" y="2100.25" width="44.55" height="15.67" fill="#EC6924"/>
<rect x="1715.65" y="2100.25" width="44.55" height="15.67" fill="#EC6924"/>
<rect x="1759.60" y="2100.25" width="44.55" height="15.67" fill="#F6CA34"/>
<rect x="1803.55" y="2100.25" width="43.95" height="15.67" fill="#AA2D5F"/>
<rect x="1408.00" y="2115.32" width="44.55" height="15.67" fill="#7B2471"/>
<rect x="1451.95" y="2115.32" width="44.55" height="15.67" fill="#AA2D5F"/>
<rect x="1495.90" y="2115.32" width="44.55" height="15.67" fill="#7B2471"/>
<rect x="1539.85" y="2115.32" width="44.55" height="15.67" fill="#7B2471"/>
<rect x="1583.80" y="2115.32" width="44.55" height="15.67" fill="#7B2471"/>
<rect x="1627.75" y="2115.32" width="44.55" height="15.67" fill="#EC6924"/>
<rect x="1671.70" y="2115.32" width="44.55" height="15.67" fill="#EC6924"/>
<rect x="1715.65" y="2115.32" width="44.55" height="15.67" fill="#D44545"/>
<rect x="1759.60" y="2115.32" width="44.55" height="15.67" fill="#F6CA34"/>
<rect x="1803.55" y="2115.32" width="43.95" height="15.67" fill="#AA2D5F"/>
<rect x="1408.00" y="2130.40" width="44.55" height="15.67" fill="#7B2471"/>
<rect x="1451.95" y="2130.40" width="44.55" height="15.67" fill="#7B2471"/>
<rect x="1495.90" y="2130.40" width="44.55" height="15.67" fill="#7B2471"/>
<rect x="1539.85" y="2130.40" width="44.55" height="15.67" fill="#7B2471"/>
<rect x="1583.80" y="2130.40" width="44.55" height="15.67" fill="#4F236E"/>
<rect x="1627.75" y="2130.40" width="44.55" height="15.67" fill="#EC6924"/>
<rect x="1671.70" y="2130.40" width="44.55" height="15.67" fill="#F69E1E"/>
<rect x="1715.65" y="2130.40" width="44.55" height="15.67" fill="#D44545"/>
<rect x="1759.60" y="2130.40" width="44.55" height="15.67" fill="#F6CA34"/>
<rect x="1803.55" y="2130.40" width="43.95" height="15.67" fill="#EC6924"/>
<rect x="1408.00" y="2145.47" width="44.55" height="15.67" fill="#7B2471"/>
<rect x="1451.95" y="2145.47" width="44.55" height="15.67" fill="#7B2471"/>
<rect x="1495.90" y="2145.47" width="44.55" height="15.67" fill="#7B2471"/>
<rect x="1539.85" y="2145.47" width="44.55" height="15.67" fill="#7B2471"/>
<rect x="1583.80" y="2145.47" width="44.55" height="15.67" fill="#4F236E"/>
<rect x="1627.75" y="2145.47" width="44.55" height="15.67" fill="#EC6924"/>
<rect x="1671.70" y="2145.47" width="44.55" height="15.67" fill="#F69E1E"/>
<rect x="1715.65" y="2145.47" width="44.55" height="15.67" fill="#D44545"/>
<rect x="1759.60" y="2145.47" width="44.55" height="15.67" fill="#F69E1E"/>
<rect x="1803.55" y="2145.47" width="43.95" height="15.67" fill="#EC6924"/>
<rect x="1408.00" y="2160.54" width="44.55" height="15.67" fill="#7B2471"/>
<rect x="1451.95" y="2160.54" width="44.55" height="15.67" fill="#7B2471"/>
<rect x="1495.90" y="2160.54" width="44.55" height="15.67" fill="#7B2471"/>
<rect x="1539.85" y="2160.54" width="44.55" height="15.67" fill="#7B2471"/>
<rect x="1583.80" y="2160.54" width="44.55" height="15.67" fill="#7B2471"/>
<rect x="1627.75" y="2160.54" width="44.55" height="15.67" fill="#EC6924"/>
<rect x="1671.70" y="2160.54" width="44.55" height="15.67" fill="#F69E1E"/>
<rect x="1715.65" y="2160.54" width="44.55" height="15.67" fill="#AA2D5F"/>
<rect x="1759.60" y="2160.54" width="44.55" height="15.67" fill="#F6CA34"/>
<rect x="1803.55" y="2160.54" width="43.95" height="15.67" fill="#D44545"/>
<rect x="1408.00" y="2175.61" width="44.55" height="15.67" fill="#7B2471"/>
<rect x="1451.95" y="2175.61" width="44.55" height="15.67" fill="#7B2471"/>
<rect x="1495.90" y="2175.61" width="44.55" height="15.67" fill="#7B2471"/>
<rect x="1539.85" y="2175.61" width="44.55" height="15.67" fill="#7B2471"/>
<rect x="1583.80" y="2175.61" width="44.55" height="15.67" fill="#4F236E"/>
<rect x="1627.75" y="2175.61" width="44.55" height="15.67" fill="#F69E1E"/>
<rect x="1671.70" y="2175.61" width="44.55" height="15.67" fill="#F69E1E"/>
<rect x="1715.65" y="2175.61" width="44.55" height="15.67" fill="#D44545"/>
<rect x="1759.60" y="2175.61" width="44.55" height="15.67" fill="#F6CA34"/>
<rect x="1803.55" y="2175.61" width="43.95" height="15.67" fill="#D44545"/>
<rect x="1408.00" y="2190.69" width="44.55" height="15.67" fill="#7B2471"/>
<rect x="1451.95" y="2190.69" width="44.55" height="15.67" fill="#7B2471"/>
<rect x="1495.90" y="2190.69" width="44.55" height="15.67" fill="#7B2471"/>
<rect x="1539.85" y="2190.69" width="44.55" height="15.67" fill="#7B2471"/>
<rect x="1583.80" y="2190.69" width="44.55" height="15.67" fill="#7B2471"/>
<rect x="1627.75" y="2190.69" width="44.55" height="15.67" fill="#EC6924"/>
<rect x="1671.70" y="2190.69" width="44.55" height="15.67" fill="#F69E1E"/>
<rect x="1715.65" y="2190.69" width="44.55" height="15.67" fill="#EC6924"/>
<rect x="1759.60" y="2190.69" width="44.55" height="15.67" fill="#F69E1E"/>
<rect x="1803.55" y="2190.69" width="43.95" height="15.67" fill="#EC6924"/>
<rect x="1408.00" y="2205.76" width="44.55" height="15.67" fill="#7B2471"/>
<rect x="1451.95" y="2205.76" width="44.55" height="15.67" fill="#7B2471"/>
<rect x="1495.90" y="2205.76" width="44.55" height="15.67" fill="#4F236E"/>
<rect x="1539.85" y="2205.76" width="44.55" height="15.67" fill="#7B2471"/>
<rect x="1583.80" y="2205.76" width="44.55" height="15.67" fill="#7B2471"/>
<rect x="1627.75" y="2205.76" width="44.55" height="15.67" fill="#F69E1E"/>
<rect x="1671.70" y="2205.76" width="44.55" height="15.67" fill="#F69E1E"/>
<rect x="1715.65" y="2205.76" width="44.55" height="15.67" fill="#D44545"/>
<rect x="1759.60" y="2205.76" width="44.55" height="15.67" fill="#F69E1E"/>
<rect x="1803.55" y="2205.76" width="43.95" height="15.67" fill="#EC6924"/>
<rect x="1408.00" y="2220.83" width="44.55" height="15.67" fill="#7B2471"/>
<rect x="1451.95" y="2220.83" width="44.55" height="15.67" fill="#7B2471"/>
<rect x="1495.90" y="2220.83" width="44.55" height="15.67" fill="#4F236E"/>
<rect x="1539.85" y="2220.83" width="44.55" height="15.67" fill="#7B2471"/>
<rect x="1583.80" y="2220.83" width="44.55" height="15.67" fill="#7B2471"/>
<rect x="1627.75" y="2220.83" width="44.55" height="15.67" fill="#F69E1E"/>
<rect x="1671.70" y="2220.83" width="44.55" height="15.67" fill="#F69E1E"/>
<rect x="1715.65" y="2220.83" width="44.55" height="15.67" fill="#AA2D5F"/>
<rect x="1759.60" y="2220.83" width="44.55" height="15.67" fill="#F6CA34"/>
<rect x="1803.55" y="2220.83" width="43.95" height="15.67" fill="#D44545"/>
<rect x="1408.00" y="2235.90" width="44.55" height="15.67" fill="#4F236E"/>
<rect x="1451.95" y="2235.90" width="44.55" height="15.67" fill="#7B2471"/>
<rect x="1495.90" y="2235.90" width="44.55" height="15.67" fill="#7B2471"/>
<rect x="1539.85" y="2235.90" width="44.55" height="15.67" fill="#7B2471"/>
<rect x="1583.80" y="2235.90" width="44.55" height="15.67" fill="#7B2471"/>
<rect x="1627.75" y="2235.90" width="44.55" height="15.67" fill="#F6CA34"/>
<rect x="1671.70" y="2235.90" width="44.55" height="15.67" fill="#EC6924"/>
<rect x="1715.65" y="2235.90" width="44.55" height="15.67" fill="#D44545"/>
<rect x="1759.60" y="2235.90" width="44.55" height="15.67" fill="#F69E1E"/>
<rect x="1803.55" y="2235.90" width="43.95" height="15.67" fill="#D44545"/>
<rect x="1408.00" y="2250.98" width="44.55" height="15.67" fill="#7B2471"/>
<rect x="1451.95" y="2250.98" width="44.55" height="15.67" fill="#7B2471"/>
<rect x="1495.90" y="2250.98" width="44.55" height="15.67" fill="#7B2471"/>
<rect x="1539.85" y="2250.98" width="44.55" height="15.67" fill="#7B2471"/>
<rect x="1583.80" y="2250.98" width="44.55" height="15.67" fill="#4F236E"/>
<rect x="1627.75" y="2250.98" width="44.55" height="15.67" fill="#F69E1E"/>
<rect x="1671.70" y="2250.98" width="44.55" height="15.67" fill="#EC6924"/>
<rect x="1715.65" y="2250.98" width="44.55" height="15.67" fill="#D44545"/>
<rect x="1759.60" y="2250.98" width="44.55" height="15.67" fill="#F6CA34"/>
<rect x="1803.55" y="2250.98" width="43.95" height="15.67" fill="#D44545"/>
<rect x="1408.00" y="2266.05" width="44.55" height="15.67" fill="#7B2471"/>
<rect x="1451.95" y="2266.05" width="44.55" height="15.67" fill="#7B2471"/>
<rect x="1495.90" y="2266.05" width="44.55" height="15.67" fill="#7B2471"/>
<rect x="1539.85" y="2266.05" width="44.55" height="15.67" fill="#AA2D5F"/>
<rect x="1583.80" y="2266.05" width="44.55" height="15.67" fill="#AA2D5F"/>
<rect x="1627.75" y="2266.05" width="44.55" height="15.67" fill="#D44545"/>
<rect x="1671.70" y="2266.05" width="44.55" height="15.67" fill="#D44545"/>
<rect x="1715.65" y="2266.05" width="44.55" height="15.67" fill="#AA2D5F"/>
<rect x="1759.60" y="2266.05" width="44.55" height="15.67" fill="#F7EE98"/>
<rect x="1803.55" y="2266.05" width="43.95" height="15.67" fill="#AA2D5F"/>
<rect x="1408.00" y="2281.12" width="44.55" height="15.67" fill="#7B2471"/>
<rect x="1451.95" y="2281.12" width="44.55" height="15.67" fill="#4F236E"/>
<rect x="1495.90" y="2281.12" width="44.55" height="15.67" fill="#7B2471"/>
<rect x="1539.85" y="2281.12" width="44.55" height="15.67" fill="#AA2D5F"/>
<rect x="1583.80" y="2281.12" width="44.55" height="15.67" fill="#7B2471"/>
<rect x="1627.75" y="2281.12" width="44.55" height="15.67" fill="#EC6924"/>
<rect x="1671.70" y="2281.12" width="44.55" height="15.67" fill="#F6CA34"/>
<rect x="1715.65" y="2281.12" width="44.55" height="15.67" fill="#D44545"/>
<rect x="1759.60" y="2281.12" width="44.55" height="15.67" fill="#F6CA34"/>
<rect x="1803.55" y="2281.12" width="43.95" height="15.67" fill="#AA2D5F"/>
<rect x="1408.00" y="2296.19" width="44.55" height="15.67" fill="#7B2471"/>
<rect x="1451.95" y="2296.19" width="44.55" height="15.67" fill="#4F236E"/>
<rect x="1495.90" y="2296.19" width="44.55" height="15.67" fill="#7B2471"/>
<rect x="1539.85" y="2296.19" width="44.55" height="15.67" fill="#AA2D5F"/>
<rect x="1583.80" y="2296.19" width="44.55" height="15.67" fill="#7B2471"/>
<rect x="1627.75" y="2296.19" width="44.55" height="15.67" fill="#D44545"/>
<rect x="1671.70" y="2296.19" width="44.55" height="15.67" fill="#F69E1E"/>
<rect x="1715.65" y="2296.19" width="44.55" height="15.67" fill="#D44545"/>
<rect x="1759.60" y="2296.19" width="44.55" height="15.67" fill="#F6CA34"/>
<rect x="1803.55" y="2296.19" width="43.95" height="15.67" fill="#AA2D5F"/>
<rect x="1408.00" y="2311.27" width="44.55" height="15.67" fill="#7B2471"/>
<rect x="1451.95" y="2311.27" width="44.55" height="15.67" fill="#7B2471"/>
<rect x="1495.90" y="2311.27" width="44.55" height="15.67" fill="#4F236E"/>
<rect x="1539.85" y="2311.27" width="44.55" height="15.67" fill="#7B2471"/>
<rect x="1583.80" y="2311.27" width="44.55" height="15.67" fill="#7B2471"/>
<rect x="1627.75" y="2311.27" width="44.55" height="15.67" fill="#D44545"/>
<rect x="1671.70" y="2311.27" width="44.55" height="15.67" fill="#F69E1E"/>
<rect x="1715.65" y="2311.27" width="44.55" height="15.67" fill="#D44545"/>
<rect x="1759.60" y="2311.27" width="44.55" height="15.67" fill="#F6CA34"/>
<rect x="1803.55" y="2311.27" width="43.95" height="15.67" fill="#D44545"/>
<rect x="1408.00" y="2326.34" width="44.55" height="15.67" fill="#7B2471"/>
<rect x="1451.95" y="2326.34" width="44.55" height="15.67" fill="#4F236E"/>
<rect x="1495.90" y="2326.34" width="44.55" height="15.67" fill="#7B2471"/>
<rect x="1539.85" y="2326.34" width="44.55" height="15.67" fill="#AA2D5F"/>
<rect x="1583.80" y="2326.34" width="44.55" height="15.67" fill="#7B2471"/>
<rect x="1627.75" y="2326.34" width="44.55" height="15.67" fill="#D44545"/>
<rect x="1671.70" y="2326.34" width="44.55" height="15.67" fill="#F69E1E"/>
<rect x="1715.65" y="2326.34" width="44.55" height="15.67" fill="#EC6924"/>
<rect x="1759.60" y="2326.34" width="44.55" height="15.67" fill="#F6CA34"/>
<rect x="1803.55" y="2326.34" width="43.95" height="15.67" fill="#EC6924"/>
<rect x="1408.00" y="2341.41" width="44.55" height="15.67" fill="#D44545"/>
<rect x="1451.95" y="2341.41" width="44.55" height="15.67" fill="#D44545"/>
<rect x="1495.90" y="2341.41" width="44.55" height="15.67" fill="#4F236E"/>
<rect x="1539.85" y="2341.41" width="44.55" height="15.67" fill="#4F236E"/>
<rect x="1583.80" y="2341.41" width="44.55" height="15.67" fill="#4F236E"/>
<rect x="1627.75" y="2341.41" width="44.55" height="15.67" fill="#F69E1E"/>
<rect x="1671.70" y="2341.41" width="44.55" height="15.67" fill="#D44545"/>
<rect x="1715.65" y="2341.41" width="44.55" height="15.67" fill="#F69E1E"/>
<rect x="1759.60" y="2341.41" width="44.55" height="15.67" fill="#AA2D5F"/>
<rect x="1803.55" y="2341.41" width="43.95" height="15.67" fill="#EC6924"/>
<rect x="1408.00" y="2356.48" width="44.55" height="15.67" fill="#7B2471"/>
<rect x="1451.95" y="2356.48" width="44.55" height="15.67" fill="#AA2D5F"/>
<rect x="1495.90" y="2356.48" width="44.55" height="15.67" fill="#D44545"/>
<rect x="1539.85" y="2356.48" width="44.55" height="15.67" fill="#1F1045"/>
<rect x="1583.80" y="2356.48" width="44.55" height="15.67" fill="#4F236E"/>
<rect x="1627.75" y="2356.48" width="44.55" height="15.67" fill="#D44545"/>
<rect x="1671.70" y="2356.48" width="44.55" height="15.67" fill="#D44545"/>
<rect x="1715.65" y="2356.48" width="44.55" height="15.67" fill="#EC6924"/>
<rect x="1759.60" y="2356.48" width="44.55" height="15.67" fill="#D44545"/>
<rect x="1803.55" y="2356.48" width="43.95" height="15.67" fill="#F6CA34"/>
<rect x="1408.00" y="2371.56" width="44.55" height="15.67" fill="#4F236E"/>
<rect x="1451.95" y="2371.56" width="44.55" height="15.67" fill="#4F236E"/>
<rect x="1495.90" y="2371.56" width="44.55" height="15.67" fill="#7B2471"/>
<rect x="1539.85" y="2371.56" width="44.55" height="15.67" fill="#D44545"/>
<rect x="1583.80" y="2371.56" width="44.55" height="15.67" fill="#AA2D5F"/>
<rect x="1627.75" y="2371.56" width="44.55" height="15.67" fill="#7B2471"/>
<rect x="1671.70" y="2371.56" width="44.55" height="15.67" fill="#D44545"/>
<rect x="1715.65" y="2371.56" width="44.55" height="15.67" fill="#D44545"/>
<rect x="1759.60" y="2371.56" width="44.55" height="15.67" fill="#F69E1E"/>
<rect x="1803.55" y="2371.56" width="43.95" height="15.67" fill="#F6CA34"/>
<rect x="1408.00" y="2386.63" width="44.55" height="15.67" fill="#4F236E"/>
<rect x="1451.95" y="2386.63" width="44.55" height="15.67" fill="#7B2471"/>
<rect x="1495.90" y="2386.63" width="44.55" height="15.67" fill="#7B2471"/>
<rect x="1539.85" y="2386.63" width="44.55" height="15.67" fill="#AA2D5F"/>
<rect x="1583.80" y="2386.63" width="44.55" height="15.67" fill="#7B2471"/>
<rect x="1627.75" y="2386.63" width="44.55" height="15.67" fill="#7B2471"/>
<rect x="1671.70" y="2386.63" width="44.55" height="15.67" fill="#F69E1E"/>
<rect x="1715.65" y="2386.63" width="44.55" height="15.67" fill="#EC6924"/>
<rect x="1759.60" y="2386.63" width="44.55" height="15.67" fill="#F69E1E"/>
<rect x="1803.55" y="2386.63" width="43.95" height="15.67" fill="#EC6924"/>
<rect x="1408.00" y="2401.70" width="44.55" height="15.67" fill="#D44545"/>
<rect x="1451.95" y="2401.70" width="44.55" height="15.67" fill="#4F236E"/>
<rect x="1495.90" y="2401.70" width="44.55" height="15.67" fill="#AA2D5F"/>
<rect x="1539.85" y="2401.70" width="44.55" height="15.67" fill="#D44545"/>
<rect x="1583.80" y="2401.70" width="44.55" height="15.67" fill="#4F236E"/>
<rect x="1627.75" y="2401.70" width="44.55" height="15.67" fill="#EC6924"/>
<rect x="1671.70" y="2401.70" width="44.55" height="15.67" fill="#AA2D5F"/>
<rect x="1715.65" y="2401.70" width="44.55" height="15.67" fill="#D44545"/>
<rect x="1759.60" y="2401.70" width="44.55" height="15.67" fill="#D44545"/>
<rect x="1803.55" y="2401.70" width="43.95" height="15.67" fill="#F6CA34"/>
<rect x="1408.00" y="2416.77" width="44.55" height="15.67" fill="#AA2D5F"/>
<rect x="1451.95" y="2416.77" width="44.55" height="15.67" fill="#7B2471"/>
<rect x="1495.90" y="2416.77" width="44.55" height="15.67" fill="#7B2471"/>
<rect x="1539.85" y="2416.77" width="44.55" height="15.67" fill="#7B2471"/>
<rect x="1583.80" y="2416.77" width="44.55" height="15.67" fill="#4F236E"/>
<rect x="1627.75" y="2416.77" width="44.55" height="15.67" fill="#F69E1E"/>
<rect x="1671.70" y="2416.77" width="44.55" height="15.67" fill="#AA2D5F"/>
<rect x="1715.65" y="2416.77" width="44.55" height="15.67" fill="#EC6924"/>
<rect x="1759.60" y="2416.77" width="44.55" height="15.67" fill="#EC6924"/>
<rect x="1803.55" y="2416.77" width="43.95" height="15.67" fill="#F6CA34"/>
<rect x="1408.00" y="2431.85" width="44.55" height="15.67" fill="#7B2471"/>
<rect x="1451.95" y="2431.85" width="44.55" height="15.67" fill="#AA2D5F"/>
<rect x="1495.90" y="2431.85" width="44.55" height="15.67" fill="#7B2471"/>
<rect x="1539.85" y="2431.85" width="44.55" height="15.67" fill="#7B2471"/>
<rect x="1583.80" y="2431.85" width="44.55" height="15.67" fill="#AA2D5F"/>
<rect x="1627.75" y="2431.85" width="44.55" height="15.67" fill="#AA2D5F"/>
<rect x="1671.70" y="2431.85" width="44.55" height="15.67" fill="#AA2D5F"/>
<rect x="1715.65" y="2431.85" width="44.55" height="15.67" fill="#AA2D5F"/>
<rect x="1759.60" y="2431.85" width="44.55" height="15.67" fill="#F6CA34"/>
<rect x="1803.55" y="2431.85" width="43.95" height="15.67" fill="#F6CA34"/>
<rect x="1408.00" y="2446.92" width="44.55" height="15.67" fill="#7B2471"/>
<rect x="1451.95" y="2446.92" width="44.55" height="15.67" fill="#AA2D5F"/>
<rect x="1495.90" y="2446.92" width="44.55" height="15.67" fill="#AA2D5F"/>
<rect x="1539.85" y="2446.92" width="44.55" height="15.67" fill="#7B2471"/>
<rect x="1583.80" y="2446.92" width="44.55" height="15.67" fill="#7B2471"/>
<rect x="1627.75" y="2446.92" width="44.55" height="15.67" fill="#AA2D5F"/>
<rect x="1671.70" y="2446.92" width="44.55" height="15.67" fill="#AA2D5F"/>
<rect x="1715.65" y="2446.92" width="44.55" height="15.67" fill="#7B2471"/>
<rect x="1759.60" y="2446.92" width="44.55" height="15.67" fill="#F69E1E"/>
<rect x="1803.55" y="2446.92" width="43.95" height="15.67" fill="#F7EE98"/>
<rect x="1408.00" y="2461.99" width="44.55" height="15.67" fill="#7B2471"/>
<rect x="1451.95" y="2461.99" width="44.55" height="15.67" fill="#AA2D5F"/>
<rect x="1495.90" y="2461.99" width="44.55" height="15.67" fill="#7B2471"/>
<rect x="1539.85" y="2461.99" width="44.55" height="15.67" fill="#7B2471"/>
<rect x="1583.80" y="2461.99" width="44.55" height="15.67" fill="#7B2471"/>
<rect x="1627.75" y="2461.99" width="44.55" height="15.67" fill="#D44545"/>
<rect x="1671.70" y="2461.99" width="44.55" height="15.67" fill="#7B2471"/>
<rect x="1715.65" y="2461.99" width="44.55" height="15.67" fill="#AA2D5F"/>
<rect x="1759.60" y="2461.99" width="44.55" height="15.67" fill="#F6CA34"/>
<rect x="1803.55" y="2461.99" width="43.95" height="15.67" fill="#F7EE98"/>
<rect x="1408.00" y="2477.06" width="44.55" height="15.67" fill="#AA2D5F"/>
<rect x="1451.95" y="2477.06" width="44.55" height="15.67" fill="#AA2D5F"/>
<rect x="1495.90" y="2477.06" width="44.55" height="15.67" fill="#7B2471"/>
<rect x="1539.85" y="2477.06" width="44.55" height="15.67" fill="#7B2471"/>
<rect x="1583.80" y="2477.06" width="44.55" height="15.67" fill="#AA2D5F"/>
<rect x="1627.75" y="2477.06" width="44.55" height="15.67" fill="#D44545"/>
<rect x="1671.70" y="2477.06" width="44.55" height="15.67" fill="#7B2471"/>
<rect x="1715.65" y="2477.06" width="44.55" height="15.67" fill="#AA2D5F"/>
<rect x="1759.60" y="2477.06" width="44.55" height="15.67" fill="#F6CA34"/>
<rect x="1803.55" y="2477.06" width="43.95" height="15.67" fill="#F7EE98"/>
<rect x="1408.00" y="2492.14" width="44.55" height="15.67" fill="#7B2471"/>
<rect x="1451.95" y="2492.14" width="44.55" height="15.67" fill="#7B2471"/>
<rect x="1495.90" y="2492.14" width="44.55" height="15.67" fill="#7B2471"/>
<rect x="1539.85" y="2492.14" width="44.55" height="15.67" fill="#7B2471"/>
<rect x="1583.80" y="2492.14" width="44.55" height="15.67" fill="#7B2471"/>
<rect x="1627.75" y="2492.14" width="44.55" height="15.67" fill="#EC6924"/>
<rect x="1671.70" y="2492.14" width="44.55" height="15.67" fill="#D44545"/>
<rect x="1715.65" y="2492.14" width="44.55" height="15.67" fill="#AA2D5F"/>
<rect x="1759.60" y="2492.14" width="44.55" height="15.67" fill="#F6CA34"/>
<rect x="1803.55" y="2492.14" width="43.95" height="15.67" fill="#F69E1E"/>
<rect x="1408.00" y="2507.21" width="44.55" height="15.67" fill="#AA2D5F"/>
<rect x="1451.95" y="2507.21" width="44.55" height="15.67" fill="#7B2471"/>
<rect x="1495.90" y="2507.21" width="44.55" height="15.67" fill="#7B2471"/>
<rect x="1539.85" y="2507.21" width="44.55" height="15.67" fill="#AA2D5F"/>
<rect x="1583.80" y="2507.21" width="44.55" height="15.67" fill="#7B2471"/>
<rect x="1627.75" y="2507.21" width="44.55" height="15.67" fill="#EC6924"/>
<rect x="1671.70" y="2507.21" width="44.55" height="15.67" fill="#AA2D5F"/>
<rect x="1715.65" y="2507.21" width="44.55" height="15.67" fill="#AA2D5F"/>
<rect x="1759.60" y="2507.21" width="44.55" height="15.67" fill="#F6CA34"/>
<rect x="1803.55" y="2507.21" width="43.95" height="15.67" fill="#F6CA34"/>
<rect x="1408.00" y="2522.28" width="44.55" height="15.67" fill="#7B2471"/>
<rect x="1451.95" y="2522.28" width="44.55" height="15.67" fill="#7B2471"/>
<rect x="1495.90" y="2522.28" width="44.55" height="15.67" fill="#7B2471"/>
<rect x="1539.85" y="2522.28" width="44.55" height="15.67" fill="#7B2471"/>
<rect x="1583.80" y="2522.28" width="44.55" height="15.67" fill="#7B2471"/>
<rect x="1627.75" y="2522.28" width="44.55" height="15.67" fill="#D44545"/>
<rect x="1671.70" y="2522.28" width="44.55" height="15.67" fill="#D44545"/>
<rect x="1715.65" y="2522.28" width="44.55" height="15.67" fill="#AA2D5F"/>
<rect x="1759.60" y="2522.28" width="44.55" height="15.67" fill="#EC6924"/>
<rect x="1803.55" y="2522.28" width="43.95" height="15.67" fill="#F7EE98"/>
<rect x="1408.00" y="2537.35" width="44.55" height="15.67" fill="#AA2D5F"/>
<rect x="1451.95" y="2537.35" width="44.55" height="15.67" fill="#7B2471"/>
<rect x="1495.90" y="2537.35" width="44.55" height="15.67" fill="#4F236E"/>
<rect x="1539.85" y="2537.35" width="44.55" height="15.67" fill="#AA2D5F"/>
<rect x="1583.80" y="2537.35" width="44.55" height="15.67" fill="#7B2471"/>
<rect x="1627.75" y="2537.35" width="44.55" height="15.67" fill="#D44545"/>
<rect x="1671.70" y="2537.35" width="44.55" height="15.67" fill="#D44545"/>
<rect x="1715.65" y="2537.35" width="44.55" height="15.67" fill="#AA2D5F"/>
<rect x="1759.60" y="2537.35" width="44.55" height="15.67" fill="#F69E1E"/>
<rect x="1803.55" y="2537.35" width="43.95" height="15.67" fill="#F7EE98"/>
<rect x="1408.00" y="2552.43" width="44.55" height="15.07" fill="#AA2D5F"/>
<rect x="1451.95" y="2552.43" width="44.55" height="15.07" fill="#7B2471"/>
<rect x="1495.90" y="2552.43" width="44.55" height="15.07" fill="#4F236E"/>
<rect x="1539.85" y="2552.43" width="44.55" height="15.07" fill="#7B2471"/>
<rect x="1583.80" y="2552.43" width="44.55" height="15.07" fill="#7B2471"/>
<rect x="1627.75" y="2552.43" width="44.55" height="15.07" fill="#D44545"/>
<rect x="1671.70" y="2552.43" width="44.55" height="15.07" fill="#D44545"/>
<rect x="1715.65" y="2552.43" width="44.55" height="15.07" fill="#AA2D5F"/>
<rect x="1759.60" y="2552.43" width="44.55" height="15.07" fill="#F69E1E"/>
<rect x="1803.55" y="2552.43" width="43.95" height="15.07" fill="#F7EE98"/>
<text x="1851.3" y="1644.8" font-size="12.7" fill="#111" stroke="#111" stroke-width="0.35">Pik3ca</text>
<text x="1851.3" y="1659.9" font-size="12.7" fill="#111" stroke="#111" stroke-width="0.35">Sos2</text>
<text x="1851.3" y="1675.0" font-size="12.7" fill="#111" stroke="#111" stroke-width="0.35">Plcg1</text>
<text x="1851.3" y="1690.1" font-size="12.7" fill="#111" stroke="#111" stroke-width="0.35">Shc1</text>
<text x="1851.3" y="1705.1" font-size="12.7" fill="#111" stroke="#111" stroke-width="0.35">Braf</text>
<text x="1851.3" y="1720.2" font-size="12.7" fill="#111" stroke="#111" stroke-width="0.35">Mill2</text>
<text x="1851.3" y="1735.3" font-size="12.7" fill="#111" stroke="#111" stroke-width="0.35">Pik3cb</text>
<text x="1851.3" y="1750.3" font-size="12.7" fill="#111" stroke="#111" stroke-width="0.35">Pik3r3</text>
<text x="1851.3" y="1765.4" font-size="12.7" fill="#111" stroke="#111" stroke-width="0.35">Ulbp1</text>
<text x="1851.3" y="1780.5" font-size="12.7" fill="#111" stroke="#111" stroke-width="0.35">Rac2</text>
<text x="1851.3" y="1795.6" font-size="12.7" fill="#111" stroke="#111" stroke-width="0.35">Syk</text>
<text x="1851.3" y="1810.6" font-size="12.7" fill="#111" stroke="#111" stroke-width="0.35">Cd244a</text>
<text x="1851.3" y="1825.7" font-size="12.7" fill="#111" stroke="#111" stroke-width="0.35">Vav1</text>
<text x="1851.3" y="1840.8" font-size="12.7" fill="#111" stroke="#111" stroke-width="0.35">Pik3cd</text>
<text x="1851.3" y="1855.9" font-size="12.7" fill="#111" stroke="#111" stroke-width="0.35">Lcp2</text>
<text x="1851.3" y="1870.9" font-size="12.7" fill="#111" stroke="#111" stroke-width="0.35">Pik3cg</text>
<text x="1851.3" y="1886.0" font-size="12.7" fill="#111" stroke="#111" stroke-width="0.35">Itgal</text>
<text x="1851.3" y="1901.1" font-size="12.7" fill="#111" stroke="#111" stroke-width="0.35">Itgb2</text>
<text x="1851.3" y="1916.1" font-size="12.7" fill="#111" stroke="#111" stroke-width="0.35">Ifnar2</text>
<text x="1851.3" y="1931.2" font-size="12.7" fill="#111" stroke="#111" stroke-width="0.35">Cd48</text>
<text x="1851.3" y="1946.3" font-size="12.7" fill="#111" stroke="#111" stroke-width="0.35">Tyrobp</text>
<text x="1851.3" y="1961.4" font-size="12.7" fill="#111" stroke="#111" stroke-width="0.35">Map2k1</text>
<text x="1851.3" y="1976.4" font-size="12.7" fill="#111" stroke="#111" stroke-width="0.35">Fcer1g</text>
<text x="1851.3" y="1991.5" font-size="12.7" fill="#111" stroke="#111" stroke-width="0.35">Ifngr2</text>
<text x="1851.3" y="2006.6" font-size="12.7" fill="#111" stroke="#111" stroke-width="0.35">Ppp3ca</text>
<text x="1851.3" y="2021.7" font-size="12.7" fill="#111" stroke="#111" stroke-width="0.35">Map2k2</text>
<text x="1851.3" y="2036.7" font-size="12.7" fill="#111" stroke="#111" stroke-width="0.35">Chp2</text>
<text x="1851.3" y="2051.8" font-size="12.7" fill="#111" stroke="#111" stroke-width="0.35">Icam1</text>
<text x="1851.3" y="2066.9" font-size="12.7" fill="#111" stroke="#111" stroke-width="0.35">Bid</text>
<text x="1851.3" y="2081.9" font-size="12.7" fill="#111" stroke="#111" stroke-width="0.35">Pik3r1</text>
<text x="1851.3" y="2097.0" font-size="12.7" fill="#111" stroke="#111" stroke-width="0.35">Nras</text>
<text x="1851.3" y="2112.1" font-size="12.7" fill="#111" stroke="#111" stroke-width="0.35">Klre1</text>
<text x="1851.3" y="2127.2" font-size="12.7" fill="#111" stroke="#111" stroke-width="0.35">Klri2</text>
<text x="1851.3" y="2142.2" font-size="12.7" fill="#111" stroke="#111" stroke-width="0.35">Cd247</text>
<text x="1851.3" y="2157.3" font-size="12.7" fill="#111" stroke="#111" stroke-width="0.35">Lck</text>
<text x="1851.3" y="2172.4" font-size="12.7" fill="#111" stroke="#111" stroke-width="0.35">Sh2d1a</text>
<text x="1851.3" y="2187.4" font-size="12.7" fill="#111" stroke="#111" stroke-width="0.35">Zap70</text>
<text x="1851.3" y="2202.5" font-size="12.7" fill="#111" stroke="#111" stroke-width="0.35">Lat</text>
<text x="1851.3" y="2217.6" font-size="12.7" fill="#111" stroke="#111" stroke-width="0.35">Hcst</text>
<text x="1851.3" y="2232.7" font-size="12.7" fill="#111" stroke="#111" stroke-width="0.35">Gzmb</text>
<text x="1851.3" y="2247.7" font-size="12.7" fill="#111" stroke="#111" stroke-width="0.35">Fasl</text>
<text x="1851.3" y="2262.8" font-size="12.7" fill="#111" stroke="#111" stroke-width="0.35">Klrd1</text>
<text x="1851.3" y="2277.9" font-size="12.7" fill="#111" stroke="#111" stroke-width="0.35">Klri1</text>
<text x="1851.3" y="2293.0" font-size="12.7" fill="#111" stroke="#111" stroke-width="0.35">Ifng</text>
<text x="1851.3" y="2308.0" font-size="12.7" fill="#111" stroke="#111" stroke-width="0.35">Klrk1</text>
<text x="1851.3" y="2323.1" font-size="12.7" fill="#111" stroke="#111" stroke-width="0.35">Ncr1</text>
<text x="1851.3" y="2338.2" font-size="12.7" fill="#111" stroke="#111" stroke-width="0.35">Fcgr4</text>
<text x="1851.3" y="2353.2" font-size="12.7" fill="#111" stroke="#111" stroke-width="0.35">Rac3</text>
<text x="1851.3" y="2368.3" font-size="12.7" fill="#111" stroke="#111" stroke-width="0.35">Shc4</text>
<text x="1851.3" y="2383.4" font-size="12.7" fill="#111" stroke="#111" stroke-width="0.35">Ptpn6</text>
<text x="1851.3" y="2398.5" font-size="12.7" fill="#111" stroke="#111" stroke-width="0.35">Sh2d1b1</text>
<text x="1851.3" y="2413.5" font-size="12.7" fill="#111" stroke="#111" stroke-width="0.35">Fas</text>
<text x="1851.3" y="2428.6" font-size="12.7" fill="#111" stroke="#111" stroke-width="0.35">Ifngr1</text>
<text x="1851.3" y="2443.7" font-size="12.7" fill="#111" stroke="#111" stroke-width="0.35">Gzmc</text>
<text x="1851.3" y="2458.8" font-size="12.7" fill="#111" stroke="#111" stroke-width="0.35">Gzmd</text>
<text x="1851.3" y="2473.8" font-size="12.7" fill="#111" stroke="#111" stroke-width="0.35">Gzmf</text>
<text x="1851.3" y="2488.9" font-size="12.7" fill="#111" stroke="#111" stroke-width="0.35">Gzmg</text>
<text x="1851.3" y="2504.0" font-size="12.7" fill="#111" stroke="#111" stroke-width="0.35">Prf1</text>
<text x="1851.3" y="2519.0" font-size="12.7" fill="#111" stroke="#111" stroke-width="0.35">Sh3bp2</text>
<text x="1851.3" y="2534.1" font-size="12.7" fill="#111" stroke="#111" stroke-width="0.35">Pik3r5</text>
<text x="1851.3" y="2549.2" font-size="12.7" fill="#111" stroke="#111" stroke-width="0.35">Nfatc2</text>
<text x="1851.3" y="2564.3" font-size="12.7" fill="#111" stroke="#111" stroke-width="0.35">Prkcb</text>
<rect x="1910.6" y="1632.70" width="12.6" height="19.33" fill="#F7EE98"/>
<rect x="1910.6" y="1651.63" width="12.6" height="19.33" fill="#F6CA34"/>
<rect x="1910.6" y="1670.56" width="12.6" height="19.33" fill="#F69E1E"/>
<rect x="1910.6" y="1689.49" width="12.6" height="19.33" fill="#EC6924"/>
<rect x="1910.6" y="1708.42" width="12.6" height="19.33" fill="#D44545"/>
<rect x="1910.6" y="1727.35" width="12.6" height="19.33" fill="#AA2D5F"/>
<rect x="1910.6" y="1746.28" width="12.6" height="19.33" fill="#7B2471"/>
<rect x="1910.6" y="1765.21" width="12.6" height="19.33" fill="#4F236E"/>
<rect x="1910.6" y="1784.14" width="12.6" height="19.33" fill="#1F1045"/>
<rect x="1910.6" y="1803.07" width="12.6" height="19.33" fill="#060608"/>
<text x="1928.5" y="1656.9" font-size="12" fill="#111" stroke="#111" stroke-width="0.35">2</text>
<text x="1928.5" y="1694.3" font-size="12" fill="#111" stroke="#111" stroke-width="0.35">1</text>
<text x="1928.5" y="1732.3" font-size="12" fill="#111" stroke="#111" stroke-width="0.35">0</text>
<text x="1928.5" y="1769.8" font-size="12" fill="#111" stroke="#111" stroke-width="0.35">−1</text>
<text x="1928.5" y="1808.2" font-size="12" fill="#111" stroke="#111" stroke-width="0.35">−2</text>
<text x="1431.7" y="2604.0" font-size="35.9" fill="#000" stroke="#000" stroke-width="0.6">Brca1<tspan font-size="21.2" dy="-12.2">null</tspan></text>
<text x="1692.3" y="2604.0" font-size="35.9" fill="#000" stroke="#000" stroke-width="0.6">Brca2<tspan font-size="21.2" dy="-12.2">null</tspan></text>
<text x="1.0" y="2095.8" font-size="55" font-weight="700" fill="#1a1a1a" stroke="#1a1a1a" stroke-width="1.3">i</text>
<rect x="112.3" y="2133.1" width="293.2" height="476.9" fill="#F6F8EC"/>
<rect x="112.90" y="2133.70" width="31.38" height="26.85" fill="#DF2A26"/>
<rect x="145.48" y="2133.70" width="31.38" height="26.85" fill="#FBEEA8"/>
<rect x="178.06" y="2133.70" width="31.38" height="26.85" fill="#FBEEA8"/>
<rect x="210.63" y="2133.70" width="31.38" height="26.85" fill="#E9F1E3"/>
<rect x="243.21" y="2133.70" width="31.38" height="26.85" fill="#E9F1E3"/>
<rect x="275.79" y="2133.70" width="31.38" height="26.85" fill="#E9F1E3"/>
<rect x="308.37" y="2133.70" width="31.38" height="26.85" fill="#E9F1E3"/>
<rect x="340.94" y="2133.70" width="31.38" height="26.85" fill="#FBEEA8"/>
<rect x="373.52" y="2133.70" width="31.38" height="26.85" fill="#E9F1E3"/>
<rect x="112.90" y="2161.75" width="31.38" height="26.85" fill="#FCCF80"/>
<rect x="145.48" y="2161.75" width="31.38" height="26.85" fill="#EE6A3E"/>
<rect x="178.06" y="2161.75" width="31.38" height="26.85" fill="#F7A45C"/>
<rect x="210.63" y="2161.75" width="31.38" height="26.85" fill="#E9F1E3"/>
<rect x="243.21" y="2161.75" width="31.38" height="26.85" fill="#E9F1E3"/>
<rect x="275.79" y="2161.75" width="31.38" height="26.85" fill="#E9F1E3"/>
<rect x="308.37" y="2161.75" width="31.38" height="26.85" fill="#E9F1E3"/>
<rect x="340.94" y="2161.75" width="31.38" height="26.85" fill="#E9F1E3"/>
<rect x="373.52" y="2161.75" width="31.38" height="26.85" fill="#E9F1E3"/>
<rect x="112.90" y="2189.81" width="31.38" height="26.85" fill="#FABA6E"/>
<rect x="145.48" y="2189.81" width="31.38" height="26.85" fill="#F7A45C"/>
<rect x="178.06" y="2189.81" width="31.38" height="26.85" fill="#F2874D"/>
<rect x="210.63" y="2189.81" width="31.38" height="26.85" fill="#C9E2EE"/>
<rect x="243.21" y="2189.81" width="31.38" height="26.85" fill="#F0F0CB"/>
<rect x="275.79" y="2189.81" width="31.38" height="26.85" fill="#E9F1E3"/>
<rect x="308.37" y="2189.81" width="31.38" height="26.85" fill="#E9F1E3"/>
<rect x="340.94" y="2189.81" width="31.38" height="26.85" fill="#F0F0CB"/>
<rect x="373.52" y="2189.81" width="31.38" height="26.85" fill="#E9F1E3"/>
<rect x="112.90" y="2217.86" width="31.38" height="26.85" fill="#FABA6E"/>
<rect x="145.48" y="2217.86" width="31.38" height="26.85" fill="#FCCF80"/>
<rect x="178.06" y="2217.86" width="31.38" height="26.85" fill="#EE6A3E"/>
<rect x="210.63" y="2217.86" width="31.38" height="26.85" fill="#E9F1E3"/>
<rect x="243.21" y="2217.86" width="31.38" height="26.85" fill="#E9F1E3"/>
<rect x="275.79" y="2217.86" width="31.38" height="26.85" fill="#E9F1E3"/>
<rect x="308.37" y="2217.86" width="31.38" height="26.85" fill="#E9F1E3"/>
<rect x="340.94" y="2217.86" width="31.38" height="26.85" fill="#E9F1E3"/>
<rect x="373.52" y="2217.86" width="31.38" height="26.85" fill="#E9F1E3"/>
<rect x="112.90" y="2245.91" width="31.38" height="26.85" fill="#FCDB90"/>
<rect x="145.48" y="2245.91" width="31.38" height="26.85" fill="#F2874D"/>
<rect x="178.06" y="2245.91" width="31.38" height="26.85" fill="#EE6A3E"/>
<rect x="210.63" y="2245.91" width="31.38" height="26.85" fill="#E9F1E3"/>
<rect x="243.21" y="2245.91" width="31.38" height="26.85" fill="#E9F1E3"/>
<rect x="275.79" y="2245.91" width="31.38" height="26.85" fill="#E9F1E3"/>
<rect x="308.37" y="2245.91" width="31.38" height="26.85" fill="#E9F1E3"/>
<rect x="340.94" y="2245.91" width="31.38" height="26.85" fill="#E9F1E3"/>
<rect x="373.52" y="2245.91" width="31.38" height="26.85" fill="#E9F1E3"/>
<rect x="112.90" y="2273.96" width="31.38" height="26.85" fill="#F2874D"/>
<rect x="145.48" y="2273.96" width="31.38" height="26.85" fill="#FCCF80"/>
<rect x="178.06" y="2273.96" width="31.38" height="26.85" fill="#F7A45C"/>
<rect x="210.63" y="2273.96" width="31.38" height="26.85" fill="#E9F1E3"/>
<rect x="243.21" y="2273.96" width="31.38" height="26.85" fill="#E9F1E3"/>
<rect x="275.79" y="2273.96" width="31.38" height="26.85" fill="#FBEEA8"/>
<rect x="308.37" y="2273.96" width="31.38" height="26.85" fill="#D6E8EA"/>
<rect x="340.94" y="2273.96" width="31.38" height="26.85" fill="#C9E2EE"/>
<rect x="373.52" y="2273.96" width="31.38" height="26.85" fill="#D6E8EA"/>
<rect x="112.90" y="2302.02" width="31.38" height="26.85" fill="#EE6A3E"/>
<rect x="145.48" y="2302.02" width="31.38" height="26.85" fill="#FCCF80"/>
<rect x="178.06" y="2302.02" width="31.38" height="26.85" fill="#FABA6E"/>
<rect x="210.63" y="2302.02" width="31.38" height="26.85" fill="#D9EAE8"/>
<rect x="243.21" y="2302.02" width="31.38" height="26.85" fill="#D9EAE8"/>
<rect x="275.79" y="2302.02" width="31.38" height="26.85" fill="#D9EAE8"/>
<rect x="308.37" y="2302.02" width="31.38" height="26.85" fill="#F0F0CB"/>
<rect x="340.94" y="2302.02" width="31.38" height="26.85" fill="#DFECE6"/>
<rect x="373.52" y="2302.02" width="31.38" height="26.85" fill="#E9F1E3"/>
<rect x="112.90" y="2330.07" width="31.38" height="26.85" fill="#E9F1E3"/>
<rect x="145.48" y="2330.07" width="31.38" height="26.85" fill="#DFECE6"/>
<rect x="178.06" y="2330.07" width="31.38" height="26.85" fill="#AED2E6"/>
<rect x="210.63" y="2330.07" width="31.38" height="26.85" fill="#F7A45C"/>
<rect x="243.21" y="2330.07" width="31.38" height="26.85" fill="#F7A45C"/>
<rect x="275.79" y="2330.07" width="31.38" height="26.85" fill="#FABA6E"/>
<rect x="308.37" y="2330.07" width="31.38" height="26.85" fill="#E9F1E3"/>
<rect x="340.94" y="2330.07" width="31.38" height="26.85" fill="#E9F1E3"/>
<rect x="373.52" y="2330.07" width="31.38" height="26.85" fill="#FBEEA8"/>
<rect x="112.90" y="2358.12" width="31.38" height="26.85" fill="#D9EAE8"/>
<rect x="145.48" y="2358.12" width="31.38" height="26.85" fill="#C9E2EE"/>
<rect x="178.06" y="2358.12" width="31.38" height="26.85" fill="#E9F1E3"/>
<rect x="210.63" y="2358.12" width="31.38" height="26.85" fill="#EE6A3E"/>
<rect x="243.21" y="2358.12" width="31.38" height="26.85" fill="#FCCF80"/>
<rect x="275.79" y="2358.12" width="31.38" height="26.85" fill="#FABA6E"/>
<rect x="308.37" y="2358.12" width="31.38" height="26.85" fill="#E9F1E3"/>
<rect x="340.94" y="2358.12" width="31.38" height="26.85" fill="#E9F1E3"/>
<rect x="373.52" y="2358.12" width="31.38" height="26.85" fill="#E9F1E3"/>
<rect x="112.90" y="2386.18" width="31.38" height="26.85" fill="#E9F1E3"/>
<rect x="145.48" y="2386.18" width="31.38" height="26.85" fill="#E9F1E3"/>
<rect x="178.06" y="2386.18" width="31.38" height="26.85" fill="#E9F1E3"/>
<rect x="210.63" y="2386.18" width="31.38" height="26.85" fill="#EE6A3E"/>
<rect x="243.21" y="2386.18" width="31.38" height="26.85" fill="#FABA6E"/>
<rect x="275.79" y="2386.18" width="31.38" height="26.85" fill="#FCCF80"/>
<rect x="308.37" y="2386.18" width="31.38" height="26.85" fill="#E3EEE5"/>
<rect x="340.94" y="2386.18" width="31.38" height="26.85" fill="#E3EEE5"/>
<rect x="373.52" y="2386.18" width="31.38" height="26.85" fill="#E9F1E3"/>
<rect x="112.90" y="2414.23" width="31.38" height="26.85" fill="#E9F1E3"/>
<rect x="145.48" y="2414.23" width="31.38" height="26.85" fill="#DFECE6"/>
<rect x="178.06" y="2414.23" width="31.38" height="26.85" fill="#E9F1E3"/>
<rect x="210.63" y="2414.23" width="31.38" height="26.85" fill="#F7A45C"/>
<rect x="243.21" y="2414.23" width="31.38" height="26.85" fill="#F7A45C"/>
<rect x="275.79" y="2414.23" width="31.38" height="26.85" fill="#F2874D"/>
<rect x="308.37" y="2414.23" width="31.38" height="26.85" fill="#DFECE6"/>
<rect x="340.94" y="2414.23" width="31.38" height="26.85" fill="#E9F1E3"/>
<rect x="373.52" y="2414.23" width="31.38" height="26.85" fill="#E9F1E3"/>
<rect x="112.90" y="2442.28" width="31.38" height="26.85" fill="#DFECE6"/>
<rect x="145.48" y="2442.28" width="31.38" height="26.85" fill="#D9EAE8"/>
<rect x="178.06" y="2442.28" width="31.38" height="26.85" fill="#D9EAE8"/>
<rect x="210.63" y="2442.28" width="31.38" height="26.85" fill="#F0F0CB"/>
<rect x="243.21" y="2442.28" width="31.38" height="26.85" fill="#F0F0CB"/>
<rect x="275.79" y="2442.28" width="31.38" height="26.85" fill="#F4EFC0"/>
<rect x="308.37" y="2442.28" width="31.38" height="26.85" fill="#E9F1E3"/>
<rect x="340.94" y="2442.28" width="31.38" height="26.85" fill="#F7A45C"/>
<rect x="373.52" y="2442.28" width="31.38" height="26.85" fill="#E64A32"/>
<rect x="112.90" y="2470.34" width="31.38" height="26.85" fill="#C9E2EE"/>
<rect x="145.48" y="2470.34" width="31.38" height="26.85" fill="#E3EEE5"/>
<rect x="178.06" y="2470.34" width="31.38" height="26.85" fill="#92C2DE"/>
<rect x="210.63" y="2470.34" width="31.38" height="26.85" fill="#FCDB90"/>
<rect x="243.21" y="2470.34" width="31.38" height="26.85" fill="#FCDB90"/>
<rect x="275.79" y="2470.34" width="31.38" height="26.85" fill="#FBEEA8"/>
<rect x="308.37" y="2470.34" width="31.38" height="26.85" fill="#F7A45C"/>
<rect x="340.94" y="2470.34" width="31.38" height="26.85" fill="#FABA6E"/>
<rect x="373.52" y="2470.34" width="31.38" height="26.85" fill="#FBEEA8"/>
<rect x="112.90" y="2498.39" width="31.38" height="26.85" fill="#E9F1E3"/>
<rect x="145.48" y="2498.39" width="31.38" height="26.85" fill="#E3EEE5"/>
<rect x="178.06" y="2498.39" width="31.38" height="26.85" fill="#78AED5"/>
<rect x="210.63" y="2498.39" width="31.38" height="26.85" fill="#FBEEA8"/>
<rect x="243.21" y="2498.39" width="31.38" height="26.85" fill="#FCDB90"/>
<rect x="275.79" y="2498.39" width="31.38" height="26.85" fill="#FBEEA8"/>
<rect x="308.37" y="2498.39" width="31.38" height="26.85" fill="#EE6A3E"/>
<rect x="340.94" y="2498.39" width="31.38" height="26.85" fill="#FCDB90"/>
<rect x="373.52" y="2498.39" width="31.38" height="26.85" fill="#FBEEA8"/>
<rect x="112.90" y="2526.44" width="31.38" height="26.85" fill="#C9E2EE"/>
<rect x="145.48" y="2526.44" width="31.38" height="26.85" fill="#C9E2EE"/>
<rect x="178.06" y="2526.44" width="31.38" height="26.85" fill="#AED2E6"/>
<rect x="210.63" y="2526.44" width="31.38" height="26.85" fill="#FBC679"/>
<rect x="243.21" y="2526.44" width="31.38" height="26.85" fill="#FBEEA8"/>
<rect x="275.79" y="2526.44" width="31.38" height="26.85" fill="#FBEEA8"/>
<rect x="308.37" y="2526.44" width="31.38" height="26.85" fill="#F0F0CB"/>
<rect x="340.94" y="2526.44" width="31.38" height="26.85" fill="#FCCF80"/>
<rect x="373.52" y="2526.44" width="31.38" height="26.85" fill="#F8AD63"/>
<rect x="112.90" y="2554.49" width="31.38" height="26.85" fill="#C9E2EE"/>
<rect x="145.48" y="2554.49" width="31.38" height="26.85" fill="#C9E2EE"/>
<rect x="178.06" y="2554.49" width="31.38" height="26.85" fill="#92C2DE"/>
<rect x="210.63" y="2554.49" width="31.38" height="26.85" fill="#FABA6E"/>
<rect x="243.21" y="2554.49" width="31.38" height="26.85" fill="#FABA6E"/>
<rect x="275.79" y="2554.49" width="31.38" height="26.85" fill="#FCCF80"/>
<rect x="308.37" y="2554.49" width="31.38" height="26.85" fill="#FBEEA8"/>
<rect x="340.94" y="2554.49" width="31.38" height="26.85" fill="#FCDB90"/>
<rect x="373.52" y="2554.49" width="31.38" height="26.85" fill="#FCCF80"/>
<rect x="112.90" y="2582.55" width="31.38" height="26.85" fill="#AED2E6"/>
<rect x="145.48" y="2582.55" width="31.38" height="26.85" fill="#AED2E6"/>
<rect x="178.06" y="2582.55" width="31.38" height="26.85" fill="#C9E2EE"/>
<rect x="210.63" y="2582.55" width="31.38" height="26.85" fill="#FBC679"/>
<rect x="243.21" y="2582.55" width="31.38" height="26.85" fill="#FCCF80"/>
<rect x="275.79" y="2582.55" width="31.38" height="26.85" fill="#FCCF80"/>
<rect x="308.37" y="2582.55" width="31.38" height="26.85" fill="#FCCF80"/>
<rect x="340.94" y="2582.55" width="31.38" height="26.85" fill="#FCDB90"/>
<rect x="373.52" y="2582.55" width="31.38" height="26.85" fill="#FBEEA8"/>
<text x="409.0" y="2151.4" font-size="12.4" fill="#444" stroke="#444" stroke-width="0.35">Wnt5a</text>
<text x="409.0" y="2179.5" font-size="12.4" fill="#444" stroke="#444" stroke-width="0.35">Il33</text>
<text x="409.0" y="2207.5" font-size="12.4" fill="#444" stroke="#444" stroke-width="0.35">Mafb</text>
<text x="409.0" y="2235.6" font-size="12.4" fill="#444" stroke="#444" stroke-width="0.35">Tmem98</text>
<text x="409.0" y="2263.6" font-size="12.4" fill="#444" stroke="#444" stroke-width="0.35">Adora1</text>
<text x="409.0" y="2291.7" font-size="12.4" fill="#444" stroke="#444" stroke-width="0.35">Klf2</text>
<text x="409.0" y="2319.7" font-size="12.4" fill="#444" stroke="#444" stroke-width="0.35">Clec5a</text>
<text x="409.0" y="2347.8" font-size="12.4" fill="#444" stroke="#444" stroke-width="0.35">Tgfbr1</text>
<text x="409.0" y="2375.9" font-size="12.4" fill="#444" stroke="#444" stroke-width="0.35">Arg1</text>
<text x="409.0" y="2403.9" font-size="12.4" fill="#444" stroke="#444" stroke-width="0.35">Cd55</text>
<text x="409.0" y="2432.0" font-size="12.4" fill="#444" stroke="#444" stroke-width="0.35">Cxcl5</text>
<text x="409.0" y="2460.0" font-size="12.4" fill="#444" stroke="#444" stroke-width="0.35">Hmgb1</text>
<text x="409.0" y="2488.1" font-size="12.4" fill="#444" stroke="#444" stroke-width="0.35">Cd276</text>
<text x="409.0" y="2516.1" font-size="12.4" fill="#444" stroke="#444" stroke-width="0.35">Tgfbr2</text>
<text x="409.0" y="2544.2" font-size="12.4" fill="#444" stroke="#444" stroke-width="0.35">Tgfb2</text>
<text x="409.0" y="2572.2" font-size="12.4" fill="#444" stroke="#444" stroke-width="0.35">Braf</text>
<text x="409.0" y="2600.3" font-size="12.4" fill="#444" stroke="#444" stroke-width="0.35">Bcl3</text>
<defs><linearGradient id="ig" x1="0" y1="0" x2="0" y2="1"><stop offset="0" stop-color="#DE2A26"/><stop offset="0.2" stop-color="#F4874E"/><stop offset="0.38" stop-color="#FDDB8A"/><stop offset="0.5" stop-color="#F8F7CF"/><stop offset="0.65" stop-color="#CFE7F0"/><stop offset="0.82" stop-color="#87BDDC"/><stop offset="1" stop-color="#3F7FBF"/></linearGradient></defs>
<rect x="464.6" y="2133.1" width="11.6" height="176.8" fill="url(#ig)"/>
<text x="481.5" y="2157.2" font-size="11.5" fill="#444" stroke="#444" stroke-width="0.35">2</text>
<text x="481.5" y="2191.4" font-size="11.5" fill="#444" stroke="#444" stroke-width="0.35">1</text>
<text x="481.5" y="2225.3" font-size="11.5" fill="#444" stroke="#444" stroke-width="0.35">0</text>
<text x="481.5" y="2260.2" font-size="11.5" fill="#444" stroke="#444" stroke-width="0.35">-1</text>
<text x="481.5" y="2295.1" font-size="11.5" fill="#444" stroke="#444" stroke-width="0.35">-2</text>
<path d="M161.2,2131.5 V2116.8 H193.7 V2131.5" stroke="#7A7A7A" stroke-width="1.3" fill="none"/>
<path d="M128.6,2131.5 V2108.3 H177.5 V2116.8" stroke="#7A7A7A" stroke-width="1.3" fill="none"/>
<path d="M258.9,2131.5 V2125.6 H291.5 V2131.5" stroke="#7A7A7A" stroke-width="1.3" fill="none"/>
<path d="M226.3,2131.5 V2122.2 H275.2 V2125.6" stroke="#7A7A7A" stroke-width="1.3" fill="none"/>
<path d="M356.6,2131.5 V2122.2 H389.2 V2131.5" stroke="#7A7A7A" stroke-width="1.3" fill="none"/>
<path d="M324.1,2131.5 V2110.4 H372.9 V2122.2" stroke="#7A7A7A" stroke-width="1.3" fill="none"/>
<path d="M250.8,2122.2 V2100.1 H348.5 V2110.4" stroke="#7A7A7A" stroke-width="1.3" fill="none"/>
<path d="M153.0,2108.3 V2069.0 H299.6 V2100.1" stroke="#7A7A7A" stroke-width="1.3" fill="none"/>
<path d="M111.5,2231.3 H107.3 V2259.3 H111.5" stroke="#7A7A7A" stroke-width="1.3" fill="none"/>
<path d="M111.5,2203.2 H105.0 V2245.3 H107.3" stroke="#7A7A7A" stroke-width="1.3" fill="none"/>
<path d="M111.5,2175.2 H101.7 V2224.3 H105.0" stroke="#7A7A7A" stroke-width="1.3" fill="none"/>
<path d="M111.5,2287.4 H98.8 V2315.4 H111.5" stroke="#7A7A7A" stroke-width="1.3" fill="none"/>
<path d="M101.7,2199.7 H96.0 V2301.4 H98.8" stroke="#7A7A7A" stroke-width="1.3" fill="none"/>
<path d="M111.5,2147.1 H78.1 V2250.6 H96.0" stroke="#7A7A7A" stroke-width="1.3" fill="none"/>
<path d="M111.5,2399.6 H102.8 V2427.7 H111.5" stroke="#7A7A7A" stroke-width="1.3" fill="none"/>
<path d="M111.5,2371.6 H100.6 V2413.6 H102.8" stroke="#7A7A7A" stroke-width="1.3" fill="none"/>
<path d="M111.5,2343.5 H98.8 V2392.6 H100.6" stroke="#7A7A7A" stroke-width="1.3" fill="none"/>
<path d="M111.5,2483.8 H100.1 V2511.8 H111.5" stroke="#7A7A7A" stroke-width="1.3" fill="none"/>
<path d="M111.5,2567.9 H100.6 V2596.0 H111.5" stroke="#7A7A7A" stroke-width="1.3" fill="none"/>
<path d="M111.5,2539.9 H95.0 V2581.9 H100.6" stroke="#7A7A7A" stroke-width="1.3" fill="none"/>
<path d="M100.1,2497.8 H86.0 V2560.9 H95.0" stroke="#7A7A7A" stroke-width="1.3" fill="none"/>
<path d="M111.5,2455.7 H79.9 V2529.3 H86.0" stroke="#7A7A7A" stroke-width="1.3" fill="none"/>
<path d="M98.8,2368.0 H66.9 V2492.5 H79.9" stroke="#7A7A7A" stroke-width="1.3" fill="none"/>
<path d="M78.1,2198.8 H50.1 V2430.3 H66.9" stroke="#7A7A7A" stroke-width="1.3" fill="none"/>
<rect x="114.7" y="2612.3" width="80.7" height="4.3" fill="#1a1a1a"/>
<rect x="211.7" y="2612.3" width="80.8" height="4.3" fill="#1a1a1a"/>
<rect x="312.4" y="2612.3" width="80.8" height="4.3" fill="#1a1a1a"/>
<text x="113.6" y="2640.5" font-size="25.4" fill="#000" stroke="#000" stroke-width="0.6">Brca2<tspan font-size="15.0" dy="-8.8">null</tspan></text>
<text x="209.6" y="2640.5" font-size="25.4" fill="#000" stroke="#000" stroke-width="0.6">Brca1<tspan font-size="15.0" dy="-8.8">null</tspan></text>
<text x="310.6" y="2640.5" font-size="25.4" fill="#000" stroke="#000" stroke-width="0.6">Brca1<tspan font-size="15.0" dy="-8.8">null</tspan></text>
<text x="113.8" y="2669.8" font-size="25.0" fill="#1a1a1a" stroke="#1a1a1a" stroke-width="0.6">clone 1</text>
<text x="210.0" y="2669.8" font-size="25.0" fill="#1a1a1a" stroke="#1a1a1a" stroke-width="0.6">clone 1</text>
<text x="311.0" y="2669.8" font-size="25.0" fill="#1a1a1a" stroke="#1a1a1a" stroke-width="0.6">clone 2</text>
</svg>
</body></html>
